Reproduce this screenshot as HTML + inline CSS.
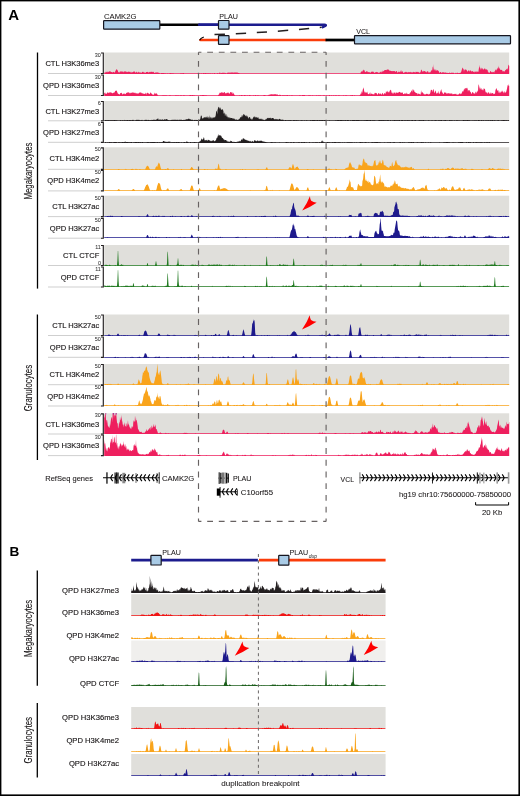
<!DOCTYPE html><html><head><meta charset="utf-8"><style>html,body{margin:0;padding:0;background:#fff;}svg{display:block;will-change:transform;}</style></head><body>
<svg width="520" height="796" viewBox="0 0 520 796">
<rect x="0" y="0" width="520" height="796" fill="#fff"/>
<text x="8.3" y="20.3" font-family="'Liberation Sans', sans-serif" font-size="15" font-weight="bold" fill="#000">A</text>
<text x="9.4" y="555.9" font-family="'Liberation Sans', sans-serif" font-size="13.6" font-weight="bold" fill="#000">B</text>
<text x="104.00" y="18.60" font-family="'Liberation Sans', sans-serif" font-size="7.00" text-anchor="start" fill="#1a1718" textLength="32.5" lengthAdjust="spacingAndGlyphs"  stroke="#1a1718" stroke-width="0.04">CAMK2G</text>
<text x="219.30" y="19.20" font-family="'Liberation Sans', sans-serif" font-size="7.00" text-anchor="start" fill="#1a1718" textLength="18.7" lengthAdjust="spacingAndGlyphs"  stroke="#1a1718" stroke-width="0.04">PLAU</text>
<text x="356.20" y="34.30" font-family="'Liberation Sans', sans-serif" font-size="7.00" text-anchor="start" fill="#1a1718" textLength="13.8" lengthAdjust="spacingAndGlyphs"  stroke="#1a1718" stroke-width="0.04">VCL</text>
<line x1="160" y1="24.7" x2="199.5" y2="24.7" stroke="#000" stroke-width="2.6"/>
<path d="M199,24.7 L324.5,24.7 Q326.5,24.7 325.5,25.8 L322.6,27.3" fill="none" stroke="#1c1c8e" stroke-width="2.4" stroke-linecap="round"/>
<line x1="199" y1="24.7" x2="218" y2="24.7" stroke="#1c1c8e" stroke-width="2.6"/>
<line x1="200.5" y1="40" x2="326" y2="40" stroke="#fa3c0a" stroke-width="2.7" stroke-linecap="round"/>
<line x1="325.5" y1="40" x2="354.5" y2="40" stroke="#000" stroke-width="2.7"/>
<path d="M199.6,40.3 Q200.5,38 203.8,36.9" fill="none" stroke="#000" stroke-width="1.1"/>
<path d="M214.5,34.6 Q270,32.6 321.5,27.3" fill="none" stroke="#231f20" stroke-width="1.5" stroke-dasharray="10.3 10.8"/>
<rect x="103.60" y="20.60" width="56.20" height="8.60" rx="0.6" fill="#a9cbe6" stroke="#15151f" stroke-width="1.2"/>
<rect x="218.50" y="20.50" width="10.50" height="8.60" rx="0.6" fill="#a9cbe6" stroke="#15151f" stroke-width="1.2"/>
<rect x="218.50" y="35.70" width="10.50" height="8.60" rx="0.6" fill="#a9cbe6" stroke="#15151f" stroke-width="1.2"/>
<rect x="354.50" y="35.70" width="156.00" height="8.15" rx="0.6" fill="#a9cbe6" stroke="#15151f" stroke-width="1.2"/>
<rect x="104.2" y="52.5" width="405.0" height="21.0" fill="#e0dfdb"/>
<path d="M104.2,74.0L104.2,72.17L104.7,72.79L105.2,72.91L105.7,71.48L106.2,72.47L106.7,71.48L107.2,72.39L107.7,71.49L108.2,71.55L108.7,72.16L109.2,71.49L109.7,71.22L110.2,71.20L110.7,71.75L111.2,72.05L111.7,71.96L112.2,72.58L112.7,72.36L113.2,71.99L113.7,71.64L114.2,72.68L114.7,72.30L115.2,71.52L115.7,70.53L116.2,69.25L116.7,69.46L117.2,69.69L117.7,70.55L118.2,72.01L118.7,72.33L119.2,72.82L119.7,71.83L120.2,71.54L120.7,71.54L121.2,71.54L121.7,71.55L122.2,71.55L122.7,71.55L123.2,72.39L123.7,71.55L124.2,71.66L124.7,71.21L125.2,71.13L125.7,71.49L126.2,72.30L126.7,71.57L127.2,71.78L127.7,72.34L128.2,71.61L128.7,71.85L129.2,72.10L129.7,71.58L130.2,72.79L130.7,71.58L131.2,72.88L131.7,71.64L132.2,71.88L132.7,72.39L133.2,71.59L133.7,71.73L134.2,71.60L134.7,71.60L135.2,72.20L135.7,72.76L136.2,72.18L136.7,71.61L137.2,72.60L137.7,72.76L138.2,71.62L138.7,72.17L139.2,72.65L139.7,71.96L140.2,72.76L140.7,72.22L141.2,72.91L141.7,72.52L142.2,71.88L142.7,71.66L143.2,71.76L143.7,72.60L144.2,72.32L144.7,72.76L145.2,73.06L145.7,72.56L146.2,72.11L146.7,71.90L147.2,71.95L147.7,71.66L148.2,72.47L148.7,72.59L149.2,71.86L149.7,72.15L150.2,72.32L150.7,71.87L151.2,71.67L151.7,71.74L152.2,72.17L152.7,71.68L153.2,71.68L153.7,72.03L154.2,72.88L154.7,73.03L155.2,71.69L155.7,73.14L156.2,72.23L156.7,72.55L157.2,72.76L157.7,71.78L158.0,73.05L158.2,72.86L158.7,72.43L159.2,73.24L159.7,72.87L160.0,73.24L160.2,73.25L160.7,73.25L161.2,73.08L161.7,73.08L162.2,73.08L162.7,73.08L163.2,73.08L163.7,73.08L164.2,73.08L164.7,73.25L165.2,73.08L165.7,73.25L166.2,73.25L166.7,73.15L167.2,73.08L167.7,73.25L168.2,73.25L168.7,73.25L169.2,73.08L169.7,73.16L170.2,73.09L170.7,73.08L171.2,73.25L171.7,73.08L172.2,73.08L172.7,73.25L173.2,73.08L173.7,73.25L174.2,73.25L174.7,73.25L175.2,73.25L175.7,73.21L176.2,73.25L176.7,73.25L177.2,73.25L177.7,73.25L178.2,73.18L178.7,73.25L179.2,73.25L179.7,73.25L180.2,73.15L180.7,73.08L181.2,73.13L181.7,73.11L182.2,73.25L182.7,73.08L183.2,73.08L183.7,73.10L184.2,73.25L184.7,73.25L185.2,73.25L185.7,73.21L186.2,73.23L186.7,73.25L187.2,73.25L187.7,73.25L188.2,73.25L188.7,73.24L189.2,73.25L189.7,73.25L190.2,73.21L190.7,73.25L191.2,73.20L191.7,73.25L192.2,73.25L192.7,73.24L193.2,73.25L193.7,73.25L194.2,73.25L194.7,73.25L195.2,73.25L195.7,73.25L196.2,73.15L196.7,73.25L197.2,73.08L197.7,73.25L198.2,73.25L198.7,73.25L199.2,73.25L199.7,73.11L200.2,73.18L200.7,73.25L201.2,73.08L201.7,73.24L202.2,73.25L202.7,73.25L203.2,73.08L203.7,73.08L204.2,73.25L204.7,73.08L205.2,73.08L205.7,73.08L206.2,73.08L206.7,73.25L207.2,73.09L207.7,73.15L208.2,73.10L208.7,73.25L209.2,73.08L209.7,73.22L210.2,73.25L210.7,73.08L211.2,73.15L211.7,73.20L212.2,73.08L212.7,73.25L213.2,73.15L213.7,73.25L214.2,73.08L214.7,73.08L215.2,73.25L215.7,73.25L216.2,73.25L216.7,73.25L217.2,73.08L217.7,73.08L218.0,73.22L218.2,73.25L218.7,73.25L219.2,72.67L219.7,72.49L220.0,73.08L220.2,72.39L220.7,73.25L221.2,73.04L221.7,73.01L222.2,72.42L222.7,72.93L223.2,72.91L223.7,72.60L224.2,73.25L224.7,72.52L225.2,73.25L225.7,72.83L226.2,73.15L226.7,73.23L227.2,72.75L227.7,72.76L228.2,72.74L228.7,72.59L229.2,72.39L229.7,72.84L230.2,72.68L230.7,72.39L231.2,72.39L231.7,72.39L232.2,72.39L232.7,72.39L233.2,72.39L233.7,72.63L234.2,72.39L234.7,72.39L235.2,72.39L235.7,72.56L236.2,72.59L236.7,72.39L237.2,72.79L237.7,72.39L238.0,72.39L238.2,73.02L238.7,73.04L239.2,72.94L239.7,73.25L240.0,73.25L240.2,73.25L240.7,73.25L241.2,73.25L241.7,73.25L242.2,73.25L242.7,73.25L243.2,73.25L243.7,73.25L244.2,73.25L244.7,73.25L245.2,73.25L245.7,73.25L246.2,73.25L246.7,73.25L247.2,73.25L247.7,73.25L248.2,73.25L248.7,73.25L249.2,73.25L249.7,73.25L250.2,73.25L250.7,73.25L251.2,73.25L251.7,73.25L252.2,73.25L252.7,73.25L253.2,73.25L253.7,73.25L254.2,73.25L254.7,73.25L255.2,73.25L255.7,73.25L256.2,73.25L256.7,73.25L257.2,73.25L257.7,73.25L258.2,73.25L258.7,73.25L259.2,73.25L259.7,73.25L260.2,73.25L260.7,73.25L261.2,73.25L261.7,73.25L262.2,73.25L262.7,73.25L263.2,73.25L263.7,73.25L264.2,73.25L264.7,73.25L265.2,73.25L265.7,73.25L266.2,73.25L266.7,73.25L267.2,73.25L267.7,73.25L268.2,73.25L268.7,73.25L269.2,73.25L269.7,73.25L270.2,73.25L270.7,73.25L271.2,73.25L271.7,73.25L272.2,73.25L272.7,73.25L273.2,73.25L273.7,73.25L274.2,73.25L274.7,73.25L275.2,73.25L275.7,73.25L276.2,73.25L276.7,73.25L277.2,73.25L277.7,73.25L278.2,73.25L278.7,73.25L279.2,73.25L279.7,73.25L280.2,73.25L280.7,73.25L281.2,73.25L281.7,73.25L282.2,73.25L282.7,73.25L283.2,73.25L283.7,73.25L284.2,73.25L284.7,73.25L285.2,73.25L285.7,73.25L286.2,73.25L286.7,73.25L287.2,73.25L287.7,73.25L288.2,73.25L288.7,73.25L289.2,73.25L289.7,73.25L290.2,73.25L290.7,73.25L291.2,73.25L291.7,73.25L292.2,73.25L292.7,73.25L293.2,73.25L293.7,73.25L294.2,73.25L294.7,73.25L295.2,73.25L295.7,73.25L296.2,73.25L296.7,73.25L297.2,73.25L297.7,73.25L298.2,73.25L298.7,73.25L299.2,73.25L299.7,73.25L300.2,73.25L300.7,73.25L301.2,73.25L301.7,73.25L302.2,73.25L302.7,73.25L303.2,73.25L303.7,73.25L304.2,73.25L304.7,73.25L305.2,73.25L305.7,73.25L306.2,73.25L306.7,73.25L307.2,73.25L307.7,73.25L308.2,73.25L308.7,73.25L309.2,73.25L309.7,73.25L310.2,73.25L310.7,73.25L311.2,73.25L311.7,73.25L312.2,73.25L312.7,73.25L313.2,73.25L313.7,73.25L314.2,73.25L314.7,73.25L315.2,73.25L315.7,73.25L316.2,73.25L316.7,73.25L317.2,73.25L317.7,73.25L318.2,73.25L318.7,73.25L319.2,73.25L319.7,73.25L320.2,73.25L320.7,73.25L321.2,73.25L321.7,73.25L322.2,73.25L322.7,73.25L323.2,73.25L323.7,73.25L324.2,73.25L324.7,73.25L325.2,73.25L325.7,73.25L326.2,73.25L326.7,73.25L327.2,73.25L327.7,73.25L328.2,73.25L328.7,73.25L329.2,73.25L329.7,73.25L330.2,73.25L330.7,73.25L331.2,73.25L331.7,73.25L332.2,73.25L332.7,73.25L333.2,73.25L333.7,73.25L334.2,73.25L334.7,73.25L335.2,73.25L335.7,73.25L336.2,73.25L336.7,73.25L337.2,73.25L337.7,73.25L338.2,73.25L338.7,73.25L339.2,73.25L339.7,73.25L340.2,73.25L340.7,73.25L341.2,73.25L341.7,73.25L342.2,73.25L342.7,73.25L343.2,73.25L343.7,73.25L344.2,73.25L344.7,73.25L345.2,73.25L345.7,73.25L346.2,73.25L346.7,73.25L347.2,73.25L347.7,73.25L348.2,73.25L348.7,73.25L349.2,73.25L349.7,73.25L350.2,73.25L350.7,73.25L351.2,73.25L351.7,73.25L352.2,73.25L352.7,73.25L353.2,73.25L353.7,73.25L354.2,73.25L354.7,73.25L355.2,73.25L355.7,73.25L356.2,73.25L356.7,73.25L357.2,73.25L357.7,73.25L358.0,73.25L358.2,73.25L358.7,73.25L359.2,73.25L359.7,73.25L360.2,73.25L360.5,73.25L360.7,72.21L361.0,71.74L361.2,72.11L361.7,71.37L362.2,70.15L362.5,71.26L362.7,72.05L363.2,70.20L363.5,70.36L363.7,69.40L364.2,70.00L364.5,70.55L364.7,71.76L365.0,71.13L365.2,72.19L365.7,72.06L366.2,71.76L366.7,71.12L367.2,71.12L367.7,72.23L368.2,72.07L368.7,72.16L369.2,72.27L369.7,72.32L370.2,72.44L370.7,72.73L371.2,71.99L371.7,71.47L372.2,71.90L372.7,71.22L373.0,71.75L373.2,72.61L373.7,71.61L374.0,71.70L374.2,72.65L374.7,73.12L375.2,72.32L375.7,72.31L376.2,72.31L376.7,71.74L377.2,72.27L377.7,72.02L378.2,73.14L378.7,72.39L379.2,72.01L379.7,73.09L380.0,73.09L380.2,72.00L380.7,71.55L381.2,72.79L381.7,71.28L382.2,72.22L382.7,70.67L383.0,70.55L383.2,71.37L383.7,71.20L384.2,70.27L384.7,70.16L385.2,70.04L385.7,70.04L386.2,70.25L386.7,69.70L387.2,69.58L387.7,69.47L388.0,69.40L388.2,69.51L388.7,69.80L389.2,70.09L389.7,71.24L390.0,70.55L390.2,70.87L390.7,70.75L391.2,71.16L391.7,71.04L392.0,71.12L392.2,71.12L392.7,71.17L393.2,71.30L393.7,71.12L394.2,71.12L394.7,71.15L395.2,71.31L395.7,72.22L396.2,71.12L396.7,71.12L397.2,72.05L397.7,72.63L398.0,72.63L398.2,72.12L398.7,72.05L399.0,70.00L399.2,72.47L399.7,71.74L400.2,72.24L400.7,70.66L401.2,70.21L401.7,71.95L402.0,72.24L402.2,71.20L402.7,71.44L403.0,71.70L403.2,72.91L403.7,72.71L404.2,72.48L404.7,72.33L405.2,72.22L405.7,71.70L406.2,71.70L406.7,72.35L407.2,72.47L407.7,72.30L408.2,72.57L408.7,71.70L409.2,72.39L409.7,72.02L410.2,71.70L410.7,72.35L411.2,72.79L411.7,71.93L412.2,72.03L412.7,72.68L413.2,72.16L413.7,71.70L414.2,71.92L414.7,72.35L415.2,72.64L415.7,71.70L416.2,71.70L416.7,71.94L417.2,71.78L417.7,71.97L418.2,72.58L418.7,71.70L419.2,72.26L419.7,72.88L420.0,73.22L420.2,72.23L420.7,71.74L421.0,70.03L421.2,69.94L421.7,69.51L422.0,71.05L422.2,71.33L422.7,71.54L423.0,72.15L423.2,70.62L423.7,71.41L424.2,71.02L424.7,70.88L425.2,71.90L425.7,71.12L426.0,72.17L426.2,71.15L426.7,72.67L427.2,71.30L427.7,71.37L428.2,71.44L428.7,72.85L429.2,72.60L429.7,71.96L430.0,73.02L430.2,72.23L430.7,71.87L431.2,70.32L431.7,70.74L432.0,69.61L432.2,70.79L432.7,66.42L433.1,67.23L433.2,63.96L433.7,70.72L434.0,67.83L434.2,70.73L434.7,69.30L435.2,69.48L435.7,71.17L436.0,68.34L436.2,70.47L436.7,70.28L437.0,71.24L437.2,70.35L437.7,70.28L438.0,69.82L438.2,71.22L438.7,70.77L439.2,72.66L439.7,72.49L440.0,72.67L440.2,71.98L440.7,72.07L441.2,72.24L441.7,73.19L442.2,72.55L442.7,71.92L443.2,72.68L443.7,72.04L444.2,72.31L444.7,73.14L445.0,71.93L445.2,71.95L445.7,72.93L446.2,72.42L446.7,72.95L447.2,72.91L447.7,72.69L448.2,72.98L448.7,72.92L449.2,72.83L449.7,72.46L450.2,73.00L450.7,73.07L451.2,72.54L451.7,73.02L452.0,72.62L452.2,72.80L452.7,72.65L453.2,73.11L453.7,72.62L454.2,73.25L454.7,73.25L455.2,73.25L455.7,72.77L456.2,72.72L456.7,73.25L457.2,73.03L457.7,72.62L458.0,72.77L458.2,73.25L458.7,73.06L459.2,73.07L459.7,73.03L460.2,72.47L460.7,72.95L461.0,72.28L461.2,71.66L461.7,70.11L462.2,68.56L462.3,68.25L462.7,67.46L463.0,67.91L463.2,68.80L463.7,69.61L464.0,71.94L464.2,70.49L464.7,69.62L465.2,69.52L465.7,69.56L466.2,69.78L466.7,69.97L467.2,72.12L467.7,70.99L468.2,70.95L468.7,69.85L469.2,71.71L469.7,70.63L470.0,70.08L470.2,70.20L470.7,70.78L471.0,71.12L471.2,72.04L471.7,71.12L472.2,71.12L472.7,71.16L473.2,71.84L473.7,71.64L474.2,72.60L474.7,71.55L475.0,71.16L475.2,72.09L475.7,71.61L476.2,71.26L476.7,72.51L477.0,70.84L477.2,71.32L477.7,72.01L478.2,72.06L478.5,71.31L478.7,69.56L479.2,66.81L479.5,67.98L479.7,64.71L480.2,68.44L480.5,68.23L480.7,70.19L481.2,67.37L481.7,69.79L482.0,67.67L482.2,68.02L482.7,68.88L483.0,69.40L483.2,70.12L483.7,69.00L484.2,68.71L484.7,68.42L485.0,68.25L485.2,70.32L485.7,68.45L486.2,69.83L486.7,68.74L487.0,70.56L487.2,69.50L487.7,70.19L488.0,72.25L488.2,71.40L488.7,72.68L489.2,72.88L489.7,72.60L490.2,71.01L490.7,71.16L491.2,71.76L491.7,72.47L492.0,71.81L492.2,71.74L492.7,72.48L493.2,72.09L493.7,71.70L494.0,73.09L494.2,72.49L494.7,70.85L495.0,71.46L495.2,70.37L495.7,69.25L496.2,70.76L496.7,68.91L497.0,70.03L497.2,68.44L497.7,68.38L498.2,66.50L498.7,69.10L498.9,65.14L499.2,68.56L499.7,68.24L500.0,69.40L500.2,69.46L500.7,70.06L501.2,69.75L501.7,69.89L502.0,69.97L502.2,70.29L502.7,71.73L503.0,71.12L503.2,71.46L503.7,71.02L504.2,71.71L504.7,71.32L505.0,70.72L505.2,70.37L505.7,69.91L506.2,69.45L506.7,68.99L507.2,68.53L507.5,68.74L507.7,70.00L508.2,65.67L508.5,64.57L508.7,64.96L509.2,65.95L509.2,74.0 Z" fill="#ee1f5e"/>
<line x1="48" y1="73.50" x2="101.5" y2="73.50" stroke="#c9c9c9" stroke-width="0.9"/>
<path d="M101,53.00 H103.3 V73.50 H101" fill="none" stroke="#231f20" stroke-width="1.15"/>
<text x="100.80" y="56.50" font-family="'Liberation Sans', sans-serif" font-size="5.40" text-anchor="end" fill="#333"  stroke="#333" stroke-width="0.05">30</text>
<text x="99.30" y="66.00" font-family="'Liberation Sans', sans-serif" font-size="7.90" text-anchor="end" fill="#1a1718" textLength="53.9" lengthAdjust="spacingAndGlyphs"  stroke="#1a1718" stroke-width="0.14">CTL H3K36me3</text>
<path d="M104.2,96.0L104.2,93.20L104.7,92.63L105.2,92.55L105.7,93.91L106.2,93.65L106.7,93.70L107.2,92.55L107.7,92.55L108.2,92.55L108.7,93.28L109.2,92.55L109.7,92.39L110.2,92.31L110.7,92.47L111.2,92.55L111.7,92.72L112.2,93.49L112.7,93.09L113.2,92.86L113.7,92.83L114.2,92.76L114.7,92.10L115.2,90.98L115.7,90.87L116.2,90.62L116.7,90.72L117.2,91.97L117.7,93.24L118.2,94.19L118.7,93.54L119.2,94.73L119.7,94.19L120.2,93.23L120.7,92.99L121.2,93.13L121.7,92.55L122.2,93.81L122.7,94.68L123.2,93.56L123.7,93.69L124.2,94.36L124.7,93.21L125.2,94.01L125.7,94.13L126.2,92.55L126.7,93.23L127.2,92.51L127.7,92.39L128.2,92.29L128.7,92.42L129.2,92.55L129.7,93.42L130.2,92.55L130.7,93.55L131.2,92.55L131.7,93.06L132.2,92.55L132.7,92.55L133.2,92.55L133.7,92.68L134.2,92.55L134.7,93.37L135.2,92.55L135.7,93.51L136.2,92.98L136.7,93.41L137.2,94.10L137.7,92.89L138.2,93.79L138.7,93.29L139.2,92.77L139.7,92.55L140.2,92.55L140.7,92.55L141.2,92.60L141.7,93.17L142.2,93.61L142.7,93.21L143.2,93.28L143.7,94.07L144.2,94.07L144.7,94.05L145.2,92.55L145.7,93.65L146.2,94.81L146.7,93.02L147.2,92.83L147.7,92.86L148.2,93.89L148.7,92.87L149.2,93.90L149.7,94.29L150.2,92.55L150.7,92.61L151.2,94.25L151.7,92.70L152.2,94.78L152.7,94.18L153.2,94.88L153.7,94.39L154.2,94.25L154.7,92.55L155.2,93.54L155.7,93.71L156.0,93.64L156.2,93.34L156.7,93.44L157.2,94.07L157.7,95.25L158.0,95.08L158.2,95.16L158.7,95.25L159.2,95.25L159.7,95.25L160.2,95.25L160.7,95.25L161.2,95.25L161.7,95.25L162.2,95.12L162.7,95.25L163.2,95.19L163.7,95.08L164.2,95.08L164.7,95.25L165.2,95.08L165.7,95.25L166.2,95.10L166.7,95.25L167.2,95.20L167.7,95.25L168.2,95.25L168.7,95.25L169.2,95.19L169.7,95.08L170.2,95.08L170.7,95.25L171.2,95.25L171.7,95.25L172.2,95.25L172.7,95.25L173.2,95.25L173.7,95.25L174.2,95.25L174.7,95.21L175.2,95.25L175.7,95.08L176.2,95.08L176.7,95.14L177.2,95.08L177.7,95.25L178.2,95.25L178.7,95.08L179.2,95.21L179.7,95.25L180.2,95.08L180.7,95.15L181.2,95.08L181.7,95.25L182.2,95.25L182.7,95.25L183.2,95.21L183.7,95.08L184.2,95.12L184.7,95.25L185.2,95.23L185.7,95.25L186.2,95.25L186.7,95.23L187.2,95.25L187.7,95.25L188.2,95.25L188.7,95.25L189.2,95.25L189.7,95.08L190.2,95.08L190.7,95.08L191.2,95.21L191.7,95.11L192.2,95.08L192.7,95.08L193.2,95.11L193.7,95.25L194.2,95.08L194.7,95.18L195.2,95.25L195.7,95.25L196.2,95.25L196.7,95.25L197.2,95.25L197.7,95.25L198.2,95.15L198.7,95.25L199.2,95.25L199.7,95.25L200.2,95.25L200.7,95.08L201.2,95.08L201.7,95.25L202.2,95.08L202.7,95.08L203.2,95.08L203.7,95.08L204.2,95.15L204.7,95.11L205.2,95.08L205.7,95.14L206.2,95.08L206.7,95.14L207.2,95.25L207.7,95.25L208.2,95.25L208.7,95.25L209.2,95.25L209.7,95.25L210.2,95.13L210.7,95.25L211.2,95.25L211.7,95.23L212.2,95.25L212.7,95.25L213.2,95.21L213.7,95.25L214.2,95.24L214.7,95.25L215.2,95.25L215.7,95.23L216.2,95.15L216.7,95.25L217.2,95.25L217.7,95.25L218.0,95.25L218.2,94.80L218.7,94.82L219.2,94.36L219.5,92.79L219.7,92.77L220.2,92.79L220.7,93.01L221.2,91.97L221.7,92.87L222.2,91.97L222.7,92.89L223.2,92.53L223.7,93.04L224.2,92.00L224.7,92.07L225.2,93.79L225.7,93.08L226.2,92.70L226.7,93.45L227.2,92.84L227.7,92.76L228.2,92.26L228.7,93.21L229.2,93.23L229.7,94.10L230.2,91.97L230.7,91.97L231.2,92.98L231.7,91.97L232.2,91.97L232.7,94.19L233.2,92.56L233.7,93.82L234.0,94.06L234.2,94.46L234.7,94.98L235.0,95.25L235.2,95.25L235.7,95.25L236.2,95.25L236.7,95.25L237.2,95.25L237.7,95.15L238.2,95.25L238.7,95.25L239.2,95.13L239.7,95.08L240.2,95.25L240.7,95.25L241.2,95.08L241.7,95.08L242.2,95.08L242.7,95.18L243.2,95.25L243.7,95.25L244.2,95.08L244.7,95.12L245.2,95.25L245.7,95.10L246.2,95.25L246.7,95.25L247.2,95.08L247.7,95.25L248.2,95.20L248.7,95.25L249.2,95.08L249.7,95.08L250.2,95.11L250.7,95.25L251.2,95.25L251.7,95.21L252.2,95.25L252.7,95.25L253.2,95.25L253.7,95.08L254.2,95.24L254.7,95.22L255.2,95.08L255.7,95.08L256.2,95.25L256.7,95.25L257.2,95.08L257.7,95.25L258.2,95.08L258.7,95.25L259.2,95.17L259.7,95.25L260.2,95.25L260.7,95.14L261.2,95.25L261.7,95.25L262.2,95.24L262.7,95.21L263.2,95.25L263.7,95.08L264.2,95.08L264.7,95.08L265.2,95.08L265.7,95.21L266.2,95.25L266.7,95.25L267.2,95.25L267.7,95.25L268.0,95.08L268.2,95.25L268.7,94.80L269.2,94.99L269.7,94.40L270.0,94.28L270.2,94.67L270.7,94.28L271.2,94.28L271.7,94.28L272.2,94.57L272.7,94.28L273.2,94.28L273.7,94.58L274.2,94.28L274.7,94.28L275.2,94.28L275.7,94.28L276.2,94.28L276.7,94.83L277.2,94.28L277.7,94.69L278.2,95.09L278.7,95.25L279.2,94.59L279.7,94.92L280.0,95.25L280.2,94.81L280.7,95.03L281.2,95.25L281.7,95.19L282.0,95.25L282.2,95.25L282.7,95.08L283.2,95.08L283.7,95.25L284.2,95.08L284.7,95.25L285.2,95.08L285.7,95.25L286.2,95.25L286.7,95.08L287.2,95.08L287.7,95.08L288.2,95.25L288.7,95.25L289.2,95.08L289.7,95.25L290.2,95.25L290.7,95.25L291.2,95.08L291.7,95.19L292.2,95.08L292.7,95.23L293.2,95.25L293.7,95.20L294.2,95.25L294.7,95.25L295.2,95.14L295.7,95.17L296.2,95.25L296.7,95.25L297.2,95.25L297.7,95.25L298.2,95.25L298.7,95.25L299.2,95.25L299.7,95.08L300.2,95.08L300.7,95.25L301.2,95.18L301.7,95.25L302.2,95.08L302.7,95.12L303.2,95.08L303.7,95.08L304.2,95.08L304.7,95.12L305.2,95.25L305.7,95.16L306.2,95.16L306.7,95.25L307.2,95.25L307.7,95.17L308.2,95.25L308.7,95.08L309.2,95.25L309.7,95.08L310.2,95.08L310.7,95.24L311.2,95.25L311.7,95.25L312.2,95.25L312.7,95.08L313.2,95.16L313.7,95.25L314.2,95.25L314.7,95.25L315.2,95.25L315.7,95.25L316.2,95.25L316.7,95.10L317.2,95.25L317.7,95.25L318.2,95.08L318.7,95.13L319.2,95.08L319.7,95.25L320.2,95.25L320.7,95.08L321.2,95.21L321.7,95.14L322.2,95.23L322.7,95.25L323.2,95.08L323.7,95.25L324.2,95.08L324.7,95.25L325.2,95.25L325.7,95.25L326.2,95.25L326.7,95.09L327.2,95.25L327.7,95.25L328.2,95.25L328.7,95.25L329.2,95.08L329.7,95.10L330.2,95.22L330.7,95.25L331.2,95.25L331.7,95.08L332.2,95.25L332.7,95.25L333.2,95.25L333.7,95.08L334.2,95.25L334.7,95.25L335.2,95.08L335.7,95.25L336.2,95.08L336.7,95.25L337.2,95.25L337.7,95.25L338.2,95.17L338.7,95.08L339.2,95.08L339.7,95.16L340.2,95.25L340.7,95.25L341.2,95.25L341.7,95.21L342.2,95.21L342.7,95.25L343.2,95.25L343.7,95.08L344.2,95.25L344.7,95.25L345.2,95.25L345.7,95.08L346.2,95.25L346.7,95.12L347.2,95.25L347.7,95.23L348.2,95.25L348.7,95.25L349.2,95.25L349.7,95.14L350.2,95.25L350.7,95.08L351.2,95.25L351.7,95.08L352.2,95.08L352.7,95.08L353.2,95.25L353.7,95.25L354.2,95.13L354.7,95.08L355.2,95.25L355.7,95.25L356.2,95.25L356.7,95.25L357.2,95.25L357.7,95.25L358.0,95.25L358.2,95.15L358.7,95.25L359.2,95.16L359.7,95.11L360.0,95.25L360.2,94.82L360.7,93.84L361.0,93.12L361.2,94.37L361.7,91.03L362.2,93.09L362.5,91.33L362.7,89.84L363.2,88.77L363.7,87.21L364.2,91.65L364.5,92.38L364.7,90.81L365.0,93.95L365.2,91.42L365.7,92.85L366.2,92.48L366.7,92.73L367.2,91.58L367.7,93.60L368.2,93.88L368.7,94.24L369.2,94.18L369.7,93.00L370.2,92.34L370.7,94.71L371.2,93.46L371.7,93.66L372.0,93.74L372.2,93.71L372.7,94.46L373.0,93.77L373.2,94.12L373.7,94.58L374.2,94.43L374.7,92.78L375.2,93.13L375.7,92.78L376.2,93.07L376.7,93.32L377.2,94.47L377.7,94.71L378.2,92.83L378.7,93.45L379.2,93.35L379.7,94.59L380.2,93.15L380.7,93.70L381.2,94.67L381.7,94.35L382.2,92.78L382.7,93.28L383.2,94.54L383.7,94.53L384.2,92.78L384.7,93.68L385.0,93.24L385.2,93.94L385.7,93.07L386.0,90.99L386.2,91.21L386.7,92.20L387.2,92.15L387.7,90.43L388.2,92.21L388.7,92.61L389.2,90.28L389.7,92.86L390.2,89.84L390.4,89.79L390.7,90.09L391.2,90.59L391.7,93.23L392.0,92.28L392.2,92.42L392.7,93.95L393.0,92.55L393.2,94.15L393.7,92.55L394.2,92.55L394.7,92.55L395.2,93.95L395.7,92.55L396.2,92.55L396.7,92.55L397.0,93.01L397.2,92.72L397.7,93.06L398.0,91.88L398.2,92.74L398.7,92.18L398.8,92.58L399.2,91.78L399.7,92.06L400.0,91.97L400.2,92.03L400.7,92.92L401.2,92.32L401.7,93.13L402.0,92.55L402.2,92.55L402.7,92.55L403.2,94.13L403.7,94.01L404.2,94.02L404.7,92.96L405.2,94.30L405.7,93.36L406.2,92.62L406.7,93.78L407.2,94.30L407.7,93.47L408.2,93.94L408.7,93.92L409.2,94.38L409.7,92.98L410.0,93.76L410.2,92.32L410.7,92.46L411.2,91.17L411.7,90.60L412.0,90.25L412.2,92.85L412.7,88.77L413.2,90.94L413.7,89.14L414.2,90.55L414.5,92.32L414.7,91.63L415.2,92.20L415.7,92.78L416.0,93.12L416.2,93.19L416.7,93.12L417.2,93.12L417.7,94.84L418.2,93.62L418.7,93.74L419.2,93.73L419.7,94.24L420.0,94.20L420.2,94.65L420.7,93.88L421.0,90.94L421.2,93.86L421.7,90.01L422.0,93.16L422.2,92.20L422.7,91.95L423.2,94.41L423.5,93.54L423.7,92.70L424.2,93.90L424.7,94.53L425.0,94.86L425.2,93.70L425.7,94.68L426.2,93.70L426.7,93.70L427.2,94.36L427.7,93.87L428.2,93.71L428.7,94.70L429.0,94.67L429.2,93.47L429.7,94.41L430.0,93.55L430.2,93.18L430.7,90.71L431.0,89.43L431.2,89.67L431.7,89.90L432.2,89.94L432.7,92.33L433.2,88.92L433.4,89.74L433.7,88.99L434.0,92.08L434.2,93.24L434.7,92.16L435.2,90.34L435.7,91.85L436.0,91.20L436.2,93.78L436.7,93.33L437.0,93.25L437.2,92.46L437.7,93.77L438.2,90.79L438.7,93.00L439.2,94.19L439.7,93.32L440.0,92.36L440.2,91.71L440.7,89.80L441.0,92.91L441.2,88.72L441.7,90.53L442.0,92.54L442.2,92.06L442.7,93.19L443.2,93.72L443.7,94.21L444.2,92.24L444.7,92.44L445.0,92.78L445.2,92.59L445.7,92.68L446.2,92.77L446.7,93.91L447.2,92.95L447.7,93.70L448.2,93.14L448.7,93.23L449.2,93.32L449.7,93.41L450.0,94.01L450.2,93.48L450.7,93.50L451.2,93.53L451.7,93.55L452.2,93.57L452.7,94.60L453.2,93.92L453.7,94.34L454.2,93.66L454.7,94.37L455.0,93.70L455.2,93.66L455.7,94.22L456.0,93.47L456.2,93.69L456.7,94.85L457.2,94.59L457.7,94.94L458.0,93.73L458.2,94.44L458.7,94.53L459.2,93.64L459.7,92.96L460.2,94.62L460.7,93.31L461.2,94.27L461.7,92.69L462.0,92.65L462.2,91.86L462.7,90.68L463.0,92.29L463.2,89.04L463.7,92.00L464.2,88.76L464.7,88.61L465.0,90.20L465.2,88.45L465.7,88.04L466.2,87.70L466.7,88.70L467.0,87.66L467.2,87.77L467.7,89.32L468.0,91.98L468.2,90.25L468.7,90.25L469.2,90.25L469.7,90.25L470.0,91.74L470.2,91.90L470.7,91.46L471.0,93.16L471.2,93.67L471.7,93.64L472.2,91.97L472.7,91.97L473.2,93.75L473.7,92.17L474.2,93.95L474.7,92.85L475.0,94.61L475.2,92.88L475.7,91.51L476.0,91.95L476.2,91.39L476.7,93.39L477.2,91.82L477.7,90.25L478.0,91.99L478.2,87.58L478.5,84.78L478.7,84.34L479.2,86.24L479.5,90.28L479.7,87.41L480.2,87.49L480.7,89.64L481.2,87.77L481.7,89.92L482.2,88.95L482.7,90.56L483.0,89.63L483.2,90.65L483.7,88.15L484.2,88.67L484.7,88.68L485.0,89.30L485.2,90.13L485.7,92.70L486.0,91.40L486.2,92.26L486.7,92.83L487.2,92.40L487.7,93.88L488.2,92.35L488.7,92.16L489.2,93.56L489.7,94.00L490.0,91.97L490.2,92.47L490.7,93.42L491.0,94.15L491.2,92.61L491.7,93.67L492.2,92.89L492.7,93.04L493.0,93.50L493.2,93.18L493.7,94.26L494.2,93.97L494.7,93.61L495.0,93.70L495.2,92.17L495.6,89.10L495.7,89.81L496.2,89.08L496.7,87.72L497.0,90.06L497.2,90.89L497.7,90.31L498.2,89.88L498.7,92.40L499.2,93.27L499.7,91.58L500.0,91.34L500.2,91.73L500.7,93.33L501.2,90.49L501.7,92.23L502.2,91.77L502.7,90.36L503.2,93.42L503.7,91.69L504.0,91.86L504.2,90.86L504.7,92.69L505.2,92.60L505.7,92.66L506.0,91.40L506.2,91.89L506.7,89.79L507.0,89.10L507.2,87.52L507.7,85.20L508.2,84.27L508.7,85.91L509.2,85.65L509.2,96.0 Z" fill="#ee1f5e"/>
<line x1="48" y1="95.50" x2="101.5" y2="95.50" stroke="#c9c9c9" stroke-width="0.9"/>
<path d="M101,75.00 H103.3 V95.50 H101" fill="none" stroke="#231f20" stroke-width="1.15"/>
<text x="100.80" y="78.50" font-family="'Liberation Sans', sans-serif" font-size="5.40" text-anchor="end" fill="#333"  stroke="#333" stroke-width="0.05">30</text>
<text x="99.30" y="88.00" font-family="'Liberation Sans', sans-serif" font-size="7.90" text-anchor="end" fill="#1a1718" textLength="56.2" lengthAdjust="spacingAndGlyphs"  stroke="#1a1718" stroke-width="0.14">QPD H3K36me3</text>
<rect x="104.2" y="101.0" width="405.0" height="19.8" fill="#e0dfdb"/>
<path d="M104.2,121.0L104.2,120.06L104.6,120.25L105.0,120.25L105.4,120.09L105.8,119.92L106.2,119.92L106.6,120.20L107.0,119.92L107.4,119.92L107.8,120.15L108.2,119.92L108.6,120.06L109.0,120.16L109.4,120.12L109.8,120.19L110.2,120.07L110.6,120.25L111.0,120.03L111.4,120.25L111.8,119.92L112.2,119.92L112.6,120.25L113.0,119.92L113.4,120.15L113.8,119.92L114.2,119.92L114.6,120.00L115.0,120.06L115.4,119.97L115.8,120.25L116.2,119.92L116.6,120.25L117.0,119.92L117.4,120.25L117.8,120.25L118.2,120.25L118.6,120.25L119.0,120.25L119.4,120.25L119.8,120.23L120.2,119.95L120.6,119.92L121.0,120.25L121.4,120.16L121.8,120.25L122.2,119.99L122.6,120.25L123.0,119.95L123.4,120.17L123.8,120.25L124.0,120.25L124.2,120.25L124.6,119.68L125.0,120.15L125.4,120.00L125.8,120.22L126.0,120.25L126.2,120.02L126.6,120.25L127.0,120.06L127.4,120.08L127.8,119.91L128.2,120.17L128.6,119.90L129.0,120.19L129.4,120.06L129.8,119.99L130.2,119.89L130.6,119.89L131.0,120.25L131.4,120.25L131.8,119.88L132.2,119.88L132.6,119.87L133.0,120.11L133.4,119.87L133.8,120.17L134.2,120.25L134.6,120.25L135.0,120.25L135.4,119.99L135.8,120.25L136.2,120.00L136.6,119.86L137.0,119.84L137.4,119.84L137.8,120.10L138.2,119.92L138.6,119.83L139.0,119.83L139.4,120.13L139.8,119.82L140.2,120.25L140.6,120.16L141.0,119.81L141.4,120.07L141.8,120.24L142.2,119.87L142.6,120.13L143.0,120.25L143.4,120.25L143.8,120.25L144.2,120.20L144.6,119.79L145.0,120.25L145.4,119.79L145.8,119.78L146.2,120.11L146.6,119.77L147.0,119.81L147.4,120.02L147.8,120.19L148.2,120.02L148.6,119.76L149.0,119.93L149.4,120.21L149.8,120.04L150.2,119.92L150.6,120.15L151.0,119.76L151.4,120.24L151.8,119.73L152.2,120.05L152.6,120.11L153.0,119.73L153.4,119.85L153.8,119.72L154.2,119.72L154.6,119.71L155.0,119.71L155.4,120.02L155.8,119.71L156.0,119.70L156.2,119.65L156.6,119.09L157.0,119.69L157.4,118.28L157.8,119.08L158.2,118.37L158.6,119.77L159.0,120.20L159.4,119.64L159.8,119.04L160.0,119.78L160.2,119.54L160.6,119.38L161.0,119.81L161.4,119.45L161.8,120.07L162.2,119.52L162.6,119.13L163.0,119.64L163.4,119.78L163.8,119.99L164.2,119.19L164.6,119.55L165.0,118.99L165.4,119.22L165.8,120.00L166.2,119.07L166.6,119.07L167.0,119.23L167.4,119.50L167.8,119.87L168.0,119.97L168.2,119.98L168.6,119.99L169.0,120.20L169.4,120.25L169.8,119.90L170.2,119.89L170.6,120.23L171.0,119.88L171.4,119.88L171.8,119.87L172.2,119.87L172.6,119.86L173.0,119.90L173.4,119.85L173.8,119.85L174.2,119.84L174.6,119.86L175.0,119.83L175.4,119.83L175.8,119.82L176.2,119.92L176.6,119.81L177.0,119.81L177.4,119.80L177.8,119.86L178.2,120.16L178.6,119.79L179.0,119.80L179.4,119.78L179.8,119.77L180.2,119.76L180.6,119.76L181.0,119.77L181.4,119.75L181.8,119.74L182.2,120.12L182.6,119.98L183.0,120.06L183.4,119.87L183.8,119.90L184.2,119.71L184.6,120.00L185.0,119.70L185.4,119.69L185.8,119.61L186.2,119.06L186.6,119.43L187.0,119.31L187.4,119.20L187.8,119.25L188.2,118.54L188.6,118.80L189.0,118.88L189.4,119.19L189.5,118.30L189.8,119.31L190.2,119.26L190.6,119.33L191.0,119.70L191.4,119.70L191.8,119.70L192.2,119.70L192.6,119.70L193.0,119.70L193.4,120.15L193.8,120.25L194.2,119.80L194.6,119.93L195.0,119.97L195.4,119.76L195.8,120.22L196.2,119.71L196.6,119.91L197.0,119.88L197.4,120.01L197.8,119.93L198.0,119.70L198.2,119.67L198.6,119.61L199.0,119.73L199.4,119.48L199.8,119.91L200.0,119.38L200.2,119.25L200.6,116.97L201.0,115.37L201.4,115.65L201.8,116.07L202.0,118.40L202.2,118.21L202.6,118.70L203.0,117.73L203.4,118.61L203.8,117.22L204.2,117.22L204.6,117.55L205.0,117.22L205.4,117.66L205.8,116.91L206.0,116.62L206.2,118.06L206.6,116.14L207.0,117.80L207.4,117.79L207.8,116.14L208.0,116.14L208.2,116.90L208.6,117.60L209.0,118.88L209.4,117.81L209.5,115.02L209.8,116.74L210.2,117.64L210.6,116.50L211.0,118.96L211.4,118.07L211.8,117.22L212.2,117.22L212.6,118.81L213.0,117.22L213.4,117.67L213.8,117.52L214.2,117.22L214.6,117.22L215.0,117.64L215.4,115.93L215.5,116.60L215.8,114.63L216.2,110.74L216.6,111.07L217.0,112.18L217.4,114.52L217.5,108.04L217.8,110.26L218.2,107.33L218.6,107.15L219.0,106.47L219.3,110.12L219.4,106.96L219.8,108.27L220.2,108.70L220.6,106.96L221.0,109.97L221.4,109.90L221.8,108.99L222.0,109.67L222.2,109.43L222.6,108.72L223.0,110.57L223.4,110.47L223.6,113.39L223.8,113.46L224.2,113.14L224.5,113.60L224.6,111.35L225.0,116.54L225.4,115.08L225.8,113.33L226.0,114.91L226.2,113.40L226.6,117.18L227.0,115.15L227.4,116.85L227.8,116.89L228.0,118.65L228.2,117.66L228.6,117.00L229.0,117.22L229.4,117.44L229.8,117.80L230.0,118.88L230.2,117.79L230.6,117.84L231.0,117.89L231.4,117.95L231.8,118.09L232.2,118.06L232.6,118.86L233.0,118.17L233.4,119.05L233.8,118.27L234.0,118.30L234.2,118.52L234.6,118.95L235.0,119.38L235.4,119.38L235.8,119.83L236.2,119.38L236.6,119.38L237.0,119.52L237.4,119.88L237.8,119.81L238.0,119.92L238.2,119.70L238.6,119.27L239.0,119.55L239.4,118.41L239.8,118.63L240.2,117.54L240.6,117.16L241.0,116.68L241.4,117.54L241.8,115.38L242.0,115.06L242.2,117.46L242.6,114.75L243.0,115.89L243.4,114.22L243.8,113.98L244.2,114.34L244.6,115.23L245.0,115.06L245.4,116.43L245.8,115.26L246.2,116.79L246.6,114.63L247.0,116.79L247.4,115.38L247.8,117.44L248.0,116.68L248.2,118.32L248.6,118.57L249.0,116.96L249.4,117.06L249.8,117.17L250.0,117.46L250.2,117.38L250.6,119.19L251.0,118.59L251.4,118.85L251.8,119.69L252.0,119.80L252.2,119.51L252.6,118.65L253.0,117.76L253.4,117.04L253.8,116.50L253.9,118.05L254.2,116.22L254.6,116.42L255.0,117.75L255.4,116.53L255.8,117.74L256.0,117.60L256.2,117.17L256.6,116.68L257.0,118.35L257.4,117.37L257.8,118.05L258.0,116.78L258.2,117.00L258.6,118.72L259.0,118.38L259.4,118.87L259.8,119.33L260.2,119.26L260.6,118.86L261.0,118.45L261.4,118.83L261.8,119.81L262.0,118.57L262.2,119.06L262.6,119.58L263.0,120.05L263.4,119.86L263.8,119.62L264.2,120.02L264.6,120.15L265.0,119.43L265.4,119.53L265.8,119.75L266.0,118.30L266.2,119.51L266.6,118.95L267.0,118.33L267.4,118.09L267.8,117.81L268.0,118.93L268.2,118.02L268.6,117.76L269.0,118.22L269.4,117.76L269.8,118.31L270.2,117.82L270.6,117.76L271.0,118.72L271.4,117.94L271.8,118.79L272.0,117.76L272.2,118.05L272.6,117.93L273.0,118.03L273.4,118.54L273.8,118.25L274.2,119.43L274.6,118.77L275.0,119.65L275.4,118.89L275.8,118.81L276.0,119.45L276.2,118.84L276.6,119.23L277.0,119.55L277.4,119.54L277.8,118.92L278.2,119.21L278.6,119.73L279.0,119.30L279.4,118.84L279.8,119.06L280.0,118.84L280.2,119.20L280.6,119.81L281.0,119.13L281.4,119.76L281.8,119.94L282.2,119.45L282.6,119.48L283.0,120.25L283.4,119.57L283.8,120.25L284.2,120.25L284.6,120.23L285.0,119.99L285.4,120.04L285.8,120.06L286.2,120.25L286.6,119.94L287.0,120.25L287.4,119.92L287.8,120.25L288.2,120.25L288.6,119.93L289.0,119.92L289.4,119.94L289.8,120.25L290.2,119.92L290.6,120.08L291.0,120.25L291.4,120.25L291.8,119.92L292.2,120.25L292.6,120.25L293.0,120.25L293.4,119.93L293.8,119.97L294.2,119.96L294.6,120.10L295.0,120.25L295.4,120.03L295.8,120.25L296.2,119.93L296.6,119.93L297.0,120.25L297.4,120.04L297.8,120.25L298.2,120.25L298.6,119.96L299.0,120.24L299.4,120.25L299.8,120.16L300.2,120.25L300.6,120.25L301.0,120.09L301.4,119.94L301.8,120.25L302.2,119.93L302.6,120.25L303.0,120.25L303.4,120.25L303.8,120.25L304.2,120.25L304.6,120.06L305.0,120.24L305.4,120.25L305.8,120.19L306.2,120.25L306.6,120.12L307.0,119.97L307.4,120.25L307.8,120.25L308.2,120.24L308.6,120.23L309.0,120.17L309.4,120.25L309.8,120.20L310.2,119.93L310.6,120.00L311.0,120.25L311.4,120.24L311.8,119.93L312.2,120.02L312.6,119.93L313.0,119.93L313.4,119.93L313.8,119.94L314.2,119.93L314.6,119.93L315.0,119.93L315.4,119.93L315.8,120.25L316.2,120.21L316.6,119.94L317.0,119.94L317.4,119.94L317.8,119.94L318.2,120.25L318.6,119.94L319.0,120.25L319.4,119.94L319.8,120.09L320.2,120.00L320.6,119.95L321.0,120.20L321.4,119.94L321.8,119.94L322.2,119.94L322.6,119.94L323.0,119.99L323.4,120.14L323.8,120.04L324.2,119.94L324.6,119.94L325.0,119.96L325.4,120.08L325.8,120.09L326.2,119.94L326.6,120.24L327.0,120.25L327.4,120.25L327.8,120.25L328.2,120.25L328.6,120.25L329.0,120.17L329.4,120.00L329.8,120.25L330.2,120.25L330.6,120.19L331.0,120.25L331.4,120.25L331.8,120.18L332.2,120.21L332.6,120.25L333.0,120.17L333.4,120.25L333.8,120.22L334.2,120.25L334.6,120.17L335.0,120.25L335.4,119.94L335.8,120.25L336.2,119.96L336.6,120.18L337.0,120.15L337.4,119.95L337.8,119.95L338.2,119.95L338.6,120.03L339.0,119.95L339.4,119.96L339.8,120.25L340.2,119.99L340.6,119.95L341.0,120.04L341.4,119.95L341.8,120.03L342.2,120.16L342.6,119.95L343.0,120.00L343.4,120.25L343.8,119.95L344.2,120.15L344.6,120.09L345.0,120.21L345.4,119.99L345.8,120.09L346.2,120.25L346.6,120.25L347.0,120.02L347.4,119.96L347.8,120.10L348.2,119.95L348.6,120.12L349.0,120.19L349.4,120.24L349.8,120.25L350.2,120.25L350.6,119.95L351.0,119.95L351.4,120.25L351.8,120.18L352.2,119.97L352.6,119.95L353.0,119.95L353.4,119.95L353.8,120.05L354.2,119.95L354.6,119.95L355.0,119.96L355.4,119.95L355.8,120.25L356.2,119.95L356.6,119.95L357.0,119.95L357.4,119.95L357.8,119.96L358.2,120.03L358.6,119.96L359.0,119.96L359.4,120.25L359.8,119.98L360.2,119.96L360.6,120.15L361.0,120.23L361.4,119.96L361.8,120.25L362.2,120.10L362.6,120.25L363.0,120.23L363.4,119.96L363.8,120.25L364.2,120.25L364.6,119.96L365.0,119.96L365.4,120.00L365.8,120.14L366.2,120.10L366.6,119.96L367.0,119.96L367.4,119.98L367.8,119.96L368.2,120.25L368.6,120.11L369.0,119.96L369.4,119.96L369.8,120.13L370.2,119.96L370.6,119.96L371.0,120.09L371.4,120.25L371.8,120.25L372.2,119.96L372.6,120.15L373.0,119.98L373.4,120.25L373.8,119.96L374.2,120.18L374.6,119.96L375.0,119.98L375.4,120.21L375.8,120.25L376.2,120.13L376.6,120.25L377.0,120.25L377.4,120.25L377.8,120.25L378.2,119.96L378.6,120.25L379.0,119.97L379.4,119.97L379.8,119.97L380.2,119.97L380.6,120.05L381.0,120.22L381.4,119.97L381.8,119.97L382.2,119.97L382.6,119.97L383.0,120.25L383.4,119.97L383.8,119.97L384.2,119.97L384.6,120.22L385.0,119.97L385.4,120.25L385.8,119.97L386.2,120.13L386.6,119.97L387.0,120.25L387.4,120.07L387.8,120.10L388.2,120.03L388.6,120.11L389.0,120.25L389.4,120.25L389.8,120.15L390.2,119.97L390.6,119.97L391.0,120.25L391.4,120.14L391.8,120.25L392.2,120.25L392.6,119.97L393.0,120.24L393.4,120.25L393.8,120.04L394.2,119.99L394.6,120.03L395.0,119.97L395.4,120.03L395.8,120.14L396.2,120.25L396.6,119.98L397.0,119.97L397.4,120.05L397.8,120.13L398.2,120.24L398.6,119.97L399.0,119.97L399.4,119.99L399.8,119.98L400.2,120.18L400.6,120.25L401.0,120.25L401.4,119.98L401.8,119.98L402.2,119.98L402.6,119.98L403.0,119.98L403.4,120.17L403.8,120.17L404.2,120.25L404.6,119.98L405.0,120.04L405.4,120.14L405.8,119.98L406.2,119.98L406.6,120.25L407.0,120.25L407.4,120.07L407.8,119.98L408.2,120.21L408.6,120.03L409.0,119.98L409.4,120.18L409.8,119.98L410.2,120.25L410.6,120.15L411.0,120.01L411.4,119.98L411.8,120.15L412.2,120.07L412.6,120.08L413.0,120.09L413.4,120.22L413.8,120.25L414.2,120.25L414.6,119.98L415.0,120.02L415.4,120.11L415.8,120.05L416.2,120.25L416.6,120.25L417.0,120.20L417.4,120.25L417.8,120.15L418.2,120.02L418.6,120.25L419.0,120.25L419.4,120.12L419.8,119.98L420.2,120.14L420.6,120.10L421.0,119.99L421.4,119.99L421.8,120.25L422.2,119.99L422.6,120.25L423.0,119.99L423.4,120.06L423.8,119.99L424.2,120.25L424.6,120.25L425.0,119.99L425.4,120.24L425.8,120.25L426.2,120.25L426.6,120.25L427.0,120.25L427.4,120.23L427.8,120.25L428.2,120.25L428.6,119.99L429.0,119.99L429.4,120.25L429.8,120.25L430.2,120.25L430.6,120.19L431.0,120.25L431.4,120.25L431.8,120.03L432.2,120.25L432.6,120.06L433.0,120.25L433.4,120.25L433.8,120.20L434.2,120.10L434.6,120.25L435.0,120.16L435.4,120.09L435.8,120.10L436.2,120.21L436.6,120.08L437.0,120.25L437.4,120.25L437.8,120.25L438.2,119.99L438.6,120.25L439.0,119.99L439.4,120.25L439.8,119.99L440.2,120.25L440.6,120.00L441.0,120.06L441.4,120.00L441.8,120.00L442.2,120.25L442.6,120.25L443.0,120.25L443.4,120.25L443.8,120.00L444.2,120.25L444.6,120.03L445.0,120.00L445.4,120.07L445.8,120.00L446.2,120.16L446.6,120.25L447.0,120.03L447.4,120.25L447.8,120.25L448.2,120.25L448.6,120.22L449.0,120.25L449.4,120.00L449.8,120.00L450.2,120.04L450.6,120.16L451.0,120.00L451.4,120.00L451.8,120.25L452.2,120.00L452.6,120.25L453.0,120.25L453.4,120.25L453.8,120.25L454.2,120.21L454.6,120.00L455.0,120.25L455.4,120.14L455.8,120.24L456.2,120.25L456.6,120.00L457.0,120.04L457.4,120.25L457.8,120.09L458.2,120.25L458.6,120.21L459.0,120.07L459.4,120.23L459.8,120.25L460.2,120.25L460.6,120.25L461.0,120.25L461.4,120.25L461.8,120.19L462.2,120.25L462.6,120.25L463.0,120.09L463.4,120.03L463.8,120.01L464.2,120.14L464.6,120.05L465.0,120.01L465.4,120.12L465.8,120.25L466.2,120.01L466.6,120.20L467.0,120.08L467.4,120.01L467.8,120.01L468.2,120.13L468.6,120.01L469.0,120.11L469.4,120.25L469.8,120.01L470.2,120.25L470.6,120.25L471.0,120.23L471.4,120.25L471.8,120.16L472.2,120.20L472.6,120.25L473.0,120.08L473.4,120.25L473.8,120.24L474.2,120.25L474.6,120.01L475.0,120.25L475.4,120.25L475.8,120.08L476.2,120.25L476.6,120.01L477.0,120.25L477.4,120.25L477.8,120.25L478.2,120.06L478.6,120.10L479.0,120.07L479.4,120.15L479.8,120.01L480.2,120.25L480.6,120.25L481.0,120.25L481.4,120.06L481.8,120.11L482.2,120.25L482.6,120.25L483.0,120.02L483.4,120.02L483.8,120.25L484.2,120.20L484.6,120.25L485.0,120.18L485.4,120.25L485.8,120.03L486.2,120.25L486.6,120.12L487.0,120.25L487.4,120.19L487.8,120.02L488.2,120.17L488.6,120.02L489.0,120.06L489.4,120.25L489.8,120.25L490.2,120.02L490.6,120.02L491.0,120.25L491.4,120.02L491.8,120.18L492.2,120.02L492.6,120.02L493.0,120.02L493.4,120.25L493.8,120.25L494.2,120.25L494.6,120.09L495.0,120.02L495.4,120.15L495.8,120.14L496.2,120.16L496.6,120.25L497.0,120.25L497.4,120.12L497.8,120.21L498.2,120.04L498.6,120.02L499.0,120.25L499.4,120.25L499.8,120.25L500.2,120.15L500.6,120.25L501.0,120.25L501.4,120.18L501.8,120.02L502.2,120.04L502.6,120.18L503.0,120.04L503.4,120.04L503.8,120.03L504.2,120.03L504.6,120.03L505.0,120.21L505.4,120.03L505.8,120.25L506.2,120.03L506.6,120.25L507.0,120.03L507.4,120.13L507.8,120.24L508.2,120.03L508.6,120.25L509.0,120.03L509.2,121.0 Z" fill="#231f20"/>
<line x1="48" y1="120.80" x2="101.5" y2="120.80" stroke="#c9c9c9" stroke-width="0.9"/>
<path d="M101,101.50 H103.3 V120.80 H101" fill="none" stroke="#231f20" stroke-width="1.15"/>
<text x="100.80" y="105.00" font-family="'Liberation Sans', sans-serif" font-size="5.40" text-anchor="end" fill="#333"  stroke="#333" stroke-width="0.05">6</text>
<text x="99.30" y="113.90" font-family="'Liberation Sans', sans-serif" font-size="7.90" text-anchor="end" fill="#1a1718" textLength="53.9" lengthAdjust="spacingAndGlyphs"  stroke="#1a1718" stroke-width="0.14">CTL H3K27me3</text>
<path d="M104.2,143.0L104.2,141.98L104.6,142.13L105.0,142.25L105.4,141.92L105.8,142.12L106.2,142.18L106.6,142.21L107.0,142.25L107.4,142.21L107.8,141.92L108.2,142.24L108.6,142.14L109.0,141.99L109.4,141.92L109.8,142.05L110.2,141.92L110.6,142.16L111.0,142.07L111.4,142.01L111.8,142.25L112.2,142.15L112.6,142.20L113.0,141.92L113.4,142.17L113.8,141.92L114.2,142.07L114.6,141.92L115.0,141.92L115.4,141.99L115.8,141.92L116.2,141.92L116.6,141.94L117.0,142.25L117.4,142.15L117.8,142.25L118.2,142.19L118.6,141.92L119.0,141.93L119.4,142.25L119.8,142.05L120.2,141.92L120.6,142.14L121.0,142.25L121.4,141.93L121.8,142.21L122.2,141.92L122.6,141.92L123.0,141.92L123.4,141.92L123.8,142.25L124.0,141.92L124.2,142.06L124.6,142.04L125.0,141.55L125.4,141.60L125.8,142.25L126.0,141.97L126.2,141.92L126.6,141.93L127.0,141.92L127.4,142.11L127.8,141.92L128.2,142.16L128.6,141.92L129.0,141.92L129.4,142.25L129.8,141.92L130.2,142.24L130.6,141.92L131.0,141.92L131.4,141.92L131.8,141.92L132.2,142.22L132.6,142.17L133.0,142.21L133.4,141.92L133.8,142.25L134.2,142.25L134.6,141.92L135.0,141.92L135.4,141.92L135.8,141.92L136.2,141.95L136.6,141.92L137.0,142.05L137.4,141.92L137.8,142.25L138.2,142.10L138.6,142.02L139.0,141.92L139.4,142.15L139.8,141.93L140.2,141.92L140.6,142.08L141.0,142.23L141.4,142.25L141.8,141.92L142.2,141.94L142.6,141.99L143.0,141.92L143.4,142.25L143.8,142.22L144.2,142.24L144.6,142.25L145.0,141.92L145.4,142.25L145.8,142.25L146.2,142.00L146.6,142.19L147.0,142.25L147.4,142.11L147.8,142.09L148.2,142.11L148.6,142.03L149.0,142.25L149.4,142.25L149.8,142.02L150.2,142.05L150.6,141.94L151.0,142.25L151.4,142.10L151.8,141.92L152.2,142.01L152.6,141.92L153.0,141.92L153.4,141.92L153.8,142.00L154.2,141.92L154.6,141.92L155.0,142.12L155.4,142.25L155.8,141.94L156.2,142.25L156.6,141.92L157.0,142.25L157.4,141.92L157.8,142.12L158.2,142.25L158.6,142.14L159.0,142.03L159.4,142.17L159.8,142.08L160.2,142.25L160.6,141.92L161.0,142.25L161.4,141.92L161.8,142.25L162.0,142.01L162.2,142.25L162.6,141.98L163.0,141.20L163.4,140.91L163.5,141.11L163.8,141.08L164.2,141.24L164.6,141.47L165.0,141.85L165.4,141.86L165.8,141.70L166.2,141.70L166.6,141.89L167.0,141.70L167.4,141.70L167.8,141.88L168.0,142.25L168.2,141.93L168.6,141.31L169.0,141.79L169.3,141.66L169.4,140.91L169.8,142.00L170.2,141.46L170.6,142.24L171.0,142.25L171.4,142.12L171.8,142.25L172.2,141.94L172.6,142.15L173.0,141.92L173.4,141.92L173.8,142.25L174.2,141.92L174.6,141.92L175.0,142.21L175.4,141.92L175.8,142.23L176.2,141.95L176.6,141.92L177.0,142.07L177.4,141.93L177.8,142.25L178.2,141.92L178.6,141.92L179.0,141.92L179.4,142.25L179.8,141.93L180.2,142.25L180.6,142.13L181.0,142.25L181.4,141.94L181.8,142.25L182.2,142.16L182.6,142.13L183.0,142.17L183.4,142.25L183.8,141.92L184.2,141.92L184.6,142.08L185.0,141.92L185.4,142.14L185.8,142.22L186.0,142.09L186.2,141.78L186.6,141.52L187.0,141.45L187.4,142.01L187.6,141.43L187.8,142.09L188.2,142.21L188.6,142.09L189.0,142.25L189.4,142.25L189.8,142.18L190.2,141.99L190.6,141.92L191.0,141.92L191.4,142.19L191.8,142.25L192.2,141.92L192.6,142.21L193.0,142.25L193.4,141.98L193.8,142.16L194.2,141.93L194.6,142.10L195.0,141.96L195.4,142.25L195.8,141.96L196.2,142.20L196.6,142.10L197.0,142.25L197.4,142.25L197.8,142.25L198.0,142.25L198.2,141.81L198.6,142.25L199.0,142.00L199.4,141.32L199.8,141.63L200.0,141.51L200.2,141.15L200.6,140.57L201.0,140.60L201.4,138.42L201.5,138.25L201.8,138.96L202.2,139.31L202.5,139.76L202.6,140.01L203.0,138.72L203.4,138.82L203.8,137.06L204.2,137.96L204.6,140.67L205.0,139.76L205.4,140.39L205.8,140.27L206.2,139.76L206.6,140.14L207.0,140.54L207.4,140.94L207.8,139.76L208.0,139.76L208.2,139.85L208.6,140.02L209.0,140.19L209.4,140.36L209.8,140.54L210.0,140.62L210.2,140.62L210.6,140.92L211.0,141.34L211.4,140.62L211.8,141.62L212.0,140.62L212.2,140.96L212.6,140.41L213.0,140.30L213.4,140.51L213.8,140.37L214.0,140.30L214.2,141.54L214.6,140.88L215.0,141.05L215.4,140.30L215.8,140.62L216.0,140.60L216.2,139.22L216.5,138.33L216.6,138.19L217.0,137.48L217.4,137.70L217.8,135.59L218.2,136.18L218.6,134.36L219.0,134.84L219.4,135.32L219.5,135.44L219.8,135.44L220.2,135.44L220.6,135.44L221.0,135.44L221.4,136.30L221.8,137.24L222.0,138.12L222.2,137.71L222.6,138.03L223.0,138.14L223.4,138.92L223.8,139.31L224.0,140.56L224.2,138.90L224.6,140.33L225.0,140.28L225.4,140.00L225.8,140.01L226.2,140.08L226.6,140.72L227.0,141.45L227.4,140.59L227.8,141.94L228.2,141.63L228.5,141.38L228.6,141.38L229.0,141.51L229.4,141.38L229.8,141.92L230.0,142.06L230.2,141.49L230.6,140.41L231.0,141.09L231.4,140.91L231.8,141.16L232.0,141.84L232.2,141.41L232.6,142.01L233.0,142.08L233.4,141.61L233.8,142.23L234.0,142.06L234.2,141.91L234.6,141.77L235.0,142.10L235.4,141.98L235.8,141.90L236.0,142.04L236.2,141.81L236.6,142.25L237.0,141.75L237.4,142.14L237.8,140.94L238.2,141.88L238.5,141.68L238.6,141.13L239.0,140.73L239.4,141.68L239.8,140.49L240.0,141.43L240.2,140.99L240.6,141.48L241.0,139.94L241.4,139.42L241.8,139.27L242.0,140.25L242.2,140.28L242.6,138.86L243.0,138.62L243.4,138.38L243.8,138.26L244.2,138.68L244.6,139.22L245.0,139.76L245.4,139.76L245.8,139.76L246.2,139.84L246.6,140.48L247.0,140.05L247.4,141.14L247.8,139.76L248.0,140.54L248.2,141.05L248.6,140.41L249.0,141.16L249.4,141.50L249.8,140.84L250.2,140.84L250.6,141.45L251.0,141.32L251.4,142.03L251.8,141.55L252.0,140.84L252.2,141.27L252.6,140.68L253.0,141.79L253.4,141.73L253.8,141.58L254.0,141.51L254.2,140.30L254.6,140.30L255.0,140.30L255.4,140.56L255.8,140.99L256.0,141.00L256.2,141.40L256.6,140.78L257.0,141.22L257.4,140.08L257.8,140.79L258.2,141.25L258.6,140.62L259.0,141.52L259.4,140.84L259.8,140.84L260.2,140.84L260.6,140.84L261.0,140.84L261.4,140.84L261.8,140.84L262.0,140.84L262.2,140.95L262.6,141.53L263.0,141.38L263.4,141.38L263.8,141.38L264.2,141.97L264.6,141.38L265.0,141.70L265.4,141.97L265.8,141.90L266.0,142.25L266.2,142.10L266.6,142.25L267.0,142.03L267.4,142.25L267.8,142.25L268.2,142.25L268.6,142.25L269.0,142.14L269.4,142.25L269.8,142.25L270.2,142.25L270.6,142.09L271.0,142.25L271.4,142.03L271.8,142.03L272.2,142.03L272.6,142.20L273.0,142.07L273.4,142.25L273.8,142.15L274.2,142.03L274.6,142.25L275.0,142.16L275.4,142.05L275.8,142.25L276.2,142.25L276.6,142.20L277.0,142.25L277.4,142.25L277.8,142.21L278.2,142.25L278.6,142.25L279.0,142.25L279.4,142.25L279.8,142.04L280.2,142.25L280.6,142.17L281.0,142.25L281.4,142.25L281.8,142.25L282.2,142.14L282.6,142.25L283.0,142.25L283.4,142.25L283.8,142.25L284.2,142.25L284.6,142.25L285.0,142.19L285.4,142.25L285.8,142.03L286.2,142.03L286.6,142.03L287.0,142.03L287.4,142.25L287.8,142.03L288.2,142.25L288.6,142.08L289.0,142.25L289.4,142.14L289.8,142.25L290.2,142.03L290.6,142.25L291.0,142.06L291.4,142.25L291.8,142.06L292.2,142.25L292.6,142.22L293.0,142.22L293.4,142.03L293.8,142.11L294.2,142.25L294.6,142.03L295.0,142.25L295.4,142.25L295.8,142.25L296.2,142.25L296.6,142.25L297.0,142.05L297.4,142.25L297.8,142.13L298.2,142.20L298.6,142.03L299.0,142.03L299.4,142.25L299.8,142.03L300.2,142.25L300.6,142.25L301.0,142.25L301.4,142.03L301.8,142.05L302.2,142.03L302.6,142.25L303.0,142.09L303.4,142.19L303.8,142.03L304.2,142.03L304.6,142.03L305.0,142.11L305.4,142.25L305.8,142.25L306.2,142.25L306.6,142.03L307.0,142.25L307.4,142.14L307.8,142.24L308.2,142.25L308.6,142.23L309.0,142.15L309.4,142.03L309.8,142.03L310.2,142.20L310.6,142.25L311.0,142.25L311.4,142.25L311.8,142.14L312.2,142.03L312.6,142.25L313.0,142.25L313.4,142.23L313.8,142.11L314.2,142.25L314.6,142.25L315.0,142.12L315.4,142.25L315.8,142.03L316.2,142.05L316.6,142.19L317.0,142.03L317.4,142.18L317.8,142.03L318.2,142.25L318.6,142.25L319.0,142.20L319.4,142.12L319.8,142.03L320.2,142.25L320.6,142.03L321.0,142.25L321.4,141.42L321.8,140.82L322.2,140.21L322.5,141.25L322.6,141.32L323.0,141.73L323.4,141.59L323.8,142.25L324.0,142.25L324.2,142.25L324.6,142.03L325.0,142.25L325.4,142.25L325.8,142.25L326.2,142.25L326.6,142.25L327.0,142.03L327.4,142.03L327.8,142.03L328.2,142.25L328.6,142.10L329.0,142.03L329.4,142.25L329.8,142.03L330.2,142.25L330.6,142.22L331.0,142.10L331.4,142.25L331.8,142.25L332.2,142.03L332.6,142.03L333.0,142.25L333.4,142.03L333.8,142.25L334.2,142.03L334.6,142.03L335.0,142.03L335.4,142.03L335.8,142.03L336.2,142.04L336.6,142.25L337.0,142.23L337.4,142.23L337.8,142.04L338.2,142.25L338.6,142.04L339.0,142.04L339.4,142.25L339.8,142.04L340.2,142.04L340.6,142.25L341.0,142.15L341.4,142.25L341.8,142.25L342.2,142.25L342.6,142.12L343.0,142.25L343.4,142.25L343.8,142.25L344.2,142.25L344.6,142.07L345.0,142.25L345.4,142.25L345.8,142.25L346.2,142.15L346.6,142.25L347.0,142.04L347.4,142.04L347.8,142.25L348.2,142.15L348.6,142.04L349.0,142.08L349.4,142.19L349.8,142.04L350.2,142.04L350.6,142.25L351.0,142.04L351.4,142.25L351.8,142.04L352.2,142.22L352.6,142.04L353.0,142.25L353.4,142.25L353.8,142.25L354.2,142.22L354.6,142.08L355.0,142.25L355.4,142.25L355.8,142.25L356.2,142.25L356.6,142.07L357.0,142.25L357.4,142.25L357.8,142.25L358.2,142.25L358.6,142.18L359.0,142.24L359.4,142.05L359.8,142.25L360.2,142.05L360.6,142.05L361.0,142.05L361.4,142.25L361.8,142.05L362.2,142.05L362.6,142.25L363.0,142.05L363.4,142.25L363.8,142.25L364.2,142.25L364.6,142.05L365.0,142.25L365.4,142.12L365.8,142.07L366.2,142.17L366.6,142.05L367.0,142.14L367.4,142.25L367.8,142.25L368.2,142.25L368.6,142.05L369.0,142.25L369.4,142.13L369.8,142.25L370.2,142.25L370.6,142.20L371.0,142.25L371.4,142.11L371.8,142.13L372.2,142.06L372.6,142.06L373.0,142.25L373.4,142.06L373.8,142.25L374.2,142.06L374.6,142.06L375.0,142.25L375.4,142.06L375.8,142.06L376.2,142.06L376.6,142.06L377.0,142.06L377.4,142.06L377.8,142.06L378.2,142.16L378.6,142.11L379.0,142.25L379.4,142.06L379.8,142.25L380.2,142.06L380.6,142.25L381.0,142.24L381.4,142.25L381.8,142.24L382.2,142.25L382.6,142.25L383.0,142.25L383.4,142.25L383.8,142.25L384.2,142.25L384.6,142.06L385.0,142.19L385.4,142.25L385.8,142.19L386.2,142.25L386.6,142.25L387.0,142.25L387.4,142.09L387.8,142.14L388.2,142.25L388.6,142.07L389.0,142.23L389.4,142.25L389.8,142.07L390.2,142.07L390.6,142.07L391.0,142.25L391.4,142.14L391.8,142.25L392.2,142.25L392.6,142.25L393.0,142.07L393.4,142.07L393.8,142.18L394.2,142.07L394.6,142.07L395.0,142.22L395.4,142.25L395.8,142.23L396.2,142.21L396.6,142.25L397.0,142.25L397.4,142.22L397.8,142.19L398.2,142.25L398.6,142.25L399.0,142.13L399.4,142.07L399.8,142.13L400.2,142.07L400.6,142.12L401.0,142.25L401.4,142.19L401.8,142.25L402.2,142.07L402.6,142.25L403.0,142.07L403.4,142.25L403.8,142.25L404.2,142.25L404.6,142.11L405.0,142.16L405.4,142.22L405.8,142.25L406.2,142.20L406.6,142.25L407.0,142.25L407.4,142.25L407.8,142.25L408.2,142.25L408.6,142.12L409.0,142.08L409.4,142.25L409.8,142.08L410.2,142.25L410.6,142.08L411.0,142.08L411.4,142.08L411.8,142.08L412.2,142.08L412.6,142.23L413.0,142.08L413.4,142.08L413.8,142.08L414.2,142.25L414.6,142.16L415.0,142.25L415.4,142.24L415.8,142.22L416.2,142.25L416.6,142.21L417.0,142.08L417.4,142.12L417.8,142.25L418.2,142.25L418.6,142.25L419.0,142.10L419.4,142.25L419.8,142.20L420.2,142.25L420.6,142.08L421.0,142.25L421.4,142.11L421.8,142.10L422.2,142.09L422.6,142.21L423.0,142.09L423.4,142.09L423.8,142.25L424.2,142.25L424.6,142.25L425.0,142.25L425.4,142.09L425.8,142.25L426.2,142.25L426.6,142.25L427.0,142.25L427.4,142.25L427.8,142.17L428.2,142.25L428.6,142.09L429.0,142.25L429.4,142.25L429.8,142.25L430.2,142.25L430.6,142.09L431.0,142.12L431.4,142.21L431.8,142.25L432.2,142.25L432.6,142.25L433.0,142.25L433.4,142.25L433.8,142.25L434.2,142.25L434.6,142.25L435.0,142.25L435.4,142.25L435.8,142.20L436.2,142.19L436.6,142.25L437.0,142.25L437.4,142.25L437.8,142.25L438.2,142.25L438.6,142.25L439.0,142.15L439.4,142.25L439.8,142.10L440.2,142.25L440.6,142.25L441.0,142.18L441.4,142.19L441.8,142.25L442.2,142.25L442.6,142.25L443.0,142.25L443.4,142.10L443.8,142.25L444.2,142.25L444.6,142.10L445.0,142.10L445.4,142.16L445.8,142.10L446.2,142.10L446.6,142.10L447.0,142.10L447.4,142.10L447.8,142.10L448.2,142.13L448.6,142.10L449.0,142.10L449.4,142.10L449.8,142.25L450.2,142.13L450.6,142.13L451.0,142.25L451.4,142.25L451.8,142.25L452.2,142.10L452.6,142.17L453.0,142.25L453.4,142.12L453.8,142.25L454.2,142.19L454.6,142.25L455.0,142.10L455.4,142.25L455.8,142.25L456.2,142.25L456.6,142.25L457.0,142.22L457.4,142.25L457.8,142.20L458.2,142.25L458.6,142.11L459.0,142.11L459.4,142.21L459.8,142.11L460.2,142.11L460.6,142.11L461.0,142.11L461.4,142.11L461.8,142.11L462.2,142.11L462.6,142.11L463.0,142.11L463.4,142.25L463.8,142.25L464.2,142.17L464.6,142.18L465.0,142.17L465.4,142.25L465.8,142.25L466.2,142.11L466.6,142.11L467.0,142.15L467.4,142.25L467.8,142.25L468.2,142.11L468.6,142.11L469.0,142.11L469.4,142.11L469.8,142.23L470.2,142.11L470.6,142.11L471.0,142.25L471.4,142.24L471.8,142.25L472.2,142.25L472.6,142.25L473.0,142.25L473.4,142.12L473.8,142.12L474.2,142.25L474.6,142.25L475.0,142.25L475.4,142.12L475.8,142.25L476.2,142.12L476.6,142.12L477.0,142.25L477.4,142.12L477.8,142.25L478.2,142.25L478.6,142.12L479.0,142.25L479.4,142.25L479.8,142.12L480.2,142.12L480.6,142.13L481.0,142.12L481.4,142.12L481.8,142.25L482.2,142.12L482.6,142.25L483.0,142.25L483.4,142.25L483.8,142.25L484.2,142.12L484.6,142.25L485.0,142.12L485.4,142.25L485.8,142.25L486.2,142.12L486.6,142.13L487.0,142.12L487.4,142.12L487.8,142.13L488.2,142.12L488.6,142.25L489.0,142.25L489.4,142.12L489.8,142.12L490.2,142.25L490.6,142.23L491.0,142.13L491.4,142.13L491.8,142.13L492.2,142.25L492.6,142.25L493.0,142.13L493.4,142.13L493.8,142.13L494.2,142.13L494.6,142.13L495.0,142.25L495.4,142.25L495.8,142.25L496.2,142.25L496.6,142.16L497.0,142.25L497.4,142.13L497.8,142.25L498.2,142.25L498.6,142.13L499.0,142.25L499.4,142.18L499.8,142.13L500.2,142.13L500.6,142.25L501.0,142.22L501.4,142.13L501.8,142.13L502.2,142.14L502.6,142.13L503.0,142.21L503.4,142.13L503.8,142.16L504.2,142.13L504.6,142.13L505.0,142.13L505.4,142.13L505.8,142.16L506.2,142.14L506.6,142.13L507.0,142.13L507.4,142.14L507.8,142.25L508.2,142.25L508.6,142.14L509.0,142.14L509.2,143.0 Z" fill="#231f20"/>
<line x1="48" y1="142.30" x2="101.5" y2="142.30" stroke="#c9c9c9" stroke-width="0.9"/>
<path d="M101,122.50 H103.3 V142.30 H101" fill="none" stroke="#231f20" stroke-width="1.15"/>
<text x="100.80" y="126.00" font-family="'Liberation Sans', sans-serif" font-size="5.40" text-anchor="end" fill="#333"  stroke="#333" stroke-width="0.05">6</text>
<text x="99.30" y="135.15" font-family="'Liberation Sans', sans-serif" font-size="7.90" text-anchor="end" fill="#1a1718" textLength="56.2" lengthAdjust="spacingAndGlyphs"  stroke="#1a1718" stroke-width="0.14">QPD H3K27me3</text>
<rect x="104.2" y="147.3" width="405.0" height="22.0" fill="#e0dfdb"/>
<path d="M104.2,170.0L104.2,168.97L104.7,169.25L105.2,169.25L105.7,169.25L106.2,169.25L106.7,169.25L107.2,169.25L107.7,169.25L108.2,169.25L108.7,169.25L109.2,169.25L109.7,169.25L110.2,169.25L110.7,169.25L111.2,169.21L111.7,169.25L112.2,169.25L112.7,169.25L113.2,169.25L113.7,169.25L114.2,169.25L114.7,169.25L115.2,169.25L115.7,169.25L116.2,169.25L116.7,169.25L117.2,169.25L117.7,169.19L118.2,168.93L118.7,168.89L119.2,168.98L119.7,169.25L120.2,169.25L120.7,169.25L121.2,169.25L121.7,169.25L122.2,169.25L122.7,169.25L123.2,169.25L123.7,169.25L124.2,169.25L124.7,169.25L125.2,168.82L125.7,169.25L126.2,168.97L126.7,169.17L127.2,169.14L127.7,169.25L128.2,169.25L128.7,169.25L129.2,169.25L129.7,169.17L130.2,169.19L130.7,169.25L131.2,169.11L131.7,168.88L132.2,168.88L132.7,168.87L133.2,168.99L133.7,169.21L134.2,169.21L134.7,169.23L135.2,169.22L135.7,168.72L136.2,168.80L136.7,169.25L137.2,169.10L137.7,169.25L138.2,169.25L138.7,169.25L139.2,169.25L139.7,169.09L140.2,169.07L140.7,169.25L141.2,169.25L141.7,169.25L142.2,169.25L142.7,169.25L143.2,169.25L143.7,169.25L144.2,169.25L144.7,169.25L145.2,169.15L145.7,168.08L146.2,167.04L146.7,166.32L147.2,165.75L147.7,165.81L148.2,166.33L148.7,166.64L149.2,168.00L149.7,168.99L150.2,169.25L150.7,169.25L151.2,169.25L151.7,169.25L152.2,169.25L152.7,169.25L153.2,169.25L153.7,169.25L154.2,169.25L154.7,169.25L155.2,168.70L155.7,167.24L156.2,166.55L156.7,166.22L157.2,166.88L157.7,165.06L158.2,163.86L158.7,162.61L159.2,163.35L159.7,163.68L160.2,165.79L160.7,167.83L161.2,169.01L161.7,169.25L162.2,169.24L162.7,169.12L163.2,168.88L163.7,169.20L164.2,169.23L164.7,169.05L165.2,169.05L165.7,169.12L166.2,169.20L166.7,168.93L167.2,168.25L167.7,168.16L168.2,168.31L168.7,168.85L169.2,169.25L169.7,169.25L170.2,169.25L170.7,169.25L171.2,169.25L171.7,169.25L172.2,169.25L172.7,169.25L173.2,169.25L173.7,168.95L174.2,169.25L174.7,169.25L175.2,169.21L175.7,169.25L176.2,169.25L176.7,169.25L177.2,169.25L177.7,169.25L178.2,169.25L178.7,169.25L179.2,169.25L179.7,169.25L180.2,169.25L180.7,169.25L181.2,169.01L181.7,169.04L182.2,169.25L182.7,169.25L183.2,169.25L183.7,169.25L184.2,169.25L184.7,169.25L185.2,169.25L185.7,169.25L186.2,169.25L186.7,169.25L187.2,169.25L187.7,169.25L188.2,169.25L188.7,169.25L189.2,169.25L189.7,169.25L190.2,169.03L190.7,168.21L191.2,167.27L191.7,167.07L192.2,167.18L192.7,167.89L193.2,168.73L193.7,169.25L194.2,169.25L194.7,169.25L195.2,169.25L195.7,169.25L196.2,169.25L196.7,169.25L197.2,169.25L197.7,169.25L198.2,169.25L198.7,169.25L199.2,169.25L199.7,169.25L200.2,169.25L200.7,169.25L201.2,169.25L201.7,169.25L202.2,169.25L202.7,169.25L203.2,169.25L203.7,169.25L204.2,169.09L204.7,168.89L205.2,168.92L205.7,169.25L206.2,169.25L206.7,169.25L207.2,169.25L207.7,169.08L208.2,169.25L208.7,169.25L209.2,169.25L209.7,169.25L210.2,169.23L210.7,169.25L211.2,169.25L211.7,169.25L212.2,169.25L212.7,169.25L213.2,169.25L213.7,169.25L214.2,169.25L214.7,169.14L215.2,168.67L215.7,168.55L216.2,168.63L216.7,168.82L217.2,169.25L217.7,167.84L218.2,164.55L218.7,163.53L219.2,165.78L219.7,168.83L220.2,168.79L220.7,168.86L221.2,169.25L221.7,169.25L222.2,169.25L222.7,169.25L223.2,169.25L223.7,169.25L224.2,169.20L224.7,169.25L225.2,169.25L225.7,168.97L226.2,168.99L226.7,169.25L227.2,169.25L227.7,169.25L228.2,169.25L228.7,169.25L229.2,169.25L229.7,169.25L230.2,169.25L230.7,169.25L231.2,169.25L231.7,169.25L232.2,169.25L232.7,169.25L233.2,169.25L233.7,169.25L234.2,169.25L234.7,169.25L235.2,169.25L235.7,169.25L236.2,169.25L236.7,169.25L237.2,169.25L237.7,169.25L238.2,169.25L238.7,169.25L239.2,169.16L239.7,169.25L240.2,169.06L240.7,169.25L241.2,169.25L241.7,169.24L242.2,168.97L242.7,169.09L243.2,169.25L243.7,169.25L244.2,169.25L244.7,169.25L245.2,169.12L245.7,169.25L246.2,169.25L246.7,169.25L247.2,169.14L247.7,169.15L248.2,169.25L248.7,169.25L249.2,169.25L249.7,169.25L250.2,169.25L250.7,169.25L251.2,169.25L251.7,169.25L252.2,169.25L252.7,169.25L253.2,169.25L253.7,169.25L254.2,169.25L254.7,169.25L255.2,169.25L255.7,169.25L256.2,169.25L256.7,169.25L257.2,169.02L257.7,169.25L258.2,169.25L258.7,168.99L259.2,169.25L259.7,169.22L260.2,169.25L260.7,169.25L261.2,169.25L261.7,169.25L262.2,169.25L262.7,169.25L263.2,169.25L263.7,169.25L264.2,169.25L264.7,169.25L265.2,169.25L265.7,168.93L266.2,167.74L266.7,167.26L267.2,167.49L267.7,168.90L268.2,169.25L268.7,169.25L269.2,169.25L269.7,169.25L270.2,169.25L270.7,169.25L271.2,169.25L271.7,169.25L272.2,169.25L272.7,169.25L273.2,169.25L273.7,169.19L274.2,169.25L274.7,169.25L275.2,169.25L275.7,169.21L276.2,169.25L276.7,169.20L277.2,169.25L277.7,169.25L278.2,169.25L278.7,169.25L279.2,169.25L279.7,169.25L280.2,169.25L280.7,169.25L281.2,169.25L281.7,169.25L282.2,169.25L282.7,169.25L283.2,169.25L283.7,169.25L284.2,169.25L284.7,169.25L285.2,169.25L285.7,169.25L286.2,169.25L286.7,169.25L287.2,169.25L287.7,169.25L288.2,169.25L288.7,168.50L289.2,167.52L289.7,167.24L290.2,167.07L290.7,167.64L291.2,168.40L291.7,167.91L292.2,165.89L292.7,164.28L293.2,164.33L293.7,165.66L294.2,167.62L294.7,169.19L295.2,168.50L295.7,167.55L296.2,166.96L296.7,166.99L297.2,166.52L297.7,166.83L298.2,167.73L298.7,168.31L299.2,169.18L299.7,169.25L300.2,169.25L300.7,169.25L301.2,169.25L301.7,169.25L302.2,169.25L302.7,169.25L303.2,169.25L303.7,169.25L304.2,169.25L304.7,169.25L305.2,169.25L305.7,169.23L306.2,169.20L306.7,169.25L307.2,169.01L307.7,168.92L308.2,168.90L308.7,169.20L309.2,169.25L309.7,169.25L310.2,169.25L310.7,169.25L311.2,169.25L311.7,169.25L312.2,169.25L312.7,169.16L313.2,169.07L313.7,169.13L314.2,169.25L314.7,169.25L315.2,169.25L315.7,169.25L316.2,169.25L316.7,169.25L317.2,169.25L317.7,169.25L318.2,169.25L318.7,169.25L319.2,169.25L319.7,169.25L320.2,169.25L320.7,169.25L321.2,169.25L321.7,169.25L322.2,169.25L322.7,169.25L323.2,169.25L323.7,169.25L324.2,169.25L324.7,169.25L325.2,169.25L325.7,169.25L326.2,169.25L326.7,169.25L327.2,169.25L327.7,169.20L328.2,168.96L328.7,168.56L329.2,168.60L329.7,168.82L330.2,168.91L330.7,169.25L331.2,169.01L331.7,169.25L332.2,169.25L332.7,169.25L333.2,169.25L333.7,169.25L334.2,169.25L334.7,169.25L335.2,169.15L335.7,168.85L336.2,168.89L336.7,169.03L337.2,169.25L337.7,169.25L338.2,169.25L338.7,169.25L339.2,169.25L339.7,169.25L340.2,169.25L340.7,169.25L341.2,169.25L341.7,169.25L342.2,169.25L342.7,169.25L343.2,169.25L343.7,169.25L344.0,169.25L344.2,169.25L344.7,169.06L345.2,168.75L345.7,167.98L346.0,168.28L346.2,168.07L346.7,167.79L347.2,167.77L347.4,167.56L347.7,167.54L348.2,167.49L348.5,166.92L348.7,166.05L349.2,163.51L349.7,162.90L350.0,161.41L350.2,162.23L350.7,163.51L351.0,163.83L351.2,164.14L351.7,165.79L352.0,167.04L352.2,167.16L352.7,167.19L353.2,167.70L353.7,167.52L354.0,167.24L354.2,167.62L354.7,168.54L355.0,169.00L355.2,169.07L355.7,168.93L356.0,169.10L356.2,168.89L356.7,168.72L357.2,168.62L357.7,168.66L358.0,168.88L358.2,167.42L358.5,165.86L358.7,164.71L359.0,164.54L359.2,164.06L359.7,165.19L360.0,165.17L360.2,165.38L360.7,165.12L361.2,165.55L361.7,165.45L362.0,165.95L362.2,164.74L362.6,162.66L362.7,161.35L363.2,159.38L363.7,158.48L364.0,158.76L364.2,159.51L364.7,161.70L365.0,162.44L365.2,161.43L365.7,163.08L366.0,163.29L366.2,162.79L366.7,163.37L367.0,163.36L367.2,163.81L367.7,165.15L368.0,166.05L368.2,165.35L368.7,165.27L369.2,166.25L369.7,165.10L370.2,166.20L370.7,165.67L371.2,166.30L371.7,166.15L372.0,165.48L372.2,165.40L372.7,166.35L373.0,166.45L373.2,165.25L373.7,163.16L374.2,160.85L374.7,160.68L375.2,159.79L375.3,159.88L375.7,162.77L376.0,165.45L376.2,165.43L376.7,165.62L377.2,164.62L377.7,165.69L378.0,164.53L378.2,164.71L378.6,162.88L378.7,161.97L379.2,163.09L379.5,162.10L379.7,160.69L380.1,160.57L380.2,160.63L380.7,162.96L380.8,163.24L381.2,163.01L381.6,164.03L381.7,163.59L382.2,161.91L382.3,161.18L382.7,159.86L383.0,159.96L383.2,160.75L383.7,163.75L383.8,165.04L384.2,165.39L384.7,164.85L385.2,165.66L385.7,165.57L386.0,165.50L386.2,166.12L386.5,166.64L386.7,166.65L387.2,166.90L387.7,167.13L388.0,167.32L388.2,167.54L388.7,167.80L389.0,167.79L389.2,167.66L389.7,166.62L390.0,165.44L390.2,165.88L390.7,165.93L391.2,166.53L391.5,166.27L391.7,164.30L392.2,161.65L392.7,164.33L393.0,165.96L393.2,166.18L393.7,166.08L394.2,165.25L394.5,165.34L394.7,164.39L395.2,161.55L395.7,160.63L395.9,160.04L396.2,160.02L396.7,162.69L397.0,162.76L397.2,163.58L397.7,164.84L398.0,165.61L398.2,164.83L398.7,165.53L399.2,165.00L399.7,166.15L400.0,165.44L400.2,166.22L400.7,166.98L401.0,167.22L401.2,167.20L401.7,167.44L402.0,167.17L402.2,167.41L402.7,167.00L403.2,167.48L403.7,167.19L404.0,166.97L404.2,167.16L404.7,167.25L405.2,166.24L405.7,167.25L406.2,167.36L406.7,166.62L407.2,167.77L407.7,166.83L408.2,168.35L408.7,167.11L409.2,168.48L409.7,167.15L410.0,167.33L410.2,167.68L410.7,167.05L411.2,167.10L411.7,166.66L412.0,167.43L412.2,167.90L412.7,169.12L413.2,168.12L413.7,168.25L414.2,169.25L414.7,169.05L415.0,169.25L415.2,169.25L415.7,169.25L416.2,169.25L416.7,169.25L417.2,169.25L417.7,169.25L418.2,169.25L418.7,169.25L419.2,169.25L419.7,169.25L420.2,169.25L420.7,169.25L421.2,169.25L421.7,169.25L422.2,169.25L422.7,169.25L423.2,169.25L423.7,169.25L424.2,169.25L424.7,169.25L425.2,169.25L425.7,169.25L426.2,169.25L426.7,169.25L427.2,169.24L427.7,169.25L428.2,168.79L428.7,168.85L429.2,169.25L429.7,169.25L430.2,169.25L430.7,169.23L431.2,169.25L431.7,169.25L432.2,169.25L432.7,169.25L433.2,169.25L433.7,169.25L434.2,169.16L434.7,169.25L435.2,169.19L435.7,169.25L436.2,169.25L436.7,169.25L437.2,169.25L437.7,169.25L438.2,169.25L438.7,169.25L439.2,169.25L439.7,169.25L440.2,169.16L440.7,168.79L441.2,168.87L441.7,169.25L442.2,169.12L442.7,168.50L443.2,168.44L443.7,169.13L444.2,169.25L444.7,169.25L445.2,169.12L445.7,168.64L446.2,169.03L446.7,168.73L447.2,168.25L447.7,168.11L448.2,168.05L448.7,168.37L449.2,168.56L449.7,169.10L450.2,169.25L450.7,169.04L451.2,168.38L451.7,167.89L452.2,167.69L452.7,167.52L453.2,167.64L453.7,168.09L454.2,168.77L454.7,169.25L455.2,168.14L455.7,168.66L456.2,169.16L456.7,168.31L457.2,168.48L457.7,168.70L458.2,168.15L458.7,168.95L459.2,168.75L459.7,169.11L460.2,168.27L460.7,169.15L461.2,168.52L461.7,168.24L462.2,167.97L462.7,168.59L463.2,168.91L463.7,169.06L464.2,168.85L464.7,169.25L465.2,168.27L465.7,169.25L466.2,168.78L466.7,169.25L467.2,169.25L467.7,169.25L468.2,169.25L468.7,169.25L469.2,169.25L469.7,169.25L470.2,169.25L470.7,169.25L471.2,169.01L471.7,168.64L472.2,168.67L472.7,168.88L473.2,169.08L473.7,169.18L474.2,169.25L474.7,169.25L475.2,169.25L475.7,169.20L476.2,169.25L476.7,169.22L477.2,169.25L477.7,169.25L478.2,169.22L478.7,169.25L479.2,169.25L479.7,169.25L480.2,169.25L480.7,169.16L481.2,169.25L481.7,169.07L482.2,169.03L482.7,169.25L483.2,169.23L483.7,169.25L484.2,169.25L484.7,169.25L485.2,169.25L485.7,169.25L486.2,169.25L486.7,169.25L487.2,169.25L487.7,169.25L488.2,169.07L488.7,168.44L489.2,168.26L489.7,168.09L490.2,168.24L490.7,168.92L491.2,168.69L491.7,169.06L492.2,168.12L492.7,167.90L493.2,168.41L493.7,168.38L494.2,169.25L494.7,168.83L495.2,169.13L495.7,169.25L496.2,169.25L496.7,169.25L497.2,168.89L497.7,168.78L498.2,168.54L498.7,168.39L499.2,169.19L499.7,168.14L500.2,168.74L500.7,168.49L501.2,168.80L501.7,168.93L502.2,169.25L502.7,168.53L503.2,168.68L503.7,169.24L504.2,169.24L504.7,168.98L505.2,169.25L505.7,169.25L506.2,169.25L506.7,169.25L507.2,169.25L507.7,169.25L508.2,169.25L508.7,169.25L509.0,169.25L509.2,169.25L509.2,170.0 Z" fill="#f9a41c"/>
<line x1="48" y1="169.30" x2="101.5" y2="169.30" stroke="#c9c9c9" stroke-width="0.9"/>
<path d="M101,147.80 H103.3 V169.30 H101" fill="none" stroke="#231f20" stroke-width="1.15"/>
<text x="100.80" y="151.30" font-family="'Liberation Sans', sans-serif" font-size="5.40" text-anchor="end" fill="#333"  stroke="#333" stroke-width="0.05">50</text>
<text x="99.30" y="161.30" font-family="'Liberation Sans', sans-serif" font-size="7.90" text-anchor="end" fill="#1a1718" textLength="49.7" lengthAdjust="spacingAndGlyphs"  stroke="#1a1718" stroke-width="0.14">CTL H3K4me2</text>
<path d="M104.2,191.0L104.2,190.25L104.7,190.25L105.2,190.25L105.7,190.25L106.2,190.25L106.7,190.25L107.2,190.25L107.7,190.25L108.2,190.25L108.7,190.25L109.2,190.25L109.7,190.25L110.2,190.25L110.7,190.25L111.2,190.25L111.7,190.25L112.2,190.25L112.7,190.25L113.2,190.25L113.7,190.25L114.2,190.25L114.7,190.25L115.2,190.25L115.7,190.25L116.2,190.25L116.7,190.25L117.2,190.25L117.7,189.90L118.2,189.26L118.7,189.02L119.2,189.15L119.7,189.81L120.2,190.25L120.7,190.25L121.2,190.25L121.7,190.23L122.2,190.25L122.7,190.25L123.2,190.25L123.7,190.25L124.2,190.25L124.7,190.25L125.2,190.25L125.7,190.25L126.2,190.25L126.7,190.25L127.2,190.25L127.7,190.25L128.2,190.25L128.7,190.25L129.2,190.25L129.7,190.25L130.2,190.25L130.7,190.25L131.2,190.25L131.7,190.25L132.2,189.82L132.7,189.38L133.2,189.04L133.7,189.09L134.2,189.42L134.7,189.94L135.2,190.25L135.7,190.25L136.2,190.25L136.7,190.25L137.2,190.25L137.7,190.25L138.2,190.25L138.7,190.25L139.2,190.25L139.7,190.25L140.2,190.25L140.7,190.25L141.2,190.25L141.7,190.25L142.2,190.25L142.7,190.25L143.2,190.25L143.7,190.25L144.2,189.81L144.7,188.51L145.2,187.11L145.7,186.16L146.2,185.03L146.7,185.03L147.2,184.07L147.7,184.67L148.2,185.48L148.7,186.54L149.2,188.11L149.7,189.47L150.2,190.25L150.7,190.25L151.2,190.25L151.7,190.25L152.2,190.25L152.7,190.11L153.2,190.25L153.7,190.25L154.2,189.91L154.7,190.25L155.2,190.14L155.7,190.14L156.2,189.92L156.7,188.49L157.2,186.07L157.7,184.84L158.2,182.85L158.7,183.31L159.2,183.02L159.7,183.68L160.2,184.50L160.7,186.91L161.2,188.90L161.7,190.08L162.2,190.22L162.7,190.25L163.2,189.95L163.7,190.25L164.2,189.96L164.7,190.25L165.2,189.88L165.7,190.25L166.2,190.25L166.7,189.29L167.2,188.63L167.7,188.18L168.2,188.53L168.7,189.44L169.2,190.15L169.7,190.25L170.2,190.25L170.7,190.25L171.2,190.25L171.7,190.25L172.2,190.25L172.7,190.25L173.2,190.25L173.7,190.25L174.2,190.25L174.7,190.25L175.2,190.25L175.7,190.25L176.2,190.25L176.7,190.25L177.2,190.25L177.7,190.25L178.2,190.25L178.7,190.25L179.2,190.25L179.7,189.94L180.2,189.43L180.7,189.20L181.2,189.07L181.7,189.32L182.2,189.96L182.7,190.25L183.2,190.25L183.7,190.25L184.2,190.25L184.7,190.25L185.2,190.25L185.7,190.25L186.2,190.25L186.7,190.25L187.2,190.25L187.7,190.25L188.2,190.25L188.7,190.25L189.2,190.25L189.7,190.25L190.2,188.98L190.7,187.56L191.2,185.79L191.7,185.48L192.2,185.62L192.7,186.26L193.2,188.34L193.7,190.01L194.2,190.25L194.7,190.25L195.2,190.25L195.7,190.25L196.2,190.25L196.7,190.25L197.2,190.25L197.7,190.25L198.2,190.25L198.7,189.68L199.2,188.48L199.7,188.07L200.2,188.93L200.7,190.16L201.2,190.25L201.7,190.25L202.2,190.25L202.7,190.25L203.2,190.25L203.7,190.25L204.2,190.25L204.7,190.25L205.2,190.25L205.7,190.25L206.2,190.25L206.7,190.25L207.2,190.25L207.7,190.25L208.2,190.25L208.7,190.25L209.2,190.25L209.7,190.20L210.2,190.25L210.7,190.25L211.2,190.25L211.7,190.15L212.2,190.25L212.7,190.25L213.2,190.24L213.7,190.16L214.2,190.10L214.7,190.25L215.2,190.25L215.7,190.25L216.2,190.25L216.7,189.99L217.2,188.32L217.7,186.81L218.2,185.69L218.7,185.58L219.2,185.55L219.7,187.41L220.2,189.04L220.7,189.57L221.2,189.08L221.7,188.75L222.2,188.73L222.7,188.49L223.2,188.41L223.7,188.11L224.2,188.36L224.7,188.08L225.2,188.41L225.7,188.37L226.2,188.74L226.7,189.11L227.2,189.52L227.7,189.83L228.2,189.94L228.7,190.25L229.2,190.25L229.7,190.25L230.2,190.25L230.7,190.25L231.2,190.25L231.7,190.25L232.2,190.25L232.7,190.25L233.2,190.25L233.7,190.25L234.2,190.25L234.7,190.25L235.2,190.25L235.7,190.25L236.2,190.25L236.7,190.25L237.2,190.25L237.7,190.25L238.2,190.25L238.7,190.25L239.2,190.25L239.7,190.25L240.2,190.25L240.7,190.25L241.2,190.25L241.7,190.25L242.2,190.25L242.7,190.25L243.2,190.25L243.7,190.25L244.2,190.25L244.7,190.25L245.2,190.25L245.7,190.25L246.2,190.25L246.7,190.25L247.2,190.25L247.7,190.25L248.2,190.25L248.7,190.25L249.2,190.25L249.7,190.15L250.2,190.05L250.7,190.25L251.2,190.25L251.7,190.25L252.2,190.25L252.7,190.25L253.2,190.25L253.7,190.25L254.2,190.25L254.7,190.13L255.2,190.25L255.7,190.25L256.2,190.18L256.7,190.21L257.2,190.25L257.7,190.25L258.2,190.25L258.7,190.25L259.2,190.25L259.7,190.25L260.2,190.25L260.7,190.25L261.2,190.25L261.7,190.25L262.2,190.25L262.7,190.25L263.2,190.25L263.7,190.25L264.2,190.25L264.7,190.05L265.2,190.15L265.7,188.94L266.2,186.22L266.7,185.75L267.2,186.82L267.7,188.96L268.2,190.25L268.7,190.25L269.2,190.25L269.7,190.25L270.2,190.25L270.7,190.03L271.2,190.25L271.7,190.25L272.2,189.80L272.7,190.25L273.2,190.25L273.7,190.25L274.2,190.25L274.7,190.25L275.2,190.25L275.7,190.25L276.2,190.25L276.7,190.25L277.2,190.25L277.7,190.25L278.2,190.25L278.7,190.25L279.2,190.11L279.7,190.25L280.2,190.25L280.7,190.25L281.2,190.25L281.7,190.25L282.2,190.25L282.7,190.25L283.2,190.25L283.7,190.25L284.2,190.25L284.7,190.25L285.2,190.25L285.7,190.25L286.2,190.25L286.7,190.25L287.2,190.25L287.7,190.25L288.2,190.25L288.7,190.25L289.2,190.25L289.7,189.44L290.2,187.60L290.7,185.78L291.2,183.76L291.7,183.45L292.2,183.47L292.7,184.36L293.2,185.52L293.7,187.48L294.2,189.25L294.7,190.25L295.2,189.27L295.7,188.53L296.2,187.47L296.7,187.05L297.2,187.52L297.7,187.34L298.2,188.00L298.7,189.06L299.2,190.10L299.7,190.25L300.2,190.25L300.7,190.25L301.2,190.25L301.7,190.25L302.2,190.25L302.7,190.25L303.2,190.25L303.7,190.25L304.2,190.25L304.7,190.25L305.2,190.25L305.7,190.25L306.2,190.25L306.7,189.88L307.2,187.85L307.7,187.47L308.2,187.46L308.7,189.17L309.2,190.25L309.7,190.25L310.2,190.25L310.7,190.25L311.2,190.25L311.7,190.25L312.2,190.25L312.7,190.25L313.2,190.25L313.7,190.25L314.2,190.25L314.7,190.19L315.2,190.25L315.7,190.25L316.2,190.25L316.7,190.25L317.2,190.25L317.7,190.25L318.2,190.25L318.7,190.25L319.2,190.25L319.7,190.25L320.2,190.25L320.7,190.25L321.2,190.25L321.7,190.25L322.2,190.25L322.7,190.25L323.2,190.25L323.7,190.25L324.2,190.25L324.7,190.25L325.2,190.25L325.7,190.25L326.2,190.25L326.7,190.22L327.2,190.25L327.7,190.24L328.2,189.75L328.7,188.40L329.2,187.33L329.7,187.39L330.2,188.90L330.7,190.25L331.2,190.01L331.7,190.25L332.2,190.25L332.7,190.11L333.2,190.11L333.7,190.25L334.2,190.25L334.7,190.25L335.2,189.48L335.7,187.99L336.2,187.21L336.7,187.67L337.2,189.45L337.7,190.15L338.2,190.25L338.7,190.25L339.2,190.08L339.7,190.15L340.2,190.25L340.7,190.25L341.2,190.25L341.7,190.25L342.2,190.25L342.7,190.25L343.2,190.25L343.7,190.25L344.0,190.25L344.2,190.25L344.7,190.25L345.2,190.25L345.7,190.15L346.0,190.00L346.2,189.37L346.7,188.19L347.0,186.92L347.2,186.89L347.7,186.70L348.2,185.87L348.5,184.82L348.7,184.00L349.2,182.41L349.7,179.23L350.2,182.21L350.5,181.17L350.7,184.06L351.0,186.89L351.2,187.20L351.7,187.00L352.2,187.17L352.7,187.48L353.0,187.09L353.2,187.86L353.7,189.08L354.0,189.99L354.2,189.93L354.7,189.89L355.2,189.87L355.7,190.15L356.0,189.96L356.2,190.00L356.7,190.12L357.0,189.97L357.2,188.34L357.5,186.21L357.7,185.94L358.0,184.28L358.2,184.50L358.7,183.70L358.8,184.12L359.2,185.29L359.5,185.80L359.7,185.62L360.2,185.87L360.7,186.54L361.2,186.15L361.7,185.77L362.0,186.46L362.2,184.76L362.5,180.37L362.7,180.79L363.2,178.15L363.7,172.57L363.8,174.37L364.2,172.60L364.5,169.80L364.7,171.96L365.2,179.29L365.7,180.49L366.2,181.27L366.5,178.75L366.7,181.02L367.2,180.64L367.5,182.03L367.7,182.24L368.2,180.27L368.7,183.11L369.0,183.12L369.2,181.78L369.7,182.09L370.2,182.95L370.5,181.95L370.7,184.24L371.2,184.19L371.7,184.99L372.0,184.96L372.2,185.29L372.7,185.36L373.2,184.21L373.5,184.71L373.7,182.35L374.2,175.81L374.7,176.00L375.2,177.62L375.3,177.12L375.7,180.41L376.0,182.64L376.2,183.10L376.7,184.39L377.2,182.83L377.5,183.89L377.7,183.11L378.2,184.38L378.5,181.80L378.7,181.80L379.2,181.63L379.5,178.90L379.7,178.86L380.1,174.84L380.2,174.53L380.7,179.93L380.8,181.74L381.2,181.48L381.7,183.15L382.0,180.67L382.2,182.67L382.7,181.34L383.2,183.82L383.5,182.72L383.7,182.57L384.2,184.43L384.5,186.71L384.7,186.78L385.2,186.36L385.7,186.43L386.0,187.15L386.2,187.00L386.7,186.84L387.2,186.90L387.7,187.69L388.0,187.58L388.2,187.60L388.7,186.92L389.2,187.11L389.7,187.51L390.0,187.55L390.2,186.79L390.7,185.38L391.0,185.70L391.2,185.46L391.7,185.82L392.2,186.17L392.5,184.86L392.7,184.58L393.2,184.44L393.7,183.80L394.0,182.08L394.2,183.51L394.7,180.35L395.2,181.33L395.7,183.49L396.0,184.59L396.2,183.68L396.7,184.29L397.2,183.79L397.5,183.48L397.7,184.70L398.2,186.44L398.5,186.48L398.7,185.87L399.2,187.12L399.7,185.84L400.0,185.87L400.2,187.09L400.7,187.17L401.2,187.74L401.7,187.70L402.0,187.74L402.2,187.77L402.7,188.11L403.2,188.26L403.7,188.03L404.0,187.61L404.2,188.28L404.7,188.40L405.2,188.05L405.7,188.05L406.0,188.66L406.2,188.48L406.7,188.83L407.2,188.62L407.7,189.08L408.2,188.83L408.7,188.97L409.2,189.54L409.7,189.34L410.0,189.69L410.2,189.42L410.7,188.97L411.2,189.75L411.7,188.66L412.2,188.41L412.7,187.81L413.2,187.21L413.7,187.11L414.2,188.11L414.7,189.15L415.2,190.12L415.7,190.17L416.2,190.25L416.7,189.84L417.2,190.25L417.7,189.05L418.2,189.18L418.7,189.49L419.2,189.01L419.7,189.15L420.2,188.94L420.7,188.62L421.2,187.70L421.7,188.15L422.2,187.11L422.7,188.37L423.2,187.60L423.7,188.23L424.2,188.17L424.7,188.95L425.2,186.09L425.7,185.54L426.2,184.87L426.7,185.69L427.2,188.46L427.7,189.86L428.2,190.25L428.7,189.89L429.2,190.25L429.7,190.25L430.0,190.25L430.2,190.17L430.7,190.25L431.2,190.25L431.7,190.25L432.2,190.25L432.7,190.25L433.2,190.25L433.7,190.13L434.2,190.25L434.7,190.01L435.2,190.25L435.7,190.25L436.2,190.10L436.7,190.24L437.2,190.25L437.7,189.46L438.2,188.80L438.7,189.63L439.2,188.25L439.7,188.44L440.2,189.29L440.7,189.88L441.2,188.62L441.7,187.14L442.2,187.99L442.7,188.23L443.2,186.93L443.7,187.34L444.2,186.93L444.7,188.15L445.2,188.02L445.7,189.01L446.2,187.85L446.7,188.28L447.2,189.85L447.7,189.61L448.2,190.25L448.7,190.25L449.2,189.40L449.7,189.70L450.2,189.88L450.7,190.15L451.2,188.85L451.7,187.36L452.2,186.57L452.7,186.20L453.2,186.51L453.7,187.74L454.2,189.56L454.7,189.53L455.2,190.01L455.7,189.84L456.2,189.61L456.7,189.41L457.2,189.18L457.7,189.26L458.2,188.98L458.7,187.77L459.2,187.52L459.7,187.46L460.2,187.49L460.7,188.84L461.2,189.99L461.7,190.17L462.2,190.25L462.7,190.25L463.2,188.91L463.7,188.07L464.2,187.82L464.7,188.70L465.2,189.83L465.7,190.25L466.2,190.25L466.7,190.07L467.2,189.70L467.7,190.25L468.0,189.11L468.2,189.78L468.7,189.60L469.2,189.94L469.7,188.83L470.2,189.63L470.7,189.87L471.2,189.74L471.7,188.97L472.0,189.23L472.2,189.78L472.7,189.59L473.2,189.78L473.7,190.25L474.2,190.09L474.7,190.25L475.2,190.25L475.7,190.25L476.2,190.25L476.7,190.12L477.2,189.93L477.7,190.25L478.2,189.33L478.7,190.25L479.2,190.24L479.7,189.00L480.2,190.25L480.7,189.59L481.2,189.69L481.7,189.52L482.2,189.31L482.7,189.54L483.2,189.47L483.7,190.25L484.2,190.25L484.7,190.05L485.2,190.25L485.7,190.25L486.2,190.25L486.7,190.25L487.2,190.25L487.7,190.25L488.2,189.56L488.7,188.77L489.2,188.42L489.7,188.38L490.2,188.50L490.7,189.21L491.2,190.19L491.7,190.25L492.2,190.25L492.7,190.25L493.2,190.25L493.7,190.25L494.2,190.18L494.7,190.06L495.2,189.97L495.7,189.77L496.2,190.25L496.7,190.25L497.2,189.86L497.7,190.16L498.2,190.11L498.7,189.56L499.2,189.40L499.7,190.24L500.2,190.25L500.7,189.45L501.2,189.55L501.7,190.07L502.2,189.87L502.7,189.41L503.2,190.02L503.7,190.25L504.2,190.12L504.7,190.10L505.2,190.02L505.7,190.25L506.2,190.25L506.7,190.25L507.2,190.25L507.7,190.25L508.2,190.25L508.7,190.25L509.0,190.25L509.2,190.25L509.2,191.0 Z" fill="#f9a41c"/>
<line x1="48" y1="190.90" x2="101.5" y2="190.90" stroke="#c9c9c9" stroke-width="0.9"/>
<path d="M101,170.30 H103.3 V190.90 H101" fill="none" stroke="#231f20" stroke-width="1.15"/>
<text x="100.80" y="173.80" font-family="'Liberation Sans', sans-serif" font-size="5.40" text-anchor="end" fill="#333"  stroke="#333" stroke-width="0.05">50</text>
<text x="99.30" y="183.35" font-family="'Liberation Sans', sans-serif" font-size="7.90" text-anchor="end" fill="#1a1718" textLength="52.0" lengthAdjust="spacingAndGlyphs"  stroke="#1a1718" stroke-width="0.14">QPD H3K4me2</text>
<rect x="104.2" y="195.7" width="405.0" height="20.9" fill="#e0dfdb"/>
<path d="M104.2,217.0L104.2,216.25L104.7,216.25L105.2,216.25L105.7,216.25L106.2,216.25L106.7,216.25L107.2,216.00L107.7,216.11L108.2,216.22L108.7,215.74L109.2,216.25L109.7,215.99L110.2,215.59L110.7,215.96L111.2,215.87L111.7,216.22L112.2,215.74L112.7,216.08L113.2,216.25L113.7,216.25L114.2,216.25L114.7,216.25L115.2,216.25L115.7,216.25L116.2,216.25L116.7,216.25L117.2,216.15L117.7,216.25L118.2,216.25L118.7,216.22L119.2,216.20L119.7,216.25L120.2,216.25L120.7,216.25L121.2,215.88L121.7,216.02L122.2,216.25L122.7,216.10L123.2,216.25L123.7,216.25L124.2,216.25L124.7,216.17L125.2,216.25L125.7,216.25L126.2,216.22L126.7,216.25L127.2,216.25L127.7,216.25L128.2,216.25L128.7,216.25L129.2,216.25L129.7,216.25L130.2,216.25L130.7,216.25L131.2,216.25L131.7,216.25L132.2,216.25L132.7,216.25L133.2,216.25L133.7,216.25L134.2,216.25L134.7,216.25L135.2,216.25L135.7,216.25L136.2,216.25L136.7,216.25L137.2,216.14L137.7,216.25L138.2,216.25L138.7,216.09L139.2,216.25L139.7,216.10L140.2,216.14L140.7,216.25L141.2,216.25L141.7,216.25L142.2,216.25L142.7,216.25L143.2,216.25L143.7,216.25L144.2,216.25L144.7,216.25L145.2,216.25L145.7,216.25L146.2,216.25L146.7,215.26L147.2,214.45L147.7,214.09L148.2,214.99L148.7,216.25L149.2,216.25L149.7,216.25L150.2,216.25L150.7,216.25L151.2,216.25L151.7,216.25L152.2,216.25L152.7,215.93L153.2,215.76L153.7,215.66L154.2,216.19L154.7,215.96L155.2,216.25L155.7,215.82L156.2,215.73L156.7,216.09L157.2,216.25L157.7,215.94L158.2,215.98L158.7,215.56L159.2,215.55L159.7,216.14L160.2,216.25L160.7,216.25L161.2,216.25L161.7,216.25L162.2,215.85L162.7,216.25L163.2,216.21L163.7,215.65L164.2,216.25L164.7,215.79L165.2,216.15L165.7,216.25L166.2,216.25L166.7,216.25L167.2,216.25L167.7,216.25L168.2,216.25L168.7,216.25L169.2,216.21L169.7,216.24L170.2,216.03L170.7,215.89L171.2,216.25L171.7,216.25L172.2,215.78L172.7,215.80L173.2,216.18L173.7,216.25L174.2,216.25L174.7,216.25L175.2,215.97L175.7,216.25L176.2,216.25L176.7,216.25L177.2,216.25L177.7,216.25L178.2,216.25L178.7,216.25L179.2,216.25L179.7,216.25L180.2,216.25L180.7,216.07L181.2,215.93L181.7,216.11L182.2,216.25L182.7,216.25L183.2,216.25L183.7,216.13L184.2,216.12L184.7,216.25L185.2,216.25L185.7,216.25L186.2,216.25L186.7,216.25L187.2,215.91L187.7,215.77L188.2,215.52L188.7,216.12L189.2,216.25L189.7,216.20L190.2,216.25L190.7,216.25L191.2,215.49L191.7,215.21L192.2,215.20L192.7,216.11L193.2,216.25L193.7,216.25L194.2,216.25L194.7,216.25L195.2,216.15L195.7,216.25L196.2,216.01L196.7,216.25L197.2,216.25L197.7,216.21L198.2,216.25L198.7,216.25L199.2,216.25L199.7,216.25L200.2,216.25L200.7,216.25L201.2,216.25L201.7,216.22L202.2,216.25L202.7,216.25L203.2,216.25L203.7,216.25L204.2,216.25L204.7,216.25L205.2,216.25L205.7,216.25L206.2,216.25L206.7,216.25L207.2,216.25L207.7,216.25L208.2,216.25L208.7,216.25L209.2,216.25L209.7,216.25L210.2,216.25L210.7,216.25L211.2,216.25L211.7,216.25L212.2,215.89L212.7,216.03L213.2,215.61L213.7,216.25L214.2,215.97L214.7,216.25L215.2,216.25L215.7,216.25L216.2,216.25L216.7,216.25L217.2,216.02L217.7,216.25L218.2,216.25L218.7,216.25L219.2,215.78L219.7,216.25L220.2,216.25L220.7,215.91L221.2,216.25L221.7,216.18L222.2,216.25L222.7,216.25L223.2,216.25L223.7,216.25L224.2,216.25L224.7,216.25L225.2,216.25L225.7,216.25L226.2,216.25L226.7,216.25L227.2,216.25L227.7,216.25L228.2,216.20L228.7,215.82L229.2,216.13L229.7,216.25L230.2,216.20L230.7,215.89L231.2,215.77L231.7,216.25L232.2,215.95L232.7,216.25L233.2,215.62L233.7,215.81L234.2,216.07L234.7,216.14L235.2,216.21L235.7,216.25L236.2,216.25L236.7,216.25L237.2,216.25L237.7,216.25L238.2,216.25L238.7,216.25L239.2,216.25L239.7,216.25L240.2,216.25L240.7,216.25L241.2,216.25L241.7,216.25L242.2,216.25L242.7,216.25L243.2,216.25L243.7,216.25L244.2,216.25L244.7,216.25L245.2,216.25L245.7,216.25L246.2,216.25L246.7,216.16L247.2,216.07L247.7,216.09L248.2,216.25L248.7,216.13L249.2,216.25L249.7,216.25L250.2,216.25L250.7,216.25L251.2,216.25L251.7,216.25L252.2,216.25L252.7,216.25L253.2,216.25L253.7,216.25L254.2,216.25L254.7,216.25L255.2,216.25L255.7,215.98L256.2,215.98L256.7,216.25L257.2,216.25L257.7,216.25L258.2,216.25L258.7,216.25L259.2,216.25L259.7,216.12L260.2,216.25L260.7,216.25L261.2,216.01L261.7,216.06L262.2,216.25L262.7,215.92L263.2,216.08L263.7,216.00L264.2,216.04L264.7,215.80L265.2,216.03L265.7,215.81L266.2,216.25L266.7,216.25L267.2,216.25L267.7,216.25L268.2,216.25L268.7,216.25L269.2,216.25L269.7,216.25L270.2,216.25L270.7,216.25L271.2,216.25L271.7,216.25L272.2,216.25L272.7,216.22L273.2,216.23L273.7,215.87L274.2,216.25L274.7,216.15L275.2,215.58L275.7,215.78L276.2,216.25L276.7,215.91L277.2,216.24L277.7,216.25L278.2,216.25L278.7,216.25L279.2,216.25L279.7,216.25L280.2,216.25L280.7,216.25L281.2,216.25L281.7,216.25L282.2,216.25L282.7,216.25L283.2,216.25L283.7,216.25L284.2,216.25L284.7,216.25L285.2,216.25L285.7,216.25L286.0,216.25L286.2,216.25L286.7,216.25L287.2,216.25L287.7,216.23L288.2,216.23L288.7,216.22L289.2,216.21L289.5,216.13L289.7,215.88L290.2,214.78L290.5,214.08L290.7,212.47L291.0,211.24L291.2,209.96L291.7,208.84L292.0,209.51L292.2,207.29L292.7,205.15L292.8,205.82L293.2,202.85L293.3,202.68L293.7,203.29L294.0,204.17L294.2,206.74L294.7,208.67L294.8,208.42L295.2,209.40L295.5,210.49L295.7,211.01L296.2,215.00L296.7,215.69L297.0,216.01L297.2,215.78L297.7,215.55L298.0,215.40L298.2,215.46L298.7,215.84L299.0,215.98L299.2,216.06L299.7,216.25L300.0,216.25L300.2,216.25L300.7,216.25L301.2,216.14L301.7,216.22L302.2,216.25L302.7,216.25L303.2,216.25L303.7,216.25L304.2,216.25L304.7,216.25L305.2,216.25L305.7,216.25L306.2,216.25L306.7,216.24L307.2,215.78L307.7,215.55L308.2,215.61L308.7,216.00L309.2,216.25L309.7,216.25L310.2,216.25L310.7,216.00L311.2,216.25L311.7,215.97L312.2,215.93L312.7,215.93L313.2,215.73L313.7,215.98L314.2,215.65L314.7,216.25L315.2,216.21L315.7,216.25L316.2,216.25L316.7,216.25L317.2,216.25L317.7,216.25L318.2,216.25L318.7,216.25L319.2,216.25L319.7,216.25L320.2,216.25L320.7,216.25L321.2,216.25L321.7,216.25L322.2,216.25L322.7,216.21L323.2,216.25L323.7,216.25L324.2,216.13L324.7,215.62L325.2,216.04L325.7,216.25L326.2,216.25L326.7,216.25L327.2,216.25L327.7,216.03L328.2,216.16L328.7,216.16L329.2,216.25L329.7,216.25L330.2,216.25L330.7,216.25L331.2,216.25L331.7,216.25L332.2,216.25L332.7,216.25L333.2,216.25L333.7,216.25L334.2,216.25L334.7,216.25L335.2,216.25L335.7,216.25L336.2,216.25L336.7,216.25L337.2,216.25L337.7,216.21L338.2,216.25L338.7,215.88L339.2,216.25L339.7,216.25L340.2,216.11L340.7,216.16L341.2,216.25L341.7,216.25L342.2,216.25L342.7,216.25L343.2,216.25L343.7,216.25L344.2,216.25L344.7,216.25L345.2,216.25L345.7,216.25L346.0,216.25L346.2,216.25L346.7,216.25L347.2,216.25L347.7,216.25L348.2,216.25L348.5,216.13L348.7,215.79L349.0,214.98L349.2,215.17L349.7,214.81L350.2,215.01L350.7,214.98L351.2,214.79L351.5,215.14L351.7,215.41L352.0,216.25L352.2,216.25L352.7,216.25L353.2,216.25L353.7,216.25L354.2,216.25L354.7,216.25L355.2,215.91L355.7,216.25L356.2,216.15L356.7,216.25L357.2,216.25L357.7,216.25L358.0,216.18L358.2,215.55L358.5,213.74L358.7,213.87L359.2,213.21L359.7,213.52L360.2,213.34L360.7,212.79L361.2,212.99L361.5,213.39L361.7,214.44L362.0,216.22L362.2,216.25L362.7,216.16L363.2,216.25L363.7,216.17L364.2,216.19L364.7,216.14L365.2,216.18L365.7,216.12L366.2,216.25L366.7,216.04L367.2,216.12L367.7,215.53L368.2,216.25L368.7,215.87L369.2,216.10L369.7,216.23L370.2,216.25L370.7,216.13L371.2,216.25L371.7,216.23L372.2,216.25L372.7,216.20L373.2,216.25L373.5,216.15L373.7,215.31L374.0,214.12L374.2,213.97L374.7,213.36L375.2,212.72L375.7,212.93L376.2,213.10L376.7,213.17L377.2,213.43L377.5,213.27L377.7,214.33L378.0,214.91L378.2,215.18L378.7,214.91L379.2,215.23L379.5,214.86L379.7,213.59L380.0,212.18L380.2,211.75L380.4,211.53L380.7,211.74L381.2,211.73L381.5,211.74L381.7,211.44L382.2,210.76L382.4,210.66L382.7,211.21L383.2,212.18L383.5,212.00L383.7,213.42L384.0,215.58L384.2,215.64L384.7,215.67L385.2,215.55L385.7,215.84L386.0,215.79L386.2,215.86L386.7,215.73L387.2,215.77L387.7,215.77L388.2,215.79L388.7,215.90L389.2,215.82L389.7,215.98L390.2,216.06L390.7,215.60L391.0,215.52L391.2,215.65L391.5,214.95L391.7,214.94L392.2,214.94L392.7,214.77L392.8,214.80L393.2,211.41L393.7,212.27L394.0,211.50L394.2,210.20L394.5,205.99L394.7,206.90L395.2,203.92L395.3,205.39L395.7,202.24L396.2,201.52L396.7,203.35L397.2,203.99L397.7,208.78L398.2,209.15L398.7,209.33L398.8,209.08L399.2,214.02L399.7,215.10L400.0,215.36L400.2,215.38L400.7,215.55L401.2,215.67L401.7,215.49L402.0,215.72L402.2,215.61L402.7,215.51L403.2,215.56L403.7,215.72L404.2,215.63L404.7,215.85L405.2,215.63L405.7,215.70L406.2,215.72L406.7,215.79L407.2,215.80L407.7,215.76L408.2,215.93L408.7,215.90L409.2,216.06L409.7,216.07L410.0,216.01L410.2,216.25L410.7,216.25L411.2,216.25L411.7,216.25L412.2,216.25L412.7,216.25L413.2,216.25L413.7,216.25L414.2,216.25L414.7,216.25L415.2,216.25L415.7,216.25L416.2,216.25L416.7,215.90L417.2,216.04L417.7,215.94L418.2,216.16L418.7,215.09L419.2,215.32L419.7,215.94L420.2,215.07L420.7,216.11L421.2,215.32L421.7,215.43L422.2,215.69L422.7,216.25L423.2,215.56L423.7,215.97L424.2,216.25L424.7,215.89L425.2,215.73L425.7,215.84L426.2,216.25L426.7,216.14L427.2,216.02L427.7,215.83L428.2,215.92L428.7,215.35L429.2,214.98L429.7,215.29L430.2,215.45L430.7,215.95L431.2,215.64L431.7,215.85L432.2,215.74L432.7,215.95L433.2,214.94L433.7,215.75L434.2,216.06L434.7,215.71L435.2,216.19L435.7,216.19L436.2,216.25L436.7,216.25L437.2,216.25L437.7,216.24L438.2,215.83L438.7,216.11L439.2,215.30L439.7,216.25L440.2,216.16L440.7,216.07L441.2,216.02L441.7,216.25L442.2,216.25L442.7,216.25L443.2,216.25L443.7,216.25L444.2,216.25L444.7,216.11L445.2,215.91L445.7,215.94L446.2,215.51L446.7,215.57L447.2,215.14L447.7,215.73L448.2,215.03L448.7,216.25L449.2,215.36L449.7,215.38L450.2,216.21L450.7,215.14L451.2,215.86L451.7,215.13L452.2,215.08L452.7,215.88L453.2,215.23L453.7,216.25L454.2,216.25L454.7,215.58L455.2,215.77L455.7,216.25L456.2,216.24L456.7,216.25L457.2,216.09L457.7,216.25L458.2,216.25L458.7,216.25L459.2,216.25L459.7,216.25L460.2,216.25L460.7,216.25L461.2,216.25L461.7,216.25L462.2,216.25L462.7,216.25L463.2,216.25L463.7,216.25L464.2,215.90L464.7,215.64L465.2,215.55L465.7,215.80L466.2,216.25L466.7,215.94L467.2,215.83L467.7,216.25L468.2,215.58L468.7,215.75L469.2,215.72L469.7,215.97L470.2,216.25L470.7,216.23L471.2,216.25L471.7,216.25L472.2,216.25L472.7,216.25L473.2,216.25L473.7,216.00L474.2,216.25L474.7,216.25L475.2,216.25L475.7,216.25L476.2,216.25L476.7,216.06L477.2,216.25L477.7,216.25L478.2,216.25L478.7,216.25L479.2,216.25L479.7,216.25L480.2,216.25L480.7,216.25L481.2,216.25L481.7,216.25L482.2,216.25L482.7,216.25L483.2,216.25L483.7,216.25L484.2,216.25L484.7,216.25L485.2,216.25L485.7,216.25L486.2,216.25L486.7,216.09L487.2,216.25L487.7,216.25L488.2,216.25L488.7,215.81L489.2,216.13L489.7,215.61L490.2,216.25L490.7,215.59L491.2,216.08L491.7,216.20L492.2,216.25L492.7,216.25L493.2,216.10L493.7,216.25L494.2,216.25L494.7,216.25L495.2,216.25L495.7,216.25L496.2,216.25L496.7,216.25L497.2,216.25L497.7,216.25L498.2,216.03L498.7,216.25L499.2,216.08L499.7,216.07L500.2,215.92L500.7,216.12L501.2,216.09L501.7,216.08L502.2,216.25L502.7,216.25L503.2,216.25L503.7,215.82L504.2,216.13L504.7,216.20L505.2,215.75L505.7,215.95L506.2,216.04L506.7,216.05L507.2,216.25L507.7,216.18L508.2,216.25L508.7,216.03L509.0,216.22L509.2,216.25L509.2,217.0 Z" fill="#1e1a8c"/>
<line x1="48" y1="216.60" x2="101.5" y2="216.60" stroke="#c9c9c9" stroke-width="0.9"/>
<path d="M101,196.20 H103.3 V216.60 H101" fill="none" stroke="#231f20" stroke-width="1.15"/>
<text x="100.80" y="199.70" font-family="'Liberation Sans', sans-serif" font-size="5.40" text-anchor="end" fill="#333"  stroke="#333" stroke-width="0.05">50</text>
<text x="99.30" y="209.15" font-family="'Liberation Sans', sans-serif" font-size="7.90" text-anchor="end" fill="#1a1718" textLength="47.1" lengthAdjust="spacingAndGlyphs"  stroke="#1a1718" stroke-width="0.14">CTL H3K27ac</text>
<path d="M104.2,238.0L104.2,237.25L104.7,237.25L105.2,237.25L105.7,237.25L106.2,237.25L106.7,237.24L107.2,237.25L107.7,237.10L108.2,237.25L108.7,237.25L109.2,237.25L109.7,237.25L110.2,237.25L110.7,237.25L111.2,237.25L111.7,237.25L112.2,237.25L112.7,237.25L113.2,237.25L113.7,237.25L114.2,237.25L114.7,237.25L115.2,237.25L115.7,237.25L116.2,237.25L116.7,237.25L117.2,237.25L117.7,237.25L118.2,237.25L118.7,237.25L119.2,237.25L119.7,237.25L120.2,237.25L120.7,237.25L121.2,237.25L121.7,237.25L122.2,237.25L122.7,237.25L123.2,237.25L123.7,237.25L124.2,237.25L124.7,237.25L125.2,237.25L125.7,237.25L126.2,237.25L126.7,237.25L127.2,237.25L127.7,237.25L128.2,237.25L128.7,237.25L129.2,237.25L129.7,237.25L130.2,237.25L130.7,237.25L131.2,237.25L131.7,237.25L132.2,237.25L132.7,237.25L133.2,237.25L133.7,237.25L134.2,237.25L134.7,237.25L135.2,237.25L135.7,237.25L136.2,237.25L136.7,237.25L137.2,237.25L137.7,237.25L138.2,237.25L138.7,237.25L139.2,237.25L139.7,237.25L140.2,237.25L140.7,237.25L141.2,237.25L141.7,237.25L142.2,237.25L142.7,237.25L143.2,237.25L143.7,237.25L144.2,237.25L144.7,237.25L145.2,237.25L145.7,237.25L146.2,237.23L146.7,236.03L147.2,235.02L147.7,234.92L148.2,235.73L148.7,236.91L149.2,237.25L149.7,237.25L150.2,236.74L150.7,236.71L151.2,237.25L151.7,237.22L152.2,236.81L152.7,236.76L153.2,237.25L153.7,237.05L154.2,237.25L154.7,237.25L155.2,236.85L155.7,237.05L156.2,237.25L156.7,236.73L157.2,237.25L157.7,237.25L158.2,237.25L158.7,237.05L159.2,237.11L159.7,237.25L160.2,237.25L160.7,237.25L161.2,237.25L161.7,237.25L162.2,237.25L162.7,237.25L163.2,237.25L163.7,237.25L164.2,237.25L164.7,237.25L165.2,237.25L165.7,237.25L166.2,237.12L166.7,237.03L167.2,237.25L167.7,237.25L168.2,237.25L168.7,237.25L169.2,237.03L169.7,237.25L170.2,237.25L170.7,237.25L171.2,237.25L171.7,237.25L172.2,237.25L172.7,237.25L173.2,237.25L173.7,237.25L174.2,237.25L174.7,237.25L175.2,237.25L175.7,237.25L176.2,237.25L176.7,237.25L177.2,237.24L177.7,237.25L178.2,237.21L178.7,236.96L179.2,236.94L179.7,237.25L180.2,237.25L180.7,236.69L181.2,237.25L181.7,237.13L182.2,237.19L182.7,237.25L183.2,237.09L183.7,237.25L184.2,237.16L184.7,236.97L185.2,236.92L185.7,237.25L186.2,237.25L186.7,237.25L187.2,237.25L187.7,237.25L188.2,237.25L188.7,237.25L189.2,237.25L189.7,237.25L190.2,237.25L190.7,236.95L191.2,235.45L191.7,234.60L192.2,235.13L192.7,236.35L193.2,237.25L193.7,237.25L194.2,237.25L194.7,237.25L195.2,237.25L195.7,237.25L196.2,237.25L196.7,237.25L197.2,237.20L197.7,236.85L198.2,236.71L198.7,237.00L199.2,236.73L199.7,237.25L200.2,236.94L200.7,237.25L201.2,237.25L201.7,237.25L202.2,237.25L202.7,237.25L203.2,237.25L203.7,237.25L204.2,237.25L204.7,237.22L205.2,237.25L205.7,237.25L206.2,237.04L206.7,237.25L207.2,237.21L207.7,237.25L208.2,237.25L208.7,237.25L209.2,237.25L209.7,237.25L210.2,237.25L210.7,237.25L211.2,237.25L211.7,237.25L212.2,237.22L212.7,237.25L213.2,237.11L213.7,237.25L214.2,237.20L214.7,237.23L215.2,237.24L215.7,237.25L216.2,237.25L216.7,237.12L217.2,237.25L217.7,237.18L218.2,237.12L218.7,237.10L219.2,237.25L219.7,237.25L220.2,237.07L220.7,236.85L221.2,237.16L221.7,237.25L222.2,237.01L222.7,237.23L223.2,237.25L223.7,237.25L224.2,237.25L224.7,237.25L225.2,237.25L225.7,237.25L226.2,237.25L226.7,237.25L227.2,237.25L227.7,237.25L228.2,237.25L228.7,237.25L229.2,237.25L229.7,237.25L230.2,237.25L230.7,237.25L231.2,237.25L231.7,237.25L232.2,237.25L232.7,237.25L233.2,237.25L233.7,237.25L234.2,237.25L234.7,237.25L235.2,237.25L235.7,237.03L236.2,236.96L236.7,236.99L237.2,237.25L237.7,236.85L238.2,236.84L238.7,237.25L239.2,237.25L239.7,237.25L240.2,237.25L240.7,237.25L241.2,237.25L241.7,237.25L242.2,237.25L242.7,237.25L243.2,237.25L243.7,237.25L244.2,237.25L244.7,237.25L245.2,237.23L245.7,237.04L246.2,236.97L246.7,237.25L247.2,237.23L247.7,237.25L248.2,237.25L248.7,237.25L249.2,237.25L249.7,237.25L250.2,237.25L250.7,237.25L251.2,237.25L251.7,237.25L252.2,237.25L252.7,237.25L253.2,237.25L253.7,237.25L254.2,237.25L254.7,237.25L255.2,237.25L255.7,237.25L256.2,237.25L256.7,237.25L257.2,237.25L257.7,237.21L258.2,237.25L258.7,237.25L259.2,237.22L259.7,237.25L260.2,237.25L260.7,237.19L261.2,237.25L261.7,237.25L262.2,237.25L262.7,237.25L263.2,237.25L263.7,237.25L264.2,237.25L264.7,237.25L265.2,237.25L265.7,237.25L266.2,237.19L266.7,237.06L267.2,237.22L267.7,237.25L268.2,237.25L268.7,237.25L269.2,237.25L269.7,237.25L270.2,237.25L270.7,237.25L271.2,237.25L271.7,237.25L272.2,237.25L272.7,237.25L273.2,237.25L273.7,237.25L274.2,237.25L274.7,237.25L275.2,237.20L275.7,236.92L276.2,237.25L276.7,237.25L277.2,237.25L277.7,237.05L278.2,237.25L278.7,237.25L279.2,237.07L279.7,237.21L280.2,237.25L280.7,237.24L281.2,237.25L281.7,237.24L282.2,237.25L282.7,237.22L283.2,237.25L283.7,237.25L284.2,237.25L284.7,237.25L285.2,237.25L285.7,237.25L286.0,237.25L286.2,237.25L286.7,237.25L287.2,237.25L287.7,237.25L288.2,237.25L288.7,237.15L289.2,237.16L289.5,236.96L289.7,236.35L290.2,233.97L290.5,232.54L290.7,231.68L291.2,230.10L291.3,230.53L291.7,230.11L292.2,227.91L292.3,227.52L292.7,224.86L293.0,224.66L293.2,223.33L293.7,225.99L293.8,225.27L294.2,225.57L294.5,227.55L294.7,229.31L295.2,228.66L295.5,230.06L295.7,231.05L296.2,233.37L296.5,234.64L296.7,235.43L297.2,236.59L297.5,237.04L297.7,237.05L298.2,237.06L298.7,237.20L299.2,237.25L299.7,237.25L300.0,237.25L300.2,237.25L300.7,237.25L301.2,237.25L301.7,237.25L302.2,237.25L302.7,237.25L303.2,237.25L303.7,237.25L304.2,237.25L304.7,237.25L305.2,237.25L305.7,237.25L306.2,237.25L306.7,237.25L307.2,236.54L307.7,236.21L308.2,236.16L308.7,237.09L309.2,237.25L309.7,237.25L310.2,237.25L310.7,237.25L311.2,237.25L311.7,237.25L312.2,237.25L312.7,237.25L313.2,237.25L313.7,237.25L314.2,237.25L314.7,237.25L315.2,237.25L315.7,237.25L316.2,237.25L316.7,237.25L317.2,237.25L317.7,237.25L318.2,237.25L318.7,237.25L319.2,237.25L319.7,237.25L320.2,237.25L320.7,237.25L321.2,237.25L321.7,237.25L322.2,237.25L322.7,237.25L323.2,236.99L323.7,236.86L324.2,237.25L324.7,237.06L325.2,237.11L325.7,236.70L326.2,237.07L326.7,237.25L327.2,237.04L327.7,237.25L328.2,237.25L328.7,237.25L329.2,237.25L329.7,237.25L330.2,237.25L330.7,237.08L331.2,236.91L331.7,237.25L332.2,237.25L332.7,237.06L333.2,237.25L333.7,237.25L334.2,237.25L334.7,237.25L335.2,236.73L335.7,236.93L336.2,237.25L336.7,237.25L337.2,236.93L337.7,237.25L338.2,237.25L338.7,237.25L339.2,237.25L339.7,237.12L340.2,237.03L340.7,237.07L341.2,237.17L341.7,237.25L342.2,237.25L342.7,237.25L343.2,237.25L343.7,237.25L344.2,237.19L344.7,237.25L345.2,236.64L345.7,236.75L346.0,237.16L346.2,237.25L346.7,237.25L347.2,237.17L347.7,237.13L348.2,236.95L348.5,236.91L348.7,236.70L349.0,236.01L349.2,235.95L349.7,235.83L350.2,235.59L350.7,235.92L351.2,235.59L351.5,235.80L351.7,236.55L352.0,237.21L352.2,237.13L352.7,237.15L353.2,236.90L353.7,237.14L354.2,237.17L354.7,237.25L355.2,237.25L355.7,237.24L356.2,236.90L356.7,237.05L357.2,237.25L357.7,237.25L358.0,237.25L358.2,237.05L358.7,236.53L359.0,236.08L359.2,234.25L359.5,232.10L359.7,231.20L360.2,229.31L360.7,232.47L361.0,232.44L361.2,234.23L361.5,234.86L361.7,234.93L362.2,235.00L362.7,235.24L363.0,235.53L363.2,235.74L363.5,236.15L363.7,236.14L364.2,236.34L364.7,236.12L365.2,236.47L365.7,236.29L366.2,236.19L366.7,236.39L367.2,236.33L367.7,236.61L368.0,236.34L368.2,236.77L368.5,237.04L368.7,237.02L369.2,236.92L369.7,236.98L370.2,237.05L370.7,237.08L371.2,236.93L371.7,237.01L372.2,237.08L372.7,237.04L373.2,236.98L373.7,237.10L374.0,237.08L374.2,235.57L374.5,233.13L374.7,232.65L375.2,231.70L375.7,231.12L376.0,230.70L376.2,230.87L376.7,232.41L376.8,232.63L377.2,233.08L377.5,234.06L377.7,234.21L378.2,234.13L378.7,234.06L379.0,233.86L379.2,230.62L379.5,227.36L379.7,224.42L380.2,222.02L380.3,218.02L380.7,219.62L381.0,223.36L381.2,226.61L381.5,229.39L381.7,230.66L382.2,230.47L382.7,231.44L383.0,230.59L383.2,232.64L383.7,234.34L384.0,236.06L384.2,236.12L384.7,235.96L385.2,236.22L385.7,236.03L386.2,236.16L386.7,236.23L387.2,236.22L387.7,236.18L388.0,236.20L388.2,236.27L388.7,236.18L389.2,235.89L389.7,236.02L390.0,236.17L390.2,235.72L390.7,235.54L391.0,235.33L391.2,235.27L391.7,234.81L392.2,235.11L392.7,235.33L393.0,234.99L393.2,234.01L393.5,232.92L393.7,232.48L394.2,232.97L394.5,231.54L394.7,229.49L395.2,226.67L395.7,224.10L396.2,220.74L396.7,220.48L397.2,221.85L397.7,227.18L398.0,229.59L398.2,230.33L398.7,230.75L399.2,231.24L399.5,232.21L399.7,233.67L400.0,235.49L400.2,235.32L400.7,235.57L401.2,235.49L401.7,235.46L402.0,235.86L402.2,235.86L402.7,235.82L403.2,235.89L403.7,235.92L404.2,235.70L404.7,236.06L405.0,235.86L405.2,236.11L405.7,235.86L406.2,236.03L406.7,236.11L407.2,236.02L407.7,236.12L408.2,236.27L408.7,236.54L409.2,236.25L409.7,236.34L410.0,236.62L410.2,237.25L410.7,236.77L411.2,237.03L411.7,237.18L412.2,237.25L412.7,236.49L413.2,236.95L413.7,237.25L414.2,237.14L414.7,237.22L415.2,237.25L415.7,237.25L416.2,237.25L416.7,237.25L417.2,237.25L417.7,237.25L418.2,237.25L418.7,237.25L419.2,237.25L419.7,237.09L420.2,237.09L420.7,236.51L421.2,237.03L421.7,236.60L422.2,236.74L422.7,237.11L423.2,235.70L423.7,236.22L424.2,236.81L424.7,237.08L425.2,236.70L425.7,236.24L426.2,236.54L426.7,236.96L427.2,236.70L427.7,237.02L428.2,236.45L428.7,236.76L429.2,237.11L429.7,236.89L430.2,237.25L430.7,236.90L431.2,237.25L431.7,237.22L432.2,236.98L432.7,236.64L433.2,237.10L433.7,237.25L434.2,236.88L434.7,236.58L435.2,236.44L435.7,236.38L436.2,237.25L436.7,236.81L437.2,237.25L437.7,236.74L438.2,237.03L438.7,236.39L439.2,237.25L439.7,237.25L440.2,237.17L440.7,237.25L441.2,237.25L441.7,236.89L442.2,237.25L442.7,237.25L443.2,237.25L443.7,237.25L444.2,237.25L444.7,237.25L445.2,237.00L445.7,236.76L446.2,237.25L446.7,236.44L447.2,237.25L447.7,236.39L448.2,236.71L448.7,235.88L449.2,236.00L449.7,235.98L450.2,236.66L450.7,235.55L451.2,236.48L451.7,236.58L452.2,236.05L452.7,236.95L453.2,237.25L453.7,236.66L454.2,236.99L454.7,236.78L455.2,237.07L455.7,237.10L456.2,236.93L456.7,236.94L457.2,237.14L457.7,237.25L458.2,237.17L458.7,237.04L459.2,236.65L459.7,237.25L460.2,236.29L460.7,236.48L461.2,236.79L461.7,237.25L462.2,236.74L462.7,237.23L463.2,237.14L463.7,237.21L464.2,236.55L464.7,235.60L465.2,235.59L465.7,236.43L466.2,237.25L466.7,237.21L467.2,237.25L467.7,237.25L468.2,237.06L468.7,236.77L469.2,237.25L469.7,236.62L470.2,237.25L470.7,236.59L471.2,236.49L471.7,236.66L472.2,236.39L472.7,236.80L473.2,235.50L473.7,235.86L474.2,236.02L474.7,235.76L475.2,236.58L475.7,236.44L476.2,237.25L476.7,236.96L477.2,236.42L477.7,237.25L478.2,237.21L478.7,237.25L479.2,237.25L479.7,237.25L480.2,237.25L480.7,237.25L481.2,237.25L481.7,237.25L482.2,237.25L482.7,237.25L483.2,237.25L483.7,236.93L484.2,236.97L484.7,236.95L485.2,236.59L485.7,236.26L486.2,236.92L486.7,235.97L487.2,235.90L487.7,236.68L488.2,236.85L488.7,235.52L489.2,235.16L489.7,235.71L490.2,237.06L490.7,235.86L491.2,235.65L491.7,236.93L492.2,235.79L492.7,237.25L493.2,236.04L493.7,237.25L494.2,236.94L494.7,237.02L495.2,236.72L495.7,237.12L496.2,237.08L496.7,237.25L497.2,237.25L497.7,237.25L498.2,237.25L498.7,237.25L499.2,237.25L499.7,237.25L500.2,237.25L500.7,237.16L501.2,236.94L501.7,237.25L502.2,236.94L502.7,236.07L503.2,237.25L503.7,236.90L504.2,237.23L504.7,235.94L505.2,236.29L505.7,236.71L506.2,236.69L506.7,236.92L507.2,236.80L507.7,236.60L508.2,236.40L508.7,235.72L509.0,236.34L509.2,236.77L509.2,238.0 Z" fill="#1e1a8c"/>
<line x1="48" y1="238.20" x2="101.5" y2="238.20" stroke="#c9c9c9" stroke-width="0.9"/>
<path d="M101,218.30 H103.3 V238.20 H101" fill="none" stroke="#231f20" stroke-width="1.15"/>
<text x="100.80" y="221.80" font-family="'Liberation Sans', sans-serif" font-size="5.40" text-anchor="end" fill="#333"  stroke="#333" stroke-width="0.05">50</text>
<text x="99.30" y="231.00" font-family="'Liberation Sans', sans-serif" font-size="7.90" text-anchor="end" fill="#1a1718" textLength="49.5" lengthAdjust="spacingAndGlyphs"  stroke="#1a1718" stroke-width="0.14">QPD H3K27ac</text>
<rect x="104.2" y="245.0" width="405.0" height="20.5" fill="#e0dfdb"/>
<path d="M104.2,266.0L104.2,265.25L104.6,264.67L105.0,265.25L105.4,265.07L105.8,264.49L106.2,264.97L106.6,264.52L107.0,265.25L107.4,264.98L107.8,265.09L108.2,265.19L108.6,265.17L109.0,265.12L109.4,264.73L109.8,264.66L110.2,265.25L110.6,265.07L111.0,265.24L111.4,265.25L111.8,265.25L112.2,265.25L112.6,265.25L113.0,265.25L113.4,265.21L113.8,265.25L114.2,265.25L114.6,265.25L115.0,264.92L115.4,265.25L115.8,264.97L116.2,265.25L116.6,265.25L117.0,265.25L117.4,260.79L117.8,252.08L117.8,251.46L118.0,250.42L118.2,251.53L118.2,251.89L118.6,260.80L119.0,265.25L119.4,265.25L119.8,265.12L120.2,264.91L120.6,264.76L121.0,264.99L121.4,264.22L121.8,264.34L122.2,265.11L122.6,265.06L123.0,264.43L123.4,265.25L123.8,265.23L124.2,265.25L124.6,265.25L125.0,265.25L125.4,265.25L125.8,265.25L126.2,265.25L126.6,265.25L127.0,265.25L127.4,265.25L127.8,265.25L128.2,265.25L128.6,265.25L129.0,265.25L129.4,265.25L129.8,265.25L130.2,265.25L130.6,265.25L131.0,265.25L131.4,265.25L131.8,265.25L132.2,265.25L132.6,265.25L133.0,265.25L133.4,265.25L133.8,265.25L134.2,265.25L134.6,265.25L135.0,265.25L135.4,265.25L135.8,265.25L136.2,265.25L136.6,265.25L137.0,265.25L137.4,265.25L137.8,265.25L138.2,265.25L138.6,265.25L139.0,265.25L139.4,265.25L139.8,265.25L140.2,265.25L140.6,265.25L141.0,265.25L141.4,265.25L141.8,265.25L142.2,265.25L142.6,265.25L143.0,265.25L143.4,265.25L143.8,265.25L144.2,265.25L144.6,265.25L145.0,265.25L145.4,265.25L145.8,265.25L146.2,265.25L146.6,265.25L147.0,264.49L147.2,263.37L147.4,263.04L147.5,263.01L147.8,263.31L147.8,263.50L148.2,265.25L148.6,265.25L149.0,265.25L149.4,265.25L149.8,265.25L150.2,265.25L150.6,265.25L151.0,265.25L151.4,265.25L151.8,265.25L152.2,265.25L152.6,265.25L153.0,265.25L153.4,265.25L153.8,265.25L154.2,265.25L154.6,265.25L155.0,265.25L155.4,263.84L155.8,261.50L155.8,261.23L156.0,261.14L156.2,261.28L156.2,261.44L156.6,263.81L157.0,265.24L157.4,265.20L157.8,265.25L158.2,265.25L158.6,265.25L159.0,265.23L159.4,265.25L159.8,265.25L160.2,265.25L160.6,265.25L161.0,265.25L161.4,265.25L161.8,265.25L162.2,265.25L162.6,265.25L163.0,265.25L163.4,265.25L163.8,265.25L164.2,265.25L164.6,265.25L165.0,265.25L165.4,265.25L165.8,265.25L166.2,265.25L166.6,265.25L167.0,263.15L167.4,253.35L167.4,252.80L167.7,251.42L167.8,251.44L167.9,252.55L168.2,258.30L168.6,265.25L169.0,265.25L169.4,265.25L169.8,265.25L170.2,265.25L170.6,264.90L171.0,265.25L171.4,265.25L171.8,265.25L172.2,265.25L172.6,265.24L173.0,265.25L173.4,265.25L173.8,265.25L174.2,265.16L174.6,265.25L175.0,265.25L175.4,265.25L175.8,265.22L176.2,265.25L176.6,264.64L177.0,264.62L177.4,263.36L177.8,258.90L177.8,258.47L178.0,258.18L178.2,258.44L178.2,258.79L178.6,263.33L179.0,264.98L179.4,265.11L179.8,265.06L180.2,264.99L180.6,264.54L181.0,265.25L181.4,264.60L181.8,264.88L182.2,264.71L182.6,265.25L183.0,265.25L183.4,264.85L183.8,264.89L184.2,265.25L184.6,265.25L185.0,265.25L185.4,265.25L185.8,265.25L186.2,265.25L186.6,265.25L187.0,265.25L187.4,265.25L187.8,265.25L188.2,265.25L188.6,265.25L189.0,265.25L189.4,265.25L189.8,265.25L190.2,265.22L190.6,264.92L191.0,265.25L191.4,265.01L191.8,264.62L192.2,264.46L192.6,264.61L193.0,265.25L193.4,264.59L193.8,264.77L194.2,265.20L194.6,264.91L195.0,264.61L195.4,264.62L195.8,265.25L196.2,265.11L196.6,264.99L197.0,265.25L197.4,265.03L197.8,265.08L198.2,265.25L198.6,265.11L199.0,265.25L199.4,265.25L199.8,264.96L200.2,265.20L200.6,265.25L201.0,265.25L201.4,265.25L201.8,264.80L202.2,264.59L202.6,265.25L203.0,265.04L203.4,264.94L203.8,265.25L204.2,265.25L204.6,265.25L205.0,265.25L205.4,265.25L205.8,265.25L206.2,265.25L206.6,265.21L207.0,265.20L207.4,265.25L207.8,265.05L208.2,264.59L208.6,264.48L209.0,264.90L209.4,264.29L209.8,264.84L210.2,264.81L210.6,265.18L211.0,264.80L211.4,265.25L211.8,264.33L212.2,265.02L212.6,265.04L213.0,264.37L213.4,264.61L213.8,264.93L214.2,264.39L214.6,264.76L215.0,264.41L215.4,265.21L215.8,264.53L216.2,264.33L216.6,265.02L217.0,264.50L217.4,264.17L217.8,264.67L218.2,264.40L218.6,265.25L219.0,265.25L219.4,264.18L219.8,264.28L220.2,265.25L220.6,264.53L221.0,265.25L221.4,264.77L221.8,264.85L222.2,265.25L222.6,265.25L223.0,265.25L223.4,265.25L223.8,265.25L224.2,265.25L224.6,265.25L225.0,265.25L225.4,265.25L225.8,265.11L226.2,265.20L226.6,264.98L227.0,265.25L227.4,265.25L227.8,265.05L228.2,264.74L228.6,265.21L229.0,264.61L229.4,265.02L229.8,264.55L230.2,264.43L230.6,265.25L231.0,265.25L231.4,265.20L231.8,264.91L232.2,264.67L232.6,264.81L233.0,265.12L233.4,265.25L233.8,265.00L234.2,264.37L234.6,265.25L235.0,265.25L235.4,265.13L235.8,265.25L236.2,265.04L236.6,265.25L237.0,265.25L237.4,265.25L237.8,265.25L238.2,265.25L238.6,265.25L239.0,265.25L239.4,265.25L239.8,265.25L240.2,265.25L240.6,265.25L241.0,265.25L241.4,265.25L241.8,265.25L242.2,265.25L242.6,265.25L243.0,265.25L243.4,265.19L243.8,265.25L244.2,264.69L244.6,264.95L245.0,265.25L245.4,265.01L245.8,265.25L246.2,265.22L246.6,265.25L247.0,265.25L247.4,265.25L247.8,265.25L248.2,265.25L248.6,265.25L249.0,265.25L249.4,265.25L249.8,265.25L250.2,265.25L250.6,264.81L251.0,265.25L251.4,265.25L251.8,265.25L252.2,265.25L252.6,265.25L253.0,265.25L253.4,265.25L253.8,265.25L254.2,265.25L254.6,265.25L255.0,265.25L255.4,265.25L255.8,265.25L256.2,265.25L256.6,265.25L257.0,265.25L257.4,265.25L257.8,265.25L258.2,265.25L258.6,265.23L259.0,265.25L259.4,265.25L259.8,265.10L260.2,265.16L260.6,265.25L261.0,265.25L261.4,265.14L261.8,265.25L262.2,265.22L262.6,265.25L263.0,265.25L263.4,265.25L263.8,265.25L264.2,265.25L264.6,265.25L265.0,265.25L265.4,265.25L265.8,265.25L266.2,260.96L266.4,257.14L266.6,256.32L266.7,256.21L266.9,257.02L267.0,257.59L267.4,264.13L267.8,265.25L268.2,265.25L268.6,265.25L269.0,265.25L269.4,265.25L269.8,265.25L270.2,264.96L270.6,265.25L271.0,264.96L271.4,265.25L271.8,265.25L272.2,265.25L272.6,265.25L273.0,264.97L273.4,265.25L273.8,265.25L274.2,265.25L274.6,265.25L275.0,265.25L275.4,265.25L275.8,265.25L276.2,265.25L276.6,265.25L277.0,265.21L277.4,264.82L277.8,265.25L278.2,265.25L278.6,265.25L279.0,264.96L279.4,264.16L279.8,264.05L280.2,264.81L280.6,264.18L281.0,265.06L281.4,264.98L281.8,265.18L282.2,264.78L282.6,265.20L283.0,264.30L283.4,264.39L283.8,264.50L284.2,264.58L284.6,265.03L285.0,265.04L285.4,264.57L285.8,264.97L286.2,264.64L286.6,265.25L287.0,264.85L287.4,264.65L287.8,265.00L288.2,265.25L288.6,265.25L289.0,265.25L289.4,265.25L289.8,265.25L290.2,265.25L290.6,265.25L291.0,265.25L291.4,265.25L291.8,265.25L292.2,265.25L292.6,265.25L293.0,263.85L293.4,259.53L293.4,259.17L293.7,258.61L293.8,258.60L293.9,259.09L294.2,261.45L294.6,265.25L295.0,265.25L295.4,265.25L295.8,265.25L296.2,265.25L296.6,265.25L297.0,265.25L297.4,265.25L297.8,265.25L298.2,265.25L298.6,265.25L299.0,265.25L299.4,265.25L299.8,265.25L300.2,265.25L300.6,265.25L301.0,265.25L301.4,265.25L301.8,265.25L302.2,265.25L302.6,265.25L303.0,265.14L303.4,265.06L303.8,265.16L304.2,264.98L304.6,265.25L305.0,264.79L305.4,265.25L305.8,265.25L306.2,265.25L306.6,265.25L307.0,265.25L307.4,265.25L307.8,265.25L308.2,265.25L308.6,265.25L309.0,265.25L309.4,265.25L309.8,265.25L310.2,265.25L310.6,265.25L311.0,265.25L311.4,265.25L311.8,265.25L312.2,265.25L312.6,265.25L313.0,265.25L313.4,265.25L313.8,265.25L314.2,265.25L314.6,265.25L315.0,265.25L315.4,265.25L315.8,265.25L316.2,265.25L316.6,265.25L317.0,265.13L317.4,265.25L317.8,265.25L318.2,265.25L318.6,265.25L319.0,265.25L319.4,265.23L319.8,265.15L320.2,265.07L320.6,265.01L321.0,264.63L321.4,264.55L321.8,265.25L322.2,265.07L322.6,264.82L323.0,264.76L323.4,265.25L323.8,265.25L324.2,265.14L324.6,265.02L325.0,265.25L325.4,265.25L325.8,265.25L326.2,265.25L326.6,265.25L327.0,265.25L327.4,265.25L327.8,265.25L328.2,265.25L328.6,265.25L329.0,265.25L329.4,265.25L329.8,265.12L330.2,265.25L330.6,264.83L331.0,265.24L331.4,264.91L331.8,265.05L332.2,264.72L332.6,264.84L333.0,265.25L333.4,265.25L333.8,265.25L334.2,265.25L334.6,265.25L335.0,265.25L335.4,265.25L335.8,265.25L336.2,265.25L336.6,265.25L337.0,265.25L337.4,265.25L337.8,265.25L338.2,265.25L338.6,265.25L339.0,265.25L339.4,265.25L339.8,265.25L340.2,265.25L340.6,265.25L341.0,265.25L341.4,265.25L341.8,265.18L342.2,265.11L342.6,265.25L343.0,265.25L343.4,265.25L343.8,264.62L344.2,264.98L344.6,265.25L345.0,265.09L345.4,265.25L345.8,264.55L346.2,264.69L346.6,265.21L347.0,265.25L347.4,265.25L347.8,265.20L348.2,265.25L348.6,265.25L349.0,265.25L349.4,265.25L349.8,265.25L350.2,265.25L350.6,265.25L351.0,265.25L351.4,265.25L351.8,265.25L352.2,265.25L352.6,265.25L353.0,265.25L353.4,265.25L353.8,265.25L354.2,265.25L354.6,265.25L355.0,265.25L355.4,265.25L355.8,265.25L356.2,265.25L356.6,265.25L357.0,265.25L357.4,265.25L357.8,264.85L358.2,264.71L358.6,265.22L359.0,265.10L359.4,264.79L359.8,265.25L360.2,264.73L360.6,263.92L360.8,263.34L361.0,263.03L361.2,263.33L361.4,263.92L361.8,265.25L362.2,265.25L362.6,265.25L363.0,265.25L363.4,265.25L363.8,265.25L364.2,265.25L364.6,265.25L365.0,265.25L365.4,265.25L365.8,265.25L366.2,265.25L366.6,265.25L367.0,265.25L367.4,265.25L367.8,265.25L368.2,265.25L368.6,265.25L369.0,265.25L369.4,265.25L369.8,265.25L370.2,265.25L370.6,265.25L371.0,265.25L371.4,265.25L371.8,265.25L372.2,265.25L372.6,265.25L373.0,265.25L373.4,265.25L373.8,265.25L374.2,265.25L374.6,265.25L375.0,265.25L375.4,265.25L375.8,265.25L376.2,265.25L376.6,265.25L377.0,265.25L377.4,265.25L377.8,265.25L378.2,265.25L378.6,265.25L379.0,265.25L379.4,265.25L379.8,265.25L380.2,265.25L380.6,265.25L381.0,265.25L381.4,265.25L381.8,265.25L382.2,265.25L382.6,265.25L383.0,265.25L383.4,265.25L383.8,265.22L384.2,265.25L384.6,265.24L385.0,265.23L385.4,265.25L385.8,265.25L386.2,265.25L386.6,265.25L387.0,265.25L387.4,265.25L387.8,265.25L388.2,265.25L388.6,265.25L389.0,265.25L389.4,265.25L389.8,265.25L390.2,265.16L390.6,265.23L391.0,265.22L391.4,265.25L391.8,264.86L392.2,265.25L392.6,265.25L393.0,265.20L393.4,264.28L393.8,265.25L394.2,264.39L394.6,264.25L395.0,264.20L395.4,264.23L395.8,264.59L396.2,265.25L396.6,265.25L397.0,264.64L397.4,264.74L397.8,265.01L398.2,265.25L398.6,264.77L399.0,265.25L399.4,265.25L399.8,265.08L400.2,265.25L400.6,265.25L401.0,265.25L401.4,265.25L401.8,265.25L402.2,265.25L402.6,265.25L403.0,265.25L403.4,265.12L403.8,265.25L404.2,265.25L404.6,265.25L405.0,264.73L405.4,264.97L405.8,265.25L406.2,264.64L406.6,265.25L407.0,265.25L407.4,264.90L407.8,265.25L408.2,265.07L408.6,265.11L409.0,264.97L409.4,265.25L409.8,265.25L410.2,265.25L410.6,265.25L411.0,265.25L411.4,265.25L411.8,265.25L412.2,265.25L412.6,265.25L413.0,265.25L413.4,265.25L413.8,265.25L414.2,265.25L414.6,265.25L415.0,265.25L415.4,265.25L415.8,265.13L416.2,265.25L416.6,265.25L417.0,264.98L417.4,265.18L417.8,265.25L418.2,265.25L418.6,264.68L419.0,265.25L419.4,265.25L419.8,261.51L419.9,260.15L420.2,259.61L420.4,260.29L420.6,261.50L421.0,265.25L421.4,265.25L421.8,265.00L422.2,265.09L422.6,264.34L423.0,265.25L423.4,264.59L423.8,263.90L424.2,265.25L424.6,265.25L425.0,264.70L425.4,264.22L425.8,265.00L426.2,265.10L426.6,264.39L427.0,265.05L427.4,265.02L427.8,264.91L428.2,265.11L428.6,265.15L429.0,265.05L429.4,264.73L429.8,264.77L430.2,265.25L430.6,265.25L431.0,265.07L431.4,265.21L431.8,265.23L432.2,264.81L432.6,265.25L433.0,264.93L433.4,264.86L433.8,264.72L434.2,264.67L434.6,264.88L435.0,265.06L435.4,264.87L435.8,265.21L436.2,265.25L436.6,264.92L437.0,264.37L437.4,264.45L437.8,264.94L438.2,265.25L438.6,265.25L439.0,265.25L439.4,265.07L439.8,265.25L440.2,265.25L440.6,265.25L441.0,265.25L441.4,265.25L441.8,265.25L442.2,265.25L442.6,265.25L443.0,265.10L443.4,265.25L443.8,265.03L444.2,265.19L444.6,265.10L445.0,265.25L445.4,265.25L445.8,265.25L446.2,265.25L446.6,265.25L447.0,265.25L447.4,265.25L447.8,265.25L448.2,265.25L448.6,265.25L449.0,265.25L449.4,264.83L449.8,265.02L450.2,265.03L450.6,264.77L451.0,265.05L451.4,264.65L451.8,265.25L452.2,264.79L452.6,264.71L453.0,264.96L453.4,265.01L453.8,264.63L454.2,264.72L454.6,265.22L455.0,264.77L455.4,265.25L455.8,265.19L456.2,265.25L456.6,265.25L457.0,265.25L457.4,265.25L457.8,265.25L458.1,264.23L458.2,264.15L458.4,264.01L458.6,264.12L458.6,264.22L459.0,265.25L459.4,265.25L459.8,265.25L460.2,265.25L460.6,265.25L461.0,265.25L461.4,265.25L461.8,265.25L462.2,265.25L462.6,265.25L463.0,265.25L463.4,265.25L463.8,265.25L464.2,264.96L464.6,265.25L465.0,265.25L465.4,265.01L465.8,265.25L466.2,265.25L466.6,264.62L467.0,265.16L467.4,264.90L467.8,265.25L468.2,265.25L468.6,265.25L469.0,265.07L469.4,264.83L469.8,265.05L470.2,265.18L470.6,265.25L471.0,265.25L471.4,265.25L471.8,265.25L472.2,265.25L472.6,265.25L473.0,265.25L473.4,265.25L473.8,265.25L474.2,265.25L474.6,265.25L475.0,265.25L475.4,265.25L475.8,265.25L476.2,265.25L476.6,265.25L477.0,265.25L477.4,265.25L477.8,264.99L478.2,265.25L478.6,264.92L479.0,265.06L479.4,265.25L479.8,265.25L480.2,265.13L480.6,265.25L481.0,265.25L481.4,265.25L481.8,265.25L482.2,265.25L482.6,265.25L483.0,265.25L483.4,265.25L483.8,264.94L484.2,265.25L484.6,265.25L485.0,265.23L485.4,264.48L485.8,264.90L486.2,264.57L486.6,264.31L487.0,265.10L487.4,264.48L487.8,264.84L488.2,264.63L488.6,265.25L489.0,264.60L489.4,265.20L489.8,264.54L490.2,264.82L490.6,264.32L491.0,265.17L491.4,264.23L491.8,264.15L492.2,265.01L492.6,264.33L493.0,264.29L493.4,264.70L493.8,264.74L494.2,264.34L494.6,261.50L494.6,261.41L494.8,261.14L495.0,261.37L495.1,261.60L495.4,264.35L495.8,265.10L496.2,264.91L496.6,264.91L497.0,264.95L497.4,265.14L497.8,265.25L498.2,265.16L498.6,265.13L499.0,264.71L499.4,265.25L499.8,264.65L500.2,264.83L500.6,265.25L501.0,265.25L501.4,265.25L501.8,265.02L502.2,265.25L502.6,265.25L503.0,265.25L503.4,265.25L503.8,265.25L504.2,265.25L504.6,265.25L505.0,265.25L505.4,265.25L505.8,265.22L506.2,265.10L506.6,265.25L507.0,265.25L507.4,265.12L507.8,265.25L508.2,265.06L508.6,265.25L509.0,265.16L509.2,266.0 Z" fill="#217a21"/>
<line x1="48" y1="265.50" x2="101.5" y2="265.50" stroke="#c9c9c9" stroke-width="0.9"/>
<path d="M101,245.50 H103.3 V265.50 H101" fill="none" stroke="#231f20" stroke-width="1.15"/>
<text x="100.80" y="249.00" font-family="'Liberation Sans', sans-serif" font-size="5.40" text-anchor="end" fill="#333"  stroke="#333" stroke-width="0.05">11</text>
<text x="100.90" y="265.10" font-family="'Liberation Sans', sans-serif" font-size="5.40" text-anchor="end" fill="#333"  stroke="#333" stroke-width="0.05">0</text>
<text x="99.30" y="258.25" font-family="'Liberation Sans', sans-serif" font-size="7.90" text-anchor="end" fill="#1a1718" textLength="36.2" lengthAdjust="spacingAndGlyphs"  stroke="#1a1718" stroke-width="0.14">CTL CTCF</text>
<path d="M104.2,287.0L104.2,285.94L104.6,285.09L105.0,285.97L105.4,285.39L105.8,285.94L106.2,286.25L106.6,285.87L107.0,286.25L107.4,285.55L107.8,285.83L108.2,286.01L108.6,285.55L109.0,285.97L109.4,285.45L109.8,285.74L110.2,286.25L110.6,286.22L111.0,285.52L111.4,286.25L111.8,285.29L112.2,286.25L112.6,285.53L113.0,285.68L113.4,285.96L113.8,285.65L114.2,285.65L114.6,285.96L115.0,286.13L115.4,286.25L115.8,285.83L116.2,285.70L116.6,286.25L117.0,286.00L117.4,281.11L117.8,271.55L117.8,270.79L118.0,269.81L118.2,270.85L118.2,271.21L118.6,281.09L119.0,286.25L119.4,286.22L119.8,286.25L120.2,286.25L120.6,286.25L121.0,286.25L121.4,285.90L121.8,286.25L122.2,285.88L122.6,286.21L123.0,286.25L123.4,286.25L123.8,285.87L124.2,286.20L124.6,285.97L125.0,285.93L125.4,285.69L125.8,285.45L126.2,286.07L126.6,285.60L127.0,285.45L127.4,286.08L127.8,285.40L128.2,286.25L128.6,285.80L129.0,286.04L129.4,286.25L129.8,285.72L130.2,285.54L130.6,286.04L131.0,286.24L131.4,285.69L131.8,285.68L132.2,286.10L132.6,286.22L133.0,284.28L133.2,283.47L133.4,283.08L133.7,283.43L133.8,284.26L134.2,286.25L134.6,286.25L135.0,286.25L135.4,286.25L135.8,286.25L136.2,286.25L136.6,286.25L137.0,286.25L137.4,286.25L137.8,286.25L138.2,286.20L138.6,286.25L139.0,286.25L139.4,286.25L139.8,286.25L140.2,286.25L140.6,286.25L141.0,286.25L141.4,286.25L141.8,285.86L142.2,285.40L142.6,285.62L143.0,285.44L143.4,285.62L143.8,286.25L144.2,285.87L144.6,286.22L145.0,286.25L145.4,286.19L145.8,286.25L146.2,286.25L146.6,286.25L147.0,285.46L147.2,284.32L147.4,284.06L147.5,284.07L147.8,284.34L147.8,284.48L148.2,286.25L148.6,286.25L149.0,286.25L149.4,286.25L149.8,286.25L150.2,286.25L150.6,286.25L151.0,286.25L151.4,286.25L151.8,285.65L152.2,286.25L152.6,285.72L153.0,285.25L153.4,286.25L153.8,286.03L154.2,286.04L154.6,286.23L155.0,285.56L155.4,285.72L155.8,286.25L156.2,286.25L156.6,286.25L157.0,286.25L157.4,286.25L157.8,286.22L158.2,286.25L158.6,286.25L159.0,286.25L159.4,286.25L159.8,286.25L160.2,286.25L160.6,286.25L161.0,286.25L161.4,286.25L161.8,286.25L162.2,286.25L162.6,286.25L163.0,286.25L163.4,286.25L163.8,286.25L164.2,286.25L164.6,286.25L165.0,285.81L165.4,285.67L165.8,286.25L166.2,285.90L166.6,285.83L167.0,284.33L167.4,275.42L167.4,274.53L167.7,273.12L167.8,273.44L167.9,274.48L168.2,279.93L168.6,285.59L169.0,286.25L169.4,285.88L169.8,286.25L170.2,286.25L170.6,286.25L171.0,286.25L171.4,286.25L171.8,286.25L172.2,286.25L172.6,286.23L173.0,286.25L173.4,286.25L173.8,286.25L174.2,286.09L174.6,286.25L175.0,286.25L175.4,286.25L175.8,285.99L176.2,286.25L176.6,286.04L177.0,286.04L177.4,281.32L177.8,271.74L177.8,270.98L178.0,270.18L178.2,271.01L178.2,271.71L178.6,281.42L179.0,285.50L179.4,285.86L179.8,286.14L180.2,286.24L180.6,286.14L181.0,285.54L181.4,285.86L181.8,286.25L182.2,285.56L182.6,285.67L183.0,286.25L183.4,286.25L183.8,286.21L184.2,286.25L184.6,286.04L185.0,286.25L185.4,286.07L185.8,286.25L186.2,286.25L186.6,286.25L187.0,286.25L187.4,286.25L187.8,286.25L188.2,286.25L188.6,286.25L189.0,286.25L189.4,286.25L189.8,286.25L190.2,286.25L190.6,286.25L191.0,286.25L191.4,285.87L191.8,285.80L192.2,286.25L192.6,286.17L193.0,286.25L193.4,286.25L193.8,286.25L194.2,286.25L194.6,286.25L195.0,286.25L195.4,286.25L195.8,286.25L196.2,286.25L196.6,286.25L197.0,286.25L197.4,286.25L197.8,286.25L198.2,286.25L198.6,286.25L199.0,286.25L199.4,286.25L199.8,286.25L200.2,286.25L200.6,286.25L201.0,286.25L201.4,286.25L201.8,286.25L202.2,286.25L202.6,286.25L203.0,286.25L203.4,286.25L203.8,286.15L204.2,286.17L204.6,286.25L205.0,286.25L205.4,286.25L205.8,286.15L206.2,286.25L206.6,286.25L207.0,286.25L207.4,286.25L207.8,286.25L208.2,286.19L208.6,286.25L209.0,286.25L209.4,286.25L209.8,286.25L210.2,286.25L210.6,286.25L211.0,286.25L211.4,286.25L211.8,286.25L212.2,285.78L212.6,286.25L213.0,286.17L213.4,286.22L213.8,286.25L214.2,286.25L214.6,286.14L215.0,286.21L215.4,286.25L215.8,286.25L216.2,286.25L216.6,286.25L217.0,286.25L217.4,286.25L217.8,286.25L218.2,286.25L218.6,286.25L219.0,286.25L219.4,286.25L219.8,286.25L220.2,286.25L220.6,286.25L221.0,286.25L221.4,286.25L221.8,286.25L222.2,286.25L222.6,286.25L223.0,286.25L223.4,286.25L223.8,286.25L224.2,286.25L224.6,286.25L225.0,286.25L225.4,286.02L225.8,286.14L226.2,285.93L226.6,285.67L227.0,285.75L227.4,285.96L227.8,286.25L228.2,285.58L228.6,286.25L229.0,286.25L229.4,286.25L229.8,285.84L230.2,285.63L230.6,286.25L231.0,286.25L231.4,286.14L231.8,286.17L232.2,286.25L232.6,286.07L233.0,286.25L233.4,286.25L233.8,286.25L234.2,286.25L234.6,286.25L235.0,286.25L235.4,286.25L235.8,286.25L236.2,286.25L236.6,286.25L237.0,286.25L237.4,286.25L237.8,286.25L238.2,286.25L238.6,286.25L239.0,286.25L239.4,286.25L239.8,286.25L240.2,286.25L240.6,286.25L241.0,286.25L241.4,286.25L241.8,286.25L242.2,286.25L242.6,286.25L243.0,286.25L243.4,286.25L243.8,286.25L244.2,285.95L244.6,285.69L245.0,286.25L245.4,285.92L245.8,285.96L246.2,286.25L246.6,286.25L247.0,286.25L247.4,286.25L247.8,286.25L248.2,286.25L248.6,286.25L249.0,286.25L249.4,286.25L249.8,286.25L250.2,286.25L250.6,286.25L251.0,286.25L251.4,286.25L251.8,286.25L252.2,286.25L252.6,286.25L253.0,286.23L253.4,286.25L253.8,286.25L254.2,286.25L254.6,286.25L255.0,286.25L255.4,285.64L255.8,285.95L256.2,286.25L256.6,285.90L257.0,286.25L257.4,285.73L257.8,286.25L258.2,286.25L258.6,286.25L259.0,286.25L259.4,286.25L259.8,286.08L260.2,285.91L260.6,286.25L261.0,286.25L261.4,286.11L261.8,286.25L262.2,286.19L262.6,286.25L263.0,286.25L263.4,286.25L263.8,286.25L264.2,286.25L264.6,286.25L265.0,286.25L265.4,286.25L265.8,286.25L266.2,281.61L266.4,277.60L266.6,276.66L266.7,276.30L266.9,277.58L267.0,277.99L267.4,285.00L267.8,286.25L268.2,286.25L268.6,286.25L269.0,286.25L269.4,285.99L269.8,285.88L270.2,286.25L270.6,286.25L271.0,286.08L271.4,286.25L271.8,286.22L272.2,285.86L272.6,286.25L273.0,286.14L273.4,286.25L273.8,286.25L274.2,286.25L274.6,286.10L275.0,286.25L275.4,286.25L275.8,286.25L276.2,286.25L276.6,286.25L277.0,286.25L277.4,286.25L277.8,286.25L278.2,286.25L278.6,286.25L279.0,286.25L279.4,286.25L279.8,286.25L280.2,286.25L280.6,286.25L281.0,286.25L281.4,286.25L281.8,286.25L282.2,285.46L282.6,286.25L283.0,286.25L283.4,285.01L283.8,286.25L284.2,286.25L284.6,286.25L285.0,285.81L285.4,285.70L285.8,286.15L286.2,285.41L286.6,285.45L287.0,285.91L287.4,286.25L287.8,286.25L288.2,285.47L288.6,286.25L289.0,285.52L289.4,286.21L289.8,285.51L290.2,286.20L290.6,285.66L291.0,286.25L291.4,286.08L291.8,285.41L292.2,285.14L292.6,285.07L293.0,284.93L293.4,281.16L293.4,280.80L293.7,280.12L293.8,280.19L293.9,280.76L294.2,283.48L294.6,286.25L295.0,286.25L295.4,285.76L295.8,285.97L296.2,285.62L296.6,286.25L297.0,286.25L297.4,285.96L297.8,286.21L298.2,286.04L298.6,286.13L299.0,286.25L299.4,286.25L299.8,286.25L300.2,286.21L300.6,286.25L301.0,286.25L301.4,286.25L301.8,286.25L302.2,286.25L302.6,286.25L303.0,286.25L303.4,286.25L303.8,286.25L304.2,286.25L304.6,286.25L305.0,286.25L305.4,286.25L305.8,286.25L306.2,286.25L306.6,286.25L307.0,285.75L307.4,285.77L307.8,286.03L308.2,285.76L308.6,286.25L309.0,286.14L309.4,286.25L309.8,285.94L310.2,286.22L310.6,286.07L311.0,286.25L311.4,286.25L311.8,286.25L312.2,286.25L312.6,286.19L313.0,286.02L313.4,286.14L313.8,286.17L314.2,286.13L314.6,286.25L315.0,286.14L315.4,286.25L315.8,286.19L316.2,285.54L316.6,286.17L317.0,286.19L317.4,285.94L317.8,286.25L318.2,286.00L318.6,286.25L319.0,285.74L319.4,286.16L319.8,285.26L320.2,285.70L320.6,285.45L321.0,286.11L321.4,285.80L321.8,285.40L322.2,285.65L322.6,286.25L323.0,286.18L323.4,286.25L323.8,286.25L324.2,286.25L324.6,286.25L325.0,286.25L325.4,286.25L325.8,286.25L326.2,286.18L326.6,285.78L327.0,286.25L327.4,286.25L327.8,286.25L328.2,286.25L328.6,285.49L329.0,286.25L329.4,286.25L329.8,286.23L330.2,286.25L330.6,286.22L331.0,286.25L331.4,286.25L331.8,286.25L332.2,286.25L332.6,286.25L333.0,286.25L333.4,286.25L333.8,286.22L334.2,286.25L334.6,286.25L335.0,286.10L335.4,285.72L335.8,285.97L336.2,285.97L336.6,286.10L337.0,286.18L337.4,286.13L337.8,286.25L338.2,286.25L338.6,286.25L339.0,286.25L339.4,286.14L339.8,286.25L340.2,285.92L340.6,286.25L341.0,286.17L341.4,286.25L341.8,285.94L342.2,286.11L342.6,286.25L343.0,286.25L343.4,285.40L343.8,286.25L344.2,285.52L344.6,285.29L345.0,286.25L345.4,286.25L345.8,285.92L346.2,285.41L346.6,286.25L347.0,286.25L347.4,285.73L347.8,285.62L348.2,286.25L348.6,285.71L349.0,286.25L349.4,286.25L349.8,286.25L350.2,285.85L350.6,285.66L351.0,286.05L351.4,285.79L351.8,285.90L352.2,286.25L352.6,285.55L353.0,286.25L353.4,286.25L353.8,285.81L354.2,285.95L354.6,286.25L355.0,286.25L355.4,286.25L355.8,286.25L356.2,286.25L356.6,286.25L357.0,286.25L357.4,286.25L357.8,286.25L358.2,286.06L358.6,286.00L359.0,286.25L359.4,286.25L359.8,285.94L360.2,285.90L360.6,284.92L360.8,284.35L361.0,284.07L361.2,284.31L361.4,284.94L361.8,286.25L362.2,286.25L362.6,286.25L363.0,286.25L363.4,286.25L363.8,286.25L364.2,286.25L364.6,286.25L365.0,286.25L365.4,286.25L365.8,286.25L366.2,286.25L366.6,286.25L367.0,286.25L367.4,286.17L367.8,286.24L368.2,286.25L368.6,286.25L369.0,286.25L369.4,286.25L369.8,286.25L370.2,286.25L370.6,286.25L371.0,286.25L371.4,286.25L371.8,286.25L372.2,286.25L372.6,286.25L373.0,286.25L373.4,286.25L373.8,286.25L374.2,286.25L374.6,286.25L375.0,286.15L375.4,286.25L375.8,286.25L376.2,286.25L376.6,286.00L377.0,285.87L377.4,286.23L377.8,285.94L378.2,286.15L378.6,286.18L379.0,286.11L379.4,286.25L379.8,286.25L380.2,286.25L380.6,286.25L381.0,286.25L381.4,286.25L381.8,286.25L382.2,286.25L382.6,286.25L383.0,286.25L383.4,286.25L383.8,286.25L384.2,286.25L384.6,286.25L385.0,286.25L385.4,286.25L385.8,286.25L386.2,286.25L386.6,286.25L387.0,286.25L387.4,286.25L387.8,286.25L388.2,286.25L388.6,286.25L389.0,286.25L389.4,286.25L389.8,286.25L390.2,286.25L390.6,286.15L391.0,286.00L391.4,285.75L391.8,286.25L392.2,286.25L392.6,286.25L393.0,286.25L393.4,286.25L393.8,286.13L394.2,286.25L394.6,286.25L395.0,286.25L395.4,286.25L395.8,286.25L396.2,286.25L396.6,286.25L397.0,286.25L397.4,286.25L397.8,286.25L398.2,286.25L398.6,286.25L399.0,286.25L399.4,286.25L399.8,286.25L400.2,286.25L400.6,286.25L401.0,286.25L401.4,286.25L401.8,286.25L402.2,286.25L402.6,286.25L403.0,286.25L403.4,286.25L403.8,286.25L404.2,286.25L404.6,286.25L405.0,286.25L405.4,286.25L405.8,286.25L406.2,286.25L406.6,286.25L407.0,286.20L407.4,286.25L407.8,286.25L408.2,286.14L408.6,286.06L409.0,286.25L409.4,286.24L409.8,286.25L410.2,286.25L410.6,286.25L411.0,286.25L411.4,286.25L411.8,286.25L412.2,286.25L412.6,286.25L413.0,286.25L413.4,286.25L413.8,286.25L414.2,286.25L414.6,286.25L415.0,286.25L415.4,286.25L415.8,286.25L416.2,286.25L416.6,286.25L417.0,286.25L417.4,286.25L417.8,286.25L418.2,286.25L418.6,285.76L419.0,285.87L419.4,286.14L419.8,283.27L419.9,282.16L420.2,281.58L420.4,282.08L420.6,283.18L421.0,286.25L421.4,285.87L421.8,285.93L422.2,286.12L422.6,286.17L423.0,286.25L423.4,286.25L423.8,286.11L424.2,286.25L424.6,286.25L425.0,286.25L425.4,286.25L425.8,286.25L426.2,286.25L426.6,286.25L427.0,286.25L427.4,286.25L427.8,286.25L428.2,286.25L428.6,286.25L429.0,286.25L429.4,286.25L429.8,286.25L430.2,286.25L430.6,286.25L431.0,286.25L431.4,286.25L431.8,286.25L432.2,286.25L432.6,286.25L433.0,286.25L433.4,286.25L433.8,286.25L434.2,286.25L434.6,286.25L435.0,286.25L435.4,286.25L435.8,286.25L436.2,286.25L436.6,286.25L437.0,286.25L437.4,286.25L437.8,286.25L438.2,286.25L438.6,286.25L439.0,286.25L439.4,286.25L439.8,286.25L440.2,286.25L440.6,286.25L441.0,286.25L441.4,286.25L441.8,286.25L442.2,286.25L442.6,286.25L443.0,286.25L443.4,286.25L443.8,286.25L444.2,286.25L444.6,286.25L445.0,286.25L445.4,286.25L445.8,286.25L446.2,286.25L446.6,286.25L447.0,286.25L447.4,286.25L447.8,286.25L448.2,286.25L448.6,286.25L449.0,286.25L449.4,286.25L449.8,286.25L450.2,286.25L450.6,286.25L451.0,286.25L451.4,286.25L451.8,286.25L452.2,286.25L452.6,286.25L453.0,286.25L453.4,286.25L453.8,286.25L454.2,286.25L454.6,286.25L455.0,286.25L455.4,286.25L455.8,286.25L456.2,286.25L456.6,286.12L457.0,286.22L457.4,286.07L457.8,286.25L458.2,286.25L458.6,285.74L459.0,286.25L459.4,286.16L459.8,286.25L460.2,285.87L460.6,285.89L461.0,285.63L461.4,285.97L461.8,286.25L462.2,285.67L462.6,286.25L463.0,285.71L463.4,285.69L463.8,285.66L464.2,286.11L464.6,285.92L465.0,286.25L465.4,285.98L465.8,285.85L466.2,286.25L466.6,286.25L467.0,286.16L467.4,285.98L467.8,286.25L468.2,286.25L468.6,286.25L469.0,286.25L469.4,286.25L469.8,286.25L470.2,286.25L470.6,286.25L471.0,286.25L471.4,286.25L471.8,286.25L472.2,286.25L472.6,286.25L473.0,286.25L473.4,286.25L473.8,286.25L474.2,286.25L474.6,286.25L475.0,286.25L475.4,286.25L475.8,286.25L476.2,286.25L476.6,286.25L477.0,286.12L477.4,286.25L477.8,286.21L478.2,286.25L478.6,286.05L479.0,286.25L479.4,285.91L479.8,285.82L480.2,286.05L480.6,286.25L481.0,286.25L481.4,286.25L481.8,286.25L482.2,286.14L482.6,286.25L483.0,285.95L483.4,286.06L483.8,285.74L484.2,285.88L484.6,285.71L485.0,285.88L485.4,286.09L485.8,285.65L486.2,285.64L486.6,286.01L487.0,285.65L487.4,285.50L487.8,285.48L488.2,285.84L488.6,286.25L489.0,285.64L489.4,286.25L489.8,285.26L490.2,286.23L490.6,285.78L491.0,286.11L491.4,286.25L491.8,286.25L492.2,286.25L492.6,286.25L493.0,286.25L493.4,286.25L493.8,286.25L494.2,283.71L494.6,278.24L494.6,277.66L494.8,277.06L495.0,277.63L495.1,278.20L495.4,283.63L495.8,286.21L496.2,286.20L496.6,286.25L497.0,286.25L497.4,286.25L497.8,286.25L498.2,286.25L498.6,286.25L499.0,286.25L499.4,286.25L499.8,286.25L500.2,286.25L500.6,286.25L501.0,286.25L501.4,286.11L501.8,286.02L502.2,285.85L502.6,286.02L503.0,286.25L503.4,285.63L503.8,285.82L504.2,286.25L504.6,286.25L505.0,286.17L505.4,286.25L505.8,286.25L506.2,286.25L506.6,286.25L507.0,286.25L507.4,286.25L507.8,286.25L508.2,286.25L508.6,286.25L509.0,286.25L509.2,287.0 Z" fill="#217a21"/>
<line x1="48" y1="287.00" x2="101.5" y2="287.00" stroke="#c9c9c9" stroke-width="0.9"/>
<path d="M101,267.00 H103.3 V287.00 H101" fill="none" stroke="#231f20" stroke-width="1.15"/>
<text x="100.80" y="270.50" font-family="'Liberation Sans', sans-serif" font-size="5.40" text-anchor="end" fill="#333"  stroke="#333" stroke-width="0.05">11</text>
<text x="99.30" y="279.75" font-family="'Liberation Sans', sans-serif" font-size="7.90" text-anchor="end" fill="#1a1718" textLength="38.6" lengthAdjust="spacingAndGlyphs"  stroke="#1a1718" stroke-width="0.14">QPD CTCF</text>
<rect x="104.2" y="314.5" width="405.0" height="21.0" fill="#e0dfdb"/>
<path d="M104.2,336.0L104.2,335.25L104.7,335.25L105.2,335.25L105.7,335.25L106.2,335.25L106.7,335.25L107.2,335.25L107.7,335.23L108.2,334.78L108.7,334.40L109.2,334.40L109.7,334.79L110.2,335.25L110.7,335.09L111.2,335.25L111.7,335.25L112.2,335.25L112.7,335.12L113.2,335.19L113.7,335.25L114.2,335.25L114.7,335.25L115.2,335.25L115.7,335.25L116.2,335.25L116.7,335.24L117.2,334.35L117.7,333.85L118.2,333.62L118.7,334.13L119.2,335.05L119.7,335.25L120.2,335.18L120.7,335.14L121.2,335.03L121.7,335.25L122.2,335.21L122.7,335.25L123.2,334.94L123.7,335.25L124.2,334.98L124.7,335.25L125.2,334.99L125.7,335.25L126.2,335.25L126.7,335.25L127.2,335.25L127.7,335.11L128.2,335.25L128.7,335.25L129.2,335.25L129.7,335.22L130.2,335.25L130.7,335.25L131.2,335.25L131.7,335.25L132.2,335.21L132.7,335.25L133.2,335.25L133.7,335.25L134.2,335.25L134.7,335.25L135.2,335.25L135.7,335.25L136.2,335.25L136.7,335.25L137.2,335.25L137.7,335.25L138.2,335.25L138.7,335.03L139.2,334.74L139.7,334.83L140.2,335.25L140.7,335.25L141.2,335.25L141.7,335.25L142.2,335.25L142.7,335.25L143.2,335.21L143.7,334.01L144.2,331.94L144.7,330.89L145.2,331.10L145.7,330.29L146.2,331.06L146.7,332.24L147.2,333.74L147.7,335.06L148.2,335.25L148.7,335.25L149.2,335.25L149.7,335.25L150.2,335.25L150.7,335.25L151.2,335.25L151.7,335.16L152.2,335.25L152.7,335.25L153.2,335.25L153.7,335.25L154.2,335.25L154.7,335.25L155.2,335.25L155.7,335.25L156.2,335.25L156.7,335.25L157.2,335.25L157.7,334.91L158.2,333.73L158.7,333.53L159.2,333.76L159.7,333.86L160.2,334.95L160.7,335.25L161.2,335.25L161.7,335.25L162.2,335.25L162.7,335.25L163.2,335.25L163.7,335.25L164.2,335.25L164.7,335.25L165.2,335.25L165.7,335.25L166.2,335.25L166.7,335.25L167.2,334.42L167.7,334.65L168.2,334.82L168.7,335.08L169.2,335.01L169.7,334.97L170.2,335.25L170.7,335.25L171.2,335.18L171.7,335.25L172.2,335.25L172.7,335.20L173.2,334.76L173.7,335.24L174.2,335.25L174.7,334.85L175.2,334.88L175.7,335.19L176.2,335.25L176.7,335.25L177.2,335.25L177.7,335.25L178.2,335.25L178.7,335.25L179.2,335.25L179.7,335.25L180.2,335.25L180.7,335.25L181.2,335.25L181.7,335.25L182.2,335.25L182.7,335.25L183.2,335.25L183.7,335.25L184.2,335.25L184.7,335.25L185.2,335.25L185.7,335.25L186.2,335.25L186.7,335.25L187.2,335.25L187.7,335.25L188.2,335.25L188.7,335.25L189.2,335.25L189.7,335.25L190.2,335.25L190.7,335.25L191.2,335.25L191.7,335.25L192.2,335.25L192.7,335.25L193.2,335.25L193.7,335.25L194.2,335.24L194.7,334.94L195.2,334.84L195.7,335.25L196.2,335.25L196.7,334.91L197.2,335.25L197.7,335.25L198.2,335.25L198.7,335.25L199.2,335.25L199.7,335.25L200.2,335.25L200.7,335.25L201.2,335.25L201.7,335.25L202.2,335.25L202.7,335.25L203.2,335.25L203.7,335.25L204.2,335.25L204.7,335.25L205.2,334.95L205.7,334.87L206.2,334.91L206.7,335.21L207.2,335.25L207.7,335.25L208.2,335.25L208.7,335.25L209.2,335.25L209.7,335.25L210.2,335.25L210.7,335.21L211.2,335.05L211.7,335.01L212.2,335.25L212.7,335.19L213.2,334.99L213.7,335.08L214.2,335.03L214.7,335.04L215.2,334.12L215.7,333.63L216.2,334.13L216.7,335.18L217.2,335.25L217.7,335.25L218.2,335.25L218.7,334.50L219.2,334.18L219.7,334.27L220.2,335.25L220.7,335.25L221.2,335.25L221.7,335.25L222.2,335.25L222.7,335.25L223.2,335.25L223.7,335.25L224.2,335.25L224.7,335.25L225.2,335.25L225.7,335.25L226.2,335.25L226.7,335.25L227.2,333.95L227.7,331.43L228.2,329.98L228.7,330.39L229.2,332.41L229.7,334.65L230.2,335.25L230.7,335.25L231.2,335.25L231.7,335.25L232.2,335.25L232.7,334.98L233.2,334.88L233.7,334.69L234.2,335.25L234.7,335.25L235.2,335.25L235.7,335.25L236.2,335.07L236.7,335.21L237.2,335.14L237.7,335.25L238.2,335.18L238.7,335.25L239.2,335.25L239.7,335.25L240.2,335.25L240.7,335.25L241.2,335.25L241.7,335.25L242.2,334.61L242.7,332.17L243.2,329.31L243.7,330.16L244.2,331.70L244.7,334.04L245.2,335.25L245.7,335.25L246.2,335.25L246.7,335.25L247.2,335.25L247.7,335.25L248.2,335.25L248.7,335.25L249.2,335.25L249.7,335.25L250.2,335.25L250.7,335.25L251.2,334.77L251.7,330.77L252.2,323.61L252.2,323.00L252.5,323.85L252.7,322.88L252.8,323.62L253.2,319.05L253.7,321.71L254.1,320.13L254.2,322.45L254.3,319.92L254.6,320.40L254.7,322.41L255.2,332.69L255.7,335.25L256.2,335.23L256.7,334.92L257.2,335.25L257.7,335.03L258.2,335.19L258.7,335.25L259.2,335.25L259.7,335.14L260.2,335.25L260.7,335.25L261.2,335.15L261.7,334.94L262.2,335.23L262.7,335.14L263.2,335.25L263.7,335.25L264.2,335.25L264.7,335.10L265.2,335.25L265.7,335.19L266.2,335.25L266.7,335.25L267.2,335.02L267.7,335.09L268.2,335.21L268.7,335.25L269.2,335.02L269.7,335.25L270.2,335.22L270.7,335.25L271.2,335.25L271.7,335.25L272.2,335.25L272.7,335.25L273.2,335.25L273.7,335.25L274.2,335.25L274.7,335.25L275.2,335.25L275.7,335.25L276.2,335.25L276.7,335.25L277.2,335.14L277.7,335.11L278.2,335.25L278.7,335.25L279.2,335.25L279.7,335.09L280.2,335.25L280.7,335.25L281.2,335.25L281.7,335.25L282.2,335.25L282.7,335.25L283.2,335.25L283.7,335.25L284.2,335.25L284.7,335.25L285.2,335.25L285.7,335.14L286.2,335.25L286.7,335.22L287.2,335.25L287.7,334.63L288.2,335.14L288.7,335.25L289.2,335.25L289.7,335.25L290.2,334.80L290.7,334.84L291.2,334.13L291.7,333.28L292.2,332.18L292.7,332.14L293.2,331.32L293.7,331.74L294.2,330.70L294.7,331.66L295.2,332.21L295.7,331.98L296.2,332.94L296.7,334.26L297.2,334.75L297.7,335.25L298.2,335.25L298.7,335.25L299.2,335.25L299.7,335.25L300.0,335.25L300.2,335.25L300.7,335.25L301.2,335.17L301.7,335.25L302.0,335.25L302.2,335.25L302.7,335.14L303.2,335.25L303.7,335.25L304.2,335.21L304.7,335.25L305.2,335.25L305.7,335.10L306.2,335.25L306.7,335.25L307.2,335.23L307.7,334.79L308.2,334.52L308.7,335.25L309.2,334.95L309.7,335.25L310.2,335.25L310.7,335.25L311.2,335.25L311.7,335.25L312.2,335.25L312.7,335.25L313.2,335.25L313.7,335.25L314.2,335.25L314.7,335.25L315.2,335.25L315.7,335.25L316.2,335.25L316.7,335.25L317.2,335.25L317.7,335.25L318.2,335.25L318.7,335.25L319.2,335.25L319.7,335.01L320.2,335.25L320.7,335.00L321.2,334.68L321.7,335.21L322.2,334.56L322.7,335.25L323.2,335.00L323.7,335.19L324.2,334.90L324.7,335.05L325.2,335.25L325.7,334.42L326.2,335.25L326.7,334.94L327.2,335.06L327.7,334.92L328.2,335.06L328.7,334.29L329.2,333.72L329.7,333.29L330.2,334.36L330.7,335.10L331.2,335.14L331.7,335.15L332.2,335.25L332.7,335.25L333.2,335.25L333.7,335.25L334.2,334.97L334.7,334.85L335.2,335.25L335.7,334.80L336.2,334.79L336.7,334.95L337.2,334.73L337.7,334.55L338.2,334.57L338.7,334.74L339.2,335.08L339.7,334.79L340.2,335.25L340.7,335.25L341.2,335.25L341.7,335.25L342.2,335.25L342.7,335.25L343.2,335.25L343.7,335.25L344.2,335.25L344.7,335.20L345.2,335.25L345.7,334.76L346.2,334.76L346.7,335.24L347.2,335.13L347.7,335.25L348.2,335.13L348.7,335.25L349.2,333.03L349.7,329.25L350.2,324.51L350.7,324.58L351.2,327.42L351.7,332.31L352.2,335.13L352.7,335.12L353.2,335.25L353.7,335.25L354.2,335.25L354.7,335.25L355.2,335.25L355.7,335.25L356.2,335.25L356.7,335.25L357.2,335.25L357.7,335.25L358.2,335.05L358.7,332.21L359.2,328.45L359.7,327.56L360.2,327.35L360.7,330.21L361.2,333.93L361.7,335.25L362.2,335.25L362.7,335.25L363.2,335.25L363.7,335.25L364.2,335.25L364.7,335.25L365.2,334.67L365.7,334.77L366.2,334.66L366.7,335.25L367.2,335.09L367.7,334.39L368.2,335.25L368.7,335.13L369.2,335.12L369.7,335.25L370.2,335.25L370.7,335.17L371.2,335.23L371.7,335.25L372.2,335.25L372.7,335.25L373.2,335.07L373.7,335.03L374.2,335.25L374.7,335.14L375.2,335.25L375.7,335.25L376.2,335.25L376.7,335.25L377.2,335.25L377.7,335.25L378.2,335.25L378.7,335.25L379.2,335.25L379.7,335.25L380.2,335.25L380.7,334.43L381.2,334.19L381.7,334.35L382.2,335.16L382.7,335.25L383.2,335.25L383.7,335.25L384.2,335.25L384.7,335.25L385.2,335.25L385.7,335.20L386.2,335.25L386.7,335.04L387.2,334.77L387.7,334.67L388.2,335.25L388.7,334.34L389.2,334.49L389.7,334.94L390.0,334.49L390.2,334.82L390.7,335.25L391.2,335.13L391.7,334.80L392.0,335.21L392.2,335.25L392.7,335.25L393.2,335.25L393.7,335.25L394.2,335.25L394.7,335.25L395.2,335.25L395.7,335.14L396.2,335.25L396.7,335.21L397.2,335.25L397.7,335.22L398.2,335.25L398.7,335.25L399.2,335.25L399.7,335.25L400.2,335.25L400.7,335.06L401.2,335.15L401.7,334.93L402.2,335.17L402.7,335.25L403.2,334.84L403.7,335.14L404.2,334.71L404.7,334.40L405.2,334.88L405.7,335.20L406.2,335.06L406.7,334.88L407.2,335.09L407.7,335.25L408.2,334.97L408.7,334.63L409.2,334.55L409.7,334.74L410.2,334.74L410.7,334.95L411.2,335.25L411.7,335.25L412.2,335.25L412.7,335.20L413.2,335.14L413.7,335.25L414.2,335.12L414.7,335.25L415.2,334.53L415.7,334.89L416.2,334.42L416.7,334.24L417.2,334.44L417.7,334.97L418.2,335.02L418.7,334.24L419.2,334.31L419.7,335.25L420.2,335.12L420.7,334.72L421.2,334.84L421.7,335.25L422.2,335.25L422.7,334.94L423.2,335.25L423.7,335.25L424.2,334.98L424.7,334.68L425.2,334.56L425.7,335.02L426.2,334.59L426.7,334.48L427.2,335.24L427.7,335.25L428.2,335.25L428.7,335.05L429.2,335.25L429.7,335.25L430.2,335.15L430.7,335.25L431.2,335.25L431.7,335.25L432.2,335.24L432.7,335.25L433.2,335.25L433.7,335.25L434.2,335.25L434.7,335.25L435.2,335.25L435.7,335.25L436.2,335.25L436.7,335.25L437.2,335.25L437.7,335.25L438.2,335.25L438.7,335.25L439.2,335.25L439.7,335.25L440.2,334.67L440.7,335.25L441.2,335.07L441.7,335.20L442.2,335.23L442.7,335.25L443.2,335.25L443.7,335.25L444.2,335.25L444.7,335.25L445.2,335.25L445.7,335.25L446.2,335.25L446.7,335.25L447.2,335.25L447.7,335.25L448.2,335.25L448.7,335.25L449.2,335.25L449.7,335.25L450.2,335.16L450.7,334.87L451.2,335.25L451.7,335.00L452.2,335.25L452.7,334.57L453.2,335.01L453.7,334.98L454.2,335.25L454.7,334.92L455.2,334.98L455.7,334.87L456.2,335.20L456.7,335.25L457.2,335.25L457.7,335.25L458.2,335.18L458.7,335.25L459.2,335.05L459.7,335.25L460.2,335.02L460.7,335.25L461.2,335.25L461.7,335.25L462.2,334.93L462.7,335.25L463.2,335.25L463.7,335.25L464.2,335.25L464.7,335.25L465.2,335.25L465.7,335.25L466.2,335.25L466.7,335.25L467.2,335.25L467.7,335.25L468.2,335.25L468.7,335.25L469.2,335.25L469.7,335.25L470.2,335.25L470.7,335.25L471.2,335.25L471.7,335.25L472.2,335.25L472.7,335.25L473.2,335.25L473.7,335.25L474.2,335.25L474.7,335.25L475.2,335.25L475.7,335.25L476.2,335.25L476.7,335.25L477.2,335.25L477.7,335.25L478.2,335.25L478.7,335.25L479.2,335.25L479.7,335.25L480.2,335.25L480.7,335.25L481.2,335.25L481.7,335.25L482.2,335.25L482.7,335.25L483.2,335.25L483.7,335.25L484.2,335.25L484.7,335.25L485.2,335.25L485.7,335.25L486.2,335.25L486.7,335.16L487.2,335.25L487.7,334.88L488.2,335.25L488.7,334.95L489.2,334.46L489.7,335.18L490.2,334.84L490.7,334.69L491.2,334.75L491.7,334.95L492.2,334.62L492.7,335.04L493.2,335.25L493.7,335.25L494.2,334.81L494.7,334.89L495.2,334.70L495.7,335.25L496.2,334.94L496.7,335.20L497.2,335.18L497.7,334.97L498.2,335.25L498.7,335.25L499.2,335.25L499.7,335.25L500.2,335.23L500.7,335.25L501.2,335.25L501.7,335.25L502.2,335.25L502.7,335.25L503.2,335.25L503.7,335.25L504.2,335.14L504.7,335.25L505.2,335.25L505.7,335.25L506.2,334.98L506.7,334.61L507.2,335.25L507.7,335.17L508.2,334.83L508.7,335.25L509.0,335.25L509.2,335.03L509.2,336.0 Z" fill="#1e1a8c"/>
<line x1="48" y1="335.50" x2="101.5" y2="335.50" stroke="#c9c9c9" stroke-width="0.9"/>
<path d="M101,315.00 H103.3 V335.50 H101" fill="none" stroke="#231f20" stroke-width="1.15"/>
<text x="100.80" y="318.50" font-family="'Liberation Sans', sans-serif" font-size="5.40" text-anchor="end" fill="#333"  stroke="#333" stroke-width="0.05">50</text>
<text x="99.30" y="328.00" font-family="'Liberation Sans', sans-serif" font-size="7.90" text-anchor="end" fill="#1a1718" textLength="47.1" lengthAdjust="spacingAndGlyphs"  stroke="#1a1718" stroke-width="0.14">CTL H3K27ac</text>
<path d="M104.2,358.0L104.2,357.03L104.7,357.25L105.2,357.25L105.7,357.16L106.2,357.19L106.7,357.25L107.2,357.25L107.7,357.25L108.2,357.25L108.7,357.25L109.2,357.25L109.7,357.25L110.2,357.25L110.7,357.25L111.2,357.25L111.7,357.25L112.2,357.25L112.7,357.25L113.2,357.25L113.7,357.25L114.2,356.91L114.7,357.25L115.2,356.67L115.7,357.05L116.2,357.25L116.7,357.25L117.2,357.25L117.7,357.04L118.2,357.01L118.7,357.25L119.2,357.25L119.7,357.25L120.2,357.25L120.7,357.25L121.2,357.25L121.7,357.25L122.2,357.25L122.7,357.25L123.2,357.25L123.7,357.25L124.2,357.25L124.7,357.20L125.2,357.05L125.7,357.25L126.2,357.25L126.7,357.25L127.2,357.25L127.7,357.25L128.2,357.25L128.7,357.25L129.2,357.25L129.7,357.25L130.2,357.25L130.7,357.07L131.2,356.83L131.7,357.25L132.2,357.17L132.7,356.83L133.2,357.05L133.7,357.25L134.2,357.25L134.7,357.25L135.2,357.25L135.7,357.25L136.2,357.25L136.7,357.25L137.2,357.25L137.7,356.95L138.2,357.25L138.7,357.04L139.2,356.59L139.7,356.99L140.2,357.16L140.7,357.06L141.2,357.25L141.7,357.19L142.2,357.25L142.7,357.25L143.2,357.25L143.7,356.71L144.2,355.53L144.7,353.45L145.2,353.17L145.7,353.47L146.2,353.63L146.7,355.09L147.2,356.47L147.7,357.25L148.2,357.25L148.7,356.72L149.2,357.25L149.7,357.25L150.2,357.25L150.7,357.25L151.2,357.20L151.7,357.25L152.2,357.25L152.7,357.25L153.2,357.25L153.7,357.25L154.2,356.96L154.7,357.25L155.2,357.11L155.7,356.74L156.2,356.61L156.7,357.17L157.2,357.25L157.7,356.66L158.2,356.98L158.7,356.63L159.2,356.57L159.7,356.83L160.2,357.25L160.7,357.25L161.2,357.25L161.7,357.25L162.2,357.25L162.7,357.25L163.2,357.25L163.7,357.25L164.2,357.25L164.7,357.25L165.2,357.25L165.7,357.25L166.2,357.16L166.7,356.92L167.2,357.19L167.7,357.02L168.2,357.23L168.7,356.98L169.2,357.25L169.7,357.20L170.2,357.25L170.7,357.25L171.2,357.17L171.7,357.25L172.2,357.25L172.7,357.25L173.2,357.25L173.7,357.25L174.2,357.25L174.7,357.25L175.2,357.25L175.7,357.25L176.2,357.25L176.7,357.25L177.2,357.25L177.7,357.25L178.2,357.25L178.7,357.25L179.2,357.25L179.7,357.25L180.2,357.25L180.7,357.05L181.2,357.05L181.7,357.07L182.2,357.25L182.7,357.20L183.2,357.25L183.7,357.10L184.2,357.25L184.7,357.09L185.2,357.25L185.7,357.25L186.2,357.25L186.7,357.25L187.2,356.91L187.7,357.25L188.2,356.91L188.7,357.25L189.2,356.79L189.7,357.25L190.2,356.95L190.7,356.95L191.2,357.25L191.7,357.25L192.2,357.25L192.7,357.00L193.2,357.25L193.7,357.25L194.2,357.12L194.7,356.69L195.2,357.25L195.7,356.60L196.2,357.11L196.7,357.25L197.2,357.25L197.7,357.25L198.2,357.25L198.7,357.25L199.2,357.25L199.7,357.25L200.2,357.25L200.7,357.25L201.2,357.25L201.7,357.15L202.2,357.22L202.7,357.25L203.2,357.25L203.7,357.06L204.2,357.25L204.7,357.25L205.2,357.25L205.7,357.15L206.2,357.25L206.7,357.22L207.2,357.25L207.7,357.25L208.2,357.25L208.7,357.25L209.2,357.25L209.7,357.25L210.2,357.25L210.7,357.25L211.2,357.25L211.7,357.15L212.2,357.25L212.7,356.55L213.2,356.67L213.7,357.18L214.2,356.96L214.7,357.24L215.2,357.25L215.7,357.11L216.2,357.15L216.7,357.25L217.2,357.25L217.7,357.25L218.2,357.25L218.7,357.19L219.2,357.01L219.7,356.92L220.2,356.87L220.7,357.25L221.2,357.25L221.7,357.25L222.2,357.25L222.7,356.76L223.2,356.68L223.7,356.91L224.2,357.25L224.7,356.99L225.2,356.99L225.7,357.25L226.2,357.25L226.7,357.25L227.2,357.25L227.7,356.62L228.2,356.16L228.7,356.43L229.2,357.06L229.7,357.25L230.2,357.25L230.7,357.25L231.2,357.25L231.7,357.25L232.2,357.25L232.7,357.06L233.2,356.96L233.7,357.25L234.2,357.25L234.7,357.25L235.2,357.25L235.7,357.25L236.2,357.25L236.7,357.25L237.2,357.20L237.7,357.25L238.2,357.20L238.7,357.25L239.2,357.25L239.7,357.25L240.2,357.25L240.7,357.25L241.2,357.25L241.7,357.25L242.2,357.25L242.7,357.00L243.2,356.10L243.7,356.22L244.2,356.66L244.7,357.25L245.2,357.25L245.7,357.25L246.2,357.25L246.7,357.25L247.2,357.25L247.7,357.25L248.2,357.25L248.7,357.25L249.2,357.25L249.7,357.25L250.2,357.25L250.7,357.25L251.2,357.25L251.7,357.25L252.2,356.91L252.7,354.93L253.2,354.25L253.7,354.34L254.2,356.02L254.7,356.99L255.2,357.04L255.7,357.16L256.2,357.25L256.7,357.25L257.2,357.25L257.7,357.25L258.2,357.25L258.7,357.25L259.2,357.25L259.7,357.25L260.2,357.25L260.7,357.25L261.2,357.25L261.7,357.25L262.2,357.25L262.7,357.25L263.2,357.25L263.7,357.25L264.2,357.25L264.7,357.25L265.2,357.25L265.7,357.25L266.2,357.25L266.7,357.25L267.2,357.25L267.7,357.25L268.2,357.11L268.7,357.06L269.2,357.25L269.7,357.25L270.2,357.25L270.7,357.25L271.2,357.25L271.7,356.82L272.2,356.54L272.7,357.25L273.2,357.25L273.7,357.13L274.2,357.08L274.7,357.25L275.2,357.25L275.7,357.25L276.2,357.25L276.7,357.25L277.2,357.25L277.7,357.25L278.2,357.25L278.7,357.25L279.2,357.25L279.7,357.25L280.2,357.25L280.7,357.25L281.2,357.25L281.7,357.25L282.2,357.25L282.7,357.25L283.2,357.25L283.7,357.25L284.2,357.25L284.7,357.25L285.2,357.25L285.7,357.25L286.2,357.25L286.7,357.25L287.2,357.25L287.7,357.25L288.2,357.25L288.7,357.25L289.2,357.25L289.7,357.25L290.2,357.22L290.7,357.25L291.2,357.15L291.7,357.11L292.2,356.46L292.7,356.35L293.2,356.37L293.7,356.24L294.2,356.87L294.7,356.56L295.2,354.73L295.7,353.82L296.2,353.58L296.7,354.36L297.2,356.50L297.7,357.25L298.2,357.25L298.7,357.23L299.2,357.25L299.7,357.25L300.2,357.25L300.7,357.07L301.2,357.25L301.7,357.12L302.2,357.25L302.7,357.12L303.2,357.25L303.7,357.24L304.2,357.25L304.7,357.25L305.2,357.25L305.7,357.25L306.2,357.25L306.7,357.25L307.2,357.25L307.7,357.25L308.2,357.25L308.7,357.25L309.2,357.25L309.7,356.93L310.2,357.02L310.7,357.12L311.2,357.25L311.7,357.25L312.2,357.25L312.7,357.25L313.2,357.25L313.7,357.25L314.2,357.25L314.7,357.25L315.2,357.25L315.7,357.25L316.2,357.25L316.7,357.25L317.2,357.25L317.7,357.25L318.2,357.25L318.7,357.25L319.2,357.25L319.7,357.25L320.2,357.25L320.7,357.25L321.2,357.25L321.7,357.25L322.2,357.25L322.7,357.25L323.2,357.25L323.7,356.96L324.2,357.25L324.7,357.01L325.2,356.92L325.7,356.96L326.2,357.25L326.7,357.25L327.2,357.25L327.7,357.22L328.2,356.57L328.7,356.58L329.2,356.24L329.7,356.47L330.2,356.83L330.7,357.05L331.2,357.25L331.7,357.25L332.2,357.25L332.7,357.25L333.2,357.25L333.7,357.25L334.2,357.25L334.7,357.25L335.2,357.25L335.7,357.25L336.2,357.25L336.7,356.79L337.2,356.81L337.7,357.18L338.2,357.25L338.7,357.25L339.2,357.25L339.7,357.25L340.2,357.25L340.7,357.25L341.2,357.19L341.7,357.24L342.2,357.25L342.7,357.17L343.2,357.25L343.7,357.25L344.2,357.25L344.7,357.25L345.2,357.25L345.7,357.25L346.2,357.25L346.7,357.25L347.2,357.25L347.7,357.25L348.2,357.25L348.7,357.25L349.2,356.13L349.7,353.11L350.2,350.26L350.7,350.89L351.2,351.95L351.7,355.77L352.2,357.25L352.7,357.25L353.2,357.25L353.7,357.25L354.2,357.25L354.7,357.25L355.2,357.25L355.7,357.25L356.2,357.25L356.7,357.25L357.2,357.25L357.7,357.25L358.2,357.25L358.7,357.25L359.2,356.83L359.7,355.82L360.2,354.86L360.7,355.02L361.2,355.62L361.7,357.25L362.2,357.25L362.7,357.25L363.2,357.25L363.7,357.25L364.2,357.25L364.7,357.25L365.2,357.25L365.7,357.25L366.2,357.25L366.7,357.25L367.2,357.25L367.7,357.25L368.2,357.25L368.7,357.25L369.2,357.25L369.7,357.25L370.2,357.21L370.7,357.10L371.2,357.03L371.7,357.25L372.2,357.10L372.7,357.24L373.2,356.88L373.7,357.18L374.2,357.25L374.7,356.86L375.2,357.04L375.7,357.25L376.2,357.24L376.7,356.94L377.2,357.25L377.7,357.25L378.2,357.25L378.7,357.25L379.2,357.25L379.7,357.25L380.2,357.25L380.7,357.25L381.2,357.25L381.7,357.06L382.2,356.80L382.7,356.71L383.2,357.25L383.7,357.16L384.2,356.93L384.7,357.25L385.2,357.25L385.7,357.25L386.2,357.25L386.7,357.25L387.2,357.25L387.7,357.25L388.2,357.25L388.7,357.25L389.2,357.25L389.7,357.25L390.2,357.25L390.7,357.25L391.2,357.25L391.7,357.25L392.2,357.25L392.7,357.25L393.2,357.25L393.7,357.12L394.2,357.21L394.7,357.25L395.2,357.25L395.7,356.74L396.2,356.70L396.7,357.25L397.2,357.25L397.7,356.85L398.2,357.25L398.7,356.75L399.2,357.21L399.7,357.07L400.2,357.25L400.7,357.20L401.2,357.25L401.7,357.25L402.2,357.25L402.7,357.25L403.2,357.25L403.7,357.25L404.2,357.25L404.7,357.25L405.2,357.25L405.7,356.86L406.2,357.25L406.7,356.90L407.2,357.04L407.7,357.25L408.2,357.21L408.7,357.21L409.2,357.25L409.7,357.25L410.2,357.25L410.7,357.25L411.2,357.25L411.7,357.25L412.2,357.25L412.7,357.25L413.2,357.25L413.7,357.25L414.2,357.23L414.7,357.25L415.2,357.25L415.7,357.25L416.2,357.25L416.7,357.25L417.2,357.25L417.7,357.25L418.2,356.79L418.7,356.73L419.2,356.61L419.7,356.79L420.2,356.51L420.7,357.25L421.2,356.92L421.7,357.21L422.2,356.79L422.7,357.25L423.2,357.10L423.7,357.11L424.2,357.02L424.7,357.22L425.2,357.25L425.7,357.25L426.2,357.25L426.7,357.22L427.2,357.25L427.7,357.25L428.2,357.21L428.7,357.25L429.2,357.25L429.7,357.20L430.2,357.19L430.7,357.25L431.2,357.20L431.7,357.25L432.2,357.25L432.7,357.25L433.2,357.10L433.7,357.23L434.2,357.25L434.7,357.25L435.2,357.25L435.7,357.25L436.2,357.25L436.7,357.25L437.2,357.25L437.7,357.25L438.2,357.25L438.7,357.25L439.2,357.25L439.7,357.25L440.2,356.96L440.7,357.25L441.2,357.20L441.7,357.25L442.2,357.25L442.7,357.05L443.2,357.25L443.7,356.88L444.2,357.25L444.7,357.25L445.2,357.01L445.7,357.25L446.2,357.25L446.7,357.23L447.2,357.25L447.7,357.18L448.2,357.23L448.7,356.82L449.2,357.25L449.7,356.80L450.2,356.58L450.7,357.02L451.2,357.25L451.7,357.25L452.2,357.15L452.7,357.25L453.2,357.25L453.7,357.25L454.2,357.25L454.7,357.25L455.2,357.25L455.7,357.25L456.2,357.25L456.7,357.25L457.2,357.25L457.7,357.25L458.2,357.25L458.7,357.25L459.2,357.16L459.7,357.25L460.2,357.25L460.7,357.25L461.2,357.20L461.7,357.21L462.2,357.25L462.7,357.25L463.2,357.25L463.7,357.25L464.2,357.25L464.7,357.25L465.2,357.25L465.7,357.25L466.2,357.25L466.7,357.25L467.2,357.25L467.7,357.25L468.2,357.25L468.7,357.25L469.2,357.25L469.7,357.25L470.2,357.25L470.7,357.25L471.2,357.05L471.7,357.25L472.2,357.25L472.7,357.25L473.2,357.19L473.7,357.25L474.2,357.25L474.7,357.25L475.2,357.25L475.7,357.25L476.2,357.25L476.7,357.25L477.2,357.25L477.7,357.25L478.2,357.25L478.7,357.25L479.2,357.25L479.7,357.25L480.2,357.25L480.7,357.25L481.2,357.25L481.7,357.25L482.2,357.25L482.7,357.25L483.2,357.25L483.7,357.25L484.2,357.25L484.7,357.25L485.2,357.09L485.7,357.25L486.2,356.69L486.7,357.25L487.2,357.21L487.7,357.08L488.2,357.25L488.7,357.25L489.2,357.25L489.7,357.25L490.2,357.25L490.7,357.25L491.2,357.25L491.7,357.25L492.2,357.25L492.7,357.25L493.2,357.25L493.7,357.25L494.2,357.25L494.7,357.25L495.2,357.25L495.7,357.25L496.2,357.25L496.7,357.25L497.2,357.25L497.7,357.25L498.2,357.25L498.7,357.25L499.2,357.25L499.7,357.25L500.2,357.25L500.7,357.25L501.2,357.25L501.7,357.08L502.2,356.88L502.7,357.25L503.2,357.00L503.7,357.13L504.2,357.25L504.7,357.22L505.2,357.25L505.7,357.25L506.2,357.25L506.7,357.25L507.2,357.25L507.7,357.25L508.2,357.25L508.7,357.25L509.0,357.25L509.2,357.25L509.2,358.0 Z" fill="#1e1a8c"/>
<line x1="48" y1="357.30" x2="101.5" y2="357.30" stroke="#c9c9c9" stroke-width="0.9"/>
<path d="M101,337.00 H103.3 V357.30 H101" fill="none" stroke="#231f20" stroke-width="1.15"/>
<text x="100.80" y="340.50" font-family="'Liberation Sans', sans-serif" font-size="5.40" text-anchor="end" fill="#333"  stroke="#333" stroke-width="0.05">50</text>
<text x="99.30" y="349.90" font-family="'Liberation Sans', sans-serif" font-size="7.90" text-anchor="end" fill="#1a1718" textLength="49.5" lengthAdjust="spacingAndGlyphs"  stroke="#1a1718" stroke-width="0.14">QPD H3K27ac</text>
<rect x="104.2" y="364.0" width="405.0" height="20.7" fill="#e0dfdb"/>
<path d="M104.2,385.0L104.2,383.56L104.7,384.25L105.2,383.96L105.7,383.98L106.2,384.25L106.7,383.95L107.2,384.05L107.7,384.06L108.2,383.78L108.7,384.25L109.2,384.17L109.7,383.75L110.2,384.25L110.7,383.69L111.2,384.25L111.7,384.02L112.2,384.25L112.7,384.25L113.2,384.25L113.7,384.25L114.2,384.25L114.7,384.25L115.2,384.25L115.7,384.25L116.2,384.25L116.7,384.25L117.2,384.19L117.7,383.70L118.2,383.61L118.7,384.03L119.2,384.25L119.7,384.25L120.2,384.25L120.7,384.25L121.2,384.25L121.7,384.25L122.2,384.25L122.7,384.25L123.2,384.25L123.7,384.25L124.2,384.25L124.7,384.25L125.2,384.25L125.7,384.25L126.2,384.25L126.7,384.25L127.2,384.25L127.7,384.25L128.2,384.25L128.7,384.25L129.2,384.25L129.7,384.25L130.2,384.25L130.7,384.25L131.2,384.25L131.7,384.25L132.2,384.25L132.7,383.95L133.2,383.57L133.7,383.58L134.2,384.10L134.7,384.25L135.2,384.25L135.7,384.25L136.0,384.25L136.2,384.25L136.7,384.12L137.2,384.15L137.5,383.97L137.7,383.15L138.2,381.19L138.3,380.74L138.7,379.53L138.9,379.25L139.2,380.36L139.6,381.28L139.7,381.44L140.2,382.65L140.5,383.52L140.7,383.34L141.2,382.96L141.5,382.81L141.7,381.09L142.2,377.96L142.3,376.36L142.7,374.42L143.0,371.19L143.2,372.72L143.7,372.75L144.0,371.24L144.2,370.50L144.7,371.20L145.0,369.39L145.2,370.70L145.7,367.87L146.0,367.25L146.2,367.82L146.7,366.09L147.0,367.34L147.2,370.32L147.7,370.49L148.0,372.49L148.2,371.95L148.7,372.41L149.0,373.56L149.2,375.80L149.7,378.29L150.0,378.98L150.2,380.09L150.7,381.13L151.0,381.90L151.2,382.22L151.7,383.00L152.0,383.61L152.2,383.22L152.7,383.25L153.0,382.98L153.2,383.22L153.7,383.62L153.8,383.47L154.2,382.32L154.5,380.57L154.7,380.65L155.2,377.43L155.5,376.37L155.7,377.08L156.2,373.63L156.5,372.62L156.7,371.88L157.2,364.24L157.3,364.00L157.7,367.72L158.0,372.44L158.2,372.64L158.7,374.35L159.0,374.94L159.2,374.97L159.7,371.83L160.0,371.78L160.2,371.16L160.5,370.00L160.7,372.47L161.2,376.22L161.7,380.84L161.8,382.13L162.2,383.09L162.5,384.07L162.7,383.96L163.2,384.19L163.7,384.10L164.2,384.21L164.7,384.25L165.0,384.25L165.2,384.25L165.7,384.20L166.2,384.25L166.7,384.22L167.2,383.43L167.7,383.23L168.2,383.29L168.7,384.23L169.2,384.25L169.7,384.25L170.2,384.25L170.7,384.25L171.2,384.25L171.7,384.25L172.2,384.25L172.7,384.24L173.2,384.25L173.7,384.25L174.2,384.15L174.7,384.25L175.2,384.25L175.7,384.21L176.2,383.94L176.7,384.14L177.2,384.20L177.7,384.25L178.2,384.25L178.7,384.25L179.2,384.19L179.7,384.25L180.2,384.25L180.7,384.03L181.2,384.25L181.7,384.16L182.2,384.25L182.7,384.14L183.2,384.25L183.7,384.25L184.2,384.25L184.7,384.25L185.2,384.09L185.7,384.25L186.2,384.06L186.7,384.25L187.2,383.86L187.7,384.25L188.2,383.56L188.7,383.62L189.2,384.25L189.7,383.96L190.2,384.14L190.7,384.25L191.2,384.25L191.7,384.25L192.2,384.25L192.7,384.25L193.2,384.16L193.7,384.09L194.2,384.23L194.7,383.94L195.2,384.25L195.7,384.25L196.2,384.25L196.7,384.25L197.2,384.16L197.7,384.25L198.2,384.25L198.7,384.25L199.2,384.25L199.7,384.25L200.2,384.25L200.7,384.25L201.2,384.25L201.7,384.25L202.2,384.25L202.7,384.25L203.2,384.25L203.7,384.25L204.2,384.25L204.7,384.25L205.2,384.25L205.7,384.01L206.2,384.18L206.7,384.25L207.2,384.25L207.7,384.25L208.2,384.25L208.7,384.25L209.2,384.25L209.7,384.25L210.2,384.25L210.7,384.25L211.2,384.25L211.7,384.25L212.2,384.25L212.7,384.25L213.2,384.25L213.7,382.42L214.2,379.64L214.7,378.61L215.2,379.45L215.7,382.18L216.2,377.04L216.2,376.53L216.5,376.12L216.7,376.69L216.8,376.78L217.2,381.12L217.7,378.96L218.2,374.11L218.7,373.48L219.2,375.81L219.7,381.46L220.2,378.15L220.7,377.74L221.2,380.57L221.7,381.25L222.2,381.36L222.7,382.19L223.2,384.15L223.7,384.25L224.2,384.13L224.7,384.25L225.2,384.25L225.7,383.37L226.2,380.47L226.2,380.48L226.5,380.07L226.7,380.35L226.8,380.78L227.2,380.72L227.7,377.10L228.2,376.37L228.7,379.66L229.2,380.67L229.2,380.23L229.5,380.44L229.7,380.37L229.8,380.51L230.2,382.68L230.7,384.16L231.2,384.25L231.7,384.25L232.2,384.25L232.7,384.25L233.2,384.25L233.7,384.25L234.2,384.25L234.7,384.25L235.2,384.25L235.7,384.25L236.2,384.25L236.7,384.25L237.2,384.25L237.7,384.25L238.2,384.25L238.7,384.25L239.2,384.25L239.7,384.25L240.2,384.25L240.7,384.25L241.2,384.25L241.7,384.25L242.2,384.25L242.7,383.19L243.2,382.44L243.7,382.27L244.2,383.10L244.7,383.98L245.2,384.25L245.7,384.22L246.2,384.25L246.7,384.25L247.2,384.25L247.7,384.25L248.2,384.25L248.7,384.25L249.2,384.25L249.7,384.25L250.2,384.25L250.7,384.25L251.2,384.25L251.7,384.25L252.2,382.95L252.7,377.31L253.2,373.16L253.7,374.54L254.2,380.58L254.7,384.25L255.2,384.25L255.7,384.25L256.2,384.25L256.7,384.25L257.2,384.25L257.7,384.25L258.2,384.25L258.7,384.25L259.2,384.25L259.7,384.25L260.2,384.25L260.7,384.25L261.2,384.25L261.7,384.25L262.2,384.25L262.7,384.25L263.2,384.25L263.7,384.25L264.2,384.25L264.7,384.21L265.2,384.25L265.7,383.46L266.2,376.46L266.4,373.16L266.7,372.66L266.9,373.40L267.2,376.67L267.7,383.37L268.2,384.00L268.7,384.25L269.2,383.96L269.7,384.09L270.2,384.14L270.7,384.25L271.2,384.25L271.7,384.25L272.2,384.25L272.7,384.25L273.2,384.25L273.7,384.25L274.2,384.25L274.7,384.25L275.2,384.25L275.7,384.25L276.2,384.25L276.7,384.25L277.2,384.25L277.7,384.25L278.2,384.25L278.7,384.25L279.2,384.25L279.7,384.25L280.2,384.25L280.7,384.25L281.2,384.25L281.7,384.25L282.2,384.25L282.7,384.25L283.2,384.25L283.7,384.25L284.2,384.25L284.7,384.25L285.2,384.25L285.7,384.25L286.2,384.03L286.7,383.23L287.2,380.77L287.7,379.23L288.2,379.65L288.7,382.28L289.2,384.25L289.7,384.25L290.2,384.25L290.7,384.25L291.2,384.25L291.7,383.84L292.2,380.60L292.7,377.66L293.2,377.26L293.7,379.44L294.2,383.22L294.7,384.25L295.2,379.51L295.7,369.55L295.8,369.68L296.0,369.32L296.2,369.52L296.2,368.98L296.7,377.51L297.2,381.50L297.7,379.29L298.2,379.17L298.7,380.78L299.2,383.75L299.7,384.25L300.2,383.80L300.7,383.77L301.2,384.00L301.7,383.97L302.2,384.07L302.7,384.25L303.2,384.25L303.7,384.25L304.2,384.25L304.7,384.12L305.2,384.14L305.7,384.25L306.2,383.96L306.7,384.25L307.2,384.25L307.7,384.25L308.2,384.25L308.7,384.15L309.2,384.25L309.7,384.25L310.2,384.25L310.7,384.25L311.2,384.25L311.7,384.25L312.2,384.25L312.7,384.25L313.2,383.34L313.7,383.18L314.2,383.32L314.7,384.25L315.2,384.08L315.7,384.25L316.2,383.84L316.7,383.95L317.2,384.25L317.7,383.96L318.2,384.25L318.7,384.03L319.2,384.25L319.7,383.83L320.2,384.25L320.7,384.13L321.2,384.17L321.7,384.25L322.2,384.22L322.7,384.25L323.2,384.25L323.7,384.18L324.2,383.85L324.7,384.00L325.2,384.25L325.7,384.10L326.2,384.25L326.7,384.25L327.2,383.48L327.7,381.37L328.2,378.86L328.7,377.10L329.2,376.26L329.7,376.12L330.2,377.31L330.7,379.17L331.2,381.82L331.7,383.71L332.2,384.11L332.7,384.25L333.2,384.25L333.7,384.25L334.2,384.25L334.7,384.25L335.2,384.25L335.7,383.03L336.2,380.00L336.7,378.18L337.2,378.82L337.7,381.51L338.2,384.25L338.7,384.25L339.2,384.25L339.7,384.25L340.2,384.25L340.7,384.25L341.2,384.25L341.7,384.25L342.2,384.25L342.7,384.25L343.2,384.25L343.7,384.25L344.2,384.25L344.7,384.25L345.2,384.25L345.7,384.25L346.2,384.22L346.7,384.25L347.2,384.25L347.7,384.21L348.2,384.25L348.7,383.02L349.2,380.05L349.7,376.79L350.2,375.43L350.7,375.58L351.2,376.35L351.7,379.50L352.2,382.55L352.7,384.17L353.2,384.20L353.7,383.62L354.2,384.11L354.7,383.72L355.2,384.25L355.7,384.24L356.2,384.25L356.7,383.88L357.2,382.59L357.7,379.72L358.2,378.38L358.7,378.59L359.2,378.99L359.7,375.45L360.2,373.17L360.7,372.43L361.2,371.86L361.7,372.24L362.2,373.35L362.7,377.41L363.2,378.40L363.7,377.89L364.2,377.09L364.7,378.49L365.2,379.89L365.7,382.40L366.2,384.06L366.7,383.98L367.2,383.89L367.7,384.25L368.2,384.25L368.7,383.69L369.2,384.07L369.7,384.15L370.2,384.07L370.7,384.09L371.2,384.25L371.7,384.21L372.2,384.25L372.7,384.25L373.2,384.25L373.7,384.25L374.2,384.25L374.7,384.19L375.2,384.25L375.7,384.14L376.2,384.25L376.7,383.83L377.2,383.94L377.7,384.21L378.2,383.71L378.7,384.24L379.2,384.13L379.7,382.58L380.2,380.75L380.7,379.66L381.2,379.47L381.7,379.16L382.2,380.08L382.7,381.92L383.2,383.51L383.7,384.25L384.2,384.25L384.7,384.25L385.2,384.25L385.7,384.25L386.2,384.25L386.7,384.25L387.2,384.25L387.7,384.25L388.2,384.25L388.7,384.25L389.2,384.25L389.7,384.25L390.2,384.25L390.7,384.25L391.2,384.25L391.7,384.25L392.2,384.25L392.7,384.25L393.2,384.25L393.7,384.25L394.2,384.25L394.7,384.25L395.2,384.25L395.7,384.25L396.2,384.25L396.7,384.25L397.2,384.25L397.7,383.83L398.2,383.65L398.7,384.20L399.2,383.77L399.7,383.68L400.2,383.85L400.7,383.88L401.2,383.73L401.7,384.20L402.2,384.25L402.7,384.25L403.2,384.25L403.7,384.25L404.2,384.25L404.7,384.25L405.2,384.25L405.7,384.25L406.2,384.25L406.7,384.25L407.2,384.25L407.7,384.25L408.2,384.25L408.7,384.25L409.2,384.25L409.7,384.25L410.2,384.25L410.7,384.25L411.2,384.25L411.7,384.25L412.2,384.25L412.7,384.25L413.2,384.25L413.7,384.25L414.2,384.25L414.7,384.25L415.2,384.25L415.7,384.25L416.2,384.25L416.7,384.25L417.2,384.25L417.7,384.25L418.2,384.25L418.7,384.25L419.2,384.25L419.7,384.25L420.2,384.25L420.7,384.22L421.2,384.25L421.7,384.25L422.2,383.83L422.7,384.17L423.2,384.25L423.7,384.25L424.2,384.25L424.7,384.25L425.2,384.25L425.7,384.25L426.2,383.22L426.7,382.16L427.2,382.20L427.7,382.96L428.2,384.25L428.7,384.25L429.2,384.25L429.7,384.25L430.2,384.25L430.7,384.25L431.2,384.25L431.7,384.00L432.2,384.25L432.7,384.25L433.2,384.02L433.7,384.17L434.2,383.96L434.7,384.25L435.2,384.22L435.7,384.25L436.2,384.25L436.7,384.25L437.2,384.25L437.7,384.25L438.2,384.25L438.7,383.79L439.2,383.22L439.7,383.20L440.2,383.22L440.7,383.47L441.2,384.03L441.7,384.19L442.2,384.03L442.7,384.25L443.2,384.25L443.7,384.25L444.2,383.84L444.7,384.08L445.2,384.12L445.7,384.15L446.2,384.25L446.7,383.75L447.2,384.10L447.7,384.07L448.2,384.14L448.7,383.75L449.2,384.14L449.7,384.06L450.2,383.78L450.7,384.25L451.2,383.78L451.7,384.02L452.2,384.25L452.7,383.96L453.2,383.48L453.7,383.24L454.2,383.10L454.7,383.27L455.2,383.86L455.7,384.25L456.2,383.40L456.7,381.44L457.2,381.02L457.7,381.31L458.2,383.35L458.7,384.25L459.2,384.25L459.7,384.09L460.2,384.25L460.7,384.11L461.2,384.25L461.7,384.25L462.2,384.25L462.7,384.25L463.2,383.80L463.7,383.90L464.2,384.25L464.7,384.19L465.2,383.75L465.7,384.20L466.2,384.25L466.7,384.24L467.2,384.25L467.7,384.25L468.2,384.25L468.7,384.25L469.2,384.25L469.7,384.25L470.2,384.25L470.7,384.25L471.2,384.25L471.7,384.25L472.2,384.25L472.7,384.25L473.2,384.25L473.7,384.25L474.2,384.25L474.7,384.25L475.2,384.25L475.7,384.25L476.2,384.25L476.7,384.25L477.2,384.25L477.7,384.25L478.2,384.25L478.7,384.25L479.2,384.25L479.7,384.25L480.2,384.25L480.7,384.15L481.2,384.00L481.7,384.25L482.2,384.25L482.7,384.25L483.2,384.25L483.7,384.25L484.2,384.25L484.7,384.23L485.2,384.25L485.7,384.25L486.2,384.25L486.7,384.23L487.2,384.14L487.7,384.25L488.2,384.25L488.7,384.25L489.2,384.25L489.7,384.25L490.2,384.03L490.7,384.14L491.2,384.25L491.7,384.25L492.2,384.25L492.7,384.03L493.2,383.84L493.7,384.25L494.2,384.25L494.7,384.25L495.2,384.25L495.7,384.25L496.2,384.25L496.7,384.25L497.2,384.25L497.7,384.25L498.2,384.25L498.7,384.25L499.2,384.25L499.7,384.20L500.2,384.25L500.7,384.25L501.2,384.25L501.7,384.25L502.2,384.25L502.7,384.25L503.2,384.25L503.7,384.25L504.2,384.25L504.7,384.25L505.2,384.25L505.7,384.22L506.2,384.25L506.7,384.17L507.2,384.25L507.7,384.03L508.2,384.19L508.7,383.89L509.0,383.98L509.2,384.25L509.2,385.0 Z" fill="#f9a41c"/>
<line x1="48" y1="384.70" x2="101.5" y2="384.70" stroke="#c9c9c9" stroke-width="0.9"/>
<path d="M101,364.50 H103.3 V384.70 H101" fill="none" stroke="#231f20" stroke-width="1.15"/>
<text x="100.80" y="368.00" font-family="'Liberation Sans', sans-serif" font-size="5.40" text-anchor="end" fill="#333"  stroke="#333" stroke-width="0.05">50</text>
<text x="99.30" y="377.35" font-family="'Liberation Sans', sans-serif" font-size="7.90" text-anchor="end" fill="#1a1718" textLength="49.7" lengthAdjust="spacingAndGlyphs"  stroke="#1a1718" stroke-width="0.14">CTL H3K4me2</text>
<path d="M104.2,406.0L104.2,405.25L104.7,404.89L105.2,405.18L105.7,405.04L106.2,405.25L106.7,404.80L107.2,404.88L107.7,405.25L108.2,405.25L108.7,405.25L109.2,405.25L109.7,405.25L110.2,405.25L110.7,405.25L111.2,405.25L111.7,405.25L112.2,405.25L112.7,405.25L113.2,405.18L113.7,405.25L114.2,404.56L114.7,404.55L115.2,404.72L115.7,405.25L116.2,405.25L116.7,405.25L117.2,405.25L117.7,405.14L118.2,405.09L118.7,405.25L119.2,405.25L119.7,405.25L120.2,405.25L120.7,405.25L121.2,405.25L121.7,405.25L122.2,405.25L122.7,405.17L123.2,405.25L123.7,405.25L124.2,405.25L124.7,405.25L125.2,405.25L125.7,405.25L126.2,405.25L126.7,405.25L127.2,405.25L127.7,405.23L128.2,405.25L128.7,405.25L129.2,405.25L129.7,405.25L130.2,405.25L130.7,405.25L131.2,405.25L131.7,405.25L132.2,405.25L132.7,405.25L133.2,405.25L133.7,405.25L134.2,405.25L134.7,405.25L135.2,405.04L135.7,405.25L136.0,405.25L136.2,404.91L136.7,405.25L137.2,405.07L137.7,405.07L138.0,405.06L138.2,404.24L138.7,402.05L138.8,401.73L139.2,400.29L139.3,400.44L139.7,401.52L140.0,403.26L140.2,403.09L140.7,404.04L141.0,404.43L141.2,404.19L141.7,403.22L142.0,402.75L142.2,401.89L142.7,400.16L143.0,398.95L143.2,397.23L143.7,395.24L144.0,393.34L144.2,394.24L144.7,392.88L145.0,392.61L145.2,392.06L145.7,389.23L146.0,391.25L146.2,387.38L146.7,387.61L147.2,391.40L147.5,391.70L147.7,390.98L148.2,394.55L148.5,394.90L148.7,396.49L149.2,395.27L149.5,395.99L149.7,396.54L150.2,398.22L150.5,399.41L150.7,401.03L151.2,401.76L151.5,402.91L151.7,403.52L152.2,404.09L152.5,404.33L152.7,404.24L153.2,403.95L153.5,404.14L153.7,402.96L154.2,401.20L154.5,399.85L154.7,400.17L155.2,400.42L155.5,400.73L155.7,400.70L156.2,397.42L156.5,396.93L156.7,396.94L157.2,395.02L157.3,392.48L157.7,396.31L158.0,397.87L158.2,396.42L158.7,397.77L159.0,399.00L159.2,399.25L159.7,395.89L160.0,396.20L160.2,395.71L160.7,397.55L161.2,401.20L161.5,403.25L161.7,403.53L162.2,404.28L162.5,404.94L162.7,405.01L163.2,404.63L163.7,404.57L164.2,404.89L164.7,405.25L165.0,404.99L165.2,405.25L165.7,404.77L166.2,405.10L166.7,405.13L167.2,404.37L167.7,404.16L168.2,404.41L168.7,405.23L169.2,405.10L169.7,405.25L170.2,405.25L170.7,405.25L171.2,405.25L171.7,405.25L172.2,405.25L172.7,405.25L173.2,405.25L173.7,405.25L174.2,405.25L174.7,405.25L175.2,405.25L175.7,405.11L176.2,404.91L176.7,405.25L177.2,404.65L177.7,405.25L178.2,405.16L178.7,404.82L179.2,405.25L179.7,405.25L180.2,405.25L180.7,405.25L181.2,405.25L181.7,405.25L182.2,405.25L182.7,405.25L183.2,405.25L183.7,405.13L184.2,405.10L184.7,404.88L185.2,405.25L185.7,405.25L186.2,404.98L186.7,404.78L187.2,405.09L187.7,405.25L188.2,405.18L188.7,405.25L189.2,405.25L189.7,405.10L190.2,405.25L190.7,405.25L191.2,405.25L191.7,405.25L192.2,405.25L192.7,405.25L193.2,405.25L193.7,405.25L194.2,405.25L194.7,405.25L195.2,405.25L195.7,405.25L196.2,405.25L196.7,405.25L197.2,405.25L197.7,405.25L198.2,405.25L198.7,405.25L199.2,405.25L199.7,405.25L200.2,405.25L200.7,405.25L201.2,405.25L201.7,405.25L202.2,405.22L202.7,405.25L203.2,405.25L203.7,405.25L204.2,405.25L204.7,405.25L205.2,405.25L205.7,405.25L206.2,405.25L206.7,405.25L207.2,405.25L207.7,405.25L208.2,404.88L208.7,405.25L209.2,405.25L209.7,405.25L210.2,405.25L210.7,404.76L211.2,405.25L211.7,404.93L212.2,404.62L212.7,403.46L212.8,403.43L213.0,403.15L213.2,403.12L213.2,403.36L213.7,404.62L214.2,402.22L214.7,401.22L215.2,401.99L215.7,404.79L216.2,404.12L216.7,400.51L216.8,400.29L217.0,400.53L217.2,400.28L217.2,400.72L217.7,403.27L218.2,402.66L218.7,400.28L219.2,399.48L219.7,400.27L220.2,402.46L220.7,401.37L220.8,401.44L221.0,401.22L221.2,401.71L221.2,401.37L221.7,403.73L222.2,405.25L222.7,405.25L223.2,405.25L223.7,405.25L224.2,405.25L224.7,405.25L225.2,405.25L225.7,405.25L226.2,405.25L226.7,405.25L227.2,403.28L227.7,401.41L228.2,401.50L228.7,402.70L229.2,404.93L229.7,405.25L230.2,405.25L230.7,405.07L231.2,405.15L231.7,405.25L232.2,405.25L232.7,405.25L233.2,405.11L233.7,405.17L234.2,405.04L234.7,404.99L235.2,405.25L235.7,405.25L236.2,405.02L236.7,405.12L237.2,405.25L237.7,404.76L238.2,405.25L238.7,405.25L239.2,404.91L239.7,405.14L240.2,404.82L240.7,405.25L241.2,405.00L241.7,404.88L242.2,405.10L242.7,404.83L243.2,404.27L243.7,404.20L244.2,404.67L244.7,405.25L245.2,404.94L245.7,405.25L246.2,405.25L246.7,405.25L247.2,405.25L247.7,405.25L248.2,405.25L248.7,405.25L249.2,405.25L249.7,405.25L250.2,405.25L250.7,405.19L251.2,405.09L251.7,405.18L252.2,404.55L252.7,402.48L253.2,401.01L253.7,401.51L254.2,403.58L254.7,405.25L255.2,405.00L255.7,405.13L256.2,405.25L256.7,405.24L257.2,405.25L257.7,405.25L258.2,405.25L258.7,405.25L259.2,405.25L259.7,405.25L260.2,405.25L260.7,405.25L261.2,405.25L261.7,405.25L262.2,405.25L262.7,405.25L263.2,405.25L263.7,405.25L264.2,405.25L264.7,405.25L265.2,405.25L265.7,405.25L266.2,404.36L266.4,403.90L266.7,403.73L266.9,403.65L267.2,404.24L267.7,405.25L268.2,405.25L268.7,405.25L269.2,405.25L269.7,405.25L270.2,405.25L270.7,405.25L271.2,405.25L271.7,405.25L272.2,405.25L272.7,405.25L273.2,405.25L273.7,405.18L274.2,405.25L274.7,405.03L275.2,405.00L275.7,405.25L276.2,404.98L276.7,405.25L277.2,404.91L277.7,405.25L278.2,405.09L278.7,405.25L279.2,405.24L279.7,404.66L280.2,405.10L280.7,405.25L281.2,405.23L281.7,405.25L282.2,405.25L282.7,405.25L283.2,405.25L283.7,405.25L284.2,405.25L284.7,405.25L285.2,405.25L285.7,405.25L286.2,405.25L286.7,404.82L287.2,402.84L287.7,402.20L288.2,402.70L288.7,404.19L289.2,404.84L289.7,404.56L290.2,404.59L290.7,404.82L291.2,405.07L291.7,404.76L292.2,403.91L292.7,402.67L293.2,402.67L293.7,403.82L294.2,405.17L294.7,405.25L295.2,401.81L295.7,394.10L295.8,394.50L296.0,392.43L296.2,393.66L296.2,393.48L296.7,399.97L297.2,405.25L297.7,405.25L298.2,405.25L298.7,405.25L299.2,405.25L299.7,405.25L300.2,405.25L300.7,405.25L301.2,405.25L301.7,405.25L302.2,405.25L302.7,405.25L303.2,405.25L303.7,405.25L304.2,405.25L304.7,405.25L305.2,405.25L305.7,405.25L306.2,405.25L306.7,405.25L307.2,405.25L307.7,405.25L308.2,405.25L308.7,405.25L309.2,405.25L309.7,405.25L310.2,405.25L310.7,405.25L311.2,405.10L311.7,405.15L312.2,405.25L312.7,405.05L313.2,405.22L313.7,405.11L314.2,405.21L314.7,405.08L315.2,405.25L315.7,405.18L316.2,405.25L316.7,405.25L317.2,405.25L317.7,405.25L318.2,405.25L318.7,405.25L319.2,405.25L319.7,405.11L320.2,405.25L320.7,405.25L321.2,404.97L321.7,405.25L322.2,404.91L322.7,405.11L323.2,405.25L323.7,405.25L324.2,405.25L324.7,405.25L325.2,405.25L325.7,405.25L326.2,405.25L326.7,405.25L327.2,405.25L327.7,403.42L328.2,400.49L328.7,397.69L329.2,397.12L329.7,396.67L330.2,398.34L330.7,400.85L331.2,403.80L331.7,404.83L332.2,404.87L332.7,405.25L333.2,405.25L333.7,405.25L334.2,405.25L334.7,405.25L335.2,405.25L335.7,404.37L336.2,401.26L336.7,400.69L337.2,400.45L337.7,403.25L338.2,405.25L338.7,405.25L339.2,405.25L339.7,405.25L340.2,405.25L340.7,405.25L341.2,405.25L341.7,405.25L342.2,405.25L342.7,405.25L343.2,405.25L343.7,405.25L344.2,405.25L344.7,405.25L345.2,405.25L345.7,405.25L346.2,405.25L346.7,405.25L347.2,405.25L347.7,405.17L348.2,405.25L348.7,404.71L349.2,402.21L349.7,398.73L350.2,397.72L350.7,397.52L351.2,398.80L351.7,401.22L352.2,404.35L352.7,405.25L353.2,405.25L353.7,405.25L354.2,405.25L354.7,405.25L355.2,405.25L355.7,405.25L356.2,405.25L356.7,405.25L357.2,404.65L357.7,402.86L358.2,401.07L358.7,400.41L359.2,400.32L359.7,401.08L360.2,395.94L360.7,391.83L361.2,390.71L361.7,392.23L362.2,397.99L362.7,402.43L363.2,400.43L363.7,399.79L364.2,399.13L364.7,400.27L365.2,402.23L365.7,404.12L366.2,405.25L366.7,405.25L367.2,405.25L367.7,405.25L368.2,405.25L368.7,405.25L369.2,405.25L369.7,405.25L370.2,405.25L370.7,405.25L371.2,405.25L371.7,405.25L372.2,405.15L372.7,405.25L373.2,405.25L373.7,405.25L374.2,404.98L374.7,405.25L375.2,405.25L375.7,405.25L376.2,405.25L376.7,405.25L377.2,405.25L377.7,405.25L378.2,405.25L378.7,405.25L379.2,405.25L379.7,405.25L380.2,404.87L380.7,404.73L381.2,404.03L381.7,402.57L382.2,402.29L382.7,402.21L383.2,403.57L383.7,404.90L384.2,405.00L384.7,404.88L385.2,405.25L385.7,404.82L386.2,405.15L386.7,405.25L387.2,405.00L387.7,405.13L388.2,405.04L388.7,405.25L389.2,405.05L389.7,405.25L390.2,405.25L390.7,405.25L391.2,405.25L391.7,405.25L392.2,405.25L392.7,405.25L393.2,405.25L393.7,405.25L394.2,405.25L394.7,405.25L395.2,405.25L395.7,405.25L396.2,405.20L396.7,405.25L397.2,405.25L397.7,405.25L398.2,405.25L398.7,405.25L399.2,405.25L399.7,405.25L400.2,405.25L400.7,405.25L401.2,405.25L401.7,405.25L402.2,405.25L402.7,405.25L403.2,405.25L403.7,405.25L404.2,405.25L404.7,405.25L405.2,405.25L405.7,405.25L406.2,405.25L406.7,405.25L407.2,405.25L407.7,405.25L408.2,405.25L408.7,405.25L409.2,405.25L409.7,405.25L410.2,405.25L410.7,405.25L411.2,405.25L411.7,405.25L412.2,405.25L412.7,405.25L413.2,405.25L413.7,405.25L414.2,405.25L414.7,405.25L415.2,405.25L415.7,405.25L416.2,405.25L416.7,405.25L417.2,405.25L417.7,405.25L418.2,405.14L418.7,404.95L419.2,405.25L419.7,405.25L420.2,404.99L420.7,405.10L421.2,405.06L421.7,405.25L422.2,404.76L422.7,404.82L423.2,405.25L423.7,405.25L424.2,405.25L424.7,405.25L425.2,405.25L425.7,405.25L426.2,405.25L426.7,405.14L427.2,405.25L427.7,405.25L428.2,405.25L428.7,405.25L429.2,405.25L429.7,405.25L430.2,405.25L430.7,405.25L431.2,405.25L431.7,405.25L432.2,405.25L432.7,405.25L433.2,405.25L433.7,405.25L434.2,405.25L434.7,405.25L435.2,405.25L435.7,405.25L436.2,405.25L436.7,405.25L437.2,405.25L437.7,405.25L438.2,405.12L438.7,405.12L439.2,405.15L439.7,404.61L440.2,404.53L440.7,405.04L441.2,405.15L441.7,405.25L442.2,405.23L442.7,405.23L443.2,405.25L443.7,405.25L444.2,405.25L444.7,405.25L445.2,405.21L445.7,405.25L446.2,405.17L446.7,405.09L447.2,405.25L447.7,405.25L448.2,405.25L448.7,405.02L449.2,404.92L449.7,405.20L450.2,405.25L450.7,405.25L451.2,405.25L451.7,405.25L452.2,405.25L452.7,405.25L453.2,405.25L453.7,405.25L454.2,405.25L454.7,405.25L455.2,405.25L455.7,405.25L456.2,404.80L456.7,403.60L457.2,403.15L457.7,403.47L458.2,404.80L458.7,405.25L459.2,405.25L459.7,405.25L460.2,405.25L460.7,405.25L461.2,405.25L461.7,405.20L462.2,405.07L462.7,405.25L463.2,405.21L463.7,405.25L464.2,405.25L464.7,405.25L465.2,405.25L465.7,405.25L466.2,405.25L466.7,405.25L467.2,405.25L467.7,405.25L468.2,405.25L468.7,405.25L469.2,405.25L469.7,405.25L470.2,405.25L470.7,405.25L471.2,405.25L471.7,405.25L472.2,405.25L472.7,405.25L473.2,405.25L473.7,405.25L474.2,405.25L474.7,405.25L475.2,405.25L475.7,405.25L476.2,405.25L476.7,405.25L477.2,405.25L477.7,405.25L478.2,405.25L478.7,405.25L479.2,405.25L479.7,405.25L480.2,405.25L480.7,405.25L481.2,405.25L481.7,405.25L482.2,405.25L482.7,405.25L483.2,405.25L483.7,405.25L484.2,405.25L484.7,405.25L485.2,405.25L485.7,404.93L486.2,404.89L486.7,405.25L487.2,404.77L487.7,405.21L488.2,405.25L488.7,404.76L489.2,405.25L489.7,404.76L490.2,405.18L490.7,405.22L491.2,405.25L491.7,405.25L492.2,405.09L492.7,405.25L493.2,405.25L493.7,405.25L494.2,405.25L494.7,404.90L495.2,405.23L495.7,405.25L496.2,405.13L496.7,404.75L497.2,405.25L497.7,405.06L498.2,405.25L498.7,405.25L499.2,405.25L499.7,405.25L500.2,405.25L500.7,405.25L501.2,405.25L501.7,405.25L502.2,405.25L502.7,405.25L503.2,405.25L503.7,405.25L504.2,405.25L504.7,405.25L505.2,405.25L505.7,405.25L506.2,405.25L506.7,405.25L507.2,405.25L507.7,405.25L508.2,405.25L508.7,405.25L509.0,405.25L509.2,405.25L509.2,406.0 Z" fill="#f9a41c"/>
<line x1="48" y1="406.00" x2="101.5" y2="406.00" stroke="#c9c9c9" stroke-width="0.9"/>
<path d="M101,385.50 H103.3 V406.00 H101" fill="none" stroke="#231f20" stroke-width="1.15"/>
<text x="100.80" y="389.00" font-family="'Liberation Sans', sans-serif" font-size="5.40" text-anchor="end" fill="#333"  stroke="#333" stroke-width="0.05">50</text>
<text x="99.30" y="398.50" font-family="'Liberation Sans', sans-serif" font-size="7.90" text-anchor="end" fill="#1a1718" textLength="52.0" lengthAdjust="spacingAndGlyphs"  stroke="#1a1718" stroke-width="0.14">QPD H3K4me2</text>
<rect x="104.2" y="413.3" width="405.0" height="20.7" fill="#e0dfdb"/>
<path d="M104.2,434.0L104.2,418.01L104.7,416.83L105.0,413.30L105.2,415.05L105.7,413.30L106.0,419.31L106.2,420.15L106.7,420.37L107.0,423.54L107.2,419.57L107.7,424.93L108.0,426.06L108.2,426.19L108.7,427.51L109.0,425.84L109.2,428.36L109.7,427.10L110.0,423.50L110.2,425.91L110.7,421.43L111.0,419.15L111.2,418.60L111.7,417.31L112.0,417.05L112.2,422.39L112.7,413.30L113.0,413.30L113.2,413.30L113.7,413.30L114.0,418.98L114.2,414.23L114.7,415.26L115.0,416.78L115.2,413.30L115.7,416.24L116.0,413.30L116.2,413.30L116.7,419.58L117.0,421.98L117.2,423.34L117.7,423.33L118.0,428.34L118.2,428.23L118.7,425.71L119.0,422.34L119.2,421.77L119.7,424.21L120.0,416.57L120.2,420.46L120.7,419.42L121.0,416.87L121.2,419.48L121.7,414.74L122.0,422.27L122.2,420.22L122.7,424.39L123.0,424.78L123.2,424.23L123.7,426.20L124.0,427.58L124.2,422.36L124.7,425.38L125.0,421.77L125.2,425.84L125.7,426.60L126.0,426.36L126.2,427.02L126.7,423.12L127.0,424.09L127.2,426.28L127.7,422.48L128.0,420.12L128.2,423.23L128.7,424.80L129.0,424.49L129.2,425.38L129.7,427.47L130.0,427.32L130.2,427.73L130.7,429.03L131.0,428.10L131.2,429.60L131.7,425.74L132.0,427.93L132.2,427.11L132.7,426.09L133.0,427.92L133.2,423.02L133.7,420.00L134.0,421.75L134.2,421.17L134.7,421.64L135.0,415.45L135.2,417.01L135.7,421.90L136.0,417.52L136.2,420.50L136.7,420.04L137.0,421.71L137.2,422.63L137.7,426.44L138.0,429.30L138.2,429.12L138.7,430.00L139.0,430.67L139.2,431.05L139.7,432.34L140.0,431.44L140.2,431.91L140.7,431.92L141.0,431.94L141.2,431.62L141.7,432.25L142.0,432.45L142.2,432.71L142.7,433.00L143.0,432.73L143.2,432.77L143.7,432.70L144.0,433.09L144.2,432.97L144.7,432.52L145.0,432.14L145.2,431.21L145.7,431.56L146.0,431.81L146.2,430.63L146.7,429.24L147.0,429.21L147.2,430.98L147.7,430.93L148.0,430.07L148.2,429.80L148.7,429.35L149.0,429.40L149.2,428.16L149.7,427.77L150.0,430.03L150.2,429.63L150.7,426.79L151.0,427.43L151.2,429.37L151.7,425.36L152.0,426.30L152.2,426.84L152.7,428.50L153.0,427.03L153.2,423.74L153.7,427.55L154.0,423.57L154.2,427.32L154.7,426.27L155.0,426.87L155.2,424.34L155.7,426.29L156.0,429.42L156.2,428.96L156.7,429.02L157.0,430.73L157.2,430.57L157.7,432.50L158.0,432.93L158.2,433.01L158.5,433.25L158.7,433.25L159.2,433.19L159.7,432.82L160.2,432.55L160.7,432.58L161.2,433.25L161.7,433.10L162.2,433.13L162.7,433.15L163.2,433.25L163.7,433.25L164.2,433.25L164.7,433.25L165.2,433.16L165.7,432.72L166.2,432.92L166.7,433.25L167.2,433.25L167.7,433.24L168.2,432.92L168.7,433.25L169.2,433.25L169.7,433.25L170.2,433.25L170.7,433.25L171.2,433.25L171.7,433.25L172.2,433.25L172.7,433.25L173.2,433.25L173.7,433.25L174.2,433.25L174.7,433.25L175.2,433.25L175.7,433.25L176.2,433.25L176.7,433.25L177.2,433.25L177.7,433.23L178.2,433.25L178.7,433.25L179.2,433.25L179.7,433.25L180.2,433.25L180.7,433.25L181.2,433.25L181.7,433.25L182.2,433.25L182.7,433.25L183.2,433.00L183.7,433.25L184.2,432.61L184.7,433.25L185.2,432.71L185.7,432.94L186.2,433.25L186.7,432.76L187.2,432.94L187.7,433.25L188.2,433.20L188.7,433.25L189.2,433.22L189.7,433.25L190.2,433.25L190.7,433.25L191.2,433.25L191.7,433.25L192.2,433.25L192.7,433.25L193.2,433.25L193.7,433.25L194.2,433.25L194.7,433.25L195.2,433.25L195.7,432.97L196.2,433.25L196.7,433.25L197.2,433.25L197.7,433.21L198.2,433.25L198.7,433.25L199.2,433.25L199.7,433.25L200.2,433.25L200.7,433.25L201.2,433.25L201.7,433.25L202.2,433.25L202.7,433.25L203.2,433.25L203.7,433.25L204.2,433.25L204.7,433.25L205.2,433.25L205.7,433.25L206.2,433.25L206.7,433.25L207.2,433.25L207.7,433.25L208.2,433.25L208.7,433.25L209.2,433.25L209.7,433.25L210.2,433.25L210.7,433.25L211.2,433.25L211.7,433.25L212.2,433.25L212.7,433.25L213.2,433.25L213.7,433.25L214.2,433.25L214.7,433.25L215.2,433.18L215.7,433.20L216.2,433.19L216.7,433.25L217.2,433.25L217.7,433.25L218.2,433.25L218.7,433.25L219.2,433.25L219.7,433.25L220.2,433.25L220.7,433.25L221.2,433.25L221.7,433.25L222.2,432.51L222.7,430.15L223.2,430.00L223.7,429.61L224.2,430.03L224.7,431.67L225.2,433.08L225.7,433.14L226.2,432.71L226.7,431.84L227.2,431.54L227.7,431.98L228.2,433.25L228.7,433.25L229.2,433.25L229.7,433.25L230.2,433.25L230.7,433.25L231.2,433.25L231.7,433.25L232.2,433.25L232.7,433.25L233.2,433.25L233.7,433.25L234.2,433.25L234.7,433.25L235.2,433.25L235.7,433.09L236.2,433.25L236.7,433.21L237.2,433.25L237.7,433.10L238.2,433.11L238.7,433.14L239.2,433.25L239.7,433.25L240.2,433.25L240.7,433.25L241.2,433.25L241.7,433.25L242.2,433.25L242.7,433.25L243.2,433.25L243.7,433.25L244.2,433.25L244.7,433.21L245.2,433.25L245.7,433.25L246.2,433.25L246.7,433.25L247.2,433.11L247.7,433.09L248.2,433.02L248.7,433.25L249.2,433.25L249.7,433.19L250.2,433.25L250.7,433.25L251.2,433.25L251.7,433.25L252.2,433.25L252.7,433.25L253.2,433.20L253.7,433.21L254.2,433.25L254.7,433.17L255.2,433.25L255.7,433.25L256.2,433.15L256.7,433.25L257.2,433.17L257.7,433.09L258.2,433.25L258.7,433.25L259.2,433.25L259.7,433.25L260.2,433.25L260.7,433.25L261.2,433.18L261.7,433.25L262.2,433.25L262.7,433.25L263.2,433.25L263.7,433.25L264.2,433.25L264.7,433.25L265.2,433.25L265.7,433.25L266.2,433.25L266.7,433.25L267.2,433.01L267.7,433.09L268.2,432.98L268.7,432.95L269.2,433.25L269.7,433.25L270.2,433.08L270.7,433.25L271.2,433.25L271.7,433.25L272.2,433.25L272.7,433.25L273.2,433.25L273.7,433.25L274.2,433.25L274.7,433.25L275.2,433.25L275.7,433.25L276.2,433.25L276.7,433.25L277.2,433.25L277.7,433.25L278.2,433.25L278.7,433.25L279.2,433.25L279.7,433.25L280.2,433.25L280.7,433.25L281.2,433.25L281.7,433.02L282.2,433.25L282.7,432.91L283.2,433.25L283.7,433.25L284.2,433.25L284.7,432.86L285.2,433.21L285.7,433.25L286.2,433.17L286.7,433.25L287.2,433.25L287.7,433.01L288.2,433.25L288.7,433.09L289.2,433.25L289.7,433.25L290.2,433.22L290.7,433.25L291.2,433.25L291.7,433.25L292.2,433.15L292.7,433.21L293.2,433.25L293.7,433.25L294.2,433.22L294.7,433.25L295.2,433.25L295.7,433.25L296.2,433.25L296.7,433.25L297.2,433.25L297.7,433.25L298.2,433.25L298.7,433.25L299.2,433.25L299.7,433.25L300.2,433.25L300.7,433.25L301.2,433.25L301.7,433.25L302.2,433.25L302.7,433.25L303.2,433.25L303.7,433.25L304.2,433.25L304.7,433.25L305.2,433.25L305.7,433.25L306.2,433.25L306.7,433.25L307.2,433.25L307.7,433.25L308.2,433.25L308.7,433.25L309.2,433.25L309.7,433.25L310.2,433.25L310.7,433.25L311.2,433.25L311.7,433.25L312.2,433.25L312.7,433.25L313.2,433.25L313.7,433.25L314.2,433.25L314.7,433.25L315.2,433.25L315.7,433.25L316.2,433.25L316.7,433.25L317.2,433.25L317.7,433.25L318.2,433.05L318.7,433.25L319.2,432.89L319.7,432.55L320.2,432.47L320.7,433.25L321.2,433.25L321.7,433.11L322.2,432.62L322.7,432.54L323.2,433.05L323.7,433.20L324.2,433.25L324.7,432.81L325.2,433.04L325.7,433.25L326.2,433.25L326.7,433.25L327.2,433.25L327.7,433.25L328.2,433.25L328.7,433.25L329.2,433.25L329.7,433.25L330.2,433.25L330.7,433.25L331.2,433.25L331.7,433.25L332.2,433.25L332.7,433.25L333.2,433.13L333.7,433.25L334.2,433.07L334.7,433.25L335.2,432.93L335.7,432.97L336.2,433.03L336.7,433.21L337.2,433.25L337.7,433.16L338.2,433.17L338.7,433.25L339.2,433.25L339.7,433.25L340.2,433.25L340.7,433.25L341.2,433.25L341.7,433.25L342.2,433.25L342.7,433.25L343.2,433.25L343.7,433.25L344.2,433.25L344.7,433.21L345.2,433.09L345.7,433.25L346.2,433.13L346.7,433.25L347.2,433.25L347.7,433.25L348.2,433.25L348.7,433.25L349.2,433.03L349.7,433.25L350.2,433.25L350.7,433.00L351.2,433.25L351.7,433.25L352.2,433.25L352.7,433.25L353.2,433.05L353.7,433.25L354.2,433.25L354.7,433.25L355.2,433.25L355.7,433.14L356.2,433.25L356.7,433.25L357.2,433.25L357.7,433.25L358.2,433.25L358.7,433.25L359.2,433.25L359.7,433.25L360.0,433.25L360.2,433.25L360.7,433.25L361.2,432.67L361.7,432.41L362.0,432.28L362.2,432.19L362.7,432.04L363.2,432.95L363.7,432.38L364.2,432.36L364.7,432.52L365.2,431.89L365.7,432.70L366.2,432.18L366.7,433.25L367.2,433.11L367.7,432.16L368.2,431.52L368.7,431.23L369.2,430.79L369.7,432.09L370.2,430.88L370.7,430.90L371.2,431.30L371.7,432.25L372.2,432.08L372.7,431.88L373.2,432.83L373.7,432.88L374.2,433.25L374.7,431.91L375.2,432.83L375.7,431.96L376.2,431.71L376.7,431.56L377.2,432.05L377.7,432.85L378.2,431.09L378.7,431.89L379.2,431.72L379.7,432.46L380.2,429.88L380.7,429.68L381.2,432.05L381.7,432.10L382.2,431.93L382.7,431.62L383.2,433.01L383.7,432.56L384.2,433.03L384.7,433.25L385.2,433.16L385.7,433.19L386.2,432.31L386.7,431.45L387.2,432.65L387.7,431.85L388.2,431.95L388.7,432.00L389.2,432.09L389.7,433.05L390.2,431.58L390.7,431.83L391.2,433.23L391.7,433.10L392.2,432.89L392.7,431.31L393.2,432.92L393.7,430.93L394.2,431.89L394.7,430.09L395.2,431.77L395.7,430.50L396.2,432.71L396.7,431.80L397.2,432.32L397.7,431.52L398.2,430.47L398.7,430.89L399.2,432.03L399.7,432.48L400.2,432.82L400.7,431.62L401.2,431.30L401.7,432.23L402.2,431.17L402.7,432.81L403.2,432.74L403.7,432.87L404.2,431.95L404.7,432.83L405.2,431.42L405.7,431.48L406.2,432.66L406.7,431.64L407.2,433.25L407.7,432.44L408.2,432.84L408.7,433.09L409.2,433.25L409.7,432.83L410.2,433.25L410.7,433.11L411.2,433.25L411.7,433.25L412.2,433.25L412.7,432.98L413.2,432.98L413.7,433.06L414.2,432.41L414.7,431.59L415.2,431.39L415.7,430.06L416.2,431.30L416.7,430.73L417.2,433.08L417.7,432.06L418.0,431.82L418.2,432.83L418.7,433.25L419.2,433.25L419.7,433.25L420.0,432.80L420.2,432.34L420.7,432.22L421.2,430.75L421.4,431.27L421.7,431.69L422.2,431.52L422.7,431.73L423.0,432.62L423.2,432.51L423.7,432.65L424.2,432.65L424.7,432.59L425.2,432.19L425.7,432.14L426.2,432.15L426.7,432.70L427.2,432.18L427.7,432.67L428.0,432.69L428.2,432.05L428.7,431.71L429.2,431.84L429.7,431.34L430.2,428.93L430.7,428.21L431.0,429.05L431.2,430.05L431.7,426.94L432.2,427.81L432.7,424.87L433.0,423.31L433.2,427.26L433.7,427.56L434.2,425.48L434.7,425.28L435.0,425.26L435.2,427.36L435.7,427.10L436.2,427.99L436.7,428.70L437.0,429.77L437.2,427.42L437.7,430.08L438.0,431.56L438.2,432.10L438.7,432.47L439.2,432.27L439.7,432.69L440.0,432.83L440.2,432.78L440.7,433.05L441.2,432.80L441.7,432.90L442.2,432.91L442.7,432.86L443.2,433.14L443.7,432.94L444.2,432.02L444.7,432.71L445.2,433.25L445.7,433.07L446.2,433.03L446.7,433.25L447.2,433.12L447.7,432.99L448.2,432.80L448.7,433.14L449.2,433.04L449.7,432.11L450.2,433.05L450.7,432.08L451.2,432.43L451.7,431.77L452.2,432.00L452.7,432.04L453.2,432.14L453.7,432.70L454.2,433.14L454.7,432.59L455.2,433.01L455.7,433.20L456.2,433.19L456.7,433.23L457.2,432.77L457.7,432.82L458.2,432.90L458.7,432.70L459.2,433.02L459.7,433.00L460.2,432.83L460.7,432.72L461.2,432.73L461.7,432.89L462.0,432.70L462.2,432.84L462.7,431.44L463.0,430.62L463.2,431.02L463.7,429.51L464.0,429.83L464.2,429.38L464.7,430.16L465.2,427.96L465.7,428.07L466.0,427.48L466.2,428.50L466.7,425.48L467.2,428.09L467.7,422.14L468.2,424.41L468.7,421.29L469.2,425.73L469.7,427.32L470.0,428.00L470.2,428.66L470.7,430.67L471.0,431.93L471.2,431.85L471.7,431.86L472.2,432.32L472.7,432.58L473.0,433.02L473.2,433.16L473.7,433.17L474.2,433.14L474.7,432.87L475.2,432.76L475.7,432.71L476.0,433.05L476.2,431.68L476.7,430.85L477.0,429.64L477.2,427.54L477.7,427.08L478.0,428.15L478.2,425.30L478.7,425.58L479.2,427.89L479.7,425.34L480.0,425.58L480.2,426.61L480.7,420.30L481.2,419.73L481.7,416.13L482.0,419.72L482.2,416.24L482.7,421.04L483.0,421.69L483.2,425.98L483.7,424.48L484.2,421.38L484.7,417.82L485.0,421.97L485.2,424.87L485.7,422.92L486.2,421.02L486.7,425.26L487.0,424.60L487.2,426.00L487.7,426.19L488.2,425.57L488.7,426.08L489.0,427.90L489.2,426.89L489.7,427.21L490.2,429.61L490.7,430.24L491.0,431.13L491.2,430.60L491.7,431.75L492.0,431.86L492.2,432.01L492.7,432.05L493.2,431.77L493.7,431.81L494.2,432.21L494.7,432.20L495.0,432.73L495.2,431.77L495.7,431.21L496.2,430.34L496.7,429.35L497.0,428.18L497.2,426.25L497.7,423.90L498.2,421.37L498.7,419.58L498.8,420.41L499.2,426.31L499.7,425.33L500.0,427.84L500.2,427.67L500.7,424.43L501.2,426.77L501.7,428.27L502.0,426.33L502.2,427.95L502.7,427.79L503.2,428.55L503.7,428.83L504.0,427.58L504.2,429.12L504.7,427.89L505.2,424.81L505.7,426.91L506.0,425.73L506.2,427.65L506.7,421.47L507.2,423.96L507.7,423.98L508.0,424.38L508.2,423.46L508.7,424.51L509.0,422.20L509.2,421.91L509.2,434.0 Z" fill="#ee1f5e"/>
<rect x="105.0" y="413.3" width="0.6" height="1" fill="#a0228c"/>
<rect x="105.7" y="413.3" width="0.6" height="1" fill="#a0228c"/>
<rect x="112.7" y="413.3" width="0.6" height="1" fill="#a0228c"/>
<rect x="113.0" y="413.3" width="0.6" height="1" fill="#a0228c"/>
<rect x="113.2" y="413.3" width="0.6" height="1" fill="#a0228c"/>
<rect x="113.7" y="413.3" width="0.6" height="1" fill="#a0228c"/>
<rect x="115.2" y="413.3" width="0.6" height="1" fill="#a0228c"/>
<rect x="116.0" y="413.3" width="0.6" height="1" fill="#a0228c"/>
<rect x="116.2" y="413.3" width="0.6" height="1" fill="#a0228c"/>
<line x1="48" y1="434.00" x2="101.5" y2="434.00" stroke="#c9c9c9" stroke-width="0.9"/>
<path d="M101,413.80 H103.3 V434.00 H101" fill="none" stroke="#231f20" stroke-width="1.15"/>
<text x="100.80" y="417.30" font-family="'Liberation Sans', sans-serif" font-size="5.40" text-anchor="end" fill="#333"  stroke="#333" stroke-width="0.05">30</text>
<text x="99.30" y="426.65" font-family="'Liberation Sans', sans-serif" font-size="7.90" text-anchor="end" fill="#1a1718" textLength="53.9" lengthAdjust="spacingAndGlyphs"  stroke="#1a1718" stroke-width="0.14">CTL H3K36me3</text>
<path d="M104.2,456.0L104.2,439.59L104.7,444.81L105.0,442.47L105.2,443.49L105.7,447.36L106.0,450.37L106.2,447.42L106.7,450.54L107.0,451.29L107.2,451.52L107.7,448.57L108.0,447.76L108.2,446.70L108.7,448.37L109.0,446.83L109.2,448.95L109.7,448.34L110.0,446.19L110.2,440.98L110.7,443.39L111.0,438.49L111.2,439.23L111.7,438.81L112.0,443.60L112.2,434.67L112.7,444.06L113.0,441.85L113.2,442.40L113.7,441.79L114.0,437.02L114.2,436.64L114.7,438.64L115.0,443.26L115.2,442.33L115.7,442.75L116.0,434.50L116.2,434.77L116.7,445.74L117.0,442.98L117.2,443.03L117.7,448.91L118.0,445.86L118.2,449.49L118.7,445.81L119.0,449.92L119.2,446.63L119.7,446.10L120.0,443.74L120.2,444.25L120.7,442.43L121.0,445.84L121.2,446.67L121.7,443.94L122.0,445.45L122.2,444.20L122.7,445.54L123.0,446.30L123.2,440.90L123.7,444.81L124.0,443.93L124.2,444.81L124.7,447.36L125.0,445.54L125.2,443.58L125.7,448.56L126.0,445.84L126.2,446.22L126.7,449.58L127.0,450.82L127.2,448.99L127.7,449.83L128.0,447.51L128.2,449.75L128.7,449.67L129.0,448.67L129.2,449.97L129.7,451.21L130.0,451.25L130.2,449.93L130.7,450.29L131.0,451.40L131.2,450.96L131.7,450.74L132.0,450.83L132.2,450.06L132.7,450.23L133.0,450.11L133.2,450.50L133.7,444.73L134.0,445.71L134.2,445.91L134.7,443.65L135.0,445.31L135.2,445.65L135.7,445.74L136.0,439.61L136.2,445.05L136.7,448.76L137.0,446.15L137.2,449.70L137.7,452.11L138.0,453.33L138.2,452.42L138.7,453.52L139.0,453.96L139.2,454.26L139.7,454.17L140.0,453.46L140.2,454.22L140.7,454.43L141.2,453.92L141.7,454.70L142.0,454.71L142.2,454.21L142.7,454.32L143.2,454.57L143.7,454.23L144.0,454.84L144.2,454.80L144.7,454.39L145.2,454.59L145.7,454.66L146.0,453.74L146.2,454.37L146.7,453.87L147.2,454.50L147.7,453.51L148.0,454.51L148.2,454.11L148.7,453.68L149.2,451.91L149.7,452.42L150.0,452.13L150.2,452.39L150.7,450.35L151.0,450.72L151.2,452.02L151.7,450.75L152.0,449.24L152.2,448.75L152.7,450.00L153.0,450.30L153.2,450.94L153.7,449.55L154.0,450.39L154.2,448.41L154.7,448.63L155.0,451.72L155.2,450.74L155.7,449.35L156.0,450.58L156.2,452.03L156.7,452.29L157.0,452.49L157.2,451.62L157.7,454.42L158.0,454.95L158.2,455.12L158.5,454.49L158.7,455.25L159.2,454.81L159.7,454.26L160.2,454.52L160.7,455.13L161.2,455.25L161.7,455.00L162.2,455.25L162.7,455.25L163.2,455.25L163.7,455.25L164.2,455.25L164.7,455.25L165.2,455.25L165.7,455.25L166.2,455.25L166.7,455.03L167.2,454.92L167.7,455.25L168.2,454.82L168.7,455.09L169.2,455.25L169.7,455.25L170.2,455.25L170.7,455.25L171.2,455.25L171.7,455.25L172.2,455.25L172.7,455.25L173.2,455.25L173.7,455.25L174.2,455.25L174.7,455.25L175.2,455.25L175.7,455.25L176.2,455.25L176.7,455.15L177.2,455.25L177.7,455.20L178.2,455.15L178.7,455.25L179.2,455.25L179.7,454.66L180.2,454.70L180.7,454.64L181.2,455.18L181.7,455.25L182.2,455.07L182.7,454.65L183.2,454.89L183.7,455.25L184.2,454.42L184.7,455.12L185.2,454.48L185.7,455.25L186.2,455.25L186.7,455.25L187.2,455.24L187.7,455.18L188.2,455.25L188.7,455.25L189.2,455.25L189.7,455.25L190.2,455.25L190.7,455.25L191.2,455.25L191.7,455.25L192.2,455.25L192.7,455.25L193.2,455.25L193.7,455.25L194.2,455.25L194.7,455.25L195.2,455.25L195.7,455.25L196.2,455.25L196.7,455.16L197.2,455.25L197.7,455.02L198.2,455.09L198.7,455.07L199.2,455.04L199.7,454.70L200.2,454.89L200.7,455.25L201.2,455.25L201.7,455.25L202.2,455.25L202.7,455.25L203.2,455.25L203.7,455.25L204.2,455.25L204.7,455.25L205.2,455.25L205.7,455.25L206.2,455.11L206.7,455.25L207.2,455.25L207.7,455.25L208.2,455.25L208.7,455.25L209.2,455.25L209.7,455.25L210.2,455.25L210.7,455.25L211.2,455.25L211.7,455.25L212.2,455.25L212.7,455.25L213.2,455.25L213.7,455.25L214.2,455.25L214.7,455.25L215.2,455.25L215.7,455.25L216.2,455.25L216.7,455.25L217.2,455.25L217.7,455.25L218.2,455.25L218.7,455.25L219.2,455.25L219.7,455.25L220.2,455.07L220.7,455.25L221.2,455.25L221.7,455.02L222.2,454.45L222.7,453.09L223.2,452.46L223.7,451.39L224.2,452.54L224.7,453.89L225.2,455.25L225.7,455.14L226.2,454.56L226.7,453.45L227.2,453.16L227.7,454.14L228.2,454.56L228.7,454.62L229.2,454.80L229.7,455.25L230.2,455.25L230.7,454.80L231.2,455.06L231.7,455.25L232.2,455.25L232.7,455.25L233.2,455.25L233.7,455.24L234.2,455.25L234.7,455.25L235.2,455.25L235.7,455.25L236.2,455.24L236.7,455.10L237.2,455.00L237.7,454.82L238.2,455.25L238.7,455.25L239.2,455.25L239.7,455.21L240.2,455.25L240.7,455.25L241.2,455.25L241.7,455.21L242.2,455.25L242.7,454.86L243.2,455.25L243.7,455.25L244.2,454.77L244.7,455.15L245.2,454.77L245.7,454.89L246.2,455.13L246.7,455.21L247.2,455.25L247.7,455.25L248.2,455.25L248.7,455.20L249.2,455.25L249.7,455.25L250.2,455.20L250.7,454.77L251.2,454.27L251.7,455.13L252.2,454.94L252.7,455.25L253.2,455.03L253.7,455.25L254.2,455.25L254.7,455.25L255.2,455.25L255.7,455.25L256.2,455.25L256.7,455.25L257.2,455.23L257.7,455.25L258.2,455.25L258.7,455.25L259.2,455.25L259.7,455.25L260.2,455.25L260.7,455.15L261.2,455.25L261.7,455.25L262.2,455.25L262.7,455.25L263.2,455.25L263.7,455.25L264.2,455.25L264.7,455.25L265.2,455.25L265.7,455.25L266.2,455.25L266.7,455.25L267.2,455.25L267.7,455.25L268.2,455.25L268.7,455.25L269.2,455.25L269.7,455.25L270.2,455.25L270.7,455.25L271.2,455.25L271.7,455.25L272.2,455.06L272.7,455.25L273.2,454.97L273.7,455.25L274.2,455.13L274.7,455.25L275.2,455.25L275.7,455.12L276.2,455.19L276.7,455.25L277.2,455.25L277.7,455.25L278.2,455.25L278.7,455.25L279.2,455.25L279.7,455.25L280.2,455.25L280.7,455.25L281.2,455.25L281.7,455.25L282.2,455.25L282.7,455.25L283.2,455.25L283.7,455.25L284.2,455.25L284.7,455.25L285.2,455.25L285.7,455.25L286.2,455.25L286.7,455.25L287.2,455.25L287.7,455.25L288.2,454.89L288.7,455.23L289.2,454.85L289.7,455.17L290.2,454.49L290.7,455.25L291.2,454.65L291.7,455.25L292.2,454.45L292.7,454.63L293.2,454.43L293.7,455.25L294.2,454.63L294.7,455.25L295.2,455.25L295.7,455.25L296.2,455.25L296.7,455.25L297.2,455.25L297.7,455.25L298.2,455.25L298.7,455.25L299.2,455.25L299.7,455.25L300.2,455.25L300.7,455.25L301.2,455.25L301.7,455.25L302.2,455.25L302.7,455.25L303.2,455.25L303.7,455.25L304.2,455.25L304.7,455.25L305.2,455.25L305.7,455.04L306.2,454.94L306.7,454.80L307.2,455.25L307.7,455.25L308.2,455.25L308.7,454.70L309.2,455.25L309.7,455.07L310.2,455.25L310.7,455.25L311.2,454.47L311.7,454.49L312.2,455.25L312.7,455.25L313.2,455.25L313.7,455.06L314.2,455.25L314.7,455.14L315.2,454.79L315.7,455.25L316.2,455.08L316.7,454.91L317.2,455.25L317.7,455.25L318.2,455.20L318.7,455.25L319.2,455.25L319.7,455.25L320.2,455.25L320.7,455.25L321.2,455.25L321.7,455.25L322.2,455.25L322.7,455.25L323.2,455.25L323.7,455.25L324.2,455.25L324.7,455.25L325.2,455.25L325.7,455.25L326.2,455.25L326.7,455.25L327.2,455.25L327.7,455.25L328.2,455.25L328.7,455.25L329.2,455.25L329.7,455.25L330.2,455.25L330.7,455.25L331.2,455.25L331.7,455.25L332.2,455.25L332.7,455.25L333.2,455.25L333.7,455.25L334.2,455.25L334.7,455.25L335.2,455.25L335.7,455.25L336.2,455.22L336.7,455.25L337.2,455.25L337.7,455.21L338.2,454.96L338.7,454.86L339.2,454.97L339.7,455.25L340.2,455.05L340.7,455.25L341.2,455.25L341.7,455.25L342.2,455.25L342.7,455.25L343.2,455.25L343.7,454.94L344.2,455.17L344.7,454.89L345.2,454.56L345.7,455.02L346.2,454.75L346.7,454.44L347.2,455.13L347.7,454.50L348.2,455.03L348.7,454.62L349.2,455.25L349.7,454.76L350.2,455.14L350.7,455.11L351.2,455.04L351.7,455.01L352.2,454.60L352.7,455.05L353.2,455.25L353.7,454.70L354.2,454.60L354.7,454.83L355.2,455.22L355.7,454.50L356.2,454.80L356.7,455.23L357.2,454.45L357.7,454.93L358.2,455.25L358.7,455.25L359.2,455.25L359.7,454.91L360.0,455.24L360.2,454.79L360.7,454.87L361.2,455.10L361.7,453.61L362.0,454.07L362.2,453.84L362.7,454.67L363.2,455.19L363.7,454.96L364.2,455.15L364.7,454.48L365.2,455.14L365.7,454.78L366.2,453.69L366.7,454.79L367.2,455.08L367.7,453.84L368.2,455.19L368.7,455.10L369.2,454.44L369.7,454.25L370.2,454.22L370.7,454.66L371.2,454.62L371.7,455.25L372.2,454.67L372.7,455.25L373.2,455.25L373.7,455.25L374.2,455.25L374.7,455.20L375.2,454.89L375.7,453.42L376.2,452.32L376.7,453.01L377.2,452.86L377.7,454.53L378.2,454.79L378.7,455.25L379.2,455.25L379.7,454.76L380.2,453.73L380.7,453.07L381.2,453.19L381.7,454.47L382.2,454.06L382.7,455.08L383.2,453.58L383.7,454.50L384.2,453.83L384.7,452.89L385.2,452.90L385.7,452.25L386.2,452.86L386.7,453.96L387.2,453.76L387.7,453.91L388.2,453.28L388.7,451.47L389.2,452.75L389.7,452.12L390.2,453.55L390.7,454.43L391.2,454.44L391.7,454.82L392.2,454.18L392.7,453.67L393.2,454.55L393.7,452.42L394.2,454.72L394.7,453.20L395.2,454.40L395.7,453.02L396.2,454.74L396.7,454.43L397.2,453.14L397.7,454.65L398.2,453.82L398.7,454.50L399.2,454.51L399.7,454.74L400.2,454.44L400.7,453.47L401.2,454.66L401.7,454.33L402.2,454.79L402.7,452.57L403.2,454.81L403.7,454.00L404.2,453.11L404.7,452.36L405.2,452.00L405.7,453.29L406.2,453.98L406.7,453.90L407.2,455.17L407.7,455.08L408.2,455.10L408.7,455.17L409.2,455.25L409.7,455.25L410.2,455.25L410.7,455.25L411.2,455.25L411.7,455.25L412.2,455.25L412.7,455.25L413.2,455.25L413.7,455.22L414.2,454.78L414.7,454.88L415.2,455.25L415.7,454.61L416.2,454.68L416.7,454.31L417.2,454.80L417.7,455.05L418.0,454.60L418.2,454.22L418.7,455.00L419.2,454.86L419.7,455.25L420.0,454.73L420.2,454.23L420.7,454.08L421.2,453.04L421.4,453.43L421.7,452.69L422.2,453.37L422.7,453.83L423.0,454.44L423.2,454.70L423.7,454.09L424.2,454.37L424.7,454.37L425.2,454.81L425.7,454.36L426.2,454.20L426.7,454.67L427.2,454.09L427.7,454.69L428.2,454.79L428.7,454.81L429.2,454.41L429.7,454.57L430.0,454.93L430.2,454.52L430.7,453.26L431.2,451.64L431.7,452.74L432.0,449.68L432.2,451.81L432.7,448.45L433.2,448.82L433.7,449.46L434.0,449.55L434.2,450.52L434.7,449.36L435.2,447.40L435.7,448.16L436.0,450.65L436.2,449.20L436.7,451.45L437.2,453.76L437.7,454.58L438.0,455.13L438.2,455.25L438.7,454.81L439.2,455.05L439.7,455.17L440.2,455.08L440.7,455.01L441.2,455.00L441.7,455.20L442.2,455.16L442.7,455.04L443.2,455.25L443.7,454.74L444.2,454.94L444.7,455.17L445.2,455.25L445.7,455.16L446.2,454.84L446.7,454.66L447.2,454.33L447.7,454.59L448.2,454.97L448.7,454.96L449.2,455.10L449.7,455.12L450.2,455.13L450.7,454.95L451.2,455.22L451.7,455.23L452.2,454.91L452.7,454.99L453.2,454.73L453.7,455.23L454.2,454.96L454.7,454.94L455.2,455.04L455.7,454.76L456.2,454.88L456.7,454.71L457.2,454.69L457.7,454.34L458.2,453.76L458.7,455.21L459.2,454.62L459.7,454.81L460.2,454.83L460.7,454.96L461.2,454.71L461.7,455.07L462.0,454.60L462.2,454.77L462.7,454.48L463.2,453.92L463.7,452.97L464.0,453.52L464.2,452.16L464.7,451.97L465.2,451.00L465.7,451.69L466.0,450.42L466.2,451.66L466.7,450.37L467.2,448.85L467.6,450.48L467.7,449.89L468.2,451.34L468.7,451.03L469.0,450.26L469.2,450.37L469.7,451.48L470.2,453.55L470.7,452.89L471.0,453.44L471.2,454.48L471.7,454.04L472.2,454.54L472.7,454.49L473.2,454.75L473.7,454.74L474.0,455.01L474.2,454.91L474.7,454.27L475.2,453.76L475.7,453.81L476.0,452.56L476.2,452.05L476.7,451.15L477.2,450.88L477.7,450.73L478.0,450.13L478.2,447.03L478.7,450.37L479.2,447.54L479.7,447.20L480.0,447.55L480.2,445.03L480.7,444.37L481.2,440.92L481.7,437.11L482.0,440.89L482.2,438.46L482.7,445.14L483.0,448.36L483.2,447.85L483.7,446.68L484.2,446.06L484.7,445.04L485.0,445.28L485.2,443.19L485.7,447.76L486.2,444.78L486.7,448.87L487.0,447.08L487.2,448.24L487.7,449.26L488.2,450.12L488.7,449.62L489.0,450.85L489.2,451.19L489.7,452.82L490.2,452.37L490.7,452.08L491.0,452.54L491.2,453.27L491.7,453.98L492.0,454.33L492.2,454.05L492.7,453.60L493.2,453.88L493.7,453.64L494.0,453.74L494.2,453.76L494.7,452.20L495.2,451.62L495.7,449.27L496.0,450.37L496.2,449.21L496.7,447.62L497.2,449.40L497.6,448.40L497.7,446.29L498.2,449.22L498.7,450.22L499.0,449.41L499.2,450.47L499.7,449.35L500.2,450.71L500.7,450.38L501.0,450.43L501.2,448.39L501.7,448.46L502.2,451.27L502.7,450.84L503.0,448.93L503.2,451.17L503.7,451.29L504.2,450.36L504.7,451.86L505.0,449.95L505.2,449.50L505.7,450.14L506.2,450.76L506.7,449.28L507.0,448.00L507.2,448.71L507.7,449.53L508.2,446.68L508.7,448.19L509.0,446.57L509.2,448.01L509.2,456.0 Z" fill="#ee1f5e"/>
<line x1="48" y1="455.60" x2="101.5" y2="455.60" stroke="#c9c9c9" stroke-width="0.9"/>
<path d="M101,435.00 H103.3 V455.60 H101" fill="none" stroke="#231f20" stroke-width="1.15"/>
<text x="100.80" y="438.50" font-family="'Liberation Sans', sans-serif" font-size="5.40" text-anchor="end" fill="#333"  stroke="#333" stroke-width="0.05">30</text>
<text x="99.30" y="448.05" font-family="'Liberation Sans', sans-serif" font-size="7.90" text-anchor="end" fill="#1a1718" textLength="56.2" lengthAdjust="spacingAndGlyphs"  stroke="#1a1718" stroke-width="0.14">QPD H3K36me3</text>
<line x1="37.5" y1="52.5" x2="37.5" y2="288.6" stroke="#000" stroke-width="1.3"/>
<line x1="37.4" y1="314.5" x2="37.4" y2="460" stroke="#000" stroke-width="1.3"/>
<text transform="translate(32.10,171.05) rotate(-90)" x="0" y="0" font-family="'Liberation Sans', sans-serif" font-size="11.00" text-anchor="middle" fill="#1a1718" stroke="#1a1718" stroke-width="0.12" textLength="57.1" lengthAdjust="spacingAndGlyphs">Megakaryocytes</text>
<text transform="translate(31.90,388.05) rotate(-90)" x="0" y="0" font-family="'Liberation Sans', sans-serif" font-size="11.00" text-anchor="middle" fill="#1a1718" stroke="#1a1718" stroke-width="0.12" textLength="46.5" lengthAdjust="spacingAndGlyphs">Granulocytes</text>
<text x="45.20" y="481.30" font-family="'Liberation Sans', sans-serif" font-size="7.30" text-anchor="start" fill="#1a1718" textLength="47.8" lengthAdjust="spacingAndGlyphs"  stroke="#1a1718" stroke-width="0.08">RefSeq genes</text>
<line x1="103" y1="477.80" x2="159.6" y2="477.80" stroke="#000" stroke-width="1.1"/>
<rect x="106.30" y="472.30" width="1.30" height="11.40" fill="#111"/>
<rect x="114.30" y="472.50" width="4.60" height="11.00" fill="#5a5a5a"/>
<rect x="116.00" y="472.50" width="1.20" height="11.00" fill="#222"/>
<rect x="122.30" y="472.80" width="3.00" height="10.50" fill="#8a8a8a"/>
<rect x="135.30" y="473.00" width="1.40" height="10.00" fill="#9a9a9a"/>
<rect x="156.30" y="473.00" width="1.50" height="10.00" fill="#9a9a9a"/>
<rect x="158.70" y="472.30" width="1.00" height="11.40" fill="#222"/>
<path d="M112.70,474.40 Q111.00,476.60 110.80,477.80 Q111.00,479.00 112.70,481.20" fill="none" stroke="#000" stroke-width="1.15"/>
<path d="M117.10,474.40 Q115.40,476.60 115.20,477.80 Q115.40,479.00 117.10,481.20" fill="none" stroke="#000" stroke-width="1.15"/>
<path d="M121.50,474.40 Q119.80,476.60 119.60,477.80 Q119.80,479.00 121.50,481.20" fill="none" stroke="#000" stroke-width="1.15"/>
<path d="M125.70,474.40 Q124.00,476.60 123.80,477.80 Q124.00,479.00 125.70,481.20" fill="none" stroke="#000" stroke-width="1.15"/>
<path d="M129.30,474.40 Q127.60,476.60 127.40,477.80 Q127.60,479.00 129.30,481.20" fill="none" stroke="#000" stroke-width="1.15"/>
<path d="M133.40,474.40 Q131.70,476.60 131.50,477.80 Q131.70,479.00 133.40,481.20" fill="none" stroke="#000" stroke-width="1.15"/>
<path d="M137.70,474.40 Q136.00,476.60 135.80,477.80 Q136.00,479.00 137.70,481.20" fill="none" stroke="#000" stroke-width="1.15"/>
<path d="M141.90,474.40 Q140.20,476.60 140.00,477.80 Q140.20,479.00 141.90,481.20" fill="none" stroke="#000" stroke-width="1.15"/>
<path d="M145.70,474.40 Q144.00,476.60 143.80,477.80 Q144.00,479.00 145.70,481.20" fill="none" stroke="#000" stroke-width="1.15"/>
<path d="M149.90,474.40 Q148.20,476.60 148.00,477.80 Q148.20,479.00 149.90,481.20" fill="none" stroke="#000" stroke-width="1.15"/>
<path d="M154.20,474.40 Q152.50,476.60 152.30,477.80 Q152.50,479.00 154.20,481.20" fill="none" stroke="#000" stroke-width="1.15"/>
<path d="M157.70,474.40 Q156.00,476.60 155.80,477.80 Q156.00,479.00 157.70,481.20" fill="none" stroke="#000" stroke-width="1.15"/>
<text x="161.90" y="481.00" font-family="'Liberation Sans', sans-serif" font-size="7.40" text-anchor="start" fill="#1a1718" textLength="32.3" lengthAdjust="spacingAndGlyphs"  stroke="#1a1718" stroke-width="0.08">CAMK2G</text>
<line x1="218.5" y1="478.1" x2="229" y2="478.1" stroke="#000" stroke-width="1"/>
<rect x="218.50" y="472.30" width="1.60" height="11.60" fill="#555"/>
<rect x="220.20" y="472.80" width="1.30" height="10.60" fill="#111"/>
<rect x="221.80" y="472.50" width="2.60" height="11.20" fill="#777"/>
<rect x="224.60" y="472.50" width="1.40" height="11.20" fill="#999"/>
<rect x="226.00" y="472.80" width="1.30" height="10.60" fill="#111"/>
<rect x="227.60" y="473.50" width="1.30" height="9.20" fill="#111"/>
<text x="232.90" y="481.30" font-family="'Liberation Sans', sans-serif" font-size="7.40" text-anchor="start" fill="#1a1718" textLength="18.6" lengthAdjust="spacingAndGlyphs"  stroke="#1a1718" stroke-width="0.08">PLAU</text>
<line x1="217" y1="491.8" x2="237.6" y2="491.8" stroke="#000" stroke-width="1"/>
<rect x="216.80" y="488.50" width="3.40" height="7.20" fill="#000"/>
<rect x="219.60" y="487.00" width="0.90" height="10.70" fill="#000"/>
<path d="M224.40,488.40 Q222.70,490.60 222.50,491.80 Q222.70,493.00 224.40,495.20" fill="none" stroke="#000" stroke-width="1.15"/>
<path d="M228.50,488.40 Q226.80,490.60 226.60,491.80 Q226.80,493.00 228.50,495.20" fill="none" stroke="#000" stroke-width="1.15"/>
<path d="M232.80,488.40 Q231.10,490.60 230.90,491.80 Q231.10,493.00 232.80,495.20" fill="none" stroke="#000" stroke-width="1.15"/>
<path d="M236.90,488.40 Q235.20,490.60 235.00,491.80 Q235.20,493.00 236.90,495.20" fill="none" stroke="#000" stroke-width="1.15"/>
<rect x="237.00" y="489.30" width="0.90" height="6.40" fill="#444"/>
<text x="240.80" y="494.90" font-family="'Liberation Sans', sans-serif" font-size="7.40" text-anchor="start" fill="#1a1718" textLength="32.2" lengthAdjust="spacingAndGlyphs"  stroke="#1a1718" stroke-width="0.08">C10orf55</text>
<text x="340.60" y="481.50" font-family="'Liberation Sans', sans-serif" font-size="7.40" text-anchor="start" fill="#1a1718" textLength="13.4" lengthAdjust="spacingAndGlyphs"  stroke="#1a1718" stroke-width="0.08">VCL</text>
<line x1="359.5" y1="477.80" x2="508.8" y2="477.80" stroke="#000" stroke-width="1.1"/>
<rect x="359.30" y="472.30" width="1.20" height="11.30" fill="#888"/>
<path d="M362.10,474.40 Q363.80,476.60 364.00,477.80 Q363.80,479.00 362.10,481.20" fill="none" stroke="#000" stroke-width="1.15"/>
<path d="M366.22,474.40 Q367.92,476.60 368.12,477.80 Q367.92,479.00 366.22,481.20" fill="none" stroke="#000" stroke-width="1.15"/>
<path d="M370.34,474.40 Q372.04,476.60 372.24,477.80 Q372.04,479.00 370.34,481.20" fill="none" stroke="#000" stroke-width="1.15"/>
<path d="M374.46,474.40 Q376.16,476.60 376.36,477.80 Q376.16,479.00 374.46,481.20" fill="none" stroke="#000" stroke-width="1.15"/>
<path d="M378.58,474.40 Q380.28,476.60 380.48,477.80 Q380.28,479.00 378.58,481.20" fill="none" stroke="#000" stroke-width="1.15"/>
<path d="M382.70,474.40 Q384.40,476.60 384.60,477.80 Q384.40,479.00 382.70,481.20" fill="none" stroke="#000" stroke-width="1.15"/>
<path d="M386.82,474.40 Q388.52,476.60 388.72,477.80 Q388.52,479.00 386.82,481.20" fill="none" stroke="#000" stroke-width="1.15"/>
<path d="M390.94,474.40 Q392.64,476.60 392.84,477.80 Q392.64,479.00 390.94,481.20" fill="none" stroke="#000" stroke-width="1.15"/>
<path d="M395.06,474.40 Q396.76,476.60 396.96,477.80 Q396.76,479.00 395.06,481.20" fill="none" stroke="#000" stroke-width="1.15"/>
<path d="M399.18,474.40 Q400.88,476.60 401.08,477.80 Q400.88,479.00 399.18,481.20" fill="none" stroke="#000" stroke-width="1.15"/>
<path d="M403.30,474.40 Q405.00,476.60 405.20,477.80 Q405.00,479.00 403.30,481.20" fill="none" stroke="#000" stroke-width="1.15"/>
<path d="M407.42,474.40 Q409.12,476.60 409.32,477.80 Q409.12,479.00 407.42,481.20" fill="none" stroke="#000" stroke-width="1.15"/>
<path d="M411.54,474.40 Q413.24,476.60 413.44,477.80 Q413.24,479.00 411.54,481.20" fill="none" stroke="#000" stroke-width="1.15"/>
<path d="M415.66,474.40 Q417.36,476.60 417.56,477.80 Q417.36,479.00 415.66,481.20" fill="none" stroke="#000" stroke-width="1.15"/>
<path d="M419.78,474.40 Q421.48,476.60 421.68,477.80 Q421.48,479.00 419.78,481.20" fill="none" stroke="#000" stroke-width="1.15"/>
<path d="M423.90,474.40 Q425.60,476.60 425.80,477.80 Q425.60,479.00 423.90,481.20" fill="none" stroke="#000" stroke-width="1.15"/>
<path d="M428.02,474.40 Q429.72,476.60 429.92,477.80 Q429.72,479.00 428.02,481.20" fill="none" stroke="#000" stroke-width="1.15"/>
<path d="M432.14,474.40 Q433.84,476.60 434.04,477.80 Q433.84,479.00 432.14,481.20" fill="none" stroke="#000" stroke-width="1.15"/>
<path d="M436.26,474.40 Q437.96,476.60 438.16,477.80 Q437.96,479.00 436.26,481.20" fill="none" stroke="#000" stroke-width="1.15"/>
<path d="M440.38,474.40 Q442.08,476.60 442.28,477.80 Q442.08,479.00 440.38,481.20" fill="none" stroke="#000" stroke-width="1.15"/>
<path d="M444.50,474.40 Q446.20,476.60 446.40,477.80 Q446.20,479.00 444.50,481.20" fill="none" stroke="#000" stroke-width="1.15"/>
<path d="M448.62,474.40 Q450.32,476.60 450.52,477.80 Q450.32,479.00 448.62,481.20" fill="none" stroke="#000" stroke-width="1.15"/>
<path d="M452.74,474.40 Q454.44,476.60 454.64,477.80 Q454.44,479.00 452.74,481.20" fill="none" stroke="#000" stroke-width="1.15"/>
<path d="M456.86,474.40 Q458.56,476.60 458.76,477.80 Q458.56,479.00 456.86,481.20" fill="none" stroke="#000" stroke-width="1.15"/>
<path d="M460.98,474.40 Q462.68,476.60 462.88,477.80 Q462.68,479.00 460.98,481.20" fill="none" stroke="#000" stroke-width="1.15"/>
<path d="M465.10,474.40 Q466.80,476.60 467.00,477.80 Q466.80,479.00 465.10,481.20" fill="none" stroke="#000" stroke-width="1.15"/>
<path d="M469.22,474.40 Q470.92,476.60 471.12,477.80 Q470.92,479.00 469.22,481.20" fill="none" stroke="#000" stroke-width="1.15"/>
<path d="M473.34,474.40 Q475.04,476.60 475.24,477.80 Q475.04,479.00 473.34,481.20" fill="none" stroke="#000" stroke-width="1.15"/>
<path d="M477.46,474.40 Q479.16,476.60 479.36,477.80 Q479.16,479.00 477.46,481.20" fill="none" stroke="#000" stroke-width="1.15"/>
<path d="M481.58,474.40 Q483.28,476.60 483.48,477.80 Q483.28,479.00 481.58,481.20" fill="none" stroke="#000" stroke-width="1.15"/>
<path d="M485.70,474.40 Q487.40,476.60 487.60,477.80 Q487.40,479.00 485.70,481.20" fill="none" stroke="#000" stroke-width="1.15"/>
<path d="M489.82,474.40 Q491.52,476.60 491.72,477.80 Q491.52,479.00 489.82,481.20" fill="none" stroke="#000" stroke-width="1.15"/>
<path d="M493.94,474.40 Q495.64,476.60 495.84,477.80 Q495.64,479.00 493.94,481.20" fill="none" stroke="#000" stroke-width="1.15"/>
<path d="M498.06,474.40 Q499.76,476.60 499.96,477.80 Q499.76,479.00 498.06,481.20" fill="none" stroke="#000" stroke-width="1.15"/>
<path d="M502.18,474.40 Q503.88,476.60 504.08,477.80 Q503.88,479.00 502.18,481.20" fill="none" stroke="#000" stroke-width="1.15"/>
<rect x="432.10" y="472.50" width="0.90" height="11.00" fill="#111"/>
<rect x="476.80" y="472.40" width="1.00" height="11.20" fill="#111"/>
<rect x="479.40" y="472.60" width="1.10" height="10.80" fill="#888"/>
<rect x="483.30" y="472.60" width="1.10" height="10.80" fill="#999"/>
<rect x="496.40" y="472.40" width="1.60" height="11.20" fill="#999"/>
<rect x="507.80" y="472.30" width="1.60" height="11.40" fill="#999"/>
<text x="511.00" y="496.80" font-family="'Liberation Sans', sans-serif" font-size="7.50" text-anchor="end" fill="#1a1718" textLength="112.0" lengthAdjust="spacingAndGlyphs"  stroke="#1a1718" stroke-width="0.06">hg19 chr10:75600000-75850000</text>
<path d="M475.6,502.2 V505 H508.6 V502.2" fill="none" stroke="#000" stroke-width="1"/>
<text x="482.00" y="514.70" font-family="'Liberation Sans', sans-serif" font-size="7.50" text-anchor="start" fill="#1a1718" textLength="20.3" lengthAdjust="spacingAndGlyphs"  stroke="#1a1718" stroke-width="0.06">20 Kb</text>
<path d="M302.20,210.50 Q307.40,203.00 309.90,196.20 Q310.20,199.40 311.20,200.80 Q313.30,202.50 316.70,202.70 Q309.20,207.70 302.20,210.50 Z" fill="#ff0000"/>
<path d="M302.00,329.60 Q307.20,322.10 309.70,315.30 Q310.00,318.50 311.00,319.90 Q313.10,321.60 316.50,321.80 Q309.00,326.80 302.00,329.60 Z" fill="#ff0000"/>
<line x1="198.5" y1="52.2" x2="326.1" y2="52.2" stroke="#676262" stroke-width="1.15" stroke-dasharray="5.8 5.8" stroke-dashoffset="2.9"/>
<line x1="198.5" y1="521.4" x2="326.1" y2="521.4" stroke="#676262" stroke-width="1.15" stroke-dasharray="5.8 5.8" stroke-dashoffset="2.9"/>
<line x1="198.5" y1="52.2" x2="198.5" y2="521.4" stroke="#676262" stroke-width="1.15" stroke-dasharray="5.8 5.93" stroke-dashoffset="2.9"/>
<line x1="326.1" y1="52.2" x2="326.1" y2="521.4" stroke="#676262" stroke-width="1.15" stroke-dasharray="5.8 5.93" stroke-dashoffset="2.9"/>
<line x1="131.2" y1="560.2" x2="257.9" y2="560.2" stroke="#1c1c8e" stroke-width="2.8"/>
<line x1="259.0" y1="560.2" x2="385.6" y2="560.2" stroke="#fa3c0a" stroke-width="2.8"/>
<rect x="150.90" y="555.40" width="10.30" height="9.60" rx="0.6" fill="#a9cbe6" stroke="#15151f" stroke-width="1.2"/>
<rect x="278.70" y="555.30" width="10.20" height="9.80" rx="0.6" fill="#a9cbe6" stroke="#15151f" stroke-width="1.2"/>
<text x="162.20" y="554.60" font-family="'Liberation Sans', sans-serif" font-size="7.40" text-anchor="start" fill="#1a1718" textLength="18.6" lengthAdjust="spacingAndGlyphs"  stroke="#1a1718" stroke-width="0.04">PLAU</text>
<text x="289.60" y="554.60" font-family="'Liberation Sans', sans-serif" font-size="7.40" text-anchor="start" fill="#1a1718" textLength="18.6" lengthAdjust="spacingAndGlyphs"  stroke="#1a1718" stroke-width="0.04">PLAU</text>
<text x="308.70" y="557.70" font-family="'Liberation Sans', sans-serif" font-size="5.60" text-anchor="start" fill="#444" textLength="8.4" lengthAdjust="spacingAndGlyphs" font-style="italic" stroke="#444" stroke-width="0.05">dup</text>
<path d="M131.2,593.0L131.2,591.04L131.6,591.08L131.9,588.18L132.2,590.96L132.6,590.69L132.9,590.18L133.0,588.90L133.3,584.96L133.4,586.37L133.7,587.83L134.0,589.25L134.3,590.72L134.7,590.44L135.1,589.66L135.4,589.53L135.5,591.35L135.8,589.91L136.1,587.95L136.3,581.23L136.4,582.69L136.8,584.67L137.0,586.70L137.2,589.24L137.5,586.68L137.8,586.75L138.2,588.75L138.6,590.43L138.9,588.57L139.0,589.04L139.2,590.31L139.5,591.45L139.6,591.21L139.9,589.76L140.3,591.37L140.7,589.76L141.0,590.82L141.3,590.31L141.5,588.68L141.7,589.59L142.1,590.17L142.4,589.17L142.8,588.68L143.0,589.12L143.1,588.25L143.4,588.26L143.5,587.46L143.8,586.62L144.2,588.14L144.5,587.09L144.8,588.49L145.2,590.16L145.6,590.21L145.9,587.27L146.0,587.45L146.2,588.18L146.5,590.35L146.6,590.60L146.9,591.52L147.3,590.00L147.7,591.63L148.0,590.95L148.3,589.93L148.5,587.82L148.7,588.25L149.1,587.52L149.3,585.79L149.4,585.23L149.8,583.51L149.8,575.68L150.1,578.58L150.4,580.42L150.5,588.12L150.8,583.07L151.2,580.99L151.5,586.70L151.8,587.38L152.0,582.67L152.2,586.18L152.5,585.63L152.6,582.63L152.9,587.86L153.0,589.38L153.2,589.25L153.6,588.48L153.9,586.86L154.3,588.23L154.7,587.11L155.0,589.82L155.3,588.76L155.7,587.49L156.0,587.68L156.1,587.71L156.4,588.46L156.5,589.78L156.8,590.25L157.1,590.93L157.4,589.33L157.8,590.14L158.0,589.59L158.2,591.52L158.5,592.18L158.8,591.62L159.2,591.11L159.6,591.74L159.9,590.84L160.0,591.21L160.2,591.65L160.5,591.38L160.6,592.02L160.9,591.46L161.3,591.38L161.7,591.44L162.0,591.73L162.3,591.71L162.7,590.25L163.0,590.73L163.1,589.91L163.4,587.91L163.7,586.52L163.8,586.79L164.1,588.68L164.4,590.57L164.5,591.26L164.8,591.09L165.2,590.84L165.5,590.84L165.8,591.48L166.2,591.09L166.6,590.84L166.9,591.53L167.2,590.84L167.6,591.98L167.9,590.84L168.3,590.95L168.7,591.62L169.0,590.84L169.3,590.99L169.7,592.16L170.0,591.86L170.1,591.55L170.4,591.70L170.5,592.25L170.8,592.25L171.1,592.25L171.4,592.25L171.8,592.20L172.0,592.08L172.2,591.90L172.5,591.82L172.8,592.01L173.2,590.84L173.6,591.19L173.9,591.13L174.2,591.14L174.6,590.84L174.9,590.84L175.3,590.84L175.7,590.84L176.0,591.45L176.3,591.17L176.5,591.17L176.7,589.33L177.1,591.28L177.4,589.70L177.8,589.33L178.1,590.48L178.4,590.28L178.8,590.20L179.2,589.33L179.5,589.40L179.8,589.33L180.0,591.37L180.2,588.64L180.5,588.60L180.6,588.81L180.9,587.60L181.2,587.60L181.6,587.60L181.9,587.60L182.0,587.60L182.3,588.05L182.5,588.14L182.7,588.12L183.0,588.06L183.3,589.30L183.7,587.95L184.1,587.90L184.4,587.85L184.8,589.61L185.1,588.41L185.4,589.37L185.8,589.01L186.0,587.60L186.2,588.37L186.5,588.21L186.8,588.76L187.2,588.21L187.5,587.06L187.6,588.91L187.9,590.72L188.0,590.90L188.2,590.81L188.6,588.96L188.9,591.08L189.3,589.42L189.7,591.27L190.0,589.36L190.3,590.11L190.7,586.97L191.1,587.31L191.3,588.85L191.4,589.13L191.8,588.14L192.0,591.11L192.1,591.18L192.4,591.33L192.8,590.84L193.2,590.86L193.5,591.71L193.8,590.84L194.2,590.96L194.6,590.84L194.9,590.84L195.0,590.84L195.2,591.94L195.5,591.92L195.6,591.92L195.9,591.92L196.3,591.92L196.7,591.95L197.0,591.95L197.3,591.92L197.7,592.25L198.1,592.09L198.4,591.92L198.8,592.07L199.1,592.12L199.4,591.92L199.8,591.92L200.0,592.25L200.2,592.25L200.5,591.23L200.8,591.98L201.2,590.84L201.6,591.48L201.9,591.37L202.2,590.91L202.6,590.84L202.9,591.96L203.3,591.45L203.7,591.88L204.0,591.41L204.3,591.65L204.5,589.98L204.7,590.98L205.1,590.90L205.4,589.98L205.8,589.98L206.1,591.01L206.4,590.61L206.8,590.22L207.0,591.35L207.2,591.25L207.5,588.49L207.8,590.15L207.8,587.89L208.2,588.38L208.6,589.31L208.9,590.48L209.0,589.76L209.2,589.76L209.6,591.25L209.9,589.76L210.3,589.76L210.7,590.29L211.0,590.62L211.3,590.80L211.7,589.76L212.0,589.76L212.1,590.03L212.4,591.38L212.5,591.81L212.8,591.16L213.1,591.46L213.4,591.98L213.8,591.60L214.2,591.06L214.5,592.11L214.8,591.65L215.2,591.58L215.6,592.07L215.9,592.25L216.2,592.19L216.6,592.10L216.9,591.06L217.3,591.09L217.7,591.31L218.0,591.06L218.3,591.66L218.7,591.62L219.1,590.15L219.4,590.33L219.5,589.76L219.8,590.91L220.1,590.87L220.4,590.31L220.8,590.51L221.0,591.65L221.2,591.40L221.5,591.84L221.8,590.45L222.2,590.23L222.6,590.15L222.9,591.20L223.2,589.88L223.6,589.76L223.9,591.23L224.3,589.85L224.7,589.89L225.0,590.24L225.3,590.69L225.7,591.22L226.1,590.36L226.4,590.60L226.8,590.95L227.1,590.19L227.4,590.23L227.8,590.28L228.0,590.30L228.2,590.79L228.5,591.92L228.8,591.92L229.2,591.92L229.6,591.92L229.9,591.92L230.0,592.25L230.2,591.11L230.5,590.42L230.6,590.25L230.9,590.09L231.3,589.92L231.7,590.90L232.0,589.59L232.3,589.42L232.7,589.25L233.0,589.11L233.1,589.25L233.4,590.24L233.8,591.22L234.0,592.25L234.1,592.22L234.4,591.92L234.8,591.92L235.2,591.92L235.5,592.25L235.8,591.92L236.2,592.25L236.6,592.19L236.9,592.25L237.2,592.08L237.6,592.25L237.9,592.03L238.3,591.92L238.7,592.25L239.0,592.08L239.3,590.93L239.5,591.19L239.7,591.66L240.1,589.09L240.4,588.89L240.8,588.55L241.0,590.38L241.1,588.16L241.4,589.75L241.8,590.12L242.0,590.30L242.2,590.50L242.5,590.30L242.8,590.30L243.2,590.30L243.6,590.30L243.9,590.30L244.2,590.97L244.6,590.43L244.9,590.30L245.3,590.30L245.7,590.30L246.0,590.30L246.3,590.05L246.7,588.18L247.0,588.76L247.1,586.49L247.4,586.29L247.8,587.25L248.1,586.45L248.4,587.90L248.8,585.47L249.2,585.27L249.5,587.67L249.6,585.01L249.8,590.43L250.2,589.64L250.5,591.55L250.6,591.62L250.9,590.51L251.2,591.55L251.6,591.51L251.9,591.28L252.0,590.61L252.3,589.11L252.5,589.95L252.7,590.37L253.0,587.60L253.3,586.84L253.5,586.52L253.7,588.76L254.1,586.53L254.4,582.01L254.5,581.12L254.8,582.47L255.1,584.36L255.4,587.79L255.5,586.52L255.8,586.65L256.1,588.12L256.5,586.95L256.9,587.10L257.2,587.25L257.6,587.41L257.9,587.56L258.0,587.60L258.2,588.14L258.5,589.58L258.6,589.72L258.9,590.50L259.3,588.68L259.6,588.68L260.0,588.68L260.4,587.55L260.7,586.41L261.0,586.62L261.1,585.47L261.4,589.08L261.8,588.18L262.0,587.81L262.1,585.90L262.4,585.75L262.8,586.05L263.1,587.33L263.5,587.58L263.9,587.35L264.0,589.49L264.2,588.69L264.5,588.68L264.6,588.69L264.9,590.44L265.2,589.44L265.6,588.68L265.9,590.30L266.0,589.68L266.3,588.36L266.6,589.68L267.0,587.60L267.4,590.52L267.7,589.11L268.0,589.76L268.1,589.93L268.4,590.31L268.8,589.76L269.1,589.76L269.4,590.61L269.8,590.26L270.0,591.02L270.1,589.44L270.5,588.91L270.9,588.76L271.0,587.60L271.2,588.88L271.6,589.63L271.9,587.72L272.2,587.77L272.6,587.82L272.9,588.29L273.3,587.91L273.6,587.96L274.0,590.92L274.4,590.06L274.7,590.01L275.0,588.59L275.1,589.82L275.4,586.09L275.8,587.52L276.1,581.80L276.4,582.66L276.5,580.63L276.8,580.98L277.1,581.96L277.5,583.59L277.9,586.70L278.2,584.68L278.6,584.08L278.9,588.45L279.0,584.36L279.2,587.77L279.5,587.06L279.6,588.53L279.9,587.16L280.3,587.23L280.6,588.96L281.0,587.79L281.4,590.92L281.7,590.68L282.0,588.79L282.1,589.99L282.4,590.63L282.5,590.23L282.8,590.78L283.1,590.48L283.4,590.22L283.8,590.04L284.1,591.67L284.5,590.11L284.9,590.33L285.0,591.44L285.2,591.92L285.5,592.00L285.6,592.15L285.9,591.42L286.2,590.84L286.6,591.49L286.9,591.79L287.0,591.96L287.3,590.19L287.5,590.49L287.6,591.22L288.0,589.76L288.4,590.71L288.7,589.76L289.0,590.44L289.1,591.06L289.4,591.08L289.8,591.44L290.1,588.85L290.3,590.20L290.4,589.40L290.8,590.61L291.0,591.86L291.1,591.72L291.5,591.45L291.9,591.55L292.2,591.91L292.6,592.11L292.9,592.00L293.2,592.25L293.6,591.54L293.9,591.52L294.3,591.38L294.6,591.77L295.0,591.39L295.4,590.76L295.5,589.98L295.7,590.41L296.1,590.06L296.4,590.19L296.8,591.17L297.1,591.47L297.4,589.98L297.8,589.98L298.1,590.19L298.5,589.98L298.9,591.04L299.2,589.98L299.6,590.04L299.9,591.19L300.0,591.11L300.2,590.78L300.5,589.24L300.6,587.60L300.9,587.60L301.3,589.93L301.6,587.60L302.0,587.60L302.4,587.60L302.7,588.29L303.0,587.60L303.1,588.07L303.4,590.03L303.5,589.76L303.8,591.11L304.1,589.76L304.4,589.76L304.8,589.76L305.0,589.76L305.1,589.60L305.5,589.22L305.9,589.26L306.0,588.68L306.2,588.50L306.6,588.18L306.9,589.16L307.2,587.55L307.6,587.24L307.9,586.92L308.3,587.37L308.4,586.52L308.6,588.32L309.0,590.84L309.4,591.34L309.7,591.60L310.0,592.03L310.1,591.92L310.4,591.92L310.8,591.92L311.1,592.25L311.4,592.00L311.8,592.25L312.0,592.12L312.1,591.43L312.5,590.30L312.9,589.17L313.0,590.17L313.2,588.70L313.6,589.92L313.9,588.78L314.2,590.53L314.6,588.94L314.9,588.89L315.3,588.93L315.6,590.55L316.0,589.15L316.4,589.04L316.7,590.19L317.1,589.18L317.4,590.08L317.8,590.06L318.0,589.45L318.1,590.67L318.4,590.50L318.8,588.50L319.1,588.19L319.2,588.47L319.5,590.98L319.9,591.66L320.0,591.10L320.2,591.15L320.6,592.16L320.9,590.84L321.2,591.58L321.6,591.77L321.9,591.19L322.3,590.84L322.6,591.67L323.0,591.43L323.4,592.25L323.5,592.25L323.7,592.25L324.1,592.25L324.4,592.25L324.8,592.25L325.1,592.25L325.4,592.25L325.8,592.25L326.0,592.25L326.1,591.66L326.5,590.30L326.9,590.07L327.2,590.28L327.6,589.62L327.9,589.39L328.0,589.33L328.2,591.78L328.5,591.92L328.6,591.92L328.9,591.92L329.3,591.92L329.6,591.92L330.0,591.92L330.4,591.28L330.5,590.54L330.7,591.34L331.1,591.23L331.4,590.30L331.8,590.65L332.0,590.57L332.1,590.62L332.4,591.76L332.5,592.25L332.8,592.06L333.1,591.93L333.5,592.23L333.9,591.92L334.0,591.92L334.2,591.13L334.6,591.03L334.9,590.06L335.2,590.12L335.6,590.03L335.9,591.26L336.0,590.75L336.3,591.18L336.6,591.84L337.0,590.37L337.4,591.02L337.7,590.45L338.1,591.13L338.4,590.50L338.8,590.95L339.1,591.15L339.4,590.30L339.8,591.38L340.0,590.30L340.1,591.19L340.5,591.38L340.9,592.25L341.2,591.80L341.6,592.00L341.9,591.38L342.2,591.38L342.6,591.38L342.9,591.66L343.3,592.10L343.6,591.38L344.0,591.79L344.4,591.00L344.5,590.84L344.7,590.84L345.1,590.84L345.4,591.24L345.8,590.93L346.0,590.96L346.1,590.62L346.4,589.87L346.5,589.76L346.8,589.76L347.1,590.25L347.5,591.04L347.9,590.08L348.0,589.76L348.2,589.33L348.5,590.86L348.6,590.17L348.9,588.68L349.2,588.68L349.6,588.68L349.9,590.34L350.0,588.68L350.3,588.65L350.6,587.80L351.0,587.33L351.2,587.69L351.4,587.67L351.7,589.08L352.0,591.64L352.1,590.30L352.4,590.30L352.8,590.30L353.1,591.24L353.4,590.30L353.8,590.30L354.1,591.11L354.5,590.91L354.9,591.48L355.0,590.30L355.2,591.95L355.5,591.66L355.6,591.38L355.9,591.38L356.2,591.43L356.6,591.89L356.9,591.38L357.3,591.38L357.6,591.85L358.0,591.88L358.4,591.71L358.7,591.49L359.1,590.67L359.4,590.67L359.8,589.81L359.8,591.51L360.1,590.92L360.4,592.25L360.5,592.25L360.8,592.25L361.1,592.25L361.5,592.25L361.9,592.25L362.2,592.25L362.6,592.25L362.9,592.25L363.2,592.25L363.6,592.25L363.9,592.25L364.0,592.25L364.3,592.25L364.6,592.25L365.0,592.25L365.4,592.25L365.7,592.25L366.0,592.25L366.1,592.21L366.4,591.93L366.8,591.66L367.1,591.39L367.4,591.67L367.8,591.32L368.1,591.41L368.5,591.12L368.9,591.02L369.2,590.84L369.6,590.84L369.9,590.97L370.0,591.07L370.2,590.57L370.5,590.30L370.6,590.30L370.9,590.30L371.3,591.02L371.6,590.56L372.0,590.52L372.4,590.49L372.7,590.42L373.0,591.79L373.1,591.56L373.4,591.40L373.8,588.84L374.0,589.31L374.1,589.46L374.4,591.37L374.8,589.87L375.0,590.30L375.1,591.88L375.5,590.30L375.9,590.78L376.2,591.59L376.6,591.76L376.9,590.30L377.2,590.30L377.6,590.70L377.9,590.30L378.0,591.70L378.3,589.98L378.5,590.89L378.6,590.78L379.0,590.24L379.4,590.20L379.7,589.76L380.0,589.76L380.1,589.76L380.4,588.90L380.5,588.92L380.8,588.05L381.1,585.87L381.4,582.20L381.4,582.65L381.8,585.80L382.0,590.41L382.1,588.75L382.5,587.60L382.9,588.35L383.2,587.60L383.6,587.60L383.9,590.39L384.0,587.60L384.2,589.74L384.5,588.68L384.6,590.23L384.9,590.37L385.3,588.68L385.6,593.0 Z" fill="#231f20"/>
<text x="119.10" y="592.80" font-family="'Liberation Sans', sans-serif" font-size="7.95" text-anchor="end" fill="#1a1718" textLength="57.0" lengthAdjust="spacingAndGlyphs"  stroke="#1a1718" stroke-width="0.14">QPD H3K27me3</text>
<rect x="131.2" y="594.2" width="254.4" height="21.6" fill="#e0dfdb"/>
<path d="M131.2,616.0L131.2,615.25L131.7,615.25L132.2,615.25L132.7,615.25L133.2,615.25L133.7,615.25L134.2,615.25L134.7,615.25L135.2,615.25L135.7,615.25L136.2,615.25L136.7,615.25L137.2,615.25L137.7,615.25L138.2,615.25L138.7,615.25L139.2,615.25L139.7,615.25L140.2,615.25L140.7,615.01L141.2,615.25L141.7,614.30L142.2,614.06L142.7,615.13L143.2,614.55L143.7,614.87L144.2,615.07L144.7,614.79L145.2,615.25L145.7,614.92L146.2,615.25L146.7,614.66L147.2,615.25L147.7,615.25L148.2,614.54L148.7,614.65L149.2,614.84L149.7,614.89L150.2,614.98L150.7,614.66L151.2,613.97L151.7,614.08L152.2,614.02L152.7,613.73L153.2,614.34L153.7,614.97L154.2,614.36L154.7,613.49L155.2,613.67L155.7,612.73L156.2,612.95L156.7,612.38L157.2,612.79L157.7,612.28L158.2,613.12L158.7,612.88L159.2,613.95L159.7,614.19L160.2,614.68L160.7,615.16L161.2,615.20L161.7,614.88L162.2,614.61L162.7,614.15L163.2,614.29L163.7,614.37L164.2,614.68L164.7,614.50L165.2,615.03L165.7,614.90L166.2,613.79L166.7,614.26L167.2,615.25L167.7,614.64L168.2,615.08L168.7,614.20L169.2,614.72L169.7,615.20L170.2,614.17L170.7,614.51L171.2,614.85L171.7,615.01L172.2,615.25L172.7,614.95L173.2,615.25L173.7,615.25L174.2,615.25L174.7,615.25L175.2,615.25L175.7,615.25L176.2,615.25L176.7,615.25L177.2,615.25L177.7,615.25L178.2,615.24L178.7,614.93L179.2,615.24L179.7,615.25L180.2,615.01L180.7,614.85L181.2,614.82L181.7,615.01L182.2,615.23L182.7,615.25L183.2,615.25L183.7,615.25L184.2,615.25L184.7,615.25L185.2,615.25L185.7,615.25L186.2,615.25L186.7,615.25L187.2,615.25L187.7,615.25L188.2,615.25L188.7,615.25L189.2,614.99L189.7,614.96L190.2,615.25L190.7,614.75L191.2,615.03L191.7,614.92L192.2,614.59L192.7,615.17L193.2,614.59L193.7,614.16L194.2,615.25L194.7,614.24L195.2,614.43L195.7,614.82L196.2,614.35L196.7,615.25L197.2,615.14L197.7,614.06L198.2,614.51L198.7,615.10L199.2,615.13L199.7,614.67L200.2,614.50L200.7,613.82L201.2,614.98L201.7,614.48L202.2,614.89L202.7,614.92L203.2,614.75L203.7,615.25L204.2,615.25L204.7,615.25L205.2,615.03L205.7,614.63L206.2,614.80L206.7,615.25L207.2,615.25L207.7,615.25L208.2,615.25L208.7,615.25L209.2,615.25L209.7,615.25L210.2,615.25L210.7,615.25L211.2,615.25L211.7,615.25L212.2,615.25L212.7,615.25L213.2,615.11L213.7,615.25L214.2,614.79L214.7,614.37L215.2,614.54L215.7,615.06L216.2,615.25L216.7,615.22L217.2,615.24L217.7,615.25L218.2,615.25L218.7,615.25L219.2,615.25L219.7,615.25L220.2,615.25L220.7,615.25L221.2,615.25L221.7,615.25L222.2,615.25L222.7,615.25L223.2,615.25L223.7,615.25L224.2,615.25L224.7,615.25L225.2,615.25L225.7,615.25L226.2,615.25L226.7,615.25L227.2,615.25L227.7,615.25L228.2,615.25L228.7,615.25L229.2,615.25L229.7,615.25L230.2,615.25L230.7,615.25L231.2,615.25L231.7,615.25L232.2,615.25L232.7,615.25L233.2,615.25L233.7,615.25L234.2,615.25L234.7,615.25L235.2,615.25L235.7,615.25L236.2,615.25L236.7,615.25L237.2,615.25L237.7,615.25L238.2,615.25L238.7,615.25L239.2,615.25L239.7,615.25L240.2,615.25L240.7,615.25L241.2,615.25L241.7,615.25L242.2,615.25L242.7,615.25L243.2,615.25L243.7,615.25L244.2,615.25L244.7,615.14L245.2,615.03L245.7,614.30L246.2,615.08L246.7,614.26L247.2,614.41L247.7,614.68L248.2,614.91L248.7,615.25L249.2,615.25L249.7,615.25L250.2,615.25L250.7,615.25L251.2,615.21L251.7,615.25L252.2,615.25L252.7,614.72L253.2,615.25L253.7,614.22L254.2,615.25L254.7,614.66L255.2,614.38L255.7,615.25L256.2,615.25L256.7,614.70L257.2,614.62L257.7,615.25L258.2,614.97L258.7,614.68L259.2,614.74L259.7,615.15L260.2,615.25L260.7,615.02L261.2,615.09L261.7,615.19L262.2,615.04L262.7,615.05L263.2,615.14L263.7,615.07L264.2,615.06L264.7,614.82L265.2,614.75L265.7,615.25L266.2,614.64L266.7,615.18L267.2,614.95L267.7,615.15L268.2,615.07L268.7,615.01L269.2,614.99L269.7,615.25L270.2,615.22L270.7,615.10L271.2,615.20L271.7,615.14L272.2,615.25L272.7,615.25L273.2,615.12L273.7,615.25L274.2,615.25L274.7,615.25L275.2,615.25L275.7,615.25L276.2,615.25L276.7,615.25L277.2,615.25L277.7,615.25L278.2,615.25L278.7,615.25L279.2,615.10L279.7,614.54L280.2,614.46L280.7,614.19L281.2,613.52L281.7,613.73L282.2,613.45L282.7,613.31L283.2,613.03L283.7,613.55L284.2,613.81L284.7,613.51L285.2,613.88L285.7,614.08L286.2,614.56L286.7,614.72L287.2,614.67L287.7,614.29L288.2,613.75L288.7,613.91L289.2,614.07L289.7,614.14L290.2,614.56L290.7,614.58L291.2,614.79L291.7,615.25L292.2,615.10L292.7,615.11L293.2,615.25L293.7,615.25L294.2,615.25L294.7,615.25L295.2,615.25L295.7,615.25L296.2,615.25L296.7,615.25L297.2,615.25L297.7,615.25L298.2,615.25L298.7,615.25L299.2,615.25L299.7,615.25L300.2,614.90L300.7,614.91L301.2,615.15L301.7,614.98L302.2,614.59L302.7,614.30L303.2,615.25L303.7,615.24L304.2,615.07L304.7,615.25L305.2,615.25L305.7,615.25L306.2,615.25L306.7,615.25L307.2,615.25L307.7,615.19L308.2,614.98L308.7,614.61L309.2,614.53L309.7,614.95L310.2,615.25L310.7,615.05L311.2,615.25L311.7,615.25L312.2,615.25L312.7,615.25L313.2,615.25L313.7,615.25L314.2,615.25L314.7,615.25L315.2,615.25L315.7,615.25L316.2,615.25L316.7,615.25L317.2,615.25L317.7,615.25L318.2,615.25L318.7,615.25L319.2,614.97L319.7,615.07L320.2,615.13L320.7,614.93L321.2,615.04L321.7,615.24L322.2,615.25L322.7,615.25L323.2,615.25L323.7,615.25L324.2,615.25L324.7,615.25L325.2,615.25L325.7,615.25L326.2,615.25L326.7,615.25L327.2,615.25L327.7,615.25L328.2,615.21L328.7,615.25L329.2,615.25L329.7,615.25L330.2,615.21L330.7,615.25L331.2,615.25L331.7,615.25L332.2,615.25L332.7,615.25L333.2,615.25L333.7,615.25L334.2,615.25L334.7,615.25L335.2,615.25L335.7,615.25L336.2,615.25L336.7,615.25L337.2,615.25L337.7,615.25L338.2,615.25L338.7,615.25L339.2,615.25L339.7,615.25L340.2,615.25L340.7,615.25L341.2,615.25L341.7,615.25L342.2,615.22L342.7,615.25L343.2,615.25L343.7,615.25L344.2,614.33L344.7,613.97L345.2,614.24L345.7,615.01L346.2,614.35L346.7,614.27L347.2,615.05L347.7,614.89L348.2,614.43L348.7,615.22L349.2,614.64L349.7,614.41L350.2,614.61L350.7,614.06L351.2,614.57L351.7,615.01L352.2,614.81L352.7,614.96L353.2,614.81L353.7,615.06L354.2,614.71L354.7,615.03L355.2,615.01L355.7,615.05L356.2,615.25L356.7,615.25L357.2,615.25L357.7,614.44L358.2,614.80L358.7,614.02L359.2,613.95L359.7,614.04L360.2,614.34L360.7,614.96L361.2,615.20L361.7,614.65L362.2,614.26L362.7,614.23L363.2,615.25L363.7,615.25L364.2,614.98L364.7,614.83L365.2,615.17L365.7,614.87L366.2,614.83L366.7,614.79L367.2,614.73L367.7,615.25L368.2,614.78L368.7,615.25L369.2,615.10L369.7,614.97L370.2,615.25L370.7,615.25L371.2,615.06L371.7,615.25L372.2,615.25L372.7,615.25L373.2,615.19L373.7,615.25L374.2,615.25L374.7,615.25L375.2,615.25L375.7,615.25L376.2,615.25L376.7,615.25L377.2,615.25L377.7,615.25L378.2,615.25L378.7,615.25L379.2,615.17L379.7,615.13L380.2,615.25L380.7,615.12L381.2,615.25L381.7,615.25L382.2,614.91L382.7,614.93L383.2,615.25L383.7,615.20L384.2,614.90L384.7,615.11L385.2,615.25L385.6,616.0 Z" fill="#f01414"/>
<text x="119.10" y="615.30" font-family="'Liberation Sans', sans-serif" font-size="7.95" text-anchor="end" fill="#1a1718" textLength="57.0" lengthAdjust="spacingAndGlyphs"  stroke="#1a1718" stroke-width="0.14">QPD H3K36me3</text>
<path d="M131.2,639.0L131.2,638.07L131.7,637.11L132.2,637.15L132.7,637.84L133.2,638.25L133.7,638.16L134.2,638.25L134.7,637.78L135.2,637.65L135.7,638.08L136.2,638.25L136.7,638.10L137.2,637.60L137.7,638.12L138.2,638.25L138.7,638.25L139.2,637.86L139.7,638.07L140.2,638.25L140.7,638.25L141.2,638.25L141.7,638.25L142.2,638.25L142.7,638.25L143.2,638.16L143.7,637.99L144.2,637.94L144.7,637.95L145.2,638.10L145.7,637.68L146.2,637.19L146.7,637.13L147.2,637.04L147.7,637.30L148.2,637.62L148.7,637.40L149.2,637.09L149.7,638.17L150.2,636.03L150.7,632.97L151.2,631.66L151.7,632.32L152.2,633.44L152.7,636.53L153.2,637.74L153.7,637.52L154.2,636.46L154.7,636.22L155.2,636.05L155.7,636.42L156.2,637.26L156.7,638.17L157.2,638.25L157.7,638.25L158.2,638.25L158.7,638.25L159.2,638.25L159.7,637.83L160.2,638.08L160.7,638.17L161.2,638.01L161.7,638.25L162.2,638.25L162.7,638.25L163.2,638.25L163.7,638.25L164.2,638.25L164.7,638.25L165.2,638.00L165.7,638.25L166.2,638.25L166.7,638.25L167.2,638.25L167.7,637.79L168.2,638.25L168.7,638.25L169.2,638.22L169.7,636.94L170.2,637.96L170.7,638.25L171.2,637.36L171.7,637.85L172.2,637.65L172.7,638.25L173.2,638.03L173.7,638.25L174.2,638.25L174.7,638.10L175.2,638.25L175.7,638.14L176.2,638.25L176.7,638.12L177.2,638.25L177.7,638.07L178.2,638.25L178.7,638.25L179.2,637.42L179.7,637.88L180.2,637.24L180.7,638.05L181.2,637.51L181.7,637.38L182.2,637.27L182.2,637.24L182.5,637.08L182.7,637.20L182.8,637.13L183.2,638.08L183.7,638.24L184.2,638.21L184.7,638.25L185.2,638.25L185.7,638.19L186.2,638.25L186.7,638.25L187.2,638.25L187.7,638.25L188.2,638.25L188.7,638.25L189.2,638.25L189.7,638.25L190.2,638.25L190.7,638.25L191.2,638.25L191.7,638.25L192.2,638.25L192.7,638.22L193.2,638.04L193.7,638.25L194.2,638.25L194.7,638.25L195.2,638.25L195.7,638.25L196.2,638.25L196.7,638.25L197.2,638.25L197.7,638.17L198.2,636.55L198.7,635.56L199.2,635.65L199.7,636.74L200.2,638.25L200.7,638.25L201.2,638.08L201.7,637.80L202.2,637.70L202.7,638.24L203.2,638.25L203.7,638.25L204.2,638.22L204.7,637.94L205.2,638.25L205.7,637.80L206.2,638.03L206.7,638.13L207.2,638.03L207.7,638.25L208.2,638.25L208.7,638.25L209.2,638.25L209.7,638.25L210.2,637.79L210.7,637.55L211.2,638.25L211.7,637.56L212.2,638.25L212.7,637.91L213.2,638.03L213.7,637.22L214.2,637.84L214.7,637.71L215.2,637.92L215.7,638.11L216.2,638.18L216.7,638.25L217.2,638.25L217.7,638.04L218.2,637.95L218.7,638.10L219.2,638.25L219.7,637.76L220.2,638.25L220.7,638.21L221.2,637.05L221.7,636.05L222.2,636.53L222.7,637.91L223.2,638.25L223.7,638.25L224.2,638.25L224.7,635.95L225.2,631.52L225.7,629.88L226.2,630.35L226.7,634.28L227.2,635.68L227.7,635.35L228.2,635.27L228.7,635.56L229.2,636.81L229.7,637.97L230.2,637.58L230.7,636.72L231.2,636.76L231.7,637.33L232.2,637.93L232.7,637.41L233.2,637.61L233.7,637.64L234.2,637.77L234.7,637.76L235.2,638.21L235.7,638.20L236.2,638.25L236.7,638.25L237.2,638.25L237.7,638.25L238.2,638.25L238.7,638.25L239.2,638.25L239.7,637.07L240.2,635.20L240.7,634.38L241.2,634.80L241.7,636.15L242.2,638.09L242.7,637.82L243.2,637.31L243.7,638.13L244.2,637.44L244.7,638.25L245.2,638.24L245.7,637.86L246.2,637.64L246.7,637.98L247.2,637.89L247.7,638.25L248.2,638.25L248.7,638.25L249.2,638.25L249.7,638.25L250.2,638.25L250.7,638.25L251.2,638.25L251.7,638.25L252.2,638.25L252.7,638.25L253.2,638.25L253.7,638.25L254.2,638.25L254.7,638.25L255.2,638.25L255.7,638.25L256.2,638.25L256.7,638.25L257.2,638.25L257.7,636.99L257.8,636.71L258.0,636.54L258.2,636.82L258.2,636.69L258.7,638.25L259.2,638.25L259.7,638.25L260.2,638.25L260.7,638.25L261.2,638.25L261.7,638.25L262.2,638.25L262.7,638.25L263.2,638.25L263.7,638.25L264.2,638.25L264.7,638.25L265.2,638.25L265.7,638.25L266.2,638.25L266.7,638.16L267.2,638.09L267.7,637.99L268.2,638.25L268.7,638.25L269.2,638.25L269.7,638.25L270.2,638.25L270.7,638.25L271.2,638.25L271.7,638.25L272.2,638.25L272.7,638.25L273.2,638.25L273.7,638.25L274.2,638.19L274.7,638.25L275.2,638.25L275.7,638.25L276.2,638.25L276.7,635.74L277.2,632.02L277.7,630.90L278.2,632.17L278.7,635.73L279.2,634.63L279.7,634.47L280.2,634.01L280.7,634.74L281.2,635.52L281.7,636.57L282.2,637.80L282.7,637.05L283.2,636.51L283.7,636.19L284.2,636.05L284.7,636.46L285.2,636.89L285.7,637.55L286.2,638.23L286.7,638.25L287.2,637.80L287.7,637.69L288.2,637.96L288.7,638.25L289.2,637.45L289.7,637.74L290.2,637.57L290.7,638.25L291.2,637.95L291.7,637.60L292.2,637.72L292.7,638.25L293.2,638.23L293.7,638.13L294.2,638.16L294.7,637.71L295.2,637.82L295.7,638.25L296.2,638.21L296.7,638.25L297.2,638.22L297.7,638.25L298.2,638.25L298.7,638.25L299.2,638.25L299.7,638.25L300.2,638.25L300.7,638.25L301.2,638.25L301.7,638.25L302.2,638.25L302.7,638.25L303.2,638.25L303.7,638.25L304.2,638.25L304.7,638.25L305.2,638.25L305.7,638.25L306.2,638.25L306.7,638.25L307.2,638.25L307.7,638.25L308.2,638.25L308.7,638.25L309.2,638.25L309.7,638.25L310.2,638.25L310.7,638.25L311.2,638.25L311.7,638.25L312.2,638.25L312.7,638.25L313.2,638.25L313.7,638.25L314.2,638.25L314.7,638.25L315.2,638.25L315.7,638.25L316.2,638.25L316.7,638.25L317.2,638.25L317.7,638.25L318.2,638.25L318.7,638.25L319.2,638.25L319.7,638.25L320.2,638.25L320.7,638.25L321.2,638.25L321.7,638.25L322.2,638.25L322.7,638.25L323.2,638.25L323.7,638.25L324.2,638.25L324.7,638.25L325.2,638.25L325.7,636.52L326.1,635.02L326.2,634.69L326.3,634.84L326.6,635.03L326.7,635.47L327.2,638.09L327.7,637.72L328.2,638.25L328.7,637.97L329.2,637.90L329.7,638.25L330.2,638.25L330.7,638.25L331.2,638.17L331.7,638.25L332.2,638.22L332.7,638.03L333.2,638.25L333.7,638.06L334.2,638.25L334.7,638.25L335.2,638.16L335.7,638.25L336.2,638.25L336.7,638.25L337.2,638.25L337.7,638.25L338.2,638.25L338.7,638.25L339.2,638.25L339.7,638.25L340.2,638.25L340.7,638.25L341.2,637.93L341.7,638.25L342.2,638.25L342.7,637.85L343.2,637.98L343.7,638.25L344.2,637.44L344.7,638.25L345.2,637.87L345.7,638.25L346.2,637.37L346.7,637.14L347.2,637.31L347.7,638.24L348.2,638.25L348.7,638.25L349.2,638.25L349.7,638.25L350.2,638.00L350.7,634.30L351.2,630.50L351.7,629.32L352.2,631.25L352.7,635.24L353.2,633.34L353.7,632.28L354.2,632.14L354.7,632.95L355.2,635.15L355.7,637.22L356.2,637.50L356.7,636.66L357.2,636.22L357.7,636.08L358.2,636.55L358.7,637.26L359.2,638.18L359.7,638.04L360.2,637.93L360.7,637.92L361.2,638.25L361.7,637.75L362.2,637.43L362.7,637.82L363.2,637.76L363.7,637.91L364.2,638.25L364.7,638.25L365.2,638.25L365.7,638.25L366.2,638.24L366.7,636.06L367.2,634.25L367.7,634.17L368.2,635.73L368.7,637.54L369.2,637.51L369.7,637.99L370.2,637.34L370.7,637.18L371.2,637.11L371.7,637.23L372.2,637.85L372.7,638.25L373.2,638.25L373.7,638.25L374.2,638.25L374.7,638.25L375.2,638.15L375.7,638.00L376.2,638.02L376.7,638.25L377.2,638.25L377.7,638.21L378.2,638.00L378.7,638.25L379.2,638.25L379.7,638.17L380.2,638.25L380.7,638.25L381.2,638.25L381.7,638.20L382.2,638.25L382.7,638.25L383.2,638.25L383.7,638.25L384.2,638.25L384.7,638.21L385.2,638.25L385.6,639.0 Z" fill="#f9a41c"/>
<text x="119.10" y="638.30" font-family="'Liberation Sans', sans-serif" font-size="7.95" text-anchor="end" fill="#1a1718" textLength="52.7" lengthAdjust="spacingAndGlyphs"  stroke="#1a1718" stroke-width="0.14">QPD H3K4me2</text>
<rect x="131.2" y="640.5" width="254.4" height="21.7" fill="#f0efed"/>
<path d="M131.2,662.0L131.2,661.20L131.7,661.25L132.2,661.25L132.7,661.25L133.2,661.01L133.7,661.23L134.2,661.25L134.7,661.25L135.2,661.25L135.7,661.25L136.2,661.16L136.7,660.66L137.2,660.71L137.7,660.98L138.2,660.69L138.7,661.25L139.2,660.74L139.7,660.38L140.2,661.25L140.7,660.42L141.2,660.35L141.7,661.07L142.2,660.54L142.7,660.34L143.2,661.25L143.7,660.97L144.2,660.82L144.7,660.58L145.2,661.21L145.7,660.75L146.2,660.91L146.7,660.88L147.2,661.10L147.7,661.12L148.2,661.25L148.7,661.25L149.2,661.25L149.7,661.25L150.2,661.25L150.7,661.15L151.2,661.04L151.7,660.43L152.2,660.23L152.7,660.99L153.2,661.25L153.7,660.75L154.2,660.81L154.7,661.25L155.2,661.25L155.7,661.25L156.2,661.25L156.7,661.25L157.2,661.25L157.7,661.25L158.2,661.25L158.7,661.25L159.2,661.25L159.7,661.25L160.2,661.25L160.7,661.25L161.2,661.25L161.7,661.25L162.2,661.25L162.7,661.25L163.2,661.25L163.7,661.25L164.2,661.25L164.7,661.25L165.2,661.25L165.7,661.21L166.2,661.12L166.7,661.25L167.2,661.25L167.7,661.25L168.2,661.25L168.7,661.25L169.2,661.25L169.7,661.25L170.2,661.25L170.7,661.25L171.2,661.25L171.7,661.25L172.2,661.25L172.7,661.25L173.2,661.25L173.7,661.25L174.2,661.25L174.7,661.25L175.2,661.25L175.7,661.25L176.2,661.25L176.7,660.90L177.2,660.83L177.7,661.00L178.2,661.25L178.7,660.70L179.2,661.10L179.7,660.92L180.2,661.16L180.7,660.79L181.2,661.25L181.7,661.25L182.2,661.13L182.7,661.25L183.2,661.25L183.7,661.25L184.2,661.02L184.7,661.15L185.2,661.25L185.7,661.25L186.2,661.25L186.7,661.25L187.2,661.25L187.7,661.25L188.2,661.25L188.7,661.25L189.2,661.25L189.7,661.25L190.2,661.25L190.7,661.25L191.2,661.25L191.7,661.25L192.2,661.25L192.7,661.25L193.2,661.25L193.7,661.25L194.2,661.25L194.7,661.25L195.2,661.25L195.7,661.25L196.2,661.25L196.7,661.24L197.2,661.25L197.7,661.03L198.2,661.24L198.7,660.98L199.2,661.05L199.7,660.94L200.2,661.25L200.7,660.66L201.2,661.25L201.7,661.25L202.2,661.25L202.7,661.02L203.2,661.08L203.7,661.25L204.2,661.25L204.7,661.25L205.2,660.74L205.7,660.90L206.2,660.62L206.7,661.25L207.2,660.37L207.7,660.66L208.2,660.77L208.7,660.54L209.2,661.25L209.7,660.94L210.2,661.25L210.7,661.25L211.2,661.02L211.7,661.25L212.2,661.11L212.7,661.25L213.2,661.00L213.7,661.25L214.2,661.25L214.7,660.85L215.2,661.21L215.7,661.20L216.2,661.25L216.7,661.25L217.2,661.25L217.7,661.25L218.2,661.25L218.7,661.25L219.2,661.25L219.7,661.25L220.2,661.25L220.7,661.25L221.2,661.25L221.7,661.25L222.2,661.25L222.7,659.42L223.2,655.32L223.7,652.26L224.2,652.37L224.7,654.72L225.2,650.88L225.6,644.82L225.7,643.21L225.8,642.63L226.1,643.93L226.2,645.81L226.7,657.52L227.2,654.61L227.7,654.36L228.2,656.46L228.7,660.31L229.2,661.24L229.7,660.99L230.2,661.00L230.7,661.25L231.2,661.03L231.7,661.16L232.2,661.07L232.7,661.25L233.2,660.94L233.7,661.14L234.2,661.25L234.7,661.25L235.2,661.25L235.7,661.19L236.2,661.25L236.7,661.25L237.2,661.20L237.7,661.25L238.2,661.25L238.7,661.25L239.2,661.25L239.7,661.25L240.2,660.54L240.7,660.09L241.2,660.16L241.7,661.07L242.2,661.25L242.7,661.25L243.2,661.22L243.7,661.25L244.2,661.25L244.7,661.25L245.2,661.25L245.7,661.25L246.2,661.25L246.7,661.25L247.2,661.25L247.7,661.25L248.2,661.23L248.7,661.25L249.2,661.25L249.7,660.94L250.2,661.19L250.7,660.94L251.2,660.74L251.7,661.25L252.2,661.25L252.7,661.16L253.2,661.11L253.7,661.25L254.2,661.25L254.7,661.25L255.2,661.11L255.7,660.82L256.2,661.25L256.7,661.25L257.2,661.24L257.7,660.87L258.2,661.25L258.7,660.79L259.2,661.01L259.7,660.92L260.2,661.25L260.7,660.63L261.2,661.14L261.7,661.24L262.2,661.25L262.7,661.07L263.2,661.19L263.7,661.25L264.2,661.25L264.7,661.25L265.2,661.25L265.7,661.25L266.2,661.25L266.7,661.25L267.2,661.25L267.7,661.25L268.2,661.25L268.7,661.25L269.2,661.25L269.7,661.25L270.2,661.25L270.7,661.25L271.2,661.25L271.7,661.25L272.2,661.25L272.7,661.25L273.2,661.25L273.7,661.25L274.2,660.86L274.7,660.62L275.2,660.33L275.7,661.22L276.2,660.42L276.7,661.14L277.2,661.09L277.7,661.11L278.2,661.25L278.7,661.12L279.2,660.89L279.7,660.90L280.2,660.95L280.7,661.25L281.2,661.25L281.7,661.25L282.2,661.25L282.7,661.25L283.2,661.25L283.7,661.25L284.2,660.93L284.7,660.95L285.2,660.95L285.7,661.25L286.2,660.91L286.7,661.25L287.2,661.25L287.7,661.25L288.2,661.25L288.7,661.25L289.2,661.25L289.7,661.25L290.2,661.25L290.7,661.25L291.2,661.25L291.7,661.25L292.2,661.03L292.7,660.57L293.2,661.25L293.7,660.95L294.2,661.25L294.7,661.25L295.2,661.25L295.7,661.25L296.2,661.25L296.7,661.25L297.2,661.25L297.7,661.08L298.2,661.25L298.7,660.81L299.2,660.69L299.7,660.96L300.2,660.96L300.7,661.25L301.2,660.69L301.7,660.87L302.2,660.59L302.7,661.17L303.2,661.25L303.7,661.25L304.2,661.25L304.7,661.09L305.2,661.25L305.7,661.25L306.2,661.24L306.7,661.25L307.2,661.25L307.7,661.25L308.2,661.25L308.7,661.24L309.2,661.25L309.7,661.25L310.2,661.24L310.7,661.25L311.2,661.25L311.7,661.25L312.2,661.25L312.7,661.25L313.2,661.25L313.7,661.25L314.2,661.25L314.7,661.25L315.2,661.25L315.7,661.25L316.2,661.25L316.7,661.25L317.2,661.25L317.7,661.25L318.2,661.25L318.7,661.25L319.2,661.25L319.7,661.25L320.2,661.25L320.7,661.25L321.2,661.25L321.7,661.25L322.2,661.25L322.7,661.25L323.2,661.25L323.7,661.25L324.2,661.25L324.7,661.25L325.2,661.25L325.7,661.25L326.2,661.02L326.7,661.13L327.2,661.25L327.7,661.25L328.2,661.25L328.7,661.25L329.2,661.25L329.7,661.25L330.2,661.25L330.7,661.25L331.2,661.25L331.7,661.25L332.2,661.25L332.7,661.25L333.2,661.25L333.7,661.25L334.2,661.25L334.7,661.25L335.2,661.25L335.7,661.25L336.2,661.25L336.7,661.25L337.2,661.21L337.7,661.25L338.2,661.25L338.7,661.25L339.2,661.25L339.7,661.25L340.2,661.20L340.7,661.25L341.2,661.25L341.7,661.25L342.2,661.25L342.7,661.25L343.2,661.25L343.7,661.25L344.2,661.25L344.7,661.25L345.2,661.25L345.7,661.25L346.2,661.25L346.7,661.20L347.2,660.97L347.7,660.49L348.2,660.40L348.7,661.17L349.2,660.57L349.7,659.59L350.2,655.42L350.7,652.72L351.2,652.28L351.7,654.67L352.2,649.16L352.7,645.13L353.2,646.41L353.7,655.54L354.2,656.48L354.7,654.60L355.2,654.60L355.7,656.08L356.2,659.32L356.7,661.25L357.2,661.25L357.7,660.96L358.2,660.54L358.7,660.48L359.2,661.05L359.7,660.73L360.2,661.18L360.7,660.49L361.2,661.25L361.7,660.74L362.2,660.64L362.7,660.57L363.2,661.25L363.7,660.71L364.2,660.56L364.7,660.80L365.2,660.78L365.7,660.60L366.2,660.53L366.7,660.85L367.2,660.19L367.7,660.17L368.2,660.62L368.7,661.25L369.2,661.25L369.7,661.25L370.2,660.82L370.7,661.25L371.2,661.10L371.7,661.07L372.2,661.25L372.7,661.18L373.2,661.25L373.7,661.18L374.2,661.01L374.7,661.25L375.2,661.25L375.7,661.25L376.2,661.25L376.7,661.25L377.2,661.25L377.7,661.25L378.2,661.25L378.7,661.12L379.2,661.25L379.7,661.25L380.2,661.17L380.7,661.25L381.2,661.25L381.7,661.11L382.2,661.16L382.7,661.25L383.2,661.25L383.7,661.25L384.2,661.25L384.7,661.25L385.2,661.25L385.6,662.0 Z" fill="#1e1a8c"/>
<text x="119.10" y="661.30" font-family="'Liberation Sans', sans-serif" font-size="7.95" text-anchor="end" fill="#1a1718" textLength="50.2" lengthAdjust="spacingAndGlyphs"  stroke="#1a1718" stroke-width="0.14">QPD H3K27ac</text>
<path d="M131.2,686.0L131.2,685.25L131.6,685.10L132.0,684.97L132.4,685.01L132.8,685.25L133.2,684.86L133.6,685.19L134.0,684.43L134.4,685.25L134.8,684.49L135.2,685.25L135.6,684.77L136.0,685.04L136.4,684.90L136.8,684.61L137.2,684.47L137.6,685.25L138.0,684.36L138.4,684.65L138.8,685.25L139.2,684.53L139.6,684.36L140.0,684.93L140.4,684.20L140.8,685.19L141.2,684.75L141.6,685.04L142.0,684.28L142.4,685.08L142.8,685.22L143.2,684.49L143.6,685.20L144.0,685.25L144.4,685.16L144.8,685.25L145.2,685.25L145.6,685.25L146.0,685.25L146.4,684.88L146.8,684.64L147.2,685.25L147.6,684.20L148.0,684.66L148.4,684.13L148.8,684.21L149.2,683.85L149.6,684.26L150.0,685.08L150.4,685.25L150.8,685.00L151.2,685.23L151.6,685.25L152.0,685.05L152.4,685.11L152.8,685.19L153.2,684.78L153.6,685.25L154.0,685.05L154.4,685.02L154.8,684.79L155.2,684.44L155.6,684.75L156.0,685.25L156.4,684.73L156.8,685.03L157.2,684.95L157.6,684.75L158.0,685.20L158.4,684.46L158.8,685.01L159.2,685.01L159.6,684.75L160.0,685.25L160.4,684.98L160.8,684.00L161.2,685.23L161.6,684.80L162.0,684.19L162.4,684.61L162.8,684.39L163.2,684.19L163.6,684.35L164.0,685.00L164.4,685.19L164.8,685.25L165.2,685.04L165.6,685.25L166.0,685.25L166.4,685.25L166.8,685.25L167.2,685.25L167.6,685.25L168.0,685.25L168.4,685.25L168.8,685.25L169.2,685.25L169.6,685.24L170.0,685.25L170.4,685.25L170.8,685.25L171.2,685.24L171.6,684.82L172.0,685.23L172.4,684.74L172.8,685.25L173.2,685.25L173.6,684.59L174.0,685.11L174.4,685.25L174.8,685.25L175.2,685.10L175.6,685.25L176.0,685.19L176.4,684.59L176.8,685.25L177.2,685.21L177.6,685.23L178.0,685.25L178.4,684.48L178.8,685.21L179.2,685.25L179.6,684.96L180.0,685.25L180.4,684.91L180.8,685.25L181.2,685.01L181.6,685.25L182.0,684.79L182.4,685.20L182.8,685.15L183.2,685.25L183.6,685.25L184.0,685.25L184.4,685.23L184.8,685.25L185.2,685.25L185.6,684.41L186.0,685.08L186.4,685.16L186.8,684.13L187.2,684.86L187.6,684.57L188.0,684.76L188.4,684.94L188.8,685.25L189.2,685.07L189.6,685.25L190.0,685.25L190.4,685.25L190.8,685.25L191.2,685.25L191.6,685.25L192.0,685.25L192.4,685.25L192.8,684.90L193.2,684.80L193.6,685.25L194.0,685.25L194.4,684.49L194.8,685.25L195.2,685.25L195.6,685.25L196.0,685.25L196.4,685.25L196.8,685.25L197.2,685.25L197.6,685.06L198.0,685.25L198.4,679.01L198.7,673.54L198.8,672.42L198.9,672.38L199.2,673.58L199.2,674.38L199.6,683.39L200.0,685.25L200.4,685.25L200.8,685.25L201.2,685.25L201.6,685.25L202.0,685.25L202.4,685.25L202.8,685.25L203.2,685.25L203.6,685.25L204.0,684.85L204.4,685.25L204.8,685.25L205.2,684.99L205.6,685.25L206.0,685.02L206.4,685.25L206.8,685.25L207.2,685.25L207.6,685.25L208.0,685.25L208.4,685.25L208.8,685.25L209.2,685.25L209.6,685.25L210.0,685.25L210.4,685.25L210.8,685.25L211.2,685.25L211.6,685.25L212.0,685.25L212.4,685.25L212.8,685.25L213.2,685.25L213.6,685.25L214.0,685.25L214.4,685.25L214.8,685.25L215.2,685.25L215.6,685.25L216.0,685.25L216.4,685.25L216.8,685.25L217.2,685.25L217.6,685.25L218.0,685.25L218.4,685.25L218.8,685.25L219.2,685.25L219.6,685.25L220.0,685.25L220.4,685.25L220.8,685.25L221.2,685.25L221.6,685.25L222.0,685.25L222.4,685.25L222.8,685.25L223.2,685.25L223.6,685.25L224.0,684.42L224.4,682.87L224.8,682.13L225.2,682.08L225.6,675.94L225.8,668.38L226.0,666.37L226.1,666.26L226.3,668.25L226.4,669.50L226.8,682.24L227.2,685.00L227.6,684.71L228.0,685.15L228.4,685.20L228.8,685.25L229.2,684.86L229.6,684.51L230.0,684.37L230.4,684.96L230.8,685.06L231.2,685.15L231.6,685.25L232.0,685.25L232.4,685.25L232.8,685.25L233.2,685.25L233.6,685.25L234.0,685.25L234.4,685.25L234.8,685.25L235.2,685.25L235.6,685.25L236.0,685.25L236.4,685.25L236.8,685.25L237.2,685.25L237.6,685.25L238.0,685.25L238.4,685.25L238.8,685.25L239.2,685.25L239.6,685.25L240.0,685.25L240.4,685.25L240.8,685.25L241.2,684.88L241.6,685.18L242.0,685.25L242.4,684.38L242.8,684.43L243.2,684.50L243.6,685.25L244.0,684.45L244.4,685.25L244.8,684.68L245.2,684.51L245.6,684.62L246.0,684.82L246.4,685.25L246.8,684.92L247.2,685.25L247.6,685.25L248.0,684.85L248.4,684.89L248.8,684.59L249.2,684.54L249.6,685.25L250.0,684.66L250.4,685.18L250.8,684.88L251.2,685.25L251.6,685.00L252.0,684.67L252.4,684.50L252.8,683.76L253.2,685.07L253.6,684.52L254.0,685.09L254.4,684.28L254.8,684.58L255.2,684.57L255.6,684.66L256.0,684.91L256.4,684.89L256.8,685.12L257.2,685.25L257.6,685.25L258.0,685.25L258.4,685.25L258.8,685.25L259.2,685.25L259.6,685.25L260.0,685.25L260.4,685.18L260.8,685.25L261.2,685.25L261.6,685.09L262.0,685.25L262.4,685.22L262.8,685.21L263.2,685.25L263.6,685.25L264.0,685.04L264.4,685.22L264.8,685.25L265.2,685.25L265.6,685.25L266.0,685.23L266.4,685.25L266.8,685.25L267.2,685.25L267.6,685.25L268.0,685.25L268.4,685.25L268.8,685.13L269.2,685.25L269.6,685.25L270.0,685.00L270.4,685.24L270.8,685.08L271.2,685.09L271.6,685.25L272.0,684.43L272.4,684.79L272.8,684.25L273.2,685.25L273.6,684.27L274.0,684.42L274.4,684.38L274.8,685.06L275.2,684.28L275.6,684.68L276.0,685.11L276.4,685.16L276.8,685.25L277.2,685.00L277.6,684.63L278.0,684.81L278.4,685.04L278.8,685.25L279.2,685.25L279.6,684.84L280.0,685.25L280.4,684.68L280.8,685.25L281.2,685.13L281.6,684.96L282.0,685.25L282.4,685.08L282.8,684.75L283.2,684.81L283.6,684.97L284.0,685.11L284.4,685.25L284.8,684.84L285.2,683.90L285.6,684.87L286.0,684.04L286.4,684.75L286.8,684.91L287.2,685.13L287.6,685.25L288.0,685.22L288.4,684.71L288.8,684.08L289.2,684.16L289.6,685.25L290.0,684.37L290.4,684.79L290.8,684.39L291.2,684.89L291.6,684.66L292.0,685.10L292.4,684.99L292.8,685.16L293.2,684.67L293.6,685.25L294.0,684.80L294.4,685.02L294.8,684.67L295.2,685.03L295.6,685.25L296.0,684.92L296.4,684.98L296.8,685.25L297.2,685.25L297.6,685.23L298.0,685.25L298.4,685.25L298.8,685.25L299.2,685.25L299.6,685.25L300.0,685.25L300.4,685.25L300.8,685.25L301.2,685.25L301.6,685.25L302.0,685.25L302.4,685.11L302.8,685.25L303.2,685.25L303.6,685.25L304.0,685.22L304.4,685.08L304.8,684.91L305.2,684.36L305.6,685.25L306.0,684.99L306.4,685.03L306.8,684.29L307.2,685.25L307.6,685.25L308.0,684.47L308.4,684.78L308.8,684.89L309.2,684.87L309.6,685.25L310.0,685.25L310.4,685.25L310.8,685.10L311.2,685.25L311.6,685.13L312.0,684.91L312.4,685.02L312.8,685.25L313.2,684.40L313.6,685.25L314.0,685.16L314.4,685.25L314.8,685.03L315.2,684.97L315.6,685.21L316.0,685.25L316.4,685.25L316.8,685.25L317.2,685.25L317.6,685.25L318.0,685.08L318.4,685.00L318.8,685.25L319.2,685.14L319.6,685.05L320.0,685.16L320.4,685.09L320.8,685.00L321.2,685.25L321.6,685.21L322.0,685.01L322.4,685.23L322.8,685.25L323.2,685.25L323.6,685.25L324.0,685.25L324.4,685.25L324.8,685.25L325.2,684.50L325.6,674.89L325.8,671.36L326.0,669.65L326.2,671.60L326.4,674.62L326.8,684.46L327.2,685.18L327.6,684.93L328.0,685.14L328.4,684.68L328.8,684.93L329.2,684.39L329.6,684.50L330.0,684.71L330.4,685.04L330.8,685.21L331.2,684.39L331.6,684.46L332.0,685.25L332.4,685.23L332.8,685.25L333.2,685.25L333.6,685.25L334.0,685.25L334.4,685.25L334.8,685.25L335.2,684.77L335.2,684.65L335.5,684.52L335.6,684.52L335.8,684.66L336.0,685.24L336.4,685.25L336.8,685.25L337.2,684.60L337.6,684.58L338.0,685.08L338.4,685.06L338.8,685.25L339.2,685.15L339.6,685.25L340.0,685.21L340.4,685.25L340.8,685.25L341.2,685.25L341.6,685.25L342.0,685.25L342.4,685.25L342.8,685.25L343.2,684.74L343.6,685.25L344.0,684.46L344.4,684.41L344.8,684.56L345.2,684.14L345.6,684.25L346.0,684.72L346.4,685.08L346.8,684.84L347.2,685.07L347.6,685.25L348.0,685.25L348.4,685.25L348.8,685.25L349.2,685.25L349.6,685.25L350.0,685.25L350.4,685.25L350.8,685.11L351.2,683.59L351.6,682.39L352.0,682.01L352.4,682.32L352.8,676.01L353.1,668.21L353.2,666.33L353.3,666.51L353.6,668.19L353.6,669.51L354.0,682.26L354.4,684.89L354.8,684.07L355.2,684.70L355.6,684.89L356.0,684.36L356.4,684.79L356.8,685.11L357.2,684.58L357.6,685.10L358.0,684.98L358.4,685.18L358.8,684.83L359.2,685.25L359.6,685.25L360.0,685.14L360.4,685.25L360.8,685.25L361.2,685.25L361.6,685.25L362.0,685.25L362.4,685.25L362.8,685.25L363.2,685.25L363.6,685.25L364.0,685.25L364.4,685.25L364.8,685.25L365.2,685.25L365.6,684.94L366.0,685.04L366.4,685.25L366.8,684.96L367.2,685.03L367.6,685.25L368.0,684.55L368.4,685.17L368.8,684.33L369.2,685.11L369.6,684.19L370.0,685.25L370.4,685.25L370.8,685.00L371.2,684.92L371.6,685.01L372.0,685.25L372.4,685.25L372.8,685.25L373.2,685.25L373.6,685.25L374.0,685.25L374.4,685.25L374.8,685.25L375.2,684.85L375.6,685.12L376.0,684.40L376.4,685.25L376.8,684.70L377.2,684.78L377.6,685.25L378.0,685.25L378.4,685.25L378.8,685.16L379.2,685.25L379.6,685.25L380.0,685.25L380.4,685.25L380.8,685.25L381.2,685.25L381.6,685.11L382.0,685.25L382.4,685.25L382.8,685.25L383.2,685.25L383.6,685.25L384.0,685.25L384.4,685.25L384.8,685.25L385.2,685.22L385.6,685.15L385.6,686.0 Z" fill="#1b5e1b"/>
<text x="119.10" y="685.60" font-family="'Liberation Sans', sans-serif" font-size="7.95" text-anchor="end" fill="#1a1718" textLength="39.1" lengthAdjust="spacingAndGlyphs"  stroke="#1a1718" stroke-width="0.14">QPD CTCF</text>
<rect x="131.2" y="707.0" width="254.4" height="21.5" fill="#e0dfdb"/>
<path d="M131.2,729.0L131.2,728.25L131.7,728.25L132.2,728.21L132.7,728.25L133.2,728.25L133.7,728.25L134.2,727.87L134.7,728.20L135.2,728.11L135.7,728.24L136.2,727.62L136.7,727.45L137.2,728.25L137.7,728.05L138.2,728.25L138.7,727.73L139.2,727.57L139.7,728.25L140.2,727.83L140.7,728.24L141.2,728.09L141.7,727.97L142.2,728.18L142.7,727.93L143.2,728.25L143.7,728.13L144.2,728.25L144.7,728.24L145.2,728.25L145.7,728.25L146.2,728.25L146.7,728.03L147.2,728.21L147.7,728.20L148.2,727.72L148.7,728.25L149.2,728.18L149.7,728.23L150.2,728.25L150.7,728.25L151.2,728.25L151.7,728.25L152.2,728.25L152.7,728.25L153.2,728.25L153.7,728.25L154.2,727.65L154.7,723.64L155.2,721.24L155.7,722.31L156.2,724.48L156.7,724.36L157.2,724.09L157.7,723.55L158.2,723.47L158.7,725.51L159.2,726.53L159.7,726.10L160.2,723.02L160.7,723.05L161.2,725.39L161.7,728.14L162.2,728.25L162.7,728.25L163.2,727.98L163.7,728.25L164.2,728.21L164.7,728.25L165.2,728.20L165.7,728.25L166.2,728.25L166.7,728.25L167.2,728.25L167.7,728.25L168.2,728.25L168.7,728.25L169.2,728.25L169.7,728.25L170.2,728.25L170.7,728.25L171.2,728.25L171.7,728.25L172.2,728.25L172.7,728.25L173.2,728.25L173.7,728.20L174.2,728.14L174.7,728.25L175.2,728.25L175.7,728.25L176.2,728.25L176.7,728.15L177.2,728.25L177.7,728.25L178.2,728.02L178.7,728.04L179.2,728.01L179.7,728.25L180.2,728.25L180.7,728.25L181.2,727.74L181.7,728.25L182.2,728.25L182.7,728.08L183.2,728.21L183.7,727.79L184.2,728.20L184.7,728.25L185.2,728.11L185.7,728.03L186.2,728.25L186.7,728.25L187.2,728.25L187.7,728.25L188.2,728.25L188.7,728.15L189.2,728.25L189.7,727.94L190.2,728.25L190.7,728.25L191.2,728.25L191.7,727.97L192.2,728.25L192.7,727.97L193.2,728.25L193.7,727.92L194.2,727.85L194.7,728.25L195.2,728.25L195.7,728.25L196.2,728.25L196.7,728.25L197.2,728.25L197.7,728.25L198.2,728.25L198.7,728.25L199.2,728.25L199.7,728.25L200.2,728.25L200.7,728.25L201.2,728.25L201.7,728.25L202.2,728.25L202.7,728.25L203.2,728.25L203.7,728.25L204.2,728.25L204.7,728.25L205.2,728.25L205.7,728.25L206.2,728.25L206.7,728.10L207.2,728.25L207.7,728.25L208.2,728.25L208.7,728.05L209.2,728.25L209.7,728.25L210.2,728.25L210.7,728.25L211.2,728.25L211.7,728.25L212.2,728.25L212.7,728.25L213.2,728.25L213.7,728.25L214.2,728.25L214.7,728.25L215.2,728.25L215.7,728.25L216.2,728.25L216.7,728.25L217.2,728.21L217.7,728.25L218.2,728.19L218.7,728.25L219.2,728.25L219.7,728.25L220.2,728.25L220.7,728.25L221.2,728.25L221.7,728.25L222.2,728.25L222.7,728.25L223.2,728.25L223.7,728.13L224.2,728.20L224.7,727.88L225.2,727.95L225.7,727.76L226.2,727.84L226.7,728.06L227.2,728.21L227.7,728.25L228.2,728.25L228.7,728.25L229.2,728.25L229.7,728.25L230.2,728.25L230.7,728.25L231.2,728.25L231.7,728.25L232.2,728.25L232.7,728.25L233.2,728.12L233.7,728.25L234.2,728.25L234.7,728.25L235.2,728.25L235.7,728.25L236.2,728.25L236.7,728.25L237.2,728.25L237.7,728.25L238.2,727.87L238.7,727.83L239.2,727.76L239.7,727.58L240.2,728.06L240.7,727.85L241.2,728.23L241.7,728.25L242.2,728.25L242.7,728.25L243.2,728.25L243.7,728.25L244.2,728.25L244.7,728.25L245.2,728.25L245.7,728.14L246.2,727.97L246.7,728.07L247.2,728.17L247.7,727.92L248.2,728.25L248.7,728.25L249.2,728.25L249.7,728.25L250.2,728.25L250.7,728.25L251.2,728.25L251.7,728.25L252.2,728.25L252.7,728.25L253.2,728.25L253.7,728.25L254.2,728.25L254.7,728.25L255.2,728.25L255.7,728.25L256.2,728.25L256.7,728.25L257.2,728.25L257.7,728.25L258.2,728.25L258.7,728.25L259.2,728.25L259.7,728.25L260.2,728.25L260.7,728.25L261.2,728.25L261.7,728.25L262.2,728.25L262.7,728.00L263.2,728.14L263.7,728.25L264.2,727.82L264.7,727.90L265.2,727.88L265.7,728.06L266.2,728.07L266.7,727.58L267.2,728.11L267.7,728.05L268.2,727.41L268.7,727.64L269.2,728.25L269.7,727.65L270.2,728.02L270.7,727.78L271.2,728.00L271.7,728.25L272.2,728.25L272.7,728.16L273.2,727.85L273.7,728.25L274.2,728.25L274.7,728.16L275.2,728.25L275.7,728.25L276.2,728.25L276.7,728.25L277.2,728.25L277.7,728.25L278.2,728.25L278.7,728.25L279.2,728.11L279.7,727.06L280.2,725.84L280.7,725.08L281.2,725.39L281.7,725.75L282.2,724.61L282.7,723.03L283.2,723.13L283.7,725.18L284.2,726.68L284.7,725.41L285.2,725.41L285.7,726.22L286.2,728.19L286.7,726.66L287.2,725.21L287.7,725.12L288.2,726.28L288.7,728.16L289.2,728.25L289.7,728.25L290.2,728.02L290.7,728.11L291.2,728.25L291.7,728.15L292.2,727.81L292.7,728.25L293.2,727.79L293.7,728.25L294.2,728.25L294.7,728.25L295.2,728.25L295.7,728.25L296.2,728.25L296.7,728.25L297.2,728.25L297.7,728.25L298.2,728.25L298.7,728.25L299.2,728.25L299.7,728.25L300.2,728.25L300.7,728.25L301.2,728.25L301.7,728.25L302.2,728.25L302.7,728.25L303.2,728.25L303.7,728.25L304.2,728.25L304.7,728.25L305.2,728.25L305.7,728.25L306.2,728.25L306.7,728.25L307.2,728.25L307.7,728.25L308.2,728.25L308.7,728.25L309.2,728.25L309.7,728.25L310.2,728.25L310.7,728.25L311.2,728.25L311.7,728.25L312.2,728.25L312.7,728.25L313.2,728.25L313.7,728.25L314.2,728.25L314.7,728.25L315.2,728.25L315.7,728.25L316.2,728.25L316.7,728.25L317.2,728.25L317.7,728.18L318.2,728.25L318.7,728.25L319.2,728.11L319.7,728.05L320.2,728.25L320.7,728.25L321.2,728.02L321.7,727.92L322.2,728.21L322.7,728.14L323.2,728.25L323.7,728.25L324.2,728.12L324.7,728.25L325.2,728.25L325.7,728.25L326.2,728.25L326.7,728.05L327.2,728.03L327.7,728.25L328.2,728.25L328.7,728.25L329.2,728.25L329.7,728.25L330.2,728.25L330.7,728.25L331.2,728.25L331.7,728.25L332.2,728.25L332.7,728.25L333.2,728.25L333.7,728.25L334.2,728.25L334.7,728.25L335.2,728.25L335.7,728.25L336.2,728.25L336.7,728.25L337.2,728.25L337.7,728.17L338.2,728.23L338.7,728.25L339.2,728.25L339.7,728.25L340.2,728.25L340.7,728.25L341.2,728.25L341.7,728.03L342.2,728.25L342.7,728.23L343.2,728.25L343.7,728.25L344.2,728.25L344.7,728.25L345.2,728.25L345.7,728.25L346.2,728.25L346.7,728.25L347.2,728.21L347.7,728.25L348.2,728.25L348.7,728.25L349.2,728.15L349.7,728.25L350.2,728.25L350.7,728.25L351.2,728.25L351.7,728.25L352.2,728.25L352.7,728.25L353.2,728.25L353.7,728.25L354.2,728.11L354.7,728.25L355.2,727.97L355.7,728.25L356.2,728.10L356.7,728.25L357.2,728.25L357.7,728.25L358.2,728.25L358.7,728.25L359.2,728.25L359.7,728.25L360.2,728.25L360.7,728.25L361.2,728.25L361.7,728.25L362.2,728.25L362.7,728.25L363.2,728.25L363.7,728.25L364.2,728.25L364.7,728.25L365.2,728.25L365.7,728.25L366.2,728.25L366.7,728.25L367.2,728.25L367.7,728.25L368.2,728.25L368.7,728.25L369.2,728.21L369.7,727.94L370.2,728.06L370.7,727.91L371.2,728.25L371.7,728.25L372.2,728.25L372.7,728.25L373.2,728.25L373.7,728.25L374.2,728.25L374.7,728.25L375.2,728.25L375.7,728.25L376.2,728.25L376.7,728.25L377.2,728.25L377.7,728.25L378.2,728.25L378.4,728.13L378.7,728.09L378.9,727.87L379.2,728.25L379.7,727.64L380.2,728.25L380.7,728.25L381.2,728.04L381.7,728.11L382.2,728.25L382.7,728.25L383.2,728.25L383.7,728.25L384.2,728.25L384.7,728.25L385.2,728.25L385.6,729.0 Z" fill="#f01414"/>
<text x="119.10" y="719.50" font-family="'Liberation Sans', sans-serif" font-size="7.95" text-anchor="end" fill="#1a1718" textLength="57.0" lengthAdjust="spacingAndGlyphs"  stroke="#1a1718" stroke-width="0.14">QPD H3K36me3</text>
<path d="M131.2,752.0L131.2,751.25L131.7,751.25L132.2,751.19L132.7,751.25L133.2,751.25L133.7,751.25L134.2,751.25L134.7,751.25L135.2,751.25L135.7,751.25L136.2,751.14L136.7,751.07L137.2,751.19L137.7,751.25L138.2,751.08L138.7,751.25L139.2,751.03L139.7,751.13L140.2,751.25L140.7,750.79L141.2,751.25L141.7,751.25L142.2,751.25L142.7,751.12L143.2,751.25L143.7,751.05L144.2,751.19L144.7,751.25L145.2,750.90L145.7,750.87L146.2,747.57L146.7,744.93L147.2,744.15L147.7,746.70L148.2,750.32L148.7,751.25L149.2,751.25L149.7,749.82L150.2,743.55L150.7,739.76L151.2,738.29L151.7,742.82L152.2,740.69L152.7,741.26L153.2,743.62L153.7,749.33L154.2,751.24L154.7,751.25L155.2,751.25L155.7,751.25L156.2,751.25L156.7,751.25L157.2,751.25L157.7,751.25L158.2,751.25L158.7,750.93L159.2,748.04L159.7,745.80L160.2,745.74L160.7,747.35L161.2,750.51L161.7,751.25L162.2,751.25L162.7,751.25L163.2,751.25L163.7,751.25L164.2,751.25L164.7,751.25L165.2,751.21L165.7,749.74L165.8,749.65L166.0,749.53L166.2,749.77L166.2,749.80L166.7,750.89L167.2,751.25L167.7,751.25L168.2,751.25L168.7,751.25L169.2,751.09L169.7,751.25L170.2,751.25L170.7,751.25L171.2,751.25L171.7,751.25L172.2,751.25L172.7,751.25L173.2,751.25L173.7,751.25L174.2,751.25L174.7,751.25L175.2,750.76L175.7,748.38L175.8,748.55L176.0,748.22L176.2,748.13L176.2,748.35L176.7,750.19L177.2,751.25L177.7,751.25L178.2,751.25L178.7,751.25L179.2,751.25L179.7,750.95L180.2,751.08L180.7,751.25L181.2,751.25L181.7,751.25L182.2,751.25L182.7,751.25L183.2,751.25L183.7,751.25L184.2,751.23L184.7,750.88L185.2,746.77L185.7,741.30L186.2,740.33L186.7,740.41L187.2,744.80L187.7,749.75L188.2,751.25L188.7,751.25L189.2,751.19L189.7,751.25L190.2,751.03L190.7,751.15L191.2,750.76L191.7,750.69L192.2,750.76L192.7,750.70L193.2,751.25L193.7,750.96L194.2,750.86L194.7,750.95L195.2,751.25L195.7,751.17L196.2,751.25L196.7,751.25L197.2,751.25L197.7,751.25L198.2,750.76L198.7,748.65L198.8,748.49L199.0,748.29L199.2,748.33L199.2,748.38L199.7,750.26L200.2,751.25L200.7,751.25L201.2,751.25L201.7,751.25L202.2,751.25L202.7,751.25L203.2,751.25L203.7,751.25L204.2,751.25L204.7,751.25L205.2,751.25L205.7,751.25L206.2,751.25L206.7,751.25L207.2,751.25L207.7,751.25L208.2,751.25L208.7,751.25L209.2,751.25L209.7,751.25L210.2,751.25L210.7,751.25L211.2,750.98L211.7,751.10L212.2,751.25L212.7,750.84L213.2,751.25L213.7,751.14L214.2,750.92L214.7,751.25L215.2,751.25L215.7,751.25L216.2,751.14L216.7,750.89L217.2,751.25L217.7,751.01L218.2,751.25L218.7,751.25L219.2,751.25L219.7,750.89L220.2,747.88L220.3,747.59L220.6,747.14L220.7,747.25L220.8,747.70L221.2,749.07L221.7,751.19L222.2,751.25L222.7,751.25L223.2,751.25L223.7,751.25L224.2,751.17L224.7,749.19L224.9,748.23L225.2,748.24L225.4,748.44L225.7,749.28L226.2,751.23L226.7,751.25L227.2,751.25L227.7,750.08L228.2,742.27L228.4,739.19L228.7,737.72L228.9,738.84L229.2,741.70L229.7,746.58L230.2,746.06L230.7,747.43L231.2,749.42L231.7,751.25L232.2,751.25L232.7,751.25L233.2,751.25L233.7,751.25L234.2,751.25L234.7,751.25L235.2,751.25L235.7,751.25L236.2,751.25L236.7,751.25L237.2,751.25L237.7,751.25L238.2,751.25L238.7,751.25L239.2,751.25L239.7,751.25L240.2,751.25L240.7,751.25L241.2,751.25L241.7,751.25L242.2,751.25L242.7,751.25L243.2,751.25L243.7,751.25L244.2,751.25L244.7,751.25L245.2,751.21L245.7,749.83L245.8,749.84L246.0,749.71L246.2,749.74L246.2,749.85L246.7,750.84L247.2,751.25L247.7,751.25L248.2,751.02L248.7,751.05L249.2,750.83L249.7,750.72L250.2,750.76L250.7,751.25L251.2,751.25L251.7,751.25L252.2,751.25L252.7,751.25L253.2,751.25L253.7,751.25L254.2,751.25L254.7,751.25L255.2,751.25L255.7,751.25L256.2,751.25L256.7,751.25L257.2,751.25L257.7,751.19L258.2,751.25L258.7,751.25L259.2,751.25L259.7,751.25L260.2,751.25L260.7,751.25L261.2,751.25L261.7,751.25L262.2,751.25L262.7,751.25L263.2,751.25L263.7,751.25L264.2,751.25L264.7,751.25L265.2,751.25L265.7,751.25L266.2,751.25L266.7,751.25L267.2,751.25L267.7,751.25L268.2,751.25L268.7,751.25L269.2,751.25L269.7,751.25L270.2,751.25L270.7,750.86L271.2,750.96L271.7,750.84L272.2,751.03L272.7,750.96L273.2,749.04L273.7,745.26L274.2,744.70L274.7,745.22L275.2,749.11L275.7,751.25L276.2,751.25L276.7,751.22L277.2,748.21L277.7,743.08L278.2,740.22L278.7,741.47L279.2,743.84L279.7,748.96L280.2,751.22L280.7,751.25L281.2,751.25L281.7,751.25L282.2,751.25L282.7,751.25L283.2,751.25L283.7,751.25L284.2,751.25L284.7,751.25L285.2,750.92L285.7,750.99L286.2,748.16L286.7,745.38L287.2,745.68L287.7,747.30L288.2,750.51L288.7,750.99L289.2,751.25L289.7,751.25L290.2,751.25L290.7,751.25L291.2,751.25L291.7,751.25L292.2,751.25L292.7,751.25L293.2,751.24L293.7,751.02L294.2,751.15L294.7,750.98L295.2,751.25L295.7,751.17L296.2,751.25L296.7,751.10L297.2,751.25L297.7,751.21L298.2,751.25L298.7,750.97L299.2,751.12L299.7,751.25L300.2,751.24L300.7,751.25L301.2,751.25L301.7,751.25L302.2,750.07L302.4,749.78L302.6,749.74L302.7,749.57L302.9,749.76L303.2,750.57L303.7,751.25L304.2,751.25L304.7,751.25L305.2,751.25L305.7,751.25L306.2,751.23L306.7,751.25L307.2,751.25L307.7,751.25L308.2,751.25L308.7,751.25L309.2,751.19L309.7,751.25L310.2,751.25L310.7,751.25L311.2,750.01L311.7,747.45L312.2,746.68L312.7,746.23L313.2,747.20L313.7,749.44L314.2,751.25L314.7,751.25L315.2,751.25L315.7,751.25L316.2,751.25L316.7,751.25L317.2,751.25L317.7,751.25L318.2,751.25L318.7,751.25L319.2,751.25L319.7,751.25L320.2,751.25L320.7,751.25L321.2,751.25L321.7,751.25L322.2,751.25L322.7,751.25L323.2,751.25L323.7,751.25L324.2,751.25L324.7,751.25L325.2,750.47L325.7,747.40L325.8,747.24L326.0,747.10L326.2,747.58L326.2,747.67L326.7,749.70L327.2,751.25L327.7,751.25L328.2,751.25L328.7,751.25L329.2,751.25L329.7,751.25L330.2,751.25L330.7,751.25L331.2,751.25L331.7,751.25L332.2,751.25L332.7,751.25L333.2,751.25L333.7,751.25L334.2,751.11L334.7,751.25L335.2,751.25L335.7,751.25L336.2,751.25L336.7,751.25L337.2,751.25L337.7,751.25L338.2,751.25L338.7,751.25L339.2,751.25L339.7,751.25L340.2,751.25L340.7,751.25L341.2,751.25L341.7,751.25L342.2,751.22L342.7,751.25L343.2,751.25L343.7,751.25L344.2,751.25L344.7,751.25L345.2,751.25L345.7,751.25L346.2,749.70L346.7,748.46L347.2,748.41L347.7,749.31L348.2,751.12L348.7,751.25L349.2,751.25L349.7,751.25L350.2,751.25L350.7,750.67L351.2,747.83L351.7,745.87L352.2,746.27L352.7,748.19L353.2,751.07L353.7,751.22L354.2,751.25L354.7,748.21L355.1,735.04L355.2,733.47L355.4,733.20L355.6,734.29L355.7,736.48L356.2,750.19L356.7,749.30L357.2,749.08L357.7,750.02L358.2,751.25L358.7,751.25L359.2,751.25L359.7,751.25L360.2,751.25L360.7,751.25L361.2,751.25L361.7,751.25L362.2,751.25L362.7,751.25L363.2,751.25L363.7,751.25L364.2,751.25L364.7,751.25L365.2,751.25L365.7,751.25L366.2,751.25L366.7,751.25L367.2,751.25L367.7,751.25L368.2,751.25L368.7,751.25L369.2,751.25L369.7,751.18L370.2,751.25L370.7,751.25L371.2,751.25L371.7,751.25L372.2,751.19L372.7,751.07L373.2,751.21L373.7,751.25L374.2,751.25L374.7,751.25L375.2,751.25L375.7,751.15L376.2,751.25L376.7,751.25L377.2,751.25L377.7,751.25L378.2,751.15L378.7,751.18L379.2,751.24L379.7,751.25L380.2,751.25L380.7,751.25L381.2,751.25L381.7,751.25L382.2,751.25L382.7,751.25L383.2,751.25L383.7,751.25L384.2,751.25L384.7,751.25L385.2,751.25L385.6,752.0 Z" fill="#f9a41c"/>
<text x="119.10" y="742.70" font-family="'Liberation Sans', sans-serif" font-size="7.95" text-anchor="end" fill="#1a1718" textLength="52.7" lengthAdjust="spacingAndGlyphs"  stroke="#1a1718" stroke-width="0.14">QPD H3K4me2</text>
<rect x="131.2" y="754.0" width="254.4" height="21.6" fill="#e0dfdb"/>
<path d="M131.2,776.0L131.2,775.25L131.7,775.25L132.2,775.25L132.7,775.25L133.2,775.25L133.7,775.25L134.2,775.25L134.7,775.25L135.2,775.25L135.7,775.25L136.2,775.25L136.7,775.25L137.2,775.25L137.7,775.25L138.2,775.25L138.7,775.25L139.2,775.14L139.7,775.25L140.2,775.25L140.7,775.25L141.2,775.25L141.7,775.25L142.2,775.25L142.7,775.25L143.2,775.25L143.7,775.25L144.2,775.25L144.7,775.25L145.2,775.25L145.7,775.18L146.2,775.25L146.7,775.25L147.2,775.25L147.7,775.09L148.2,775.09L148.7,775.25L149.2,775.25L149.7,775.25L150.2,775.25L150.7,775.25L151.2,775.25L151.7,775.25L152.2,775.25L152.7,775.25L153.2,775.25L153.7,775.25L154.2,775.25L154.7,775.25L155.2,775.25L155.7,775.25L156.2,775.25L156.7,775.25L157.2,775.25L157.7,775.25L158.2,775.25L158.7,775.25L159.2,775.25L159.7,775.12L160.2,774.62L160.7,774.58L161.2,775.00L161.7,775.25L162.2,775.25L162.7,775.25L163.2,775.25L163.7,775.25L164.2,775.25L164.7,775.25L165.2,775.25L165.7,775.25L166.2,775.25L166.7,775.25L167.2,775.25L167.7,775.25L168.2,775.25L168.7,775.25L169.2,775.02L169.7,775.20L170.2,775.25L170.7,775.25L171.2,775.25L171.7,775.25L172.2,775.25L172.7,775.19L173.2,775.25L173.7,775.25L174.2,775.25L174.7,775.03L175.2,774.81L175.7,773.31L175.8,772.96L176.1,772.74L176.2,772.66L176.3,772.72L176.7,774.05L177.2,774.70L177.7,775.19L178.2,775.25L178.7,775.25L179.2,775.25L179.7,775.09L180.2,775.25L180.7,775.25L181.2,775.24L181.7,775.25L182.2,775.25L182.7,775.25L183.2,775.25L183.7,774.23L184.2,773.35L184.7,773.22L185.2,774.09L185.7,772.46L186.2,769.12L186.7,769.52L187.2,771.84L187.7,775.17L188.2,775.25L188.7,775.25L189.2,775.25L189.7,775.25L190.2,775.25L190.7,775.25L191.2,775.23L191.7,775.25L192.2,775.25L192.7,775.25L193.2,775.25L193.7,775.25L194.2,775.25L194.7,775.25L195.2,775.25L195.7,775.25L196.2,775.25L196.7,775.25L197.2,775.25L197.7,775.25L198.2,775.25L198.7,775.25L199.2,775.25L199.7,775.25L200.2,775.25L200.7,775.25L201.2,775.25L201.7,775.25L202.2,775.25L202.7,775.25L203.2,775.25L203.7,775.25L204.2,775.25L204.7,775.25L205.2,775.25L205.7,775.25L206.2,775.25L206.7,775.25L207.2,775.25L207.7,775.23L208.2,775.25L208.7,775.25L209.2,775.25L209.7,775.25L210.2,775.12L210.7,775.25L211.2,775.06L211.7,775.04L212.2,774.96L212.7,775.23L213.2,774.85L213.7,775.25L214.2,774.74L214.7,775.09L215.2,774.45L215.7,775.25L216.2,774.64L216.7,774.91L217.2,775.25L217.7,775.14L218.2,775.25L218.7,775.25L219.2,775.25L219.7,775.25L220.2,775.25L220.7,775.25L221.2,775.25L221.7,775.25L222.2,775.25L222.7,775.25L223.2,775.25L223.7,775.25L224.2,775.25L224.7,774.35L225.2,774.05L225.7,774.36L226.2,775.25L226.7,775.25L227.2,775.25L227.7,775.25L228.2,774.48L228.7,772.54L229.2,772.32L229.7,772.54L230.2,774.42L230.7,775.25L231.2,775.16L231.7,775.14L232.2,775.25L232.7,775.25L233.2,775.25L233.7,775.25L234.2,775.25L234.7,774.93L235.2,774.91L235.7,775.19L236.2,775.25L236.7,774.97L237.2,775.10L237.7,775.21L238.2,775.25L238.7,775.25L239.2,775.25L239.7,775.25L240.2,775.25L240.7,775.25L241.2,775.25L241.7,775.25L242.2,775.10L242.7,774.91L243.2,774.79L243.7,774.97L244.2,775.25L244.7,775.16L245.2,775.25L245.7,775.25L246.2,775.25L246.7,775.25L247.2,775.25L247.7,775.25L248.2,775.25L248.7,775.25L249.2,775.25L249.7,775.25L250.2,775.25L250.7,775.25L251.2,775.25L251.7,775.25L252.2,775.25L252.7,775.25L253.2,775.25L253.7,775.25L254.2,775.25L254.7,775.25L255.2,775.25L255.7,775.25L256.2,775.25L256.7,775.25L257.2,775.25L257.7,775.25L258.2,775.25L258.7,775.25L259.2,775.25L259.7,775.25L260.2,775.25L260.7,775.25L261.2,775.25L261.7,775.25L262.2,775.25L262.7,775.25L263.2,775.25L263.7,775.25L264.2,775.25L264.7,775.25L265.2,775.25L265.7,775.25L266.2,775.25L266.7,775.25L267.2,775.25L267.7,775.25L268.2,775.25L268.7,775.25L269.2,775.25L269.7,775.25L270.2,775.25L270.7,775.16L271.2,775.25L271.7,775.25L272.2,775.25L272.7,775.25L273.2,775.25L273.7,775.25L274.2,775.25L274.7,775.25L275.2,775.10L275.7,775.12L276.2,775.25L276.7,775.25L277.2,775.25L277.7,775.25L278.2,775.25L278.7,775.25L279.2,775.25L279.7,775.25L280.2,775.25L280.7,775.25L281.2,775.25L281.7,775.25L282.2,775.25L282.7,775.25L283.2,775.25L283.7,775.25L284.2,775.25L284.7,775.25L285.2,775.17L285.7,775.25L286.2,775.25L286.7,775.25L287.2,775.25L287.7,775.25L288.2,775.04L288.7,775.11L289.2,775.25L289.7,775.25L290.2,775.25L290.7,775.21L291.2,775.25L291.7,775.18L292.2,775.18L292.7,775.25L293.2,775.25L293.7,775.25L294.2,775.25L294.7,775.25L295.2,775.25L295.7,775.25L296.2,775.25L296.7,775.25L297.2,775.25L297.7,775.25L298.2,775.05L298.7,775.25L299.2,774.68L299.7,774.95L300.2,775.17L300.7,775.02L301.2,775.25L301.7,775.25L302.2,775.12L302.7,774.69L303.2,774.63L303.7,774.95L304.2,775.25L304.7,774.91L305.2,774.94L305.7,775.00L306.2,774.88L306.7,775.25L307.2,774.92L307.7,775.18L308.2,775.24L308.7,775.25L309.2,774.70L309.7,775.25L310.2,775.25L310.7,775.25L311.2,774.92L311.7,773.75L312.2,773.12L312.7,773.09L313.2,773.57L313.7,774.70L314.2,775.16L314.7,775.25L315.2,775.25L315.7,775.25L316.2,775.25L316.7,775.25L317.2,775.25L317.7,775.25L318.2,775.25L318.7,775.25L319.2,775.10L319.7,775.25L320.2,775.09L320.7,775.25L321.2,775.12L321.7,775.16L322.2,775.25L322.7,775.25L323.2,775.22L323.7,775.25L324.2,775.17L324.7,775.01L325.2,775.25L325.7,775.11L326.2,774.94L326.7,774.71L327.2,774.70L327.7,775.25L328.2,775.25L328.7,775.25L329.2,774.94L329.7,774.98L330.2,775.25L330.7,775.25L331.2,775.25L331.7,775.25L332.2,775.25L332.7,775.25L333.2,775.25L333.7,775.25L334.2,775.25L334.7,775.25L335.2,775.25L335.7,775.25L336.2,775.25L336.7,775.18L337.2,775.25L337.7,775.25L338.2,775.25L338.7,774.65L339.2,774.51L339.7,775.25L340.2,775.00L340.7,775.25L341.2,774.44L341.7,775.25L342.2,774.92L342.7,775.03L343.2,775.25L343.7,775.25L344.2,775.25L344.7,775.25L345.2,775.25L345.7,775.25L346.2,775.25L346.7,775.25L347.2,775.25L347.7,775.25L348.2,775.25L348.7,775.25L349.2,775.25L349.7,775.25L350.2,775.25L350.7,775.25L351.2,775.25L351.7,775.14L352.2,773.72L352.7,773.29L353.2,773.37L353.7,774.60L354.2,775.25L354.7,774.13L355.2,771.82L355.7,771.15L356.2,772.04L356.7,774.14L357.2,775.25L357.7,775.25L358.2,775.25L358.7,775.25L359.2,775.25L359.7,775.25L360.2,775.25L360.7,775.25L361.2,775.25L361.7,775.24L362.2,775.24L362.7,775.21L363.2,775.21L363.7,775.20L364.2,775.25L364.7,775.25L365.2,775.25L365.7,775.25L366.2,775.24L366.7,775.25L367.2,775.16L367.7,774.90L368.2,774.98L368.7,775.08L369.2,775.25L369.7,775.02L370.2,775.25L370.7,775.25L371.2,775.25L371.7,775.25L372.2,775.25L372.7,775.25L373.2,775.25L373.7,775.25L374.2,775.25L374.7,775.25L375.2,775.25L375.7,775.25L376.2,775.25L376.7,775.25L377.2,775.25L377.7,775.25L378.2,775.25L378.7,775.25L379.2,775.25L379.7,775.25L380.2,775.25L380.7,775.25L381.2,775.10L381.7,775.19L382.2,775.25L382.7,775.25L383.2,774.93L383.7,775.22L384.2,774.95L384.7,775.25L385.2,775.25L385.6,776.0 Z" fill="#1e1a8c"/>
<text x="119.10" y="765.70" font-family="'Liberation Sans', sans-serif" font-size="7.95" text-anchor="end" fill="#1a1718" textLength="50.2" lengthAdjust="spacingAndGlyphs"  stroke="#1a1718" stroke-width="0.14">QPD H3K27ac</text>
<text x="221.30" y="785.60" font-family="'Liberation Sans', sans-serif" font-size="7.70" text-anchor="start" fill="#1a1718" textLength="78.3" lengthAdjust="spacingAndGlyphs"  stroke="#1a1718" stroke-width="0.06">duplication breakpoint</text>
<line x1="37.3" y1="570.5" x2="37.3" y2="685.7" stroke="#000" stroke-width="1.3"/>
<line x1="37.3" y1="703" x2="37.3" y2="777.6" stroke="#000" stroke-width="1.3"/>
<text transform="translate(32.10,628.40) rotate(-90)" x="0" y="0" font-family="'Liberation Sans', sans-serif" font-size="11.00" text-anchor="middle" fill="#1a1718" stroke="#1a1718" stroke-width="0.12" textLength="57.1" lengthAdjust="spacingAndGlyphs">Megakaryocytes</text>
<text transform="translate(31.90,740.20) rotate(-90)" x="0" y="0" font-family="'Liberation Sans', sans-serif" font-size="11.00" text-anchor="middle" fill="#1a1718" stroke="#1a1718" stroke-width="0.12" textLength="46.5" lengthAdjust="spacingAndGlyphs">Granulocytes</text>
<path d="M234.80,655.80 Q240.00,648.30 242.50,641.50 Q242.80,644.70 243.80,646.10 Q245.90,647.80 249.30,648.00 Q241.80,653.00 234.80,655.80 Z" fill="#ff0000"/>
<path d="M363.70,655.00 Q368.90,647.50 371.40,640.70 Q371.70,643.90 372.70,645.30 Q374.80,647.00 378.20,647.20 Q370.70,652.20 363.70,655.00 Z" fill="#ff0000"/>
<line x1="258.4" y1="554" x2="258.4" y2="775.6" stroke="#6a6666" stroke-width="1.0" stroke-dasharray="3.0 3.2"/>
<rect x="0" y="0" width="520" height="1.4" fill="#000"/>
<rect x="0" y="0" width="1.4" height="796" fill="#000"/>
<rect x="518.4" y="0" width="1.6" height="796" fill="#000"/>
<rect x="0" y="794.4" width="520" height="1.6" fill="#000"/>
</svg></body></html>
